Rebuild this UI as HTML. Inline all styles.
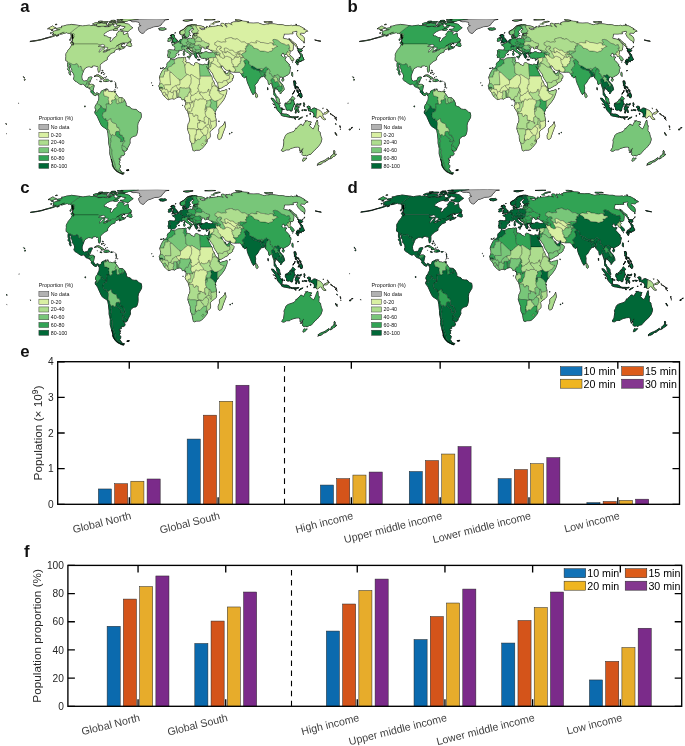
<!DOCTYPE html>
<html><head><meta charset="utf-8"><title>Figure</title>
<style>
html,body{margin:0;padding:0;background:#fff;}
svg{display:block;font-family:"Liberation Sans",sans-serif;}
</style></head><body>
<svg width="685" height="746" viewBox="0 0 685 746">
<rect width="685" height="746" fill="#fff"/>
<clipPath id="mclip"><rect x="-20" y="18.9" width="400" height="200"/></clipPath>
<g transform="translate(0,0)" clip-path="url(#mclip)" stroke="#000" stroke-width="0.26" stroke-linejoin="round">
<path d="M295.6,24.3 296.2,24.3 297.0,24.7 295.9,24.6ZM159.5,77.9 159.7,76.5 160.6,74.2 162.3,70.8 163.7,69.1 165.2,68.3 166.4,67.0 167.0,65.7 166.9,64.3 167.4,63.1 168.2,62.1 169.8,61.2 170.6,59.1 171.1,58.9 171.9,59.8 173.3,59.7 174.0,59.9 176.0,58.9 177.2,58.2 178.7,57.9 180.8,57.9 182.6,57.5 183.8,57.7 184.8,57.3 185.9,57.6 185.5,58.3 185.6,59.4 186.1,60.5 185.3,61.0 185.2,61.5 186.6,62.3 188.2,62.6 190.1,63.3 190.6,64.4 192.3,65.1 193.7,65.8 194.6,64.9 194.6,63.3 195.9,62.6 197.3,63.0 199.3,64.1 201.4,64.6 203.0,65.1 204.2,64.3 205.0,64.2 206.0,64.6 207.8,64.6 208.2,63.7 208.3,62.3 208.9,60.4 208.6,58.9 208.7,58.1 208.1,58.1 207.2,57.9 206.4,58.7 203.6,57.9 203.5,58.5 202.2,58.1 201.3,58.0 200.6,57.6 200.4,56.0 199.6,56.1 199.9,55.3 199.2,54.7 199.2,54.1 200.3,53.6 201.6,53.6 201.7,52.7 203.5,52.8 205.1,51.8 206.6,51.7 208.1,52.6 209.9,52.9 211.6,52.8 212.5,52.3 212.5,51.8 212.1,51.0 208.9,49.1 207.7,48.5 207.5,48.1 208.0,48.0 208.3,47.3 208.4,46.6 209.1,46.1 208.3,46.0 205.7,47.1 207.2,48.1 204.8,49.0 203.8,48.0 204.5,47.3 202.1,46.7 201.4,48.1 200.7,49.8 200.5,51.8 201.5,52.6 201.5,52.9 200.2,53.0 199.6,53.6 198.9,53.3 197.5,53.0 197.2,53.7 196.3,53.6 196.0,54.1 196.8,55.0 196.4,55.5 197.5,56.2 196.8,56.6 196.9,57.3 196.6,58.2 196.3,58.2 195.6,57.9 195.0,56.7 194.9,56.0 194.5,55.3 194.0,54.4 193.2,53.7 193.0,51.9 192.1,51.2 189.9,50.1 189.1,49.3 188.8,48.3 188.2,48.2 187.9,48.6 187.5,48.0 187.7,47.7 186.5,48.1 186.7,49.2 187.8,50.1 188.8,51.6 190.0,51.9 190.0,52.4 191.8,53.3 192.4,53.7 192.3,54.2 191.0,53.5 190.7,54.4 191.2,55.3 190.8,56.0 190.0,56.4 190.3,55.5 189.9,54.1 188.7,53.4 188.1,52.7 186.7,52.0 185.1,50.8 184.8,49.6 183.6,49.1 181.4,50.5 179.9,50.2 178.6,50.4 178.8,51.3 178.8,51.9 177.9,52.6 176.4,53.5 175.7,54.8 176.2,55.5 175.6,56.2 175.3,56.9 174.2,57.9 172.0,58.0 171.1,58.7 169.3,57.4 168.0,57.6 168.1,56.0 167.5,55.6 168.1,53.9 168.3,51.9 167.9,50.6 169.1,49.8 171.0,49.9 172.7,50.1 174.4,50.2 175.0,48.8 175.0,47.1 173.9,45.9 172.4,45.3 172.1,44.7 173.5,44.3 174.7,44.4 174.4,43.3 175.0,43.6 176.2,43.3 177.2,42.9 177.3,42.2 178.8,41.5 179.2,40.9 179.8,39.9 180.8,39.5 181.7,39.4 183.1,39.0 182.8,38.0 182.5,37.9 182.3,36.0 184.1,35.3 184.0,36.5 184.5,36.7 183.7,37.7 183.5,38.1 184.8,38.9 185.7,38.6 187.3,39.0 189.1,38.4 190.5,38.1 190.8,38.4 191.7,38.5 191.8,38.0 192.6,37.6 192.5,36.9 192.5,35.6 193.4,35.3 194.8,35.8 194.8,35.1 193.9,34.4 193.8,33.9 195.4,33.6 197.3,33.7 197.9,33.3 198.8,33.3 197.4,32.8 196.8,32.8 193.2,33.3 191.9,32.3 191.7,30.8 193.6,29.5 194.1,29.0 193.1,28.4 191.6,28.4 191.1,29.4 188.9,31.1 188.9,32.3 190.2,33.4 189.0,34.4 188.8,35.5 188.5,36.8 187.2,37.4 186.2,37.5 186.0,36.8 185.3,36.0 184.7,34.8 184.7,34.1 184.0,34.1 182.1,35.0 180.2,34.3 179.7,32.8 179.7,31.5 181.1,30.6 183.2,29.8 184.2,29.0 185.2,27.8 186.4,26.5 188.3,25.5 190.2,25.2 192.8,24.6 194.8,24.6 197.0,25.1 197.1,25.6 200.7,25.9 204.1,26.9 204.8,27.7 203.2,28.1 199.2,27.8 201.0,29.4 202.8,29.9 203.4,29.6 205.1,29.3 204.4,28.5 205.6,27.9 207.1,28.1 206.5,27.1 206.5,26.4 207.8,26.6 208.6,27.5 209.4,27.0 212.6,26.5 213.4,26.6 217.5,26.0 217.1,25.4 219.8,25.8 223.0,26.5 221.6,25.6 221.0,24.6 221.1,23.5 221.9,23.3 223.8,23.5 224.7,24.6 225.4,26.0 226.8,27.4 227.2,27.1 227.0,26.3 225.7,24.6 225.4,23.5 227.7,23.9 228.7,23.1 229.6,24.0 231.7,24.6 232.2,25.1 230.9,23.0 232.1,22.9 232.2,22.4 233.7,22.0 236.6,21.7 239.6,21.5 241.6,20.9 243.8,21.3 247.2,21.5 248.8,22.0 246.8,22.7 249.1,23.0 253.4,23.2 257.0,23.0 258.8,23.1 260.0,23.7 262.3,24.4 264.1,24.8 266.1,24.2 268.8,24.3 268.6,23.7 272.7,23.8 278.8,24.7 282.2,24.7 284.9,25.5 289.2,25.6 291.4,25.3 292.9,26.0 293.6,25.4 295.8,25.5 299.4,26.0 304.7,28.9 303.9,29.3 303.4,29.2 307.2,30.6 307.7,31.2 305.5,31.6 304.9,32.8 304.4,33.3 300.8,32.9 300.4,33.4 300.2,34.1 300.4,35.1 301.5,35.2 303.6,36.8 304.2,38.1 304.5,39.7 304.4,40.9 304.2,41.9 301.1,39.9 298.9,37.9 297.4,36.0 296.8,34.6 296.5,33.2 297.1,32.5 297.2,31.8 296.8,31.1 294.5,31.6 292.3,31.9 293.0,33.7 290.3,33.7 288.6,33.9 286.0,33.9 284.2,33.9 283.7,36.0 283.1,38.2 285.6,38.9 286.6,39.1 288.6,39.7 289.7,40.3 290.9,41.9 293.3,44.6 293.4,46.2 292.9,50.1 291.7,50.9 290.6,50.4 289.7,52.1 290.3,53.0 289.1,54.3 290.8,55.7 292.5,57.4 293.2,58.2 293.8,59.8 293.5,60.3 291.5,60.6 291.0,59.3 290.0,58.0 290.2,57.6 289.3,56.7 287.8,56.3 287.8,55.7 287.4,54.7 286.3,54.1 285.3,54.6 284.4,55.4 284.0,53.5 282.6,53.0 282.0,54.3 281.1,55.0 281.2,55.7 282.7,56.6 283.5,57.4 284.5,56.7 286.4,57.3 285.4,58.1 284.8,60.0 286.2,61.0 287.7,63.0 289.1,64.1 289.5,65.1 288.6,65.8 290.2,66.4 290.6,68.3 290.0,69.3 289.9,71.2 289.5,72.9 288.9,73.8 288.1,74.7 282.9,77.4 283.0,78.6 282.0,77.0 280.8,76.7 280.4,76.9 279.4,78.4 279.0,80.3 279.9,81.6 280.9,82.9 282.3,84.1 283.3,86.2 284.0,88.2 284.1,89.8 282.9,91.0 282.0,91.6 280.8,93.5 280.3,94.0 280.1,92.4 279.6,91.6 278.7,91.4 278.6,90.7 278.0,90.4 277.9,90.0 277.2,89.2 275.7,88.7 275.6,87.6 274.7,87.6 274.9,89.5 274.4,91.6 274.7,93.1 275.5,94.0 276.0,95.5 276.6,96.3 277.8,97.2 279.2,99.1 279.3,100.9 280.2,103.7 280.0,103.9 279.5,103.8 277.2,101.7 276.5,100.2 275.8,96.9 274.9,95.9 273.9,95.1 273.8,94.4 273.8,92.2 273.6,89.8 272.2,85.5 271.7,83.5 270.9,83.0 269.5,84.5 268.5,84.2 268.0,80.9 266.9,79.6 265.4,78.0 264.2,75.8 263.3,75.8 263.2,76.5 262.1,76.7 260.3,76.9 260.2,77.9 258.7,79.7 257.6,81.8 256.6,83.4 254.7,85.1 255.3,87.9 255.1,89.5 255.2,91.8 254.7,93.1 253.7,93.6 253.1,94.7 251.6,92.2 250.0,88.4 249.2,86.2 247.9,83.5 246.9,80.3 246.5,77.6 246.0,76.0 245.7,77.3 244.3,77.9 242.5,76.1 243.0,75.7 242.4,76.0 241.4,74.2 240.2,72.7 239.5,72.1 237.0,72.1 234.8,72.2 230.6,71.6 229.9,69.8 229.1,70.2 227.7,70.4 226.2,69.9 224.6,68.8 223.7,67.3 222.7,65.9 221.7,65.5 221.5,66.3 220.9,66.2 221.4,66.8 221.6,68.0 222.3,69.2 223.4,70.3 223.8,71.7 224.6,72.8 224.4,71.8 224.7,71.0 225.1,71.5 225.4,73.5 228.0,73.4 228.4,72.0 229.3,71.1 229.6,70.7 229.9,72.6 230.6,73.8 232.2,74.3 233.6,75.7 233.1,78.3 232.0,78.6 232.3,80.3 231.1,81.6 229.8,82.2 228.0,83.3 227.3,84.7 224.7,85.9 223.3,86.8 220.5,88.4 219.0,88.6 218.2,85.8 218.0,83.7 213.8,77.0 212.9,74.0 210.9,71.5 209.2,68.7 208.6,68.6 208.8,66.8 208.5,68.7 208.4,69.0 207.7,68.4 206.5,66.2 206.6,66.8 207.6,68.9 208.3,70.6 210.0,73.8 210.4,74.8 211.6,76.3 212.0,77.6 212.3,79.6 213.7,81.6 214.8,84.7 215.9,85.8 216.6,86.2 218.6,88.6 218.9,89.5 218.3,90.0 218.8,90.2 219.7,91.6 220.6,91.5 222.6,90.7 224.5,90.4 226.3,89.5 226.8,89.8 226.7,91.6 226.5,92.8 224.9,97.3 223.6,99.8 221.3,102.9 218.6,105.9 217.5,107.9 216.2,109.2 215.7,111.0 215.1,111.9 214.7,113.7 215.4,114.7 215.1,115.7 215.6,117.7 216.1,119.7 216.0,122.5 216.2,124.8 215.9,126.3 214.2,128.1 212.0,129.5 209.7,132.0 209.9,132.9 210.2,135.1 210.0,137.4 208.0,139.0 207.0,139.9 207.2,141.1 206.5,143.2 204.5,145.7 202.9,147.5 201.3,149.1 199.6,150.0 198.0,150.1 196.2,150.1 194.3,150.9 192.9,150.4 192.9,149.8 192.5,148.4 191.9,145.0 191.5,143.3 190.2,140.6 189.9,137.4 190.0,135.8 189.0,133.4 187.5,128.7 187.6,127.8 187.9,125.7 188.3,123.7 189.2,122.4 189.7,120.0 189.3,117.4 188.8,115.4 188.4,113.7 188.2,113.4 188.0,112.3 187.8,111.8 185.6,108.8 184.8,106.5 185.6,104.3 185.8,102.6 185.5,100.3 184.5,99.4 182.0,99.8 181.5,98.6 180.5,97.1 178.7,97.0 177.2,97.4 176.0,97.9 174.0,99.2 172.9,98.7 171.0,98.7 168.5,99.7 167.0,98.9 165.2,97.1 164.5,96.2 163.6,95.6 162.9,94.3 162.8,93.4 161.0,90.9 160.2,90.0 159.5,89.0 159.4,87.4 158.8,85.9 159.8,84.1 160.3,81.6 160.0,79.7ZM215.2,114.2 215.1,113.4 215.5,114.1ZM351.0,128.1 352.5,127.4 352.2,127.9ZM349.3,129.1 350.6,129.0 350.2,129.9 349.1,129.9ZM329.8,159.0 329.6,158.6 331.2,157.1 330.7,156.3 331.9,155.7 333.4,153.9 333.8,152.7 333.7,151.4 334.1,150.4 334.8,151.5 334.7,153.1 334.2,154.3 336.0,154.3 336.4,154.4 334.4,156.2 333.4,156.5 332.3,157.7ZM320.6,41.1 320.9,41.3 317.8,40.8 315.1,40.2 314.7,39.9 317.5,40.5ZM318.6,164.6 317.5,164.1 318.1,163.5 320.8,161.9 323.1,161.1 325.4,159.9 327.7,158.2 328.6,157.7 328.8,159.1 327.5,160.0 325.7,161.1 325.5,161.6 323.5,162.0 321.4,163.8 319.6,164.6ZM340.4,129.1 340.7,129.2 340.4,129.5ZM317.4,165.3 317.7,164.8 318.1,164.9ZM340.1,127.8 340.1,127.3 340.5,127.7ZM339.9,126.9 339.9,125.7 340.3,126.3ZM336.3,135.2 335.2,133.2 335.2,132.4 336.7,134.7 336.9,135.4ZM336.0,119.4 336.9,120.1 336.3,119.8ZM335.9,116.9 336.2,118.4 335.9,118.1ZM334.7,118.2 335.3,118.2 335.6,118.9ZM333.6,115.7 335.0,116.9 334.5,116.9ZM332.0,114.6 332.9,115.6 332.4,115.4ZM303.8,43.0 304.0,42.2 304.3,43.0ZM330.4,113.0 331.4,114.7 330.7,114.5ZM301.4,151.4 303.0,149.0 303.3,148.2 300.2,150.9 299.8,151.1 299.6,147.6 297.9,146.9 295.7,147.1 292.6,147.9 290.3,148.7 289.3,149.8 286.1,149.8 283.7,151.2 281.9,151.1 281.4,150.4 283.2,147.5 284.0,141.9 283.6,140.1 284.6,138.1 285.5,135.6 286.2,134.6 287.8,133.6 291.6,132.3 293.6,131.7 295.3,129.6 295.7,128.3 296.8,128.7 297.3,127.3 298.9,126.1 300.2,124.4 301.7,124.4 302.2,125.4 303.4,125.6 304.1,123.7 305.0,122.2 307.3,120.6 308.1,121.4 311.3,122.0 310.2,123.7 309.3,125.7 310.5,126.7 311.7,128.1 313.3,129.1 314.4,127.0 315.5,124.4 316.1,122.4 317.3,120.0 317.8,122.8 317.6,124.9 318.9,125.7 318.5,127.7 318.4,130.8 320.1,132.5 320.3,134.2 320.9,136.5 321.7,138.5 321.7,140.0 320.6,143.3 318.4,146.3 316.8,148.1 314.9,149.7 311.9,153.0 310.9,154.2 308.8,154.6 306.5,156.1 305.8,155.1 304.1,155.7 302.6,155.2 302.0,154.2 302.7,152.1 302.0,151.9 302.2,150.6ZM328.6,112.1 327.8,110.6 326.6,109.1 327.1,109.2 328.8,111.5ZM325.7,112.5 327.3,111.3 328.1,111.4 327.5,113.0 325.9,113.9 324.1,113.9 324.0,113.1ZM303.6,47.3 304.2,46.0 304.2,47.0ZM316.1,117.8 315.1,116.5 313.3,116.9 314.1,115.3 313.7,113.0 311.8,111.8 309.8,110.9 308.8,111.1 308.7,110.0 307.9,109.4 309.6,108.6 308.0,108.3 307.0,107.4 307.0,106.7 308.5,106.1 310.0,106.7 310.2,109.0 311.2,110.0 312.9,108.4 314.5,108.0 316.9,109.1 318.4,109.9 320.3,110.7 323.3,114.6 322.5,114.7 322.8,116.2 323.6,117.7 325.7,119.3 324.6,119.7 322.7,119.0 322.0,118.1 321.3,116.6 319.9,115.8 318.8,116.6 317.6,118.0ZM272.5,22.1 268.8,22.2 268.0,22.9 264.3,22.2 264.1,21.7 271.1,21.7ZM301.6,49.0 302.8,47.8 302.3,48.8ZM303.7,157.9 304.9,158.4 306.8,158.0 305.6,159.6 304.0,160.8 303.1,161.2 302.5,161.0 302.9,159.6ZM322.9,108.7 322.5,108.3 323.3,108.3ZM298.9,52.4 297.8,50.4 298.6,50.3 297.1,48.0 299.0,49.0 301.1,49.2 302.3,50.4 301.4,51.8 299.4,51.2 298.6,51.6ZM293.1,43.0 290.9,40.9 288.9,38.6 290.7,39.6 292.2,40.9 294.1,43.0 296.1,44.0 296.3,45.7 297.8,47.0 296.8,47.3ZM296.1,61.2 296.5,60.1 297.1,59.3 299.2,59.3 299.4,58.8 299.2,57.3 300.0,57.9 300.6,57.0 300.8,55.8 300.1,54.1 299.3,52.7 300.1,52.5 301.0,53.5 302.2,54.7 302.3,56.1 303.2,57.6 303.6,58.8 304.1,59.2 303.7,60.0 302.9,60.5 302.4,60.4 301.3,60.5 301.4,60.9 300.9,61.8 299.1,60.4 297.8,60.9 297.3,61.4ZM296.2,61.4 297.7,62.5 298.1,64.4 297.7,64.9 297.0,64.6 296.3,63.1 295.4,62.1ZM301.4,152.1 300.7,152.5 300.0,152.4 300.2,152.0ZM310.6,124.8 310.5,124.1 310.9,124.4ZM309.9,113.4 310.5,113.1 310.2,114.6ZM299.7,61.5 298.7,62.7 297.8,62.1 297.5,61.6 298.9,60.9ZM306.9,116.4 306.5,115.7 307.2,115.3ZM305.0,120.9 306.1,120.8 305.5,121.4ZM306.7,109.9 306.2,110.7 304.0,110.3 303.9,109.6ZM303.9,102.6 304.7,104.3 304.0,105.6 304.3,106.7 303.7,106.0 303.8,104.5 303.5,103.2ZM297.4,71.1 297.7,70.2 297.7,71.0ZM300.3,117.7 302.6,116.9 302.1,117.6 300.3,118.4 299.5,119.3 298.5,119.4 299.6,118.1ZM302.9,109.9 302.9,110.7 301.9,110.6 301.9,109.9ZM292.6,62.2 292.2,62.1 292.7,61.8ZM300.7,97.5 299.6,96.9 299.7,95.6 298.8,95.5 297.6,96.2 298.8,94.0 300.1,93.5 300.6,92.4 301.7,94.2 302.1,96.5 301.1,98.1ZM300.5,90.6 300.3,92.0 299.4,90.8 298.9,88.8ZM299.0,104.9 297.0,105.1 296.2,106.8 299.3,106.8 298.8,107.8 297.7,108.2 299.0,111.4 298.7,112.9 297.8,111.9 296.9,109.2 296.3,109.5 296.1,113.1 295.2,113.0 295.7,110.3 294.7,109.4 295.3,106.9 295.8,105.3 296.8,103.8 299.0,104.3 301.0,103.4 300.5,105.1ZM297.4,87.9 296.2,87.2 295.1,87.1 294.8,86.2 294.0,85.5 294.1,84.2 293.6,80.9 295.2,80.9 295.9,83.5 295.4,84.6 295.9,86.6 297.0,86.6 298.3,87.1 298.4,88.3ZM298.5,91.5 298.4,93.4 297.6,92.6 297.5,91.2 296.9,91.5 296.8,89.8 297.9,90.2ZM290.4,116.5 292.1,116.8 294.4,116.8 296.4,116.9 298.4,116.6 298.1,117.3 295.3,117.6 292.3,117.7 290.5,117.4ZM292.6,76.5 291.5,75.1 291.6,73.1 291.9,72.1 292.5,72.5 292.7,74.4ZM294.8,87.6 296.0,87.9 295.9,89.2 295.4,88.7ZM294.2,118.2 295.9,118.9 295.1,119.4ZM292.6,94.3 292.8,93.5 294.1,91.6 294.6,90.4 294.5,91.4ZM285.6,102.9 287.2,103.6 287.3,102.1 288.9,101.3 289.8,99.4 291.0,98.9 292.4,96.2 293.3,97.0 295.0,98.6 294.0,99.8 293.4,100.0 293.7,100.9 294.0,102.6 295.0,104.3 293.8,104.5 293.5,106.7 292.5,107.8 292.2,110.0 291.9,111.0 290.5,111.1 290.4,110.2 288.9,109.9 287.6,110.3 286.1,109.6 286.2,107.9 285.0,105.9 285.0,103.8ZM285.5,116.4 283.5,116.1 282.0,115.6 280.8,114.7 282.2,113.7 284.0,114.1 286.5,114.2 288.3,114.9 289.9,116.0 289.8,117.3ZM283.8,79.1 283.7,80.6 282.9,81.3 282.0,80.8 281.8,80.0 282.3,78.9ZM283.9,109.9 283.5,109.1 284.2,109.2ZM278.2,111.0 276.9,109.2 276.3,106.9 275.0,105.2 274.7,103.3 271.9,99.8 271.1,98.1 273.3,98.6 274.2,99.8 275.9,101.7 276.4,102.5 277.5,102.9 279.8,105.6 279.5,106.9 281.9,109.6 281.3,107.9 282.2,107.9 282.6,109.6 281.9,109.6 281.5,113.4 280.3,113.5 280.1,113.0ZM238.6,20.7 235.7,20.3 235.0,19.7 237.3,19.6 241.6,20.5ZM274.6,106.9 275.3,108.0 274.9,108.0ZM273.0,103.7 273.5,104.3 273.9,104.8ZM267.5,87.5 267.8,87.8 267.9,90.0 267.6,89.8ZM255.4,93.8 255.3,92.6 255.6,92.4 256.8,94.0 257.6,95.8 257.5,97.0 256.4,97.7 255.8,97.1 255.5,95.5ZM213.4,23.7 212.7,23.6 213.1,22.8 214.5,22.0 217.8,21.3 219.9,21.5 217.7,22.0 214.5,22.9ZM204.3,19.8 206.6,19.6 211.3,19.3 215.2,19.6 212.9,19.8 208.1,20.0ZM231.6,132.3 232.1,132.3 232.0,132.9 231.6,132.9ZM229.5,133.4 230.0,133.4 230.0,134.1 229.4,134.1ZM228.8,88.7 229.9,88.7 229.4,89.1ZM219.1,132.3 219.0,129.0 220.7,126.9 221.8,126.3 223.2,125.2 224.2,123.4 224.8,121.7 225.6,126.2 224.8,128.1 223.0,132.9 221.1,138.5 219.1,139.4 218.0,138.6 217.8,135.1ZM209.9,26.1 209.3,26.0 210.2,25.8ZM218.8,120.9 219.1,120.9 219.1,121.6 218.8,121.6ZM207.0,60.0 206.2,60.5 205.5,60.0 206.0,59.5 207.4,59.2ZM184.2,20.8 182.9,20.5 185.3,20.0 188.9,19.9 192.7,19.9 187.4,21.2 185.5,21.2ZM199.9,60.0 197.9,60.0 197.4,59.7 198.3,59.3 200.0,59.7ZM192.9,34.8 193.6,34.5 193.4,35.1ZM190.5,35.7 190.1,35.9 190.6,35.1ZM189.6,58.0 187.2,56.9 187.2,56.6 190.0,56.1ZM188.9,58.8 189.3,58.9 189.2,59.1ZM185.9,37.5 185.5,38.0 184.7,37.6 184.9,37.0 185.8,36.8ZM183.5,55.3 183.2,53.0 184.1,52.7 184.6,53.2 184.6,55.0ZM184.1,52.5 183.5,51.9 183.5,51.3 184.2,50.6 184.3,51.8ZM184.7,101.2 184.5,100.6 184.9,100.6ZM182.5,105.1 182.8,105.1 182.6,105.6ZM178.0,54.6 178.8,54.1 179.0,54.8 178.6,54.9ZM172.2,37.7 171.7,36.8 171.5,35.5 172.2,34.5 173.7,34.5 173.5,35.3 174.5,35.4 174.3,36.8 174.8,37.7 175.8,38.7 176.2,39.9 177.4,40.2 177.1,41.7 175.2,42.3 173.1,42.7 171.3,42.9 172.5,41.8 173.4,41.5 171.8,41.1 172.6,40.4 172.4,39.6 173.6,39.1 173.2,38.0 172.0,38.1ZM175.3,32.5 175.1,33.3 174.9,33.2ZM169.4,37.8 171.4,37.7 171.6,38.5 171.1,38.8 171.2,39.6 170.9,40.7 169.1,41.3 167.9,41.3 167.6,40.8 168.3,40.3 168.5,39.8 168.1,39.5 168.0,38.7 169.3,38.3ZM171.2,35.7 170.2,35.8 171.3,34.6ZM164.0,21.2 163.4,22.2 161.5,23.7 161.1,25.0 158.1,26.3 153.8,26.7 149.7,28.4 147.4,29.0 145.0,31.5 143.2,33.2 142.1,33.3 140.2,32.3 138.9,30.2 138.3,27.8 139.5,26.3 141.2,25.6 139.2,25.0 139.6,23.7 138.8,22.0 135.8,21.6 132.6,21.7 131.2,21.1 130.4,20.5 134.1,19.9 139.5,19.2 148.8,19.0 156.7,18.8 168.7,19.4 164.9,19.9ZM163.3,67.2 163.4,67.5 162.7,68.6 162.6,67.9ZM160.8,30.0 159.6,29.9 160.2,29.4 158.8,29.1 158.6,28.6 160.5,27.9 163.3,28.1 164.7,27.8 165.7,28.6 166.3,29.0 165.2,29.6 162.5,30.3ZM161.4,69.0 161.1,68.6 161.5,68.6ZM160.5,68.7 160.1,68.3 160.8,67.9ZM152.9,85.6 152.4,85.5 153.0,85.2ZM151.5,83.1 151.2,82.9 151.6,82.7ZM61.1,26.4 63.4,26.1 66.3,25.2 69.7,24.8 71.2,24.4 79.9,25.6 82.6,26.1 85.3,25.6 89.3,25.2 90.6,25.7 93.7,25.4 96.2,25.9 97.0,25.0 96.5,24.3 98.2,23.5 101.3,23.1 103.5,23.5 106.9,23.4 105.9,24.3 107.5,25.3 106.0,26.0 98.1,26.3 97.1,26.1 97.5,26.9 100.4,26.8 101.6,26.3 103.6,26.3 105.1,26.9 107.9,26.9 109.6,26.6 110.1,26.2 109.8,26.3 107.8,26.0 109.8,25.3 110.7,25.8 113.4,24.1 113.6,25.0 113.6,25.6 113.9,26.3 114.7,27.1 116.1,27.1 117.7,26.0 120.2,25.5 119.9,26.3 118.6,27.4 116.7,28.0 114.9,28.0 114.5,29.0 112.4,29.8 110.2,30.2 107.3,31.5 104.8,33.2 103.8,34.3 104.3,36.0 106.2,36.0 107.5,36.9 109.0,37.6 111.0,37.8 109.9,39.9 110.0,41.4 111.1,41.6 112.6,39.9 113.3,38.4 115.7,36.9 117.2,35.1 116.3,34.1 118.2,32.3 118.7,31.1 120.8,31.2 123.8,32.3 123.1,34.1 123.9,34.8 125.8,34.1 127.6,32.9 128.0,35.1 128.2,36.9 130.0,38.4 131.0,39.9 130.8,40.9 129.6,41.4 127.5,42.7 122.5,42.8 120.5,43.5 117.8,45.1 116.2,46.1 117.6,45.5 120.2,44.2 122.5,44.2 121.1,45.1 121.3,46.2 121.6,47.1 121.6,46.3 123.4,46.7 122.7,47.4 123.6,47.6 125.3,46.4 125.0,47.3 123.8,48.2 121.4,49.0 119.1,50.1 119.1,49.0 120.9,48.0 118.6,48.3 118.5,48.7 115.5,49.8 114.4,51.0 114.7,52.0 110.7,53.4 110.0,54.7 108.5,55.8 107.6,57.5 107.1,57.7 107.2,59.7 103.9,61.5 100.6,64.3 100.0,65.5 100.1,68.4 99.8,71.2 99.2,72.2 98.5,72.2 97.9,68.9 98.2,67.4 97.4,66.2 96.1,66.5 95.2,65.7 92.4,65.9 92.2,67.3 91.0,67.2 89.8,66.7 87.9,66.7 84.5,68.7 83.4,71.2 82.4,73.8 81.7,76.0 81.8,77.9 82.3,79.9 84.0,81.3 85.8,80.8 86.8,80.9 88.1,79.2 88.5,77.6 90.5,77.0 91.9,77.0 91.9,77.9 90.9,79.6 90.3,81.2 90.0,80.9 89.9,82.2 89.1,83.9 88.7,84.3 89.4,84.6 91.6,84.3 93.0,84.5 94.2,85.5 93.0,90.8 94.0,92.7 95.5,93.8 96.9,92.7 99.0,93.9 99.6,94.0 100.9,92.8 101.3,91.1 104.2,89.8 105.5,89.0 105.4,89.8 105.0,91.0 105.3,91.5 106.5,90.3 106.8,89.2 107.9,90.3 108.4,91.4 110.5,91.4 112.0,91.9 113.7,91.2 114.6,91.2 114.0,92.2 115.4,92.8 117.7,96.2 119.0,97.5 122.1,97.8 123.2,98.5 124.4,99.9 126.0,103.2 126.0,105.6 128.0,106.5 130.0,107.1 131.5,109.0 134.0,109.4 136.0,109.4 137.5,110.6 139.1,112.2 140.8,112.6 141.3,115.3 141.1,117.7 138.0,123.0 137.6,125.7 137.7,129.4 137.4,131.9 136.5,134.9 135.6,136.0 134.5,136.1 133.1,136.5 131.5,137.4 130.2,139.1 129.9,140.9 130.1,143.0 129.2,144.9 127.6,147.9 127.0,149.7 125.9,151.1 124.7,151.1 123.0,150.4 122.4,149.8 122.5,150.4 123.9,151.5 124.3,152.6 124.7,153.1 124.4,154.8 123.3,155.6 120.7,155.8 121.0,157.7 118.8,158.3 119.3,160.0 120.5,160.0 119.4,161.1 119.9,162.8 118.6,163.9 120.5,165.5 120.1,167.7 119.3,168.7 120.7,170.7 120.7,170.9 122.2,172.3 124.3,173.0 123.5,173.3 122.0,173.2 123.2,173.6 123.3,174.3 121.3,173.8 119.3,172.8 117.0,171.6 114.9,169.8 113.2,167.2 112.2,165.0 112.6,163.4 112.1,161.1 111.3,159.4 110.7,157.1 109.8,153.8 109.8,151.8 109.9,148.7 109.2,145.4 108.7,143.2 108.7,140.0 108.0,133.6 107.3,130.1 106.1,128.7 102.1,126.2 100.8,124.2 97.4,116.6 96.4,114.9 95.1,113.7 94.8,111.9 95.8,110.2 96.1,109.0 95.1,108.6 95.1,106.9 96.1,104.4 97.2,103.6 97.5,102.1 98.6,100.2 98.9,98.1 98.9,96.2 98.4,95.9 97.9,94.4 96.7,93.9 96.0,95.6 94.6,95.5 92.7,94.2 91.9,92.8 90.8,92.2 91.1,90.7 89.4,88.3 89.7,88.2 89.4,87.8 88.6,88.0 87.1,87.2 85.9,87.0 83.7,84.2 82.8,83.9 81.2,84.6 79.4,83.8 76.4,81.6 75.0,81.0 73.9,79.6 73.5,78.4 74.2,77.0 74.1,75.1 73.2,73.1 71.8,71.6 72.1,70.3 71.6,68.8 70.6,67.4 70.8,64.9 69.5,63.9 69.0,65.5 69.4,67.4 69.6,69.3 70.1,71.2 70.4,73.5 70.8,74.8 70.0,75.1 68.9,72.9 69.2,71.2 68.0,69.9 67.4,68.9 68.5,68.0 67.7,66.4 67.6,64.3 67.9,62.5 67.3,61.2 65.8,60.6 65.8,58.1 66.0,56.7 65.9,54.7 66.1,53.6 67.3,51.8 67.8,50.6 70.7,47.1 71.8,44.7 72.8,44.8 71.5,44.3 70.6,43.0 70.9,42.2 72.3,42.7 73.2,44.2 72.9,44.9 72.9,45.7 73.9,44.0 73.5,44.0 73.7,42.5 71.7,41.9 72.6,40.4 72.6,38.6 73.2,37.9 72.3,38.1 70.9,37.9 71.2,36.5 71.1,35.1 71.0,34.1 70.2,33.5 69.0,33.2 67.5,33.2 66.9,32.5 62.2,33.9 60.4,34.1 62.4,32.8 64.2,32.2 62.4,32.5 59.8,33.7 57.9,34.6 55.0,35.7 52.3,36.7 49.1,37.6 47.0,38.1 45.2,38.4 51.3,36.5 54.2,35.4 56.1,34.3 54.7,34.4 52.4,34.4 54.0,33.2 52.7,32.8 52.9,31.8 55.2,30.8 56.4,30.5 59.1,30.1 60.2,29.4 58.7,29.4 56.5,29.2 56.5,28.5 58.7,28.1 60.8,27.8 61.5,28.1 61.7,27.3 61.5,26.6ZM45.3,38.3 44.7,38.7 40.9,39.9 36.7,40.7 32.7,41.3 29.9,41.6 30.3,41.3 37.2,40.3 41.5,39.4ZM114.6,91.2 115.6,91.1 115.5,92.0 114.6,92.0ZM131.1,46.5 129.1,46.3 128.0,45.7 126.2,45.4 127.6,44.0 129.3,42.2 130.8,41.3 130.1,43.0 131.3,43.5 131.3,44.6 131.7,45.5ZM127.9,170.6 126.6,170.5 126.4,170.1 128.7,169.7 129.0,170.1ZM117.2,88.2 117.1,87.8 117.4,87.8ZM115.8,85.6 116.2,85.8 116.0,86.3 115.8,86.2ZM115.8,86.8 116.0,86.8 115.9,87.2ZM115.6,88.0 115.5,87.6 115.7,87.6ZM115.7,85.2 115.6,84.7 115.9,84.7ZM115.4,83.7 116.0,83.7 115.8,84.3 115.3,84.2ZM119.9,29.4 122.9,29.2 124.3,28.2 125.4,26.7 121.8,26.0 120.4,25.3 118.3,25.3 116.6,25.0 116.2,24.0 117.8,23.1 120.5,22.9 123.8,23.0 126.4,23.7 128.6,24.3 129.9,25.3 131.4,27.1 132.8,27.7 129.5,30.2 127.9,31.6 123.3,30.8 121.5,30.2ZM122.8,43.1 124.7,43.9 123.3,43.7ZM114.9,89.2 115.1,89.2 114.9,89.5ZM115.6,82.9 115.4,82.6 115.6,82.6ZM123.1,19.7 120.4,19.4 122.6,19.2 127.6,19.0 133.7,18.9 138.4,19.1 136.3,19.5 132.5,20.0 128.5,20.5 126.6,21.3 124.4,21.6 122.5,21.0 121.2,20.6 120.9,20.7 118.2,20.3 116.8,19.9 119.1,19.5 121.9,19.7 122.3,20.0ZM114.4,81.4 114.5,81.4 114.5,81.6ZM112.9,81.2 112.7,81.0 113.0,81.0ZM110.5,80.9 112.0,81.0 111.8,81.6 110.4,81.6ZM105.9,81.6 103.4,81.2 103.5,80.8 104.9,79.1 106.3,79.3 108.1,79.3 109.3,80.8ZM107.7,89.2 108.0,89.2 107.9,89.5ZM106.7,88.7 106.9,88.8 106.9,89.0ZM106.5,76.5 107.0,76.6 106.7,76.9ZM105.2,77.8 104.7,77.5 105.4,77.3ZM94.0,76.5 96.2,75.1 98.6,74.9 103.3,78.0 104.0,78.7 100.5,79.1 101.3,78.3 99.6,77.0 97.0,75.8ZM104.7,73.9 104.6,73.6 104.8,73.6ZM103.7,74.3 104.1,74.9 103.9,74.9ZM103.2,72.1 103.3,72.9 103.2,72.9ZM99.6,81.0 101.5,81.3 101.5,81.8 99.6,81.5ZM102.9,70.6 102.6,71.2 102.0,70.4 102.2,70.2ZM101.3,72.7 101.8,72.4 101.7,73.5 101.2,73.4ZM117.6,21.4 124.8,21.9 124.2,22.5 119.0,22.5 117.0,22.0ZM115.3,28.4 117.0,28.4 118.1,29.4 117.1,30.2 114.7,30.5 113.0,30.0 114.3,29.2ZM96.8,79.7 97.1,79.9 96.9,79.9ZM116.7,23.2 114.2,24.0 112.5,24.0 113.7,22.9 116.2,22.7ZM84.5,106.0 85.2,105.9 85.2,106.9 84.6,106.9ZM112.6,21.4 116.3,21.5 115.4,22.2 112.8,22.2 109.1,22.1 109.7,21.6ZM112.5,23.4 111.1,24.4 107.9,24.3 109.3,23.1 111.5,22.8ZM115.4,20.5 113.6,21.0 110.7,20.9 111.1,20.5 113.8,20.3ZM108.3,21.7 107.7,22.2 103.4,22.6 100.7,22.1 102.1,21.6 106.1,21.5ZM102.5,21.3 100.4,21.9 98.1,21.7 98.6,21.4 100.9,21.1ZM92.6,24.0 94.5,23.1 96.2,22.6 100.6,22.7 98.1,23.4 95.9,24.2 93.5,24.6ZM70.1,38.8 71.0,38.9 70.0,40.6 69.6,39.9ZM30.1,129.5 29.7,129.0 30.2,129.1ZM59.1,34.9 58.7,35.5 56.5,36.2 56.5,35.7ZM25.4,79.6 24.4,80.4 24.2,80.0 24.5,79.1ZM24.6,78.0 23.5,77.3 23.1,76.9 23.4,76.7 24.5,77.6ZM18.7,103.3 18.5,103.2 18.8,103.0ZM50.1,33.1 51.0,32.8 51.6,32.9 50.9,33.4ZM51.0,30.3 51.7,30.0 53.0,30.0 52.9,30.5ZM50.0,28.6 47.6,28.8 52.5,26.0 53.6,26.6 53.9,27.2 55.9,27.6 55.9,28.1 53.9,28.6 51.8,29.5 49.9,29.3ZM5.6,123.7 6.1,123.7 6.9,124.2 6.5,124.4ZM6.7,133.9 6.4,133.7 6.6,133.7ZM55.0,24.7 55.8,24.3 56.9,24.2 56.9,24.6Z" fill="none" stroke="#000" stroke-width="0.75"/>
<path d="M79.9,25.6 82.6,26.1 85.3,25.6 89.3,25.2 90.6,25.7 93.7,25.4 97.0,26.1 97.5,26.9 100.4,26.8 101.6,26.3 103.6,26.3 105.1,26.9 107.9,26.9 109.6,26.6 110.9,25.6 113.4,24.1 113.6,25.0 113.6,25.6 113.9,26.3 114.7,27.1 116.1,27.1 117.7,26.0 120.2,25.5 119.9,26.3 118.6,27.4 116.7,28.0 114.9,28.0 114.5,29.0 112.4,29.8 110.2,30.2 107.3,31.5 104.8,33.2 103.8,34.3 104.3,36.0 106.2,36.0 107.5,36.9 109.0,37.6 111.0,37.8 109.9,39.9 110.0,41.4 111.1,41.6 112.6,39.9 113.3,38.4 115.7,36.9 117.2,35.1 116.3,34.1 118.2,32.3 118.7,31.1 120.8,31.2 122.6,31.9 123.8,32.3 123.1,34.1 123.9,34.8 125.8,34.1 127.6,32.9 128.0,35.1 128.2,36.9 130.0,38.4 131.0,39.9 130.8,40.9 129.6,41.4 127.5,42.7 124.9,42.8 122.5,42.8 120.5,43.5 117.8,45.1 116.0,46.3 117.6,45.5 120.2,44.2 122.5,44.2 121.1,45.1 121.3,46.2 121.6,47.1 123.6,47.6 125.3,46.4 125.0,47.3 123.8,48.2 121.4,49.0 119.1,50.1 119.1,49.0 120.9,48.0 118.6,48.3 118.8,46.1 117.7,45.8 115.8,47.7 114.7,48.4 112.0,48.4 110.2,49.3 107.5,50.2 107.3,50.9 103.8,51.8 103.5,51.4 104.4,50.6 105.4,48.1 104.9,47.2 104.3,46.7 102.1,44.8 100.9,45.1 99.9,44.9 97.3,44.0 96.8,44.0 73.5,44.0 73.7,42.5 71.7,41.9 72.6,40.4 72.6,38.6 73.9,37.1 74.2,36.9 73.6,36.0 74.2,34.3 73.6,33.5 71.4,34.1 71.4,33.1 70.1,33.0 75.0,29.0 77.5,27.2ZM127.9,31.6 129.5,30.2 132.8,27.7 131.4,27.1 129.9,25.3 128.6,24.3 126.4,23.7 123.8,23.0 120.5,22.9 117.8,23.1 116.2,24.0 116.6,25.0 118.3,25.3 120.4,25.3 121.8,26.0 123.6,26.3 125.4,26.7 124.3,28.2 122.9,29.2 119.9,29.4 121.5,30.2 123.3,30.8 125.9,31.3ZM96.3,25.9 98.1,26.3 101.7,26.2 106.0,26.0 107.5,25.3 105.9,24.3 106.9,23.4 103.5,23.5 101.3,23.1 98.2,23.5 96.5,24.3 97.0,25.0ZM92.6,24.0 93.5,24.6 95.9,24.2 98.1,23.4 100.6,22.7 98.8,22.6 96.2,22.6 94.5,23.1ZM124.4,21.6 126.6,21.3 128.5,20.5 131.4,20.1 136.3,19.5 138.4,19.1 133.7,18.9 127.6,19.0 122.6,19.2 120.4,19.4 123.1,19.7 121.0,20.5 122.5,21.0ZM124.2,22.5 119.0,22.5 117.0,22.0 117.6,21.4 120.0,21.5 124.8,21.9ZM120.9,20.7 118.2,20.3 116.8,19.9 119.1,19.5 121.9,19.7 122.6,20.2ZM100.7,22.1 103.4,22.6 107.7,22.2 108.3,21.7 106.1,21.5 102.1,21.6ZM109.1,22.1 112.8,22.2 115.4,22.2 116.3,21.5 112.6,21.4 109.7,21.6ZM107.9,24.3 111.1,24.4 112.5,23.4 111.5,22.8 109.3,23.1ZM112.5,24.0 114.2,24.0 116.7,23.2 116.2,22.7 113.7,22.9ZM107.8,26.0 109.8,26.3 110.7,25.8 109.8,25.3ZM113.0,30.0 114.7,30.5 117.1,30.2 118.1,29.4 117.0,28.4 115.3,28.4 114.3,29.2ZM98.1,21.7 100.4,21.9 102.5,21.3 100.9,21.1 98.6,21.4ZM110.7,20.9 113.6,21.0 115.4,20.5 113.8,20.3 111.1,20.5ZM126.2,45.4 128.0,45.7 129.1,46.3 131.1,46.5 131.7,45.5 131.3,44.6 131.3,43.5 130.1,43.0 130.8,41.3 129.3,42.2 127.6,44.0 126.2,45.4ZM70.9,42.2 72.3,42.7 73.2,44.2 72.9,44.8 71.5,44.3 70.6,43.0ZM70.1,38.8 71.0,38.9 70.0,40.6 69.6,39.9ZM122.8,43.1 124.7,43.9 123.3,43.7ZM121.6,46.3 123.4,46.7 122.8,47.3 121.7,47.0Z" fill="#addd8e"/>
<path d="M73.5,44.0 96.8,44.0 97.3,44.0 99.9,44.9 100.9,45.1 102.1,44.8 104.3,46.7 104.9,47.2 105.4,48.1 104.4,50.6 103.5,51.4 103.8,51.8 107.3,50.9 107.5,50.2 110.2,49.3 112.0,48.4 114.7,48.4 115.8,47.7 117.7,45.8 118.8,46.1 118.6,48.3 118.5,48.7 115.5,49.8 114.4,51.0 114.7,52.0 113.2,52.5 110.7,53.4 110.0,54.7 108.5,55.8 107.6,57.5 107.1,57.7 107.2,59.7 105.6,60.5 103.9,61.5 102.1,63.1 100.6,64.3 100.0,65.5 100.1,68.4 99.8,71.2 99.2,72.2 98.5,72.2 98.2,71.0 97.9,68.9 98.2,67.4 97.4,66.2 96.1,66.5 95.2,65.7 93.8,65.8 92.4,65.9 92.2,67.3 91.0,67.2 89.8,66.7 87.9,66.7 86.8,67.3 84.5,68.7 83.3,71.2 81.8,70.6 81.9,69.3 81.4,68.0 81.0,66.4 79.9,66.5 79.0,67.4 78.1,66.7 78.1,65.3 77.2,63.9 75.6,63.9 75.4,64.6 72.8,64.6 69.9,63.1 67.8,63.1 67.9,62.5 67.3,61.2 65.8,60.6 65.8,58.1 66.0,56.7 65.9,54.7 66.1,53.6 67.3,51.8 67.8,50.6 70.7,47.1 71.8,44.7 73.1,44.9 72.9,45.7 73.9,44.0ZM79.9,25.6 77.5,27.2 75.0,29.0 70.1,33.0 71.4,33.1 71.4,34.1 73.6,33.5 74.2,34.3 73.6,36.0 74.2,36.9 73.9,37.1 73.3,37.9 72.3,38.1 70.9,37.9 71.2,36.5 71.1,35.1 71.0,34.1 70.2,33.5 69.0,33.2 67.5,33.2 66.9,32.5 64.5,33.2 62.2,33.9 60.4,34.1 62.4,32.8 64.4,32.2 62.4,32.5 59.8,33.7 57.9,34.6 55.0,35.7 52.3,36.7 49.1,37.6 47.0,38.1 45.2,38.4 48.8,37.2 51.3,36.5 54.2,35.4 56.1,34.3 54.7,34.4 52.4,34.4 54.0,33.2 52.7,32.8 52.9,31.8 55.2,30.8 56.4,30.5 59.1,30.1 60.2,29.4 58.7,29.4 56.5,29.2 56.5,28.5 58.7,28.1 60.8,27.8 61.5,28.1 61.7,27.3 61.5,26.6 61.1,26.4 63.4,26.1 66.3,25.2 69.7,24.8 71.2,24.4 73.2,24.7 75.4,25.0 77.6,25.3ZM45.3,38.3 41.5,39.4 37.2,40.3 33.2,40.9 30.3,41.3 29.9,41.6 32.7,41.3 36.7,40.7 40.9,39.9 44.7,38.7ZM314.7,39.9 317.5,40.5 320.6,41.1 320.9,41.3 317.8,40.8 315.1,40.2ZM56.5,35.7 59.1,34.9 58.7,35.5 56.5,36.2ZM51.0,30.3 52.9,30.5 53.0,30.0 51.7,30.0ZM50.1,33.1 50.9,33.4 51.6,32.9 51.0,32.8ZM24.5,79.1 25.4,79.6 24.4,80.4 24.2,80.0ZM23.1,76.9 23.5,77.3 24.6,78.0 24.5,77.6 23.4,76.7Z" fill="#addd8e"/>
<path d="M67.8,63.1 69.9,63.1 72.8,64.6 75.4,64.6 75.6,63.9 77.2,63.9 78.1,65.3 78.1,66.7 79.0,67.4 79.9,66.5 81.0,66.4 81.4,68.0 81.9,69.3 81.8,70.6 83.5,71.3 82.4,73.8 81.7,76.0 81.8,77.9 82.3,79.9 83.4,80.8 84.0,81.3 85.8,80.8 86.8,80.9 88.1,79.2 88.5,77.6 90.5,77.0 91.9,77.0 91.9,77.9 90.9,79.6 90.3,81.2 90.0,80.9 88.9,81.8 87.1,81.8 87.2,84.1 86.0,84.1 85.2,86.1 83.7,84.2 82.8,83.9 81.2,84.6 79.4,83.8 78.1,82.9 76.4,81.6 75.0,81.0 73.9,79.6 73.5,78.4 74.2,77.0 74.1,75.1 73.2,73.1 71.8,71.6 72.1,70.3 71.6,68.8 70.6,67.4 70.8,64.9 69.5,63.9 69.0,65.5 69.4,67.4 69.6,69.3 70.1,71.2 70.4,73.5 70.8,74.8 70.0,75.1 68.9,72.9 69.2,71.2 68.0,69.9 67.4,68.9 68.5,68.0 67.7,66.4 67.6,64.3Z" fill="#78c679"/>
<path d="M85.2,86.1 86.0,84.1 87.2,84.1 87.1,81.8 88.9,81.8 88.4,84.3 88.7,84.3 89.4,84.6 88.1,86.3 87.1,87.2 85.9,87.0Z" fill="#78c679"/>
<path d="M88.9,81.8 90.0,80.9 89.9,82.2 89.1,83.9 88.7,84.3 88.4,84.3Z" fill="#addd8e"/>
<path d="M87.1,87.2 88.0,86.3 88.7,87.0 89.4,87.0 89.4,87.8 88.6,88.0Z" fill="#78c679"/>
<path d="M89.4,84.6 91.6,84.3 93.0,84.5 94.2,85.5 92.6,85.8 91.4,87.0 90.4,87.8 89.7,88.2 89.4,87.8 89.4,87.0 88.7,87.0 88.0,86.3Z" fill="#addd8e"/>
<path d="M94.2,85.5 93.5,88.2 93.0,90.8 91.1,90.7 89.4,88.3 89.7,88.2 90.4,87.8 91.4,87.0 92.6,85.8Z" fill="#78c679"/>
<path d="M93.0,90.8 94.0,92.7 93.5,94.7 92.7,94.2 91.9,92.8 90.8,92.2 91.1,90.7Z" fill="#31a354"/>
<path d="M94.0,92.7 95.5,93.8 96.9,92.7 99.0,93.9 98.4,95.9 97.9,94.4 96.7,93.9 96.0,95.6 94.6,95.5 93.5,94.7Z" fill="#78c679"/>
<path d="M94.0,76.5 96.2,75.1 98.6,74.9 101.2,76.6 103.3,78.0 104.0,78.7 100.5,79.1 101.3,78.3 99.6,77.0 97.0,75.8Z" fill="#addd8e" stroke-width="0.4"/>
<path d="M103.5,80.8 104.9,79.1 106.3,79.3 105.9,81.6 103.4,81.2Z" fill="#addd8e"/>
<path d="M106.3,79.3 108.1,79.3 109.3,80.8 107.2,81.3 105.9,81.6Z" fill="#78c679"/>
<path d="M99.6,81.0 101.5,81.3 101.5,81.8 99.6,81.5Z" fill="#78c679"/>
<path d="M110.5,80.9 112.0,81.0 111.8,81.6 110.4,81.6Z" fill="#78c679"/>
<path d="M101.3,72.7 101.8,72.4 101.7,73.5 101.2,73.4ZM102.2,70.2 102.9,70.6 102.6,71.2 102.0,70.4Z" fill="#addd8e" stroke-width="0.5"/>
<path d="M114.6,91.2 115.6,91.1 115.5,92.0 114.6,92.0Z" fill="#78c679"/>
<path d="M99.0,93.9 99.6,94.0 100.9,92.8 101.3,91.1 102.5,90.6 104.2,89.8 105.5,89.0 105.4,89.8 104.3,90.7 103.5,92.8 104.0,94.4 104.3,96.0 106.2,96.2 108.7,97.3 108.3,99.5 108.8,101.0 109.1,104.0 106.1,104.1 106.6,107.1 106.1,111.3 105.4,110.7 106.0,109.2 103.1,108.8 100.8,105.7 99.7,105.1 98.5,104.7 97.2,103.6 97.5,102.1 98.6,100.2 98.9,98.1 98.9,96.2 98.4,95.9Z" fill="#78c679"/>
<path d="M105.4,89.8 105.0,91.0 105.3,91.5 106.5,90.3 106.8,89.2 107.9,90.3 108.4,91.4 110.5,91.4 112.0,91.9 113.7,91.2 114.6,91.2 114.0,92.2 115.4,92.8 116.3,94.2 116.5,94.4 115.5,95.6 115.0,97.1 114.8,97.7 115.4,98.6 114.7,99.7 113.3,100.2 111.9,100.1 111.6,102.1 112.6,102.6 110.5,104.5 109.1,104.0 108.8,101.0 108.3,99.5 108.7,97.3 106.2,96.2 104.3,96.0 104.0,94.4 103.5,92.8 104.3,90.7Z" fill="#d9f0a3"/>
<path d="M116.5,94.4 117.7,96.2 119.0,97.5 118.8,98.5 118.2,99.4 118.5,101.0 119.5,103.0 117.2,104.0 116.2,102.6 116.2,100.2 116.0,98.7 115.4,98.6 114.8,97.7 115.0,97.1 115.5,95.6Z" fill="#addd8e"/>
<path d="M119.0,97.5 120.3,97.6 122.1,97.8 121.7,99.3 122.1,100.9 121.4,102.5 120.0,103.1 119.5,103.0 118.5,101.0 118.2,99.4 118.8,98.5Z" fill="#addd8e"/>
<path d="M122.1,97.8 123.2,98.5 124.4,99.9 123.4,102.2 121.4,102.5 122.1,100.9 121.7,99.3Z" fill="#addd8e"/>
<path d="M97.2,103.6 98.5,104.7 99.7,105.1 100.8,105.7 100.5,107.6 98.1,109.9 97.4,111.8 96.5,112.3 95.7,111.5 95.8,110.2 96.1,109.0 95.1,108.6 95.1,106.9 95.9,104.9 96.1,104.4ZM84.5,106.0 85.2,105.9 85.2,106.9 84.6,106.9Z" fill="#78c679"/>
<path d="M95.8,110.2 95.7,111.5 96.5,112.3 97.4,111.8 98.1,109.9 100.5,107.6 100.8,105.7 103.1,108.8 106.0,109.2 105.4,110.7 106.1,111.3 103.2,112.6 102.4,115.4 103.5,118.0 104.3,119.0 105.9,118.4 106.0,120.4 107.0,120.3 108.1,122.4 108.1,125.0 107.9,126.1 107.9,128.7 108.0,129.0 107.3,130.1 106.1,128.7 103.9,127.4 102.1,126.2 100.8,124.2 99.6,121.7 98.4,119.0 97.4,116.6 96.4,114.9 95.1,113.7 94.8,111.9Z" fill="#31a354"/>
<path d="M107.0,120.3 108.0,120.4 109.9,118.9 111.1,118.6 111.3,121.0 112.4,122.4 114.0,123.0 115.8,123.7 116.3,124.1 117.0,127.4 118.7,127.4 119.0,128.7 119.9,129.9 119.6,132.0 119.5,132.5 118.5,131.3 116.0,131.7 115.6,132.9 115.6,135.1 114.1,135.9 113.1,135.0 112.0,134.6 111.3,135.9 110.0,133.9 109.2,132.4 109.3,130.9 108.0,129.0 107.9,128.7 107.9,126.1 108.1,125.0 108.1,122.4Z" fill="#addd8e"/>
<path d="M107.3,130.1 108.0,129.0 109.3,130.9 109.2,132.4 110.0,133.9 111.3,135.9 111.5,137.4 110.6,138.7 111.2,141.3 110.4,143.2 110.5,145.0 110.5,146.9 111.5,149.0 112.1,150.3 111.9,151.8 111.8,153.0 112.3,155.4 112.5,157.1 113.2,159.4 114.2,161.7 114.9,163.9 115.4,166.1 115.4,167.7 116.7,168.9 117.7,170.3 119.2,170.3 120.7,170.7 120.7,170.9 121.8,173.2 123.2,173.6 123.3,174.3 121.3,173.8 119.3,172.8 117.0,171.6 114.9,169.8 113.2,167.2 112.2,165.0 112.6,163.4 112.1,161.1 111.3,159.4 110.7,157.1 109.8,153.8 109.8,151.8 109.9,148.7 109.2,145.4 108.7,143.2 108.7,140.0 108.3,136.8 108.0,133.6Z" fill="#78c679"/>
<path d="M115.6,135.1 118.5,137.4 121.1,139.1 120.5,141.6 123.0,141.6 124.0,139.5 125.1,141.1 125.1,141.5 123.4,142.9 122.2,145.3 122.1,147.5 122.4,149.8 122.5,150.4 123.9,151.5 124.3,152.6 124.7,153.1 124.4,154.8 123.3,155.6 120.7,155.8 121.0,157.7 118.8,158.3 119.3,160.0 120.5,160.0 119.4,161.1 119.9,162.8 118.6,163.9 120.5,165.5 120.1,167.7 119.3,168.7 120.7,170.7 119.2,170.3 117.7,170.3 116.7,168.9 115.4,167.7 115.4,166.1 114.9,163.9 114.2,161.7 113.2,159.4 112.5,157.1 112.3,155.4 111.8,153.0 111.9,151.8 112.1,150.3 111.5,149.0 110.5,146.9 110.5,145.0 110.4,143.2 111.2,141.3 110.6,138.7 111.5,137.4 111.3,135.9 112.0,134.6 113.1,135.0 114.1,135.9ZM120.7,170.9 121.2,171.5 122.2,172.3 124.3,173.0 123.5,173.3 121.8,173.2Z" fill="#78c679"/>
<path d="M115.6,135.1 115.6,132.9 116.0,131.7 118.5,131.3 119.5,132.5 120.1,135.0 122.3,135.2 122.9,137.4 124.0,137.6 124.0,139.5 123.0,141.6 120.5,141.6 121.1,139.1 118.5,137.4Z" fill="#31a354"/>
<path d="M122.2,145.3 123.8,146.0 124.2,146.1 126.6,148.1 127.0,149.7 125.9,151.1 124.7,151.1 123.0,150.4 122.4,149.8 122.1,147.5Z" fill="#78c679"/>
<path d="M124.4,99.9 126.0,103.2 126.0,105.6 128.0,106.5 130.0,107.1 131.5,109.0 134.0,109.4 136.0,109.4 137.5,110.6 139.1,112.2 140.8,112.6 141.3,115.3 141.1,117.7 139.3,120.6 138.0,123.0 137.6,125.7 137.7,129.4 137.4,131.9 136.5,134.9 135.6,136.0 134.5,136.1 133.1,136.5 131.5,137.4 130.2,139.1 129.9,140.9 130.1,143.0 129.2,144.9 128.4,146.5 127.6,147.9 127.0,149.7 126.6,148.1 124.2,146.1 123.8,146.0 122.2,145.3 123.4,142.9 125.1,141.5 125.1,141.1 124.0,139.5 124.0,137.6 122.9,137.4 122.3,135.2 120.1,135.0 119.5,132.5 119.6,132.0 119.9,129.9 119.0,128.7 118.7,127.4 117.0,127.4 116.3,124.1 115.8,123.7 114.0,123.0 112.4,122.4 111.3,121.0 111.1,118.6 109.9,118.9 108.0,120.4 107.0,120.3 106.0,120.4 105.9,118.4 104.3,119.0 103.5,118.0 102.4,115.4 103.2,112.6 106.1,111.3 106.6,107.1 106.1,104.1 109.1,104.0 110.5,104.5 112.6,102.6 111.6,102.1 111.9,100.1 113.3,100.2 114.7,99.7 115.4,98.6 116.0,98.7 116.2,100.2 116.2,102.6 117.2,104.0 119.5,103.0 120.0,103.1 121.4,102.5 123.4,102.2Z" fill="#78c679"/>
<path d="M126.4,170.1 128.7,169.7 129.0,170.1 127.9,170.6 126.6,170.5Z" fill="#78c679" stroke-width="0.9"/>
<path d="M130.4,20.5 134.1,19.9 139.5,19.2 148.8,19.0 156.7,18.8 162.7,19.1 168.7,19.4 164.9,19.9 164.0,21.2 163.4,22.2 161.5,23.7 161.1,25.0 158.1,26.3 153.8,26.7 149.7,28.4 147.4,29.0 145.0,31.5 143.2,33.2 142.1,33.3 140.2,32.3 138.9,30.2 138.3,27.8 139.5,26.3 141.2,25.6 139.2,25.0 139.6,23.7 138.8,22.0 135.8,21.6 132.6,21.7 131.2,21.1Z" fill="#b2b2b2"/>
<path d="M158.6,28.6 160.5,27.9 163.3,28.1 164.7,27.8 165.7,28.6 166.3,29.0 165.2,29.6 162.5,30.3 160.8,30.0 159.6,29.9 160.2,29.4 158.8,29.1Z" fill="#78c679" stroke-width="0.4"/>
<path d="M115.4,83.7 116.0,83.7 115.8,84.3 115.3,84.2ZM115.8,85.6 116.2,85.8 116.0,86.3 115.8,86.2ZM115.6,84.7 115.9,84.7 115.7,85.2ZM115.8,86.8 116.0,86.8 115.9,87.2ZM117.1,87.8 117.4,87.8 117.2,88.2ZM115.4,82.6 115.6,82.6 115.6,82.9ZM115.5,87.6 115.7,87.6 115.6,88.0ZM114.9,89.2 115.1,89.2 114.9,89.5ZM112.7,81.0 113.0,81.0 112.9,81.2ZM114.4,81.4 114.5,81.4 114.5,81.6ZM104.7,77.5 105.4,77.3 105.2,77.8ZM103.7,74.3 104.1,74.9 103.9,74.9ZM103.2,72.1 103.3,72.9 103.2,72.9ZM104.6,73.6 104.8,73.6 104.7,73.9ZM106.5,76.5 107.0,76.6 106.7,76.9ZM107.7,89.2 108.0,89.2 107.9,89.5ZM106.7,88.7 106.9,88.8 106.9,89.0ZM96.8,79.7 97.1,79.9 96.9,79.9Z" fill="#78c679"/>
<path d="M184.7,34.1 184.0,34.1 182.1,35.0 180.2,34.3 179.7,32.8 179.7,31.5 181.1,30.6 183.2,29.8 184.2,29.0 185.2,27.8 186.4,26.5 188.3,25.5 190.2,25.2 192.8,24.6 194.8,24.6 197.0,25.1 197.1,25.6 195.8,26.0 195.0,25.2 193.7,25.5 193.6,25.9 192.2,26.2 190.1,26.0 188.5,26.3 187.5,27.1 186.3,28.1 186.1,29.4 184.9,30.2 185.1,31.9 185.5,32.2 185.0,33.0 185.0,33.9ZM182.9,20.5 185.3,20.0 188.9,19.9 192.7,19.9 189.8,20.6 187.4,21.2 185.5,21.2 184.2,20.8Z" fill="#addd8e" stroke-width="0.42"/>
<path d="M184.7,34.1 184.7,34.8 185.3,36.0 186.0,36.8 186.2,37.5 187.2,37.4 188.5,36.8 188.8,35.5 189.0,34.4 190.2,33.4 188.9,32.3 188.9,31.1 189.8,30.3 191.1,29.4 191.6,28.4 193.1,28.4 192.6,27.6 192.3,26.8 190.1,26.0 188.5,26.3 187.5,27.1 186.3,28.1 186.1,29.4 184.9,30.2 185.1,31.9 185.5,32.2 185.0,33.0 185.0,33.9ZM190.1,35.9 190.6,35.1 190.5,35.7Z" fill="#78c679"/>
<path d="M193.1,28.4 194.1,29.0 193.6,29.5 191.7,30.8 191.9,32.3 193.2,33.3 194.8,33.0 196.8,32.8 197.9,31.9 199.0,30.7 197.7,29.8 197.3,28.4 196.5,27.5 196.9,26.9 195.7,26.3 195.8,26.0 195.0,25.2 193.7,25.5 193.6,25.9 192.2,26.2 190.1,26.0 192.3,26.8 192.6,27.6Z" fill="#addd8e"/>
<path d="M182.5,37.9 182.3,36.0 184.1,35.3 184.0,36.5 184.5,36.7 183.7,37.7 183.5,38.1 182.8,38.0ZM184.7,37.6 184.9,37.0 185.8,36.8 185.9,37.5 185.5,38.0Z" fill="#78c679" stroke-width="0.5"/>
<path d="M171.3,42.9 173.1,42.7 175.2,42.3 177.1,41.7 177.4,40.2 176.2,39.9 175.8,38.7 174.8,37.7 174.3,36.8 174.5,35.4 173.5,35.3 173.7,34.5 172.2,34.5 171.5,35.5 171.7,36.8 172.2,37.7 172.0,38.1 173.2,38.0 173.6,39.1 172.4,39.6 172.6,40.4 171.8,41.1 173.4,41.5 172.5,41.8ZM171.1,38.8 171.6,38.5 171.4,37.7 170.5,37.7 170.2,38.0 169.6,38.4 170.2,38.8ZM170.2,35.8 171.3,34.6 171.2,35.7ZM174.9,33.2 175.3,32.5 175.1,33.3Z" fill="#31a354" stroke-width="0.45"/>
<path d="M167.9,41.3 169.1,41.3 170.9,40.7 171.2,39.6 171.1,38.8 170.2,38.8 169.6,38.4 170.2,38.0 170.5,37.7 169.4,37.8 169.3,38.3 168.0,38.7 168.1,39.5 168.5,39.8 168.3,40.3 167.6,40.8Z" fill="#78c679"/>
<path d="M174.4,50.2 176.6,50.9 178.8,51.3 178.6,50.4 179.9,50.2 181.4,50.5 182.5,49.7 182.0,49.2 181.9,48.3 182.0,47.4 181.3,47.1 181.2,46.7 182.4,45.5 182.8,44.0 181.3,43.5 180.8,43.5 180.0,42.9 179.5,42.8 178.1,41.8 177.3,42.2 177.2,42.9 176.2,43.3 175.0,43.6 174.4,43.3 174.7,44.4 173.5,44.3 172.1,44.7 172.4,45.3 173.9,45.9 175.0,47.1 175.0,48.8ZM183.5,51.3 184.2,50.6 184.3,51.8 184.1,52.5 183.5,51.9Z" fill="#78c679"/>
<path d="M174.4,50.2 176.6,50.9 178.8,51.3 178.8,51.9 177.9,52.6 176.4,53.5 175.7,54.8 176.2,55.5 175.6,56.2 175.3,56.9 174.2,57.9 172.0,58.0 171.1,58.7 170.3,58.1 169.3,57.4 169.3,56.9 169.7,56.2 169.5,54.7 169.9,53.9 170.0,52.9 170.6,52.2 168.8,51.7 168.3,51.9 167.9,50.6 169.1,49.8 171.0,49.9 172.7,50.1ZM178.0,54.6 178.8,54.1 179.0,54.8 178.6,54.9ZM160.1,68.3 160.8,67.9 160.5,68.7ZM161.1,68.6 161.5,68.6 161.4,69.0ZM162.6,67.9 163.3,67.2 163.4,67.5 162.7,68.6Z" fill="#78c679"/>
<path d="M168.3,51.9 168.8,51.7 170.6,52.2 170.0,52.9 169.9,53.9 169.5,54.7 169.7,56.2 169.3,56.9 169.3,57.4 168.0,57.6 168.1,56.0 167.5,55.6 168.1,53.9Z" fill="#78c679"/>
<path d="M178.1,41.8 178.8,41.5 179.5,41.5 180.1,41.4 180.7,41.7 180.7,42.2 181.0,42.2 181.1,42.8 180.8,43.5 180.0,42.9 179.5,42.8Z" fill="#31a354"/>
<path d="M180.8,43.5 181.1,42.8 181.3,43.5Z" fill="#31a354"/>
<path d="M178.8,41.5 179.2,40.9 179.8,39.9 180.8,39.5 181.7,39.4 181.8,39.7 181.7,40.6 180.9,41.1 181.0,42.2 180.7,42.2 180.7,41.7 180.1,41.4 179.5,41.5Z" fill="#31a354"/>
<path d="M182.4,45.5 184.1,45.7 184.8,45.8 186.9,45.7 187.5,44.4 186.0,42.7 187.7,41.9 188.1,42.0 188.2,41.6 187.8,40.3 187.3,39.0 185.7,38.6 184.8,38.9 183.9,38.4 183.5,38.1 182.8,38.0 183.1,39.0 181.7,39.4 181.8,39.7 181.7,40.6 180.9,41.1 181.0,42.2 181.1,42.8 181.3,43.5 182.8,44.0Z" fill="#78c679"/>
<path d="M187.3,39.0 187.8,40.3 188.2,41.6 188.1,42.0 189.3,42.5 189.9,42.7 191.4,43.1 191.6,43.5 192.7,43.8 194.8,43.9 194.9,43.2 195.7,42.3 195.2,41.4 195.0,40.3 195.1,39.0 194.7,38.8 194.1,38.6 191.7,38.5 190.8,38.4 190.5,38.1 189.1,38.4Z" fill="#78c679"/>
<path d="M186.0,42.7 187.5,44.4 188.5,44.0 190.1,44.5 191.6,43.5 191.4,43.1 189.9,42.7 189.3,42.5 188.1,42.0 187.7,41.9Z" fill="#78c679"/>
<path d="M190.1,44.5 190.3,45.1 191.7,45.3 193.1,44.6 194.5,44.7 194.8,43.9 192.7,43.8 191.6,43.5Z" fill="#78c679"/>
<path d="M184.1,45.7 184.8,45.8 186.9,45.7 187.5,44.4 188.5,44.0 190.1,44.5 190.3,45.1 189.9,45.7 189.6,46.3 188.3,46.8 187.6,46.7 186.2,46.3 184.9,46.4 184.1,46.1Z" fill="#78c679"/>
<path d="M181.3,47.1 181.2,46.7 182.4,45.5 184.1,45.7 184.1,46.1 184.9,46.4 184.7,47.0 183.7,47.4 183.1,46.8 182.0,47.4Z" fill="#31a354"/>
<path d="M182.5,49.7 183.6,49.1 184.8,49.6 185.1,50.8 186.7,52.0 188.1,52.7 188.7,53.4 189.9,54.1 190.3,55.5 190.0,56.4 190.8,56.0 191.2,55.3 190.7,54.4 191.0,53.5 192.3,54.2 192.4,53.7 191.8,53.3 190.0,52.4 190.0,51.9 188.8,51.6 187.8,50.1 186.7,49.2 186.5,48.1 187.7,47.7 187.6,46.7 186.2,46.3 184.9,46.4 184.7,47.0 183.7,47.4 183.1,46.8 182.0,47.4 181.9,48.3 182.0,49.2ZM187.2,56.6 190.0,56.1 189.7,57.6 189.6,58.0 187.2,56.9ZM183.2,53.0 183.5,55.3 184.6,55.0 184.6,53.2 184.1,52.7Z" fill="#78c679"/>
<path d="M187.7,47.7 187.6,46.7 188.3,46.8 189.6,46.3 189.9,46.7 189.3,47.1 189.1,47.8 188.4,47.8Z" fill="#78c679"/>
<path d="M187.7,47.7 188.4,47.8 189.1,47.8 189.3,47.1 189.9,46.7 191.1,47.4 192.1,47.4 192.4,48.4 190.5,48.2 189.5,48.2 189.6,48.7 190.0,49.3 191.3,50.6 192.1,51.2 191.2,50.8 189.9,50.1 189.1,49.3 188.8,48.3 188.2,48.2 187.9,48.6 187.5,48.0Z" fill="#78c679" stroke-width="0.45"/>
<path d="M189.5,48.2 190.5,48.2 192.4,48.4 192.7,49.2 192.9,50.1 192.1,51.1 191.3,50.6 190.0,49.3 189.6,48.7Z" fill="#addd8e"/>
<path d="M189.6,46.3 189.9,45.7 190.3,45.1 191.7,45.3 193.1,44.6 194.5,44.7 195.2,45.2 194.0,46.8 193.3,47.1 192.1,47.4 191.1,47.4 189.9,46.7Z" fill="#78c679"/>
<path d="M192.1,47.4 193.3,47.1 194.4,48.2 195.5,49.0 195.3,49.6 196.0,50.4 195.6,51.4 194.9,51.5 194.0,51.9 193.5,51.1 192.6,50.1 192.9,50.1 192.7,49.2 192.4,48.4Z" fill="#78c679"/>
<path d="M192.1,51.2 192.9,50.1 192.6,50.1 193.5,51.1 193.0,51.9Z" fill="#addd8e"/>
<path d="M193.0,51.9 193.5,51.1 194.0,51.9 194.1,52.8 194.5,53.3 194.0,54.4 193.2,53.7Z" fill="#78c679"/>
<path d="M194.0,51.9 194.9,51.5 195.6,51.4 196.2,52.5 194.5,53.1 194.1,52.8Z" fill="#78c679"/>
<path d="M194.0,54.4 194.5,53.3 196.2,52.5 197.5,52.4 199.1,52.1 199.4,52.9 198.9,53.2 197.5,53.0 197.2,53.7 196.3,53.6 196.0,54.1 196.8,55.0 196.4,55.5 197.5,56.2 196.8,56.6 196.9,57.3 196.6,58.2 196.3,58.2 195.6,57.9 195.0,56.7 194.9,56.0 194.5,55.3ZM197.4,59.7 198.3,59.3 200.0,59.7 199.9,60.0 197.9,60.0Z" fill="#31a354" stroke-width="0.5"/>
<path d="M195.6,49.3 195.5,49.0 196.8,49.8 198.4,49.6 199.5,49.4 200.7,49.8 200.5,51.8 199.1,52.1 197.5,52.4 196.2,52.5 195.6,51.4 196.0,50.4 195.3,49.6Z" fill="#78c679"/>
<path d="M193.3,47.1 194.0,46.8 195.2,45.2 196.9,45.4 198.2,44.8 199.7,46.3 200.1,47.8 201.4,48.1 200.7,49.8 199.5,49.4 198.4,49.6 196.8,49.8 195.6,49.3 195.5,49.0 194.4,48.2Z" fill="#78c679"/>
<path d="M198.2,44.8 199.0,44.6 200.5,45.1 201.5,46.7 200.6,47.0 200.1,47.8 199.7,46.3Z" fill="#addd8e"/>
<path d="M194.8,43.9 194.5,44.7 195.2,45.2 196.9,45.4 198.2,44.8 199.0,44.6 200.5,45.1 201.5,46.7 200.6,47.0 200.1,47.8 201.4,48.1 202.1,46.7 203.2,47.0 204.5,47.3 203.8,48.0 204.8,49.0 206.4,48.4 207.2,48.1 205.7,47.1 207.1,46.5 208.3,46.0 209.4,45.2 209.1,43.4 207.4,43.1 206.8,42.6 205.6,42.6 205.0,41.9 204.0,41.6 203.3,40.5 201.8,40.8 200.9,41.6 198.4,41.4 196.5,41.0 195.2,41.4 195.7,42.3 194.9,43.2Z" fill="#addd8e"/>
<path d="M195.2,41.4 196.5,41.0 198.4,41.4 200.9,41.6 201.8,40.8 201.3,39.7 202.0,39.2 200.4,38.1 199.7,37.0 198.0,36.8 196.9,37.2 196.4,38.6 194.7,38.9 195.1,39.0 195.0,40.3Z" fill="#addd8e"/>
<path d="M192.6,37.6 192.5,36.9 195.4,36.5 196.9,37.2 196.4,38.6 194.7,38.9 194.1,38.6 194.0,37.9Z" fill="#addd8e"/>
<path d="M192.5,36.9 192.5,35.6 193.4,35.3 194.8,35.8 194.8,35.1 197.1,35.5 197.4,35.7 198.0,36.8 196.9,37.2 195.4,36.5Z" fill="#addd8e"/>
<path d="M194.8,35.1 193.9,34.4 193.8,33.9 195.4,33.6 197.3,33.7 197.1,34.9 197.1,35.5ZM192.9,34.8 193.6,34.5 193.4,35.1Z" fill="#addd8e" stroke-width="0.4"/>
<path d="M191.7,38.5 194.1,38.6 194.0,37.9 192.6,37.6 191.8,38.0Z" fill="#d9f0a3"/>
<path d="M205.5,60.0 206.0,59.5 207.4,59.2 207.0,60.0 206.2,60.5Z" fill="#78c679"/>
<path d="M188.9,58.8 189.3,58.9 189.2,59.1Z" fill="#006837"/>
<path d="M197.1,25.6 198.5,25.7 200.7,25.9 204.1,26.9 204.8,27.7 203.2,28.1 200.3,27.8 199.2,27.8 201.0,29.4 202.8,29.9 203.4,29.6 205.1,29.3 204.4,28.5 205.6,27.9 207.1,28.1 206.5,27.1 206.5,26.4 207.8,26.6 208.6,27.5 209.4,27.0 212.6,26.5 213.4,26.6 215.3,26.3 217.5,26.0 217.1,25.4 219.8,25.8 223.0,26.5 221.6,25.6 221.0,24.6 221.1,23.5 221.9,23.3 223.8,23.5 224.7,24.6 225.4,26.0 226.8,27.4 227.2,27.1 227.0,26.3 225.7,24.6 225.4,23.5 227.7,23.9 228.7,23.1 229.6,24.0 231.7,24.6 232.2,25.2 230.9,23.0 232.1,22.9 232.2,22.4 233.7,22.0 236.6,21.7 239.6,21.5 241.6,20.9 243.8,21.3 247.2,21.5 248.8,22.0 246.8,22.7 249.1,23.0 253.4,23.2 257.0,23.0 258.8,23.1 260.0,23.7 262.3,24.4 264.1,24.8 266.1,24.2 268.8,24.3 268.6,23.7 272.7,23.8 276.2,24.3 278.8,24.7 282.2,24.7 284.9,25.5 286.4,25.6 289.2,25.6 291.4,25.3 292.9,26.0 293.6,25.4 295.8,25.5 299.4,26.0 304.7,28.9 303.9,29.3 303.4,29.2 307.2,30.6 307.7,31.2 305.5,31.6 304.9,32.8 304.4,33.3 300.8,32.9 300.4,33.4 300.2,34.1 300.4,35.1 301.5,35.2 303.6,36.8 304.2,38.1 304.5,39.7 304.4,40.9 304.2,41.9 301.1,39.9 298.9,37.9 297.4,36.0 296.8,34.6 296.5,33.2 297.1,32.5 297.2,31.8 296.8,31.1 294.5,31.6 292.3,31.9 293.0,33.7 290.3,33.7 288.6,33.9 286.0,33.9 284.2,33.9 283.9,35.3 283.6,36.6 283.1,38.2 285.6,38.9 286.6,39.1 288.6,39.7 290.3,40.6 289.4,39.9 290.9,41.9 293.3,44.6 293.4,46.2 293.1,48.6 292.9,50.1 291.7,50.9 290.6,50.4 290.1,51.4 289.8,51.1 289.6,50.1 288.4,48.4 289.9,48.3 288.8,44.7 286.0,45.4 284.7,44.3 281.3,43.2 277.7,40.3 274.9,39.4 273.0,39.6 272.8,40.3 274.2,43.0 273.6,43.5 272.4,43.2 270.3,42.8 268.1,43.7 264.7,43.1 263.8,42.7 260.0,42.4 259.5,41.6 256.2,40.8 256.0,41.9 256.8,43.0 254.4,43.0 251.5,42.3 250.0,43.1 248.9,43.8 248.5,43.9 246.5,43.4 244.3,41.9 241.6,42.2 238.5,39.6 236.9,38.7 234.9,39.4 234.5,38.9 232.5,38.7 232.2,37.8 230.4,37.6 227.9,38.3 225.4,38.9 225.1,39.9 226.2,41.6 225.2,42.2 223.9,41.9 221.1,42.4 218.8,41.4 217.3,41.2 216.0,42.4 214.9,42.7 214.8,43.7 214.8,44.7 216.5,45.4 217.1,46.4 217.7,46.8 217.4,47.6 216.3,48.6 216.2,49.0 217.3,50.6 218.5,52.0 217.6,52.6 216.7,51.9 215.7,51.2 214.2,51.1 212.5,50.4 210.7,50.2 208.9,49.1 207.7,48.5 207.5,48.1 208.0,48.0 208.3,47.3 208.4,46.6 209.1,46.1 208.3,46.0 209.4,45.2 209.1,43.4 207.4,43.1 206.8,42.6 205.6,42.6 205.0,41.9 204.0,41.6 203.3,40.5 201.8,40.8 201.3,39.7 202.0,39.2 200.4,38.1 199.7,37.0 198.0,36.8 197.4,35.7 197.1,35.5 197.1,34.9 197.3,33.7 197.9,33.3 198.8,33.3 198.2,33.0 197.4,32.8 196.8,32.8 197.9,31.9 199.0,30.7 197.7,29.8 197.3,28.4 196.5,27.5 196.9,26.9 195.7,26.3 195.8,26.0ZM288.9,38.6 290.7,39.6 292.2,40.9 294.1,43.0 296.1,44.0 296.3,45.7 297.8,47.0 296.8,47.3 295.0,45.1 293.1,43.0 290.9,40.9ZM210.3,24.1 211.7,24.8 214.4,24.9 212.7,23.7 213.1,22.8 214.5,22.0 217.8,21.3 219.9,21.5 217.7,22.0 214.5,22.9 213.4,23.7 211.5,23.4ZM235.7,20.3 238.6,20.7 241.6,20.5 239.8,20.1 237.3,19.6 235.0,19.7ZM264.3,22.2 268.0,22.9 268.8,22.2 272.5,22.1 271.1,21.7 267.3,21.7 264.1,21.7ZM295.9,24.6 297.0,24.7 296.2,24.3 295.6,24.3ZM55.0,24.7 56.9,24.6 56.9,24.2 55.8,24.3ZM204.3,19.8 208.1,20.0 212.9,19.8 215.2,19.6 211.3,19.3 206.6,19.6ZM47.6,28.8 52.5,26.0 53.6,26.6 53.9,27.2 55.9,27.6 55.9,28.1 53.9,28.6 51.8,29.5 49.9,29.3 50.0,28.6 48.4,28.7ZM301.6,49.0 302.8,47.8 302.3,48.8ZM303.6,47.3 304.2,46.0 304.2,47.0ZM303.8,43.0 304.0,42.2 304.3,43.0ZM209.3,26.0 210.2,25.8 209.9,26.1Z" fill="#d9f0a3"/>
<path d="M210.7,50.2 212.5,50.4 214.2,51.1 215.7,51.2 216.7,51.9 217.0,52.8 215.6,52.6 214.3,52.8 213.3,52.4 212.5,52.3 212.5,51.8 212.1,51.0Z" fill="#addd8e"/>
<path d="M216.7,51.9 217.6,52.6 218.5,52.0 219.3,52.9 220.5,53.6 219.8,53.9 219.9,54.9 219.8,55.9 218.9,55.5 219.0,54.8 217.8,54.9 217.5,55.4 217.3,54.7 216.6,54.3 216.7,53.9 216.1,53.3 215.6,52.6 217.0,52.8ZM215.8,54.4 216.7,54.8 217.1,55.4 216.0,54.8Z" fill="#addd8e"/>
<path d="M214.3,52.8 215.6,52.6 216.1,53.3 216.7,53.9 216.6,54.3 217.3,54.7 217.5,55.4 217.1,55.4 216.7,54.8 215.8,54.4 214.7,54.0Z" fill="#78c679"/>
<path d="M198.9,53.3 199.4,52.9 199.1,52.1 200.5,51.8 201.5,52.6 201.5,52.9 200.2,53.0 199.6,53.6ZM199.2,54.1 200.3,53.6 201.6,53.6 201.7,52.7 203.5,52.8 205.1,51.8 206.6,51.7 208.1,52.6 209.9,52.9 211.6,52.8 212.5,52.3 213.3,52.4 214.3,52.8 214.7,54.0 215.8,54.4 215.1,54.8 215.9,56.1 215.7,56.6 216.4,57.4 214.2,57.5 212.7,57.5 210.8,57.9 209.4,58.0 209.2,57.9 209.0,58.6 208.6,58.9 208.7,58.1 208.1,58.1 207.2,57.9 206.4,58.7 205.0,58.2 203.6,57.9 203.5,58.5 202.2,58.1 201.3,58.0 200.6,57.6 200.4,56.0 199.6,56.1 199.9,55.3 199.2,54.7Z" fill="#78c679"/>
<path d="M208.6,58.9 209.0,58.6 209.2,57.9 209.4,58.0 210.8,57.9 212.7,57.5 214.2,57.5 213.4,58.3 213.5,60.8 211.7,62.0 210.0,63.3 209.1,62.8 208.9,62.2 209.0,62.0 209.5,61.0 209.3,60.5 208.9,60.4Z" fill="#d9f0a3"/>
<path d="M208.3,62.3 208.9,60.4 209.3,60.5 209.5,61.0 209.0,62.0 208.9,62.2Z" fill="#78c679"/>
<path d="M207.8,64.6 208.7,66.8 208.9,64.8 209.0,64.3 208.4,64.2 208.4,63.7 208.5,63.1 208.9,63.2 209.1,62.8 208.9,62.2 208.3,62.3 208.2,63.7Z" fill="#31a354"/>
<path d="M208.4,64.2 209.0,64.3 208.9,63.2 208.5,63.1 208.4,63.7Z" fill="#31a354"/>
<path d="M208.8,67.0 209.9,67.2 211.1,66.2 210.4,64.3 212.1,63.7 212.3,63.5 211.7,62.0 210.0,63.3 209.1,62.8 208.9,63.2 209.0,64.3 208.9,64.8 208.7,66.8Z" fill="#addd8e"/>
<path d="M211.7,62.0 213.5,60.8 213.4,58.3 214.2,57.5 216.4,57.4 217.2,58.8 218.1,59.9 217.7,61.2 218.5,62.3 220.2,63.7 220.4,64.9 221.5,66.3 220.9,66.2 220.6,66.0 219.7,67.3 218.0,67.2 215.2,64.8 213.5,63.8 212.3,63.5Z" fill="#d9f0a3"/>
<path d="M219.7,67.3 220.6,66.0 220.9,66.2 221.4,66.8 221.6,68.0 220.7,68.0Z" fill="#addd8e"/>
<path d="M208.8,67.0 208.6,68.6 209.2,68.7 210.9,71.5 212.9,74.0 213.8,77.0 215.4,79.6 217.1,82.2 218.0,83.7 218.3,82.3 219.2,82.3 221.4,82.6 222.5,82.7 223.0,81.3 223.9,80.8 226.6,80.3 229.4,78.9 229.7,76.3 229.1,75.4 226.6,75.2 225.4,73.5 225.3,73.0 224.6,72.8 223.8,71.7 223.4,70.3 222.3,69.2 221.6,68.0 220.7,68.0 219.7,67.3 218.0,67.2 215.2,64.8 213.5,63.8 212.3,63.5 212.1,63.7 210.4,64.3 211.1,66.2 209.9,67.2Z" fill="#d9f0a3"/>
<path d="M218.0,83.7 218.2,85.8 218.7,87.8 219.0,88.6 220.5,88.4 223.3,86.8 224.7,85.9 227.3,84.7 228.0,83.3 226.6,80.3 223.9,80.8 223.0,81.3 222.5,82.7 221.4,82.6 219.2,82.3 218.3,82.3ZM228.8,88.7 229.9,88.7 229.4,89.1Z" fill="#d9f0a3"/>
<path d="M228.0,83.3 229.8,82.2 231.1,81.6 232.3,80.3 232.0,78.6 233.1,78.3 233.6,75.7 232.2,74.3 230.6,73.8 229.9,72.6 229.4,73.5 229.1,75.4 229.7,76.3 229.4,78.9 226.6,80.3ZM229.3,71.1 229.6,70.7 229.7,71.7Z" fill="#d9f0a3"/>
<path d="M225.4,73.5 226.6,75.2 229.1,75.4 229.4,73.5 229.9,72.6 229.7,71.7 229.3,71.1 228.4,72.0 228.0,73.4 226.3,73.5Z" fill="#addd8e"/>
<path d="M224.6,72.8 224.4,71.8 224.7,71.0 225.1,71.5 225.3,73.0Z" fill="#addd8e"/>
<path d="M215.8,54.4 217.1,55.4 217.5,55.4 217.8,54.9 219.0,54.8 218.9,55.5 219.8,55.9 220.2,56.9 221.3,57.1 222.3,58.0 223.5,58.1 224.7,57.7 224.5,57.2 225.8,56.4 227.1,56.2 228.6,56.8 229.6,57.1 231.3,58.1 231.7,59.3 231.5,60.9 232.0,61.8 231.9,62.5 232.7,64.4 233.4,64.4 233.5,65.2 233.0,66.4 234.2,67.9 235.2,68.4 235.5,69.7 236.0,69.8 236.0,70.4 234.7,71.0 234.8,72.2 232.7,72.0 230.6,71.6 229.9,69.8 229.1,70.2 227.7,70.4 226.2,69.9 224.6,68.8 223.7,67.3 222.7,65.9 221.7,65.5 221.5,66.3 220.4,64.9 220.2,63.7 218.5,62.3 217.7,61.2 218.1,59.9 217.2,58.8 216.4,57.4 215.7,56.6 215.9,56.1 215.1,54.8Z" fill="#d9f0a3"/>
<path d="M224.5,57.2 224.0,55.3 223.0,54.1 222.4,52.7 222.0,52.1 222.8,51.7 224.0,51.8 225.2,52.6 226.3,52.7 226.9,51.0 228.4,51.6 228.8,52.5 230.4,52.7 231.3,54.1 233.5,55.4 235.7,56.4 235.9,57.2 234.4,57.5 234.4,58.5 233.3,59.4 232.8,59.8 231.7,59.3 231.3,58.1 229.6,57.1 228.6,56.8 227.1,56.2 225.8,56.4Z" fill="#d9f0a3"/>
<path d="M225.2,52.6 224.0,48.4 226.0,47.7 228.6,49.2 229.7,50.1 231.4,50.0 232.3,50.1 233.4,50.6 233.6,51.3 234.2,51.9 235.8,52.8 236.6,52.5 237.6,51.7 238.0,51.6 237.8,52.5 238.9,52.4 239.6,52.9 240.5,53.2 239.5,53.9 238.5,53.9 237.3,53.9 236.7,53.9 236.4,54.6 235.9,54.7 236.5,55.3 237.3,56.2 237.1,56.7 237.1,57.4 235.9,57.2 235.7,56.4 233.5,55.4 231.3,54.1 230.4,52.7 228.8,52.5 228.4,51.6 226.9,51.0 226.3,52.7Z" fill="#d9f0a3"/>
<path d="M238.0,51.6 240.1,51.3 239.9,50.6 241.9,50.9 244.9,50.9 246.1,51.6 244.9,52.4 243.7,53.0 242.7,53.4 241.5,54.3 241.6,54.8 239.9,54.9 238.6,54.6 237.5,54.2 237.3,53.9 238.5,53.9 239.5,53.9 240.5,53.2 239.6,52.9 238.9,52.4 237.8,52.5Z" fill="#d9f0a3"/>
<path d="M237.1,57.4 238.5,57.5 239.1,56.9 239.1,56.2 239.8,56.1 240.7,58.0 242.0,57.1 243.5,57.3 243.0,55.8 242.0,55.7 241.6,54.8 239.9,54.9 238.6,54.6 237.5,54.2 237.3,53.9 236.7,53.9 236.4,54.6 235.9,54.7 236.5,55.3 237.3,56.2 237.1,56.7Z" fill="#d9f0a3"/>
<path d="M217.7,46.8 219.2,46.2 220.8,46.4 221.3,48.0 220.0,48.1 219.9,49.0 219.3,49.2 220.4,50.4 221.7,50.9 222.0,52.1 222.8,51.7 224.0,51.8 225.2,52.6 224.0,48.4 226.0,47.7 228.6,49.2 229.7,50.1 231.4,50.0 232.3,50.1 233.4,50.6 233.6,51.3 234.2,51.9 235.8,52.8 236.6,52.5 237.6,51.7 238.0,51.6 240.1,51.3 239.9,50.6 241.9,50.9 244.9,50.9 246.1,51.6 245.8,50.6 246.1,50.4 245.0,48.6 246.6,48.2 246.3,47.8 246.0,46.0 248.1,46.1 247.6,44.7 248.2,44.0 248.5,43.9 246.5,43.4 244.3,41.9 241.6,42.2 238.5,39.6 236.9,38.7 234.9,39.4 234.5,38.9 232.5,38.7 232.2,37.8 230.4,37.6 227.9,38.3 225.4,38.9 225.1,39.9 226.2,41.6 225.2,42.2 223.9,41.9 221.1,42.4 218.8,41.4 217.3,41.2 216.0,42.4 214.9,42.7 214.8,43.7 214.8,44.7 216.5,45.4 217.1,46.4Z" fill="#d9f0a3"/>
<path d="M231.7,59.3 232.8,59.8 233.3,59.4 234.4,58.5 234.4,57.5 235.9,57.2 237.1,57.4 238.5,57.5 239.1,56.9 239.1,56.2 239.8,56.1 240.7,58.0 242.0,57.1 243.5,57.3 243.2,57.6 241.9,57.9 240.9,58.3 240.6,58.8 241.3,60.0 241.1,61.1 240.2,61.2 240.4,62.3 240.2,63.7 239.2,63.9 238.0,64.7 238.0,66.3 236.0,66.9 234.6,66.9 233.0,66.4 233.5,65.2 233.4,64.4 232.7,64.4 231.9,62.5 232.0,61.8 231.5,60.9Z" fill="#d9f0a3"/>
<path d="M234.8,72.2 237.0,72.1 239.5,72.1 240.2,72.7 241.4,74.2 241.9,73.4 243.9,73.3 243.2,71.6 242.6,70.6 241.8,69.9 242.5,68.7 243.7,67.5 244.7,66.2 245.3,64.9 244.9,63.1 245.7,63.3 244.4,62.5 243.7,61.1 244.1,60.4 246.3,60.0 246.8,59.4 245.2,59.1 244.2,58.0 243.5,57.3 243.2,57.6 241.9,57.9 240.9,58.3 240.6,58.8 241.3,60.0 241.1,61.1 240.2,61.2 240.4,62.3 240.2,63.7 239.2,63.9 238.0,64.7 238.0,66.3 236.0,66.9 234.6,66.9 233.0,66.4 234.2,67.9 235.2,68.4 235.5,69.7 236.0,69.8 236.0,70.4 234.7,71.0Z" fill="#addd8e"/>
<path d="M241.4,74.2 242.4,76.0 243.6,75.2 242.5,76.1 244.3,77.9 245.7,77.3 246.0,76.0 246.5,77.6 246.9,80.3 247.9,83.5 249.2,86.2 250.0,88.4 251.6,92.2 253.1,94.7 253.7,93.6 254.7,93.1 255.2,91.8 255.1,89.5 255.3,87.9 254.7,85.1 256.6,83.4 257.6,81.8 258.7,79.7 260.2,77.9 260.3,76.9 261.2,76.7 262.1,76.7 261.6,75.4 260.9,73.4 260.2,72.9 260.0,71.5 260.1,70.7 261.4,71.0 261.7,72.1 264.2,72.4 264.3,73.4 263.5,74.3 264.0,75.2 264.6,74.2 265.4,76.4 265.9,76.1 265.4,73.8 266.3,72.0 266.3,70.4 268.0,69.8 267.8,68.4 266.3,67.0 265.4,67.3 264.6,67.8 263.3,68.8 262.6,68.9 263.3,70.1 261.2,70.3 260.3,70.1 260.1,69.6 259.8,68.7 259.2,68.8 259.7,70.7 257.4,70.4 255.5,69.3 254.8,69.6 252.4,68.4 251.3,67.7 251.7,65.9 250.6,65.2 249.4,64.6 248.7,63.1 249.2,63.0 248.8,61.2 248.2,61.1 246.8,59.4 246.3,60.0 244.1,60.4 243.7,61.1 244.4,62.5 245.7,63.3 244.9,63.1 245.3,64.9 244.7,66.2 243.7,67.5 242.5,68.7 241.8,69.9 242.6,70.6 243.2,71.6 243.9,73.3 241.9,73.4ZM267.5,87.5 267.8,87.8 267.9,90.0 267.6,89.8Z" fill="#31a354"/>
<path d="M251.3,67.7 251.7,65.9 252.1,65.7 253.7,66.5 254.8,67.2 256.0,68.0 257.1,68.7 258.1,68.7 259.2,68.8 259.7,70.7 257.4,70.4 255.5,69.3 254.8,69.6 252.4,68.4Z" fill="#006837"/>
<path d="M260.1,69.6 260.3,70.1 261.2,70.3 263.3,70.1 262.6,68.9 261.1,68.4 260.4,68.6Z" fill="#addd8e"/>
<path d="M262.1,76.7 263.2,76.5 263.3,75.8 264.2,75.8 265.0,77.3 265.4,78.0 265.2,77.1 265.4,76.4 264.6,74.2 264.0,75.2 263.5,74.3 264.3,73.4 264.2,72.4 261.7,72.1 261.4,71.0 260.1,70.7 260.0,71.5 260.2,72.9 260.9,73.4 261.6,75.4Z" fill="#31a354"/>
<path d="M255.3,92.6 255.6,92.4 256.8,94.0 257.6,95.8 257.5,97.0 256.4,97.7 255.8,97.1 255.5,95.5 255.4,93.8Z" fill="#addd8e"/>
<path d="M290.1,51.4 290.0,51.3 288.9,50.8 288.0,51.8 288.6,52.5 287.2,52.0 287.0,53.0 286.3,54.1 285.3,54.6 284.4,55.4 284.0,53.5 282.6,53.0 282.0,54.3 281.1,55.0 281.2,55.7 282.7,56.6 283.5,57.4 284.5,56.7 286.4,57.3 285.4,58.1 285.2,58.8 284.8,60.0 286.2,61.0 287.7,63.0 289.1,64.1 289.5,65.1 288.6,65.8 290.2,66.4 290.6,68.3 290.0,69.3 289.9,71.2 289.5,72.9 288.9,73.8 288.1,74.7 286.1,75.7 285.5,76.1 284.0,76.9 282.9,77.4 283.0,78.6 282.0,77.0 280.8,76.7 280.4,76.9 279.3,76.6 278.7,75.3 277.2,74.7 276.1,75.6 274.7,75.4 274.4,75.8 274.0,75.7 274.5,77.4 273.9,77.4 272.6,76.9 271.7,76.2 271.7,75.1 270.7,73.6 269.5,73.8 269.3,72.5 269.9,71.3 269.2,69.3 267.8,68.4 266.3,67.0 265.4,67.3 264.6,67.8 263.3,68.8 262.6,68.9 261.1,68.4 260.4,68.6 260.1,69.6 259.8,68.7 259.2,68.8 258.1,68.7 257.1,68.7 256.0,68.0 254.8,67.2 253.7,66.5 252.1,65.7 251.7,65.9 250.6,65.2 249.4,64.6 248.7,63.1 249.2,63.0 248.8,61.2 248.2,61.1 246.8,59.4 245.2,59.1 244.2,58.0 243.5,57.3 243.0,55.8 242.0,55.7 241.6,54.8 241.5,54.3 242.7,53.4 243.7,53.0 244.9,52.4 246.1,51.6 245.8,50.6 246.1,50.4 245.0,48.6 246.6,48.2 246.3,47.8 246.0,46.0 248.1,46.1 247.6,44.7 248.2,44.0 248.5,43.9 248.9,43.8 249.4,44.5 251.5,45.2 253.1,46.6 253.7,48.1 256.2,48.5 258.2,49.2 259.9,51.0 263.1,51.1 264.8,51.2 268.1,52.2 269.8,51.3 271.8,51.0 272.7,49.8 271.9,48.4 273.5,48.6 273.7,48.4 274.9,47.6 275.6,46.8 277.4,46.5 276.9,46.0 275.3,45.1 274.3,45.3 273.0,45.2 272.4,43.2 273.6,43.5 274.2,43.0 272.8,40.3 273.0,39.6 274.9,39.4 277.7,40.3 281.3,43.2 284.7,44.3 286.0,45.4 288.8,44.7 289.9,48.3 288.4,48.4 289.6,50.1 289.8,51.1ZM281.8,80.0 282.3,78.9 283.8,79.1 283.7,80.6 282.9,81.3 282.0,80.8Z" fill="#78c679"/>
<path d="M291.9,72.1 292.5,72.5 292.7,74.4 292.6,76.5 291.5,75.1 291.6,73.1Z" fill="#78c679"/>
<path d="M248.9,43.8 250.0,43.1 251.5,42.3 254.4,43.0 256.8,43.0 256.0,41.9 256.2,40.8 259.5,41.6 260.0,42.4 263.8,42.7 264.7,43.1 268.1,43.7 270.3,42.8 272.4,43.2 273.0,45.2 274.3,45.3 275.3,45.1 276.9,46.0 277.4,46.5 275.6,46.8 274.9,47.6 273.7,48.4 273.5,48.6 271.9,48.4 272.7,49.8 271.8,51.0 269.8,51.3 268.1,52.2 264.8,51.2 263.1,51.1 259.9,51.0 258.2,49.2 256.2,48.5 253.7,48.1 253.1,46.6 251.5,45.2 249.4,44.5Z" fill="#d9f0a3"/>
<path d="M286.3,54.1 287.4,54.7 287.8,55.7 287.8,56.3 289.3,56.7 289.8,56.1 290.8,55.7 289.1,54.3 290.3,53.0 289.7,52.1 290.1,51.4 290.0,51.3 288.9,50.8 288.0,51.8 288.6,52.5 287.2,52.0 287.0,53.0Z" fill="#d9f0a3"/>
<path d="M289.3,56.7 290.2,57.6 290.0,58.0 291.0,59.3 291.5,60.6 292.5,60.4 293.5,60.3 293.8,59.8 293.2,58.2 292.5,57.4 290.8,55.7 289.8,56.1ZM292.2,62.1 292.7,61.8 292.6,62.2Z" fill="#addd8e"/>
<path d="M296.1,61.2 296.5,60.1 297.1,59.3 299.2,59.3 299.4,58.8 299.2,57.3 300.0,57.9 300.6,57.0 300.8,55.8 300.1,54.1 299.3,52.7 300.1,52.5 301.0,53.5 302.2,54.7 302.3,56.1 303.2,57.6 303.6,58.8 304.1,59.2 303.7,60.0 302.9,60.5 302.4,60.4 301.3,60.5 301.4,60.9 300.9,61.8 299.6,60.9 299.1,60.4 297.8,60.9 297.3,61.4ZM298.9,52.4 297.8,50.4 298.6,50.3 297.1,48.0 299.0,49.0 301.1,49.2 302.3,50.4 301.4,51.8 299.4,51.2 298.6,51.6ZM295.4,62.1 296.2,61.4 297.7,62.5 298.1,64.4 297.7,64.9 297.0,64.6 296.3,63.1ZM297.5,61.6 298.9,60.9 299.7,61.5 299.1,62.2 298.7,62.7 297.8,62.1ZM297.4,71.1 297.7,70.2 297.7,71.0Z" fill="#31a354" stroke-width="0.55"/>
<path d="M265.4,78.0 266.9,79.6 268.0,80.9 268.5,84.2 269.5,84.5 270.9,83.0 271.7,83.5 272.2,85.5 272.9,87.5 273.6,89.8 273.8,92.2 274.3,90.8 274.6,89.8 273.9,88.0 272.6,85.6 272.7,83.9 271.0,80.9 271.1,79.5 272.1,78.8 273.1,78.5 273.9,77.4 272.6,76.9 271.7,76.2 271.7,75.1 270.7,73.6 269.5,73.8 269.3,72.5 269.9,71.3 269.2,69.3 267.8,68.4 268.0,69.8 266.3,70.4 266.3,72.0 265.4,73.8 265.9,76.1 265.4,76.4 265.2,77.1Z" fill="#78c679"/>
<path d="M273.8,92.2 273.8,94.4 273.9,95.1 274.9,95.9 275.8,96.9 276.9,97.9 277.8,97.2 276.6,96.3 276.0,95.5 275.5,94.0 274.7,93.1 274.4,91.6 274.9,89.5 274.7,87.6 275.6,87.6 275.7,88.7 277.2,89.2 277.9,90.0 277.3,88.6 277.0,87.4 277.6,86.4 279.6,86.4 279.7,84.6 278.7,83.4 278.4,82.2 277.4,81.2 276.3,81.6 275.6,81.8 274.9,82.2 274.5,79.6 273.7,79.5 273.4,78.6 273.1,78.5 272.1,78.8 271.1,79.5 271.0,80.9 272.7,83.9 272.6,85.6 273.9,88.0 274.6,89.8 274.3,90.8Z" fill="#31a354"/>
<path d="M273.1,78.5 273.9,77.4 274.5,77.4 274.0,75.7 274.4,75.8 275.4,76.7 276.8,77.8 277.9,78.9 277.1,79.6 278.6,80.8 280.3,82.9 281.5,84.3 281.9,85.9 280.4,86.3 279.6,86.4 279.7,84.6 278.7,83.4 278.4,82.2 277.4,81.2 276.3,81.6 275.6,81.8 274.9,82.2 274.5,79.6 273.7,79.5 273.4,78.6Z" fill="#addd8e"/>
<path d="M280.4,76.9 279.3,76.6 278.7,75.3 277.2,74.7 276.1,75.6 274.7,75.4 274.4,75.8 275.4,76.7 276.8,77.8 277.9,78.9 277.1,79.6 278.6,80.8 280.3,82.9 281.5,84.3 281.9,85.9 282.2,88.2 282.4,89.1 281.3,89.9 280.9,90.0 281.3,91.0 280.2,91.0 279.6,91.6 280.1,92.4 280.3,94.0 280.8,93.5 282.0,91.6 282.9,91.0 284.1,89.8 284.0,88.2 283.3,86.2 282.3,84.1 280.9,82.9 279.9,81.6 279.0,80.3 279.4,78.4 279.9,77.5Z" fill="#78c679"/>
<path d="M277.9,90.0 277.3,88.6 277.0,87.4 277.6,86.4 279.6,86.4 280.4,86.3 281.9,85.9 282.2,88.2 282.4,89.1 281.3,89.9 280.9,90.0 281.3,91.0 280.2,91.0 279.6,91.6 278.7,91.4 278.6,90.7 278.0,90.4Z" fill="#31a354"/>
<path d="M275.8,96.9 276.9,97.9 277.8,97.2 279.2,99.1 279.3,100.9 280.2,103.7 279.5,103.8 277.2,101.7 276.5,100.2 276.1,98.2ZM285.6,102.9 287.2,103.6 287.3,102.1 288.9,101.3 289.8,99.4 290.4,100.1 291.0,99.8 291.0,98.9 291.8,97.4 292.4,96.2 293.3,97.0 295.0,98.6 294.0,99.8 293.4,100.0 291.5,99.8 291.4,101.6 290.8,102.6 290.8,103.6 288.5,103.6 287.0,104.3 285.9,103.8Z" fill="#78c679"/>
<path d="M289.8,99.4 291.0,98.9 291.0,99.8 290.4,100.1Z" fill="#78c679"/>
<path d="M279.6,103.6 280.0,103.6 280.0,103.9 279.6,103.9Z" fill="#006837"/>
<path d="M285.6,102.9 285.9,103.8 287.0,104.3 288.5,103.6 290.8,103.6 290.8,102.6 291.4,101.6 291.5,99.8 293.4,100.0 293.7,100.9 294.0,102.6 295.0,104.3 293.8,104.5 293.5,106.7 292.5,107.8 292.2,110.0 291.9,111.0 290.5,111.1 290.4,110.2 288.9,109.9 287.6,110.3 286.1,109.6 286.2,107.9 285.0,105.9 285.0,103.8ZM271.1,98.1 273.3,98.6 274.2,99.8 275.9,101.7 276.4,102.5 277.5,102.9 279.0,104.7 279.8,105.6 279.5,106.9 280.5,108.0 281.9,109.6 281.7,111.7 281.5,113.4 280.3,113.5 280.1,113.0 278.2,111.0 276.9,109.2 276.3,106.9 275.0,105.2 274.7,103.3 273.1,101.3 271.9,99.8ZM280.8,114.7 282.2,113.7 284.0,114.1 286.5,114.2 288.3,114.9 289.9,116.0 289.8,117.3 288.1,116.9 285.5,116.4 283.5,116.1 282.0,115.6ZM290.4,116.5 292.1,116.8 294.4,116.8 296.4,116.9 298.4,116.6 298.1,117.3 295.3,117.6 292.3,117.7 290.5,117.4ZM294.2,118.2 295.9,118.9 295.1,119.4ZM298.5,119.4 299.6,118.1 300.3,117.7 300.3,118.4 299.5,119.3ZM295.2,113.0 295.7,110.3 294.7,109.4 295.3,106.9 295.8,105.3 296.8,103.8 299.0,104.3 301.0,103.4 300.5,105.1 299.0,104.9 297.0,105.1 296.2,106.8 297.5,106.8 299.3,106.8 298.8,107.8 297.7,108.2 298.4,109.9 299.0,111.4 298.7,112.9 297.8,111.9 297.4,110.7 296.9,109.2 296.3,109.5 296.2,111.9 296.1,113.1ZM303.5,103.2 303.9,102.6 304.7,104.3 304.0,105.6 304.3,106.7 303.7,106.0 303.8,104.5ZM301.9,109.9 302.9,109.9 302.9,110.7 301.9,110.6ZM303.9,109.6 306.7,109.9 306.2,110.7 304.0,110.3ZM307.0,106.7 308.5,106.1 310.0,106.7 310.2,109.0 311.2,110.0 312.9,108.4 314.5,108.0 316.9,109.1 316.6,113.5 316.1,117.8 315.1,116.5 313.3,116.9 314.1,115.3 313.7,113.0 311.8,111.8 309.8,110.9 308.8,111.1 308.7,110.0 307.9,109.4 309.6,108.6 308.0,108.3 307.0,107.4ZM281.3,107.9 282.2,107.9 282.6,109.6 281.9,109.6ZM283.5,109.1 284.2,109.2 283.9,109.9ZM273.0,103.7 273.9,104.8 273.5,104.3ZM274.6,106.9 275.3,108.0 274.9,108.0ZM309.9,113.4 310.5,113.1 310.2,114.6ZM306.5,115.7 307.2,115.3 306.9,116.4Z" fill="#31a354" stroke-width="0.42"/>
<path d="M300.3,117.7 302.6,116.9 302.1,117.6 300.3,118.4Z" fill="#78c679"/>
<path d="M294.1,84.2 293.6,80.9 295.2,80.9 295.9,83.5 295.4,84.6 295.9,86.6 297.0,86.6 298.3,87.1 298.4,88.3 297.4,87.9 296.2,87.2 295.1,87.1 294.8,86.2 294.0,85.5ZM297.6,96.2 298.8,94.0 300.1,93.5 300.6,92.4 301.7,94.2 302.1,96.5 301.6,97.1 301.1,98.1 300.7,97.5 299.6,96.9 299.7,95.6 298.8,95.5ZM298.9,88.8 300.5,90.6 300.3,92.0 299.4,90.8ZM296.8,89.8 297.9,90.2 298.5,91.5 298.4,93.4 297.6,92.6 297.5,91.2 296.9,91.5ZM292.6,94.3 294.5,91.4 294.6,90.4 294.1,91.6 292.8,93.5ZM294.8,87.6 296.0,87.9 295.9,89.2 295.4,88.7Z" fill="#006837" stroke-width="0.65"/>
<path d="M217.7,46.8 219.2,46.2 220.8,46.4 221.3,48.0 220.0,48.1 219.9,49.0 219.3,49.2 220.4,50.4 221.7,50.9 222.0,52.1 222.4,52.7 223.0,54.1 224.0,55.3 224.5,57.2 224.7,57.7 223.5,58.1 222.3,58.0 221.3,57.1 220.2,56.9 219.8,55.9 219.9,54.9 219.8,53.9 220.5,53.6 219.3,52.9 218.5,52.0 217.3,50.6 216.2,49.0 216.3,48.6 217.4,47.6Z" fill="#d9f0a3"/>
<path d="M174.0,59.9 173.3,59.7 171.9,59.8 171.1,58.9 170.6,59.1 169.8,61.2 168.2,62.1 167.4,63.1 166.9,64.3 167.0,65.7 166.4,67.0 165.2,68.3 163.7,69.1 167.8,69.1 167.8,67.8 169.4,66.8 171.3,66.2 172.6,65.1 173.2,63.9 174.9,63.6 174.4,61.8 174.4,60.6Z" fill="#78c679"/>
<path d="M163.7,69.1 167.8,69.1 167.8,71.2 164.6,71.2 164.5,74.4 163.5,75.1 163.4,77.2 159.6,77.2 159.5,77.9 159.7,76.5 160.6,74.2 161.8,71.8 162.3,70.8Z" fill="#addd8e"/>
<path d="M159.5,77.9 160.0,79.7 160.3,81.6 159.8,84.1 161.8,83.3 162.9,84.7 164.0,85.8 164.7,84.8 165.5,85.0 166.8,84.9 170.6,84.9 170.5,83.5 169.8,72.5 171.4,72.5 167.8,69.6 167.8,69.1 167.8,71.2 164.6,71.2 164.5,74.4 163.5,75.1 163.4,77.2 159.6,77.2Z" fill="#d9f0a3"/>
<path d="M174.0,59.9 176.0,58.9 177.2,58.2 178.7,57.9 180.8,57.9 182.6,57.5 183.8,57.7 183.6,59.8 183.5,60.6 182.9,61.5 184.3,63.6 184.9,65.9 185.3,68.3 185.4,70.6 185.6,73.1 187.5,74.4 183.3,77.8 181.6,79.7 180.1,80.1 179.2,80.3 179.1,79.2 177.7,78.6 171.4,72.5 167.8,69.6 167.8,69.1 167.8,67.8 169.4,66.8 171.3,66.2 172.6,65.1 173.2,63.9 174.9,63.6 174.4,61.8 174.4,60.6Z" fill="#addd8e"/>
<path d="M183.8,57.7 184.8,57.3 185.9,57.6 185.5,58.3 185.6,59.4 186.1,60.5 185.3,61.0 185.2,61.5 186.6,62.3 186.6,63.2 185.6,64.1 185.4,65.2 184.9,65.9 184.3,63.6 182.9,61.5 183.5,60.6 183.6,59.8Z" fill="#d9f0a3"/>
<path d="M186.6,62.3 188.2,62.6 190.1,63.3 190.6,64.4 192.3,65.1 193.7,65.8 194.6,64.9 194.6,63.3 195.9,62.6 197.3,63.0 199.3,64.1 199.5,67.2 200.1,76.3 200.3,78.9 199.3,78.9 199.3,79.6 191.4,74.5 190.4,75.1 189.7,75.6 187.5,74.4 185.6,73.1 185.4,70.6 185.3,68.3 184.9,65.9 185.4,65.2 185.6,64.1 186.6,63.2Z" fill="#d9f0a3"/>
<path d="M199.3,64.1 201.4,64.6 203.0,65.1 204.2,64.3 205.0,64.2 206.0,64.6 207.8,64.6 208.7,66.8 208.5,68.7 208.4,69.0 207.7,68.4 206.5,66.2 206.6,66.8 207.6,68.9 208.3,70.6 210.0,73.8 210.4,74.8 211.6,76.3 200.1,76.3 199.5,67.2Z" fill="#78c679"/>
<path d="M211.6,76.3 212.0,77.6 212.3,79.6 213.7,81.6 212.2,82.7 211.9,85.2 212.0,86.4 211.7,88.6 210.7,89.8 210.6,91.1 210.0,91.4 209.9,92.8 208.8,91.4 208.8,89.2 208.4,89.4 207.5,91.6 206.5,92.4 205.3,92.4 203.8,93.0 202.4,92.8 200.8,91.8 199.9,93.9 199.4,93.5 199.4,92.3 198.7,91.0 198.7,90.3 198.2,88.7 197.5,88.6 197.9,87.2 198.2,86.7 198.5,84.6 199.6,84.6 199.3,79.6 199.3,78.9 200.3,78.9 200.1,76.3Z" fill="#d9f0a3"/>
<path d="M199.9,93.9 200.8,91.8 202.4,92.8 203.8,93.0 205.3,92.4 206.5,92.4 207.5,91.6 208.4,89.4 208.8,89.2 208.8,91.4 209.9,92.8 209.9,94.0 209.5,94.3 208.9,95.1 209.9,95.5 210.6,96.6 211.2,98.3 211.8,98.5 211.9,99.4 210.0,99.9 208.7,100.6 207.9,100.8 206.8,100.9 206.2,100.3 205.5,99.7 204.4,99.8 203.4,98.8 202.3,96.7 201.1,95.4Z" fill="#d9f0a3"/>
<path d="M159.8,84.1 158.8,85.9 159.4,87.4 160.7,87.2 162.4,87.5 162.4,87.9 160.7,87.8 159.5,88.0 159.5,89.0 161.2,88.9 162.5,88.6 163.8,89.1 164.7,89.0 164.6,87.8 164.0,85.8 162.9,84.7 161.8,83.3Z" fill="#addd8e"/>
<path d="M159.4,87.4 160.7,87.2 162.4,87.5 162.4,87.9 160.7,87.8 159.5,88.0Z" fill="#31a354"/>
<path d="M159.5,89.0 161.2,88.9 162.5,88.6 162.4,89.9 161.1,90.8 160.2,90.0Z" fill="#d9f0a3"/>
<path d="M161.0,90.9 162.4,89.9 162.5,88.6 163.8,89.1 164.7,89.0 165.4,89.6 166.8,89.0 167.8,90.6 168.1,91.9 168.3,93.4 167.8,94.6 167.5,95.4 166.7,95.6 166.5,94.3 165.8,94.2 165.5,93.4 164.9,92.2 163.6,92.3 162.8,93.4 162.4,92.8 161.5,91.6Z" fill="#d9f0a3"/>
<path d="M162.8,93.4 163.6,92.3 164.9,92.2 165.5,93.4 165.8,94.2 164.5,96.2 163.6,95.6 162.9,94.3Z" fill="#d9f0a3"/>
<path d="M164.5,96.2 165.8,94.2 166.5,94.3 166.7,95.6 167.5,95.4 167.7,97.0 168.5,97.7 168.5,99.7 167.0,98.9 165.2,97.1Z" fill="#d9f0a3"/>
<path d="M168.5,99.7 168.5,97.7 167.7,97.0 167.5,95.4 167.8,94.6 168.3,93.4 168.1,91.9 169.9,91.4 170.5,91.6 171.3,92.6 173.2,92.4 173.3,92.8 173.5,94.6 172.8,96.5 173.2,98.7 172.9,98.7 171.0,98.7Z" fill="#d9f0a3"/>
<path d="M172.9,98.7 173.2,98.7 172.8,96.5 173.5,94.6 173.3,92.8 173.2,92.4 173.2,90.8 175.9,90.7 176.3,91.8 176.5,94.2 176.6,96.5 177.2,97.4 176.0,97.9 174.0,99.2Z" fill="#d9f0a3"/>
<path d="M177.2,97.4 176.6,96.5 176.5,94.2 176.3,91.8 175.9,90.7 176.9,90.8 176.8,91.6 177.4,93.1 177.6,97.3Z" fill="#addd8e"/>
<path d="M177.6,97.3 177.4,93.1 176.8,91.6 176.9,90.8 177.4,90.2 178.4,89.6 178.4,89.1 179.6,89.9 179.6,91.9 178.8,93.5 178.7,97.0Z" fill="#d9f0a3"/>
<path d="M170.5,91.6 170.8,89.8 171.7,88.6 172.1,87.6 172.8,87.2 174.0,86.6 175.3,85.4 176.2,85.6 176.4,86.8 177.0,87.6 178.1,88.6 178.4,89.1 178.4,89.6 177.4,90.2 176.9,90.8 175.9,90.7 173.2,90.8 173.2,92.4 171.3,92.6Z" fill="#d9f0a3"/>
<path d="M164.0,85.8 164.6,87.8 164.7,89.0 165.4,89.6 166.8,89.0 167.8,90.6 168.1,91.9 169.9,91.4 170.5,91.6 170.8,89.8 171.7,88.6 172.1,87.6 172.8,87.2 174.0,86.6 175.3,85.4 176.2,85.6 177.3,85.1 179.4,85.0 180.1,83.5 180.1,80.1 179.2,80.3 179.1,79.2 177.7,78.6 171.4,72.5 169.8,72.5 170.5,83.5 170.6,84.9 166.8,84.9 165.5,85.0 164.7,84.8Z" fill="#d9f0a3"/>
<path d="M176.2,85.6 176.4,86.8 177.0,87.6 178.1,88.6 178.4,89.1 179.6,89.9 180.0,87.5 182.8,88.2 184.4,88.0 185.4,88.4 188.3,88.0 189.4,87.2 189.3,86.2 191.2,83.0 191.2,80.3 191.4,78.4 190.4,75.1 189.7,75.6 187.5,74.4 183.3,77.8 181.6,79.7 180.1,80.1 180.1,83.5 179.4,85.0 177.3,85.1Z" fill="#d9f0a3"/>
<path d="M178.7,97.0 180.5,97.1 181.5,98.6 182.0,99.8 183.5,99.5 184.5,99.4 184.9,97.8 186.0,96.3 187.3,96.7 187.8,96.2 188.2,94.2 189.1,92.8 189.7,90.8 190.5,90.2 190.0,89.0 189.9,88.0 189.4,87.2 188.3,88.0 185.4,88.4 184.4,88.0 182.8,88.2 180.0,87.5 179.6,89.9 179.6,91.9 178.8,93.5Z" fill="#addd8e"/>
<path d="M184.5,99.4 185.5,100.3 185.8,102.6 187.3,102.6 189.3,102.6 190.5,102.6 192.1,103.3 192.2,102.6 191.8,101.4 191.0,100.2 190.5,98.9 190.6,97.3 191.4,95.5 190.9,94.0 189.8,92.7 190.1,92.2 191.4,92.2 190.9,91.0 190.9,89.5 190.4,88.6 189.9,88.0 190.0,89.0 190.5,90.2 189.7,90.8 189.1,92.8 188.2,94.2 187.8,96.2 187.3,96.7 186.0,96.3 184.9,97.8Z" fill="#d9f0a3"/>
<path d="M185.8,102.6 187.3,102.6 187.3,104.3 185.6,104.3ZM184.5,100.6 184.9,100.6 184.7,101.2Z" fill="#d9f0a3"/>
<path d="M185.6,104.3 187.3,104.3 187.3,102.6 189.3,102.6 189.2,103.8 190.4,103.8 190.5,106.4 189.9,108.8 188.8,108.2 187.6,108.8 187.9,110.6 187.1,110.9 185.6,108.8 184.8,106.5 185.3,105.2Z" fill="#d9f0a3"/>
<path d="M187.1,110.9 187.9,110.6 187.6,108.8 188.8,108.2 189.9,108.8 190.5,106.4 190.4,103.8 189.2,103.8 189.3,102.6 190.5,102.6 192.1,103.3 192.2,102.6 192.6,100.9 194.6,100.9 194.1,102.5 193.8,105.2 193.7,106.4 192.2,108.6 191.9,110.9 191.3,111.4 190.4,112.2 189.4,112.2 189.1,111.8 188.8,111.5 188.0,112.3 187.8,111.8Z" fill="#d9f0a3"/>
<path d="M188.2,113.4 188.5,113.3 189.1,111.8 189.4,112.2 190.4,112.2 191.3,111.4 191.9,110.9 192.2,108.6 193.7,106.4 193.8,105.2 194.1,102.5 194.6,100.9 195.5,98.7 196.9,99.7 198.4,100.1 198.9,99.1 200.4,98.7 201.3,98.9 203.4,98.8 204.4,99.8 205.5,99.7 206.2,100.3 206.8,100.9 206.7,102.4 207.3,102.7 206.5,104.0 205.9,104.5 205.6,106.3 205.6,107.5 205.2,107.9 205.3,109.1 205.0,109.4 205.2,110.0 205.2,111.5 205.4,111.6 205.2,113.0 205.5,114.6 206.5,116.6 204.7,117.0 204.2,118.0 204.4,120.0 204.1,121.4 204.7,122.2 205.2,122.0 205.4,123.6 204.6,123.6 203.7,122.2 202.9,121.2 201.7,121.6 201.1,120.6 200.2,120.9 199.8,120.2 198.0,120.6 198.1,119.7 197.7,118.4 197.8,116.6 197.7,115.4 196.4,115.4 196.2,114.9 195.4,115.0 194.9,116.4 193.5,116.5 192.8,115.3 192.6,113.5 189.4,113.5 188.4,113.7Z" fill="#d9f0a3"/>
<path d="M188.4,113.7 189.4,113.5 192.6,113.5 192.8,115.3 193.5,116.5 194.9,116.4 195.4,115.0 196.2,114.9 196.4,115.4 197.7,115.4 197.8,116.6 197.7,118.4 198.1,119.7 198.0,120.6 199.8,120.2 199.7,123.0 197.7,123.0 197.6,127.3 198.9,129.1 196.9,129.6 194.0,128.9 189.9,128.9 189.1,128.3 187.5,128.7 187.6,127.8 187.9,125.7 188.3,123.7 189.2,122.4 189.7,120.0 189.3,117.4 188.8,115.4ZM188.0,112.3 188.8,111.5 189.1,111.8 188.5,113.3 188.2,113.4Z" fill="#d9f0a3"/>
<path d="M199.8,120.2 199.7,123.0 197.7,123.0 197.6,127.3 198.9,129.1 200.7,129.4 202.4,129.6 204.4,127.0 205.9,126.5 205.7,125.6 208.7,124.4 208.4,123.7 208.6,122.2 209.0,120.1 208.7,118.2 207.0,117.2 206.5,116.6 204.7,117.0 204.2,118.0 204.4,120.0 204.1,121.4 204.7,122.2 205.2,122.0 205.4,123.6 204.6,123.6 203.7,122.2 202.9,121.2 201.7,121.6 201.1,120.6 200.2,120.9Z" fill="#d9f0a3"/>
<path d="M187.5,128.7 188.2,130.9 189.0,133.4 190.0,135.8 189.9,137.4 190.2,140.6 191.5,143.3 192.4,143.4 193.9,143.7 194.8,143.0 195.1,138.5 195.3,134.9 196.3,134.9 196.5,130.0 198.8,129.6 199.8,129.6 200.7,129.4 198.9,129.1 196.9,129.6 194.0,128.9 189.9,128.9 189.1,128.3Z" fill="#d9f0a3"/>
<path d="M195.1,138.5 195.3,134.9 196.3,134.9 196.5,130.0 198.8,129.6 199.8,129.6 200.7,129.4 200.7,130.4 201.4,132.1 202.9,132.9 202.8,133.7 203.4,134.3 204.3,135.1 202.9,135.9 201.9,137.0 200.8,138.3 199.6,139.7 197.9,139.1 196.9,140.5 195.7,141.1Z" fill="#d9f0a3"/>
<path d="M191.5,143.3 191.9,145.0 192.5,148.4 192.9,149.8 192.9,150.4 194.3,150.9 196.2,150.1 198.0,150.1 199.6,150.0 201.3,149.1 202.9,147.5 204.5,145.7 205.1,144.8 206.5,143.2 207.2,141.1 206.4,141.1 205.6,141.6 205.3,141.3 205.3,140.5 205.8,139.7 206.4,140.0 206.5,137.8 206.2,135.4 204.9,135.2 204.3,135.1 202.9,135.9 201.9,137.0 200.8,138.3 199.6,139.7 197.9,139.1 196.9,140.5 195.7,141.1 195.1,138.5 194.8,143.0 193.9,143.7 192.4,143.4Z" fill="#addd8e"/>
<path d="M201.3,144.5 202.3,143.4 203.2,143.5 203.6,144.4 203.0,145.2 202.2,145.8 201.6,145.4Z" fill="#d9f0a3"/>
<path d="M205.3,140.5 205.8,139.7 206.4,140.0 206.4,141.1 205.6,141.6 205.3,141.3Z" fill="#d9f0a3"/>
<path d="M200.7,129.4 202.4,129.6 204.4,127.0 205.9,126.5 206.7,127.0 208.2,127.9 208.2,129.6 207.9,130.8 208.1,132.0 207.5,133.0 207.3,133.9 206.2,135.4 204.9,135.2 204.3,135.1 203.4,134.3 202.8,133.7 202.9,132.9 201.4,132.1 200.7,130.4Z" fill="#d9f0a3"/>
<path d="M207.2,141.1 207.0,139.9 208.0,139.0 210.0,137.4 210.2,135.1 209.9,132.9 209.7,132.0 212.0,129.5 214.2,128.1 215.9,126.3 216.2,124.8 216.0,122.5 216.1,119.7 214.1,120.9 212.1,121.3 210.7,121.2 210.2,123.0 210.8,124.9 211.3,125.6 211.1,127.0 210.6,128.5 209.7,127.0 210.0,125.3 208.7,124.4 205.7,125.6 205.9,126.5 206.7,127.0 208.2,127.9 208.2,129.6 207.9,130.8 208.1,132.0 207.5,133.0 207.3,133.9 206.2,135.4 206.5,137.8 206.4,140.0 206.4,141.1Z" fill="#d9f0a3"/>
<path d="M208.7,118.2 209.1,118.4 209.8,118.4 210.3,119.7 210.7,121.2 210.2,123.0 210.8,124.9 211.3,125.6 211.1,127.0 210.6,128.5 209.7,127.0 210.0,125.3 208.7,124.4 208.4,123.7 208.6,122.2 209.0,120.1Z" fill="#d9f0a3"/>
<path d="M216.1,119.7 215.6,117.7 215.1,115.7 215.4,114.7 214.7,113.7 215.1,111.9 213.7,110.3 213.6,109.6 210.0,106.9 206.5,106.9 206.8,108.7 206.5,108.8 206.8,110.0 206.4,110.7 205.9,111.5 205.4,111.6 205.2,113.0 205.5,114.6 206.5,116.6 207.0,117.2 208.7,118.2 209.1,118.4 209.8,118.4 210.3,119.7 210.7,121.2 212.1,121.3 214.1,120.9ZM215.1,113.4 215.5,114.1 215.2,114.2Z" fill="#d9f0a3"/>
<path d="M215.1,111.9 215.7,111.0 216.2,109.2 217.5,107.9 217.0,106.7 217.0,101.8 217.9,100.3 215.5,101.0 214.1,100.8 212.8,99.7 211.9,99.4 210.0,99.9 210.5,101.3 211.0,103.0 210.5,104.1 210.0,105.2 209.9,106.9 213.6,109.6 213.7,110.3Z" fill="#78c679"/>
<path d="M205.6,107.5 205.6,106.3 205.9,104.5 206.5,104.0 207.3,102.7 206.7,102.4 206.8,100.9 207.9,100.8 208.7,100.6 210.0,99.9 210.5,101.3 211.0,103.0 210.5,104.1 210.0,105.2 209.9,106.9 206.5,106.9Z" fill="#addd8e"/>
<path d="M205.6,107.5 206.5,106.9 206.8,108.7 206.5,108.8 205.9,109.2 205.0,109.4 205.3,109.1 205.2,107.9Z" fill="#addd8e"/>
<path d="M205.0,109.4 205.9,109.2 206.5,108.8 206.8,110.0 206.4,110.7 205.9,111.5 205.4,111.6 205.2,111.5 205.2,110.0Z" fill="#d9f0a3"/>
<path d="M217.5,107.9 218.6,105.9 220.0,104.3 221.3,102.9 223.6,99.8 224.9,97.3 225.9,94.6 226.5,92.8 226.7,91.6 226.8,89.8 226.3,89.5 224.5,90.4 222.6,90.7 220.6,91.5 219.7,91.6 218.8,90.2 218.5,90.9 219.3,93.0 219.7,93.5 220.8,94.0 222.8,94.8 223.8,94.8 220.9,98.9 219.8,99.0 218.8,99.8 217.9,100.3 217.0,101.8 217.0,106.7Z" fill="#d9f0a3"/>
<path d="M218.8,90.2 218.5,90.9 217.4,90.8 217.4,89.9 217.9,88.9 218.6,88.6 218.9,89.5 218.3,90.0Z" fill="#addd8e"/>
<path d="M218.6,88.6 217.9,88.9 217.2,87.8 216.2,86.6 214.5,86.0 213.3,85.8 212.9,86.6 212.0,86.4 211.9,85.2 212.2,82.7 213.7,81.6 214.4,83.5 214.8,84.7 215.9,85.8 216.6,86.2 217.7,87.6Z" fill="#d9f0a3"/>
<path d="M217.9,88.9 217.4,89.9 217.4,90.8 218.5,90.9 219.3,93.0 219.7,93.5 220.8,94.0 222.8,94.8 223.8,94.8 220.9,98.9 219.8,99.0 218.8,99.8 217.9,100.3 215.5,101.0 214.1,100.8 212.8,99.7 211.9,99.4 211.8,98.5 211.2,98.3 210.6,96.6 209.9,95.5 208.9,95.1 209.5,94.3 209.9,94.0 209.9,92.8 210.0,91.4 210.6,91.1 210.7,89.8 211.7,88.6 212.0,86.4 212.9,86.6 213.3,85.8 214.5,86.0 216.2,86.6 217.2,87.8Z" fill="#d9f0a3"/>
<path d="M191.4,95.5 190.6,97.3 190.5,98.9 191.0,100.2 191.8,101.4 192.2,102.6 192.6,100.9 194.6,100.9 195.5,98.7 196.9,99.7 198.4,100.1 198.9,99.1 200.4,98.7 201.3,98.9 203.4,98.8 202.3,96.7 201.1,95.4 199.9,93.9 199.4,93.5 199.4,92.3 198.7,91.0 197.8,91.2 197.5,91.4 196.3,93.4 194.9,93.5 194.8,93.8 193.6,95.0 192.5,95.2Z" fill="#d9f0a3"/>
<path d="M189.4,87.2 189.9,88.0 190.4,88.6 190.9,89.5 190.9,91.0 191.4,92.2 190.1,92.2 189.8,92.7 190.9,94.0 191.4,95.5 192.5,95.2 193.6,95.0 194.8,93.8 194.9,93.5 196.3,93.4 197.5,91.4 197.8,91.2 198.7,91.0 198.7,90.3 198.2,88.7 197.5,88.6 197.9,87.2 198.2,86.7 198.5,84.6 199.6,84.6 199.3,79.6 191.4,74.5 190.4,75.1 191.4,78.4 191.2,80.3 191.2,83.0 189.3,86.2Z" fill="#d9f0a3"/>
<path d="M224.8,121.7 225.6,126.2 224.8,128.1 224.5,129.0 223.0,132.9 221.1,138.5 219.1,139.4 218.0,138.6 217.8,135.1 219.1,132.3 219.0,129.0 220.7,126.9 221.8,126.3 223.2,125.2 224.2,123.4Z" fill="#d9f0a3"/>
<path d="M218.8,120.9 219.1,120.9 219.1,121.6 218.8,121.6Z" fill="#78c679"/>
<path d="M231.6,132.3 232.1,132.3 232.0,132.9 231.6,132.9Z" fill="#78c679"/>
<path d="M229.5,133.4 230.0,133.4 230.0,134.1 229.4,134.1Z" fill="#78c679"/>
<path d="M152.4,85.5 153.0,85.2 152.9,85.6ZM151.2,82.9 151.6,82.7 151.5,83.1Z" fill="#78c679"/>
<path d="M182.5,105.1 182.8,105.1 182.6,105.6Z" fill="#78c679"/>
<path d="M317.3,120.0 317.8,122.8 317.6,124.9 318.9,125.7 318.5,127.7 318.4,130.8 320.1,132.5 320.3,134.2 320.9,136.5 321.7,138.5 321.7,140.0 320.6,143.3 318.4,146.3 316.8,148.1 314.9,149.7 311.9,153.0 310.9,154.2 308.8,154.6 306.5,156.1 305.8,155.1 304.1,155.7 302.6,155.2 302.0,154.2 302.7,152.1 302.0,151.9 302.2,150.6 301.4,151.4 303.0,149.0 303.3,148.2 300.2,150.9 299.8,151.1 299.7,148.7 299.6,147.6 297.9,146.9 295.7,147.1 292.6,147.9 290.3,148.7 289.3,149.8 286.1,149.8 283.7,151.2 281.9,151.1 281.4,150.4 283.2,147.5 283.6,145.0 284.0,141.9 283.6,140.1 284.6,138.1 285.5,135.6 286.2,134.6 287.8,133.6 289.4,133.0 291.6,132.3 293.6,131.7 295.3,129.6 295.7,128.3 296.8,128.7 297.3,127.3 298.9,126.1 300.2,124.4 301.7,124.4 302.2,125.4 303.4,125.6 304.1,123.7 305.0,122.2 307.3,120.6 308.1,121.4 310.1,121.7 311.3,122.0 310.2,123.7 309.3,125.7 310.5,126.7 311.7,128.1 313.3,129.1 314.4,127.0 315.5,124.4 316.1,122.4ZM303.7,157.9 304.9,158.4 306.8,158.0 305.6,159.6 304.0,160.8 303.1,161.2 302.5,161.0 302.9,159.6ZM300.2,152.0 301.4,152.1 300.7,152.5 300.0,152.4ZM305.0,120.9 306.1,120.8 305.5,121.4ZM310.5,124.1 310.9,124.4 310.6,124.8Z" fill="#addd8e"/>
<path d="M334.1,150.4 334.8,151.5 334.7,153.1 334.2,154.3 336.0,154.3 336.4,154.4 334.4,156.2 333.4,156.5 332.3,157.7 329.8,159.0 329.6,158.6 331.2,157.1 330.7,156.3 331.9,155.7 333.4,153.9 333.8,152.7 333.7,151.4ZM328.6,157.7 328.8,159.1 327.5,160.0 325.7,161.1 325.5,161.6 323.5,162.0 321.4,163.8 319.6,164.6 318.6,164.6 317.5,164.1 318.1,163.5 320.8,161.9 323.1,161.1 325.4,159.9 327.7,158.2ZM317.7,164.8 318.1,164.9 317.4,165.3Z" fill="#addd8e" stroke-width="0.4"/>
<path d="M316.9,109.1 318.4,109.9 320.3,110.7 321.5,112.2 322.5,113.5 323.3,114.6 322.5,114.7 322.8,116.2 323.6,117.7 325.7,119.3 324.6,119.7 322.7,119.0 322.0,118.1 321.3,116.6 319.9,115.8 318.8,116.6 317.6,118.0 316.1,117.8 316.6,113.5ZM324.0,113.1 325.7,112.5 327.3,111.3 328.1,111.4 327.5,113.0 325.9,113.9 324.1,113.9ZM326.6,109.1 327.1,109.2 328.8,111.5 328.6,112.1 327.8,110.6ZM330.4,113.0 331.4,114.7 330.7,114.5ZM322.5,108.3 323.3,108.3 322.9,108.7Z" fill="#d9f0a3"/>
<path d="M334.7,118.2 335.6,118.9 335.3,118.2ZM335.9,116.9 336.2,118.4 335.9,118.1ZM333.6,115.7 335.0,116.9 334.5,116.9ZM332.0,114.6 332.9,115.6 332.4,115.4ZM336.0,119.4 336.9,120.1 336.3,119.8Z" fill="#d9f0a3" stroke-width="0.5"/>
<path d="M339.9,125.7 340.3,126.3 339.9,126.9ZM340.4,129.1 340.7,129.2 340.4,129.5ZM340.1,127.3 340.5,127.7 340.1,127.8Z" fill="#d9f0a3" stroke-width="0.6"/>
<path d="M335.2,132.4 336.7,134.7 336.9,135.4 336.3,135.2 335.2,133.2Z" fill="#addd8e" stroke-width="0.5"/>
<path d="M349.3,129.1 350.6,129.0 350.2,129.9 349.1,129.9ZM351.0,128.1 352.5,127.4 352.2,127.9Z" fill="#addd8e" stroke-width="0.6"/>
<path d="M5.6,123.7 6.1,123.7 6.9,124.2 6.5,124.4Z" fill="#addd8e"/>
<path d="M6.4,133.7 6.6,133.7 6.7,133.9Z" fill="#addd8e"/>
<path d="M29.7,129.0 30.2,129.1 30.1,129.5Z" fill="#addd8e"/>
<path d="M18.5,103.2 18.8,103.0 18.7,103.3Z" fill="#addd8e"/>
<path d="M98.2,46.4 101.0,45.1 102.7,44.3 104.7,45.2 104.3,46.6 102.3,46.7 99.8,46.5ZM98.9,52.1 99.7,52.1 101.0,50.6 103.6,47.5 102.3,47.5 100.4,49.0ZM104.0,47.3 105.4,47.2 107.8,47.5 107.5,48.6 105.1,50.4 104.4,50.5 103.9,49.5 104.8,48.1ZM102.9,52.0 104.9,52.2 107.3,50.9 106.3,51.0 103.9,51.6ZM106.8,50.3 109.2,50.3 110.2,49.5 108.6,49.6 107.3,49.7Z" fill="#fff" stroke-width="0.45"/>
<path d="M72.7,37.9 72.6,37.7 72.5,37.4 72.5,37.2 72.4,36.9 72.4,36.7 72.4,36.4 72.4,36.1 72.4,35.8 72.4,35.6 72.3,35.3 72.3,35.1 72.3,34.9" fill="none" stroke="#000" stroke-width="1.7" stroke-linecap="round"/><path d="M72.9,43.2 72.7,42.8 72.5,42.3 72.3,41.9 72.1,41.4 72.2,40.9 72.2,40.4 72.3,39.9 72.3,39.4 72.4,39.1 72.5,38.8 72.6,38.4 72.7,38.1" fill="none" stroke="#000" stroke-width="0.7" stroke-linecap="round"/><path d="M111.4,159.4 111.6,160.3 111.8,161.1 112.0,162.0 112.2,162.8 112.4,163.6 112.6,164.5 112.9,165.3 113.1,166.1 113.5,166.8 113.8,167.4 114.2,168.1 114.6,168.7 115.1,169.3 115.7,169.9 116.2,170.5 116.8,171.1 117.5,171.5 118.2,171.9 118.9,172.2 119.5,172.6 120.3,172.9 121.0,173.2 121.8,173.5 122.5,173.8" fill="none" stroke="#000" stroke-width="1.0" stroke-linecap="round"/><path d="M179.9,33.2 180.0,32.8 180.0,32.3 180.0,31.9 180.1,31.5 180.6,31.1 181.1,30.7 181.6,30.3 182.2,30.0 182.7,29.7 183.2,29.4 183.7,29.1 184.2,28.8 184.5,28.4 184.8,28.1 185.1,27.7 185.4,27.3 185.8,27.0 186.2,26.7 186.6,26.4 187.0,26.1 187.6,25.9 188.3,25.7 188.9,25.5 189.6,25.3 190.2,25.2 190.9,25.0 191.5,24.8 192.1,24.7" fill="none" stroke="#000" stroke-width="0.55" stroke-linecap="round"/><path d="M171.3,36.9 171.2,36.6 171.1,36.2 171.1,35.9 171.0,35.5 171.2,35.3 171.4,35.1 171.6,34.9 171.8,34.7" fill="none" stroke="#000" stroke-width="0.6" stroke-linecap="round"/><path d="M197.5,56.4 197.9,56.7 198.3,57.0 198.6,57.3 199.0,57.6 199.2,57.2 199.4,56.7 199.5,56.3 199.7,55.8 199.3,55.5 198.9,55.1 198.6,54.7 198.2,54.3" fill="none" stroke="#000" stroke-width="0.5" stroke-linecap="round"/>
</g>
<g font-size="5.3" fill="#111"><text x="38.8" y="119.8">Proportion (%)</text>
<rect x="38.9" y="124.50" width="9.9" height="5.1" fill="#b2b2b2" stroke="#333" stroke-width="0.45"/><text x="50.8" y="128.90">No data</text>
<rect x="38.9" y="132.26" width="9.9" height="5.1" fill="#d9f0a3" stroke="#333" stroke-width="0.45"/><text x="50.8" y="136.66">0-20</text>
<rect x="38.9" y="140.02" width="9.9" height="5.1" fill="#addd8e" stroke="#333" stroke-width="0.45"/><text x="50.8" y="144.42">20-40</text>
<rect x="38.9" y="147.78" width="9.9" height="5.1" fill="#78c679" stroke="#333" stroke-width="0.45"/><text x="50.8" y="152.18">40-60</text>
<rect x="38.9" y="155.54" width="9.9" height="5.1" fill="#31a354" stroke="#333" stroke-width="0.45"/><text x="50.8" y="159.94">60-80</text>
<rect x="38.9" y="163.30" width="9.9" height="5.1" fill="#006837" stroke="#333" stroke-width="0.45"/><text x="50.8" y="167.70">80-100</text>
</g>
<g transform="translate(329.4,0)" clip-path="url(#mclip)" stroke="#000" stroke-width="0.26" stroke-linejoin="round">
<path d="M295.6,24.3 296.2,24.3 297.0,24.7 295.9,24.6ZM159.5,77.9 159.7,76.5 160.6,74.2 162.3,70.8 163.7,69.1 165.2,68.3 166.4,67.0 167.0,65.7 166.9,64.3 167.4,63.1 168.2,62.1 169.8,61.2 170.6,59.1 171.1,58.9 171.9,59.8 173.3,59.7 174.0,59.9 176.0,58.9 177.2,58.2 178.7,57.9 180.8,57.9 182.6,57.5 183.8,57.7 184.8,57.3 185.9,57.6 185.5,58.3 185.6,59.4 186.1,60.5 185.3,61.0 185.2,61.5 186.6,62.3 188.2,62.6 190.1,63.3 190.6,64.4 192.3,65.1 193.7,65.8 194.6,64.9 194.6,63.3 195.9,62.6 197.3,63.0 199.3,64.1 201.4,64.6 203.0,65.1 204.2,64.3 205.0,64.2 206.0,64.6 207.8,64.6 208.2,63.7 208.3,62.3 208.9,60.4 208.6,58.9 208.7,58.1 208.1,58.1 207.2,57.9 206.4,58.7 203.6,57.9 203.5,58.5 202.2,58.1 201.3,58.0 200.6,57.6 200.4,56.0 199.6,56.1 199.9,55.3 199.2,54.7 199.2,54.1 200.3,53.6 201.6,53.6 201.7,52.7 203.5,52.8 205.1,51.8 206.6,51.7 208.1,52.6 209.9,52.9 211.6,52.8 212.5,52.3 212.5,51.8 212.1,51.0 208.9,49.1 207.7,48.5 207.5,48.1 208.0,48.0 208.3,47.3 208.4,46.6 209.1,46.1 208.3,46.0 205.7,47.1 207.2,48.1 204.8,49.0 203.8,48.0 204.5,47.3 202.1,46.7 201.4,48.1 200.7,49.8 200.5,51.8 201.5,52.6 201.5,52.9 200.2,53.0 199.6,53.6 198.9,53.3 197.5,53.0 197.2,53.7 196.3,53.6 196.0,54.1 196.8,55.0 196.4,55.5 197.5,56.2 196.8,56.6 196.9,57.3 196.6,58.2 196.3,58.2 195.6,57.9 195.0,56.7 194.9,56.0 194.5,55.3 194.0,54.4 193.2,53.7 193.0,51.9 192.1,51.2 189.9,50.1 189.1,49.3 188.8,48.3 188.2,48.2 187.9,48.6 187.5,48.0 187.7,47.7 186.5,48.1 186.7,49.2 187.8,50.1 188.8,51.6 190.0,51.9 190.0,52.4 191.8,53.3 192.4,53.7 192.3,54.2 191.0,53.5 190.7,54.4 191.2,55.3 190.8,56.0 190.0,56.4 190.3,55.5 189.9,54.1 188.7,53.4 188.1,52.7 186.7,52.0 185.1,50.8 184.8,49.6 183.6,49.1 181.4,50.5 179.9,50.2 178.6,50.4 178.8,51.3 178.8,51.9 177.9,52.6 176.4,53.5 175.7,54.8 176.2,55.5 175.6,56.2 175.3,56.9 174.2,57.9 172.0,58.0 171.1,58.7 169.3,57.4 168.0,57.6 168.1,56.0 167.5,55.6 168.1,53.9 168.3,51.9 167.9,50.6 169.1,49.8 171.0,49.9 172.7,50.1 174.4,50.2 175.0,48.8 175.0,47.1 173.9,45.9 172.4,45.3 172.1,44.7 173.5,44.3 174.7,44.4 174.4,43.3 175.0,43.6 176.2,43.3 177.2,42.9 177.3,42.2 178.8,41.5 179.2,40.9 179.8,39.9 180.8,39.5 181.7,39.4 183.1,39.0 182.8,38.0 182.5,37.9 182.3,36.0 184.1,35.3 184.0,36.5 184.5,36.7 183.7,37.7 183.5,38.1 184.8,38.9 185.7,38.6 187.3,39.0 189.1,38.4 190.5,38.1 190.8,38.4 191.7,38.5 191.8,38.0 192.6,37.6 192.5,36.9 192.5,35.6 193.4,35.3 194.8,35.8 194.8,35.1 193.9,34.4 193.8,33.9 195.4,33.6 197.3,33.7 197.9,33.3 198.8,33.3 197.4,32.8 196.8,32.8 193.2,33.3 191.9,32.3 191.7,30.8 193.6,29.5 194.1,29.0 193.1,28.4 191.6,28.4 191.1,29.4 188.9,31.1 188.9,32.3 190.2,33.4 189.0,34.4 188.8,35.5 188.5,36.8 187.2,37.4 186.2,37.5 186.0,36.8 185.3,36.0 184.7,34.8 184.7,34.1 184.0,34.1 182.1,35.0 180.2,34.3 179.7,32.8 179.7,31.5 181.1,30.6 183.2,29.8 184.2,29.0 185.2,27.8 186.4,26.5 188.3,25.5 190.2,25.2 192.8,24.6 194.8,24.6 197.0,25.1 197.1,25.6 200.7,25.9 204.1,26.9 204.8,27.7 203.2,28.1 199.2,27.8 201.0,29.4 202.8,29.9 203.4,29.6 205.1,29.3 204.4,28.5 205.6,27.9 207.1,28.1 206.5,27.1 206.5,26.4 207.8,26.6 208.6,27.5 209.4,27.0 212.6,26.5 213.4,26.6 217.5,26.0 217.1,25.4 219.8,25.8 223.0,26.5 221.6,25.6 221.0,24.6 221.1,23.5 221.9,23.3 223.8,23.5 224.7,24.6 225.4,26.0 226.8,27.4 227.2,27.1 227.0,26.3 225.7,24.6 225.4,23.5 227.7,23.9 228.7,23.1 229.6,24.0 231.7,24.6 232.2,25.1 230.9,23.0 232.1,22.9 232.2,22.4 233.7,22.0 236.6,21.7 239.6,21.5 241.6,20.9 243.8,21.3 247.2,21.5 248.8,22.0 246.8,22.7 249.1,23.0 253.4,23.2 257.0,23.0 258.8,23.1 260.0,23.7 262.3,24.4 264.1,24.8 266.1,24.2 268.8,24.3 268.6,23.7 272.7,23.8 278.8,24.7 282.2,24.7 284.9,25.5 289.2,25.6 291.4,25.3 292.9,26.0 293.6,25.4 295.8,25.5 299.4,26.0 304.7,28.9 303.9,29.3 303.4,29.2 307.2,30.6 307.7,31.2 305.5,31.6 304.9,32.8 304.4,33.3 300.8,32.9 300.4,33.4 300.2,34.1 300.4,35.1 301.5,35.2 303.6,36.8 304.2,38.1 304.5,39.7 304.4,40.9 304.2,41.9 301.1,39.9 298.9,37.9 297.4,36.0 296.8,34.6 296.5,33.2 297.1,32.5 297.2,31.8 296.8,31.1 294.5,31.6 292.3,31.9 293.0,33.7 290.3,33.7 288.6,33.9 286.0,33.9 284.2,33.9 283.7,36.0 283.1,38.2 285.6,38.9 286.6,39.1 288.6,39.7 289.7,40.3 290.9,41.9 293.3,44.6 293.4,46.2 292.9,50.1 291.7,50.9 290.6,50.4 289.7,52.1 290.3,53.0 289.1,54.3 290.8,55.7 292.5,57.4 293.2,58.2 293.8,59.8 293.5,60.3 291.5,60.6 291.0,59.3 290.0,58.0 290.2,57.6 289.3,56.7 287.8,56.3 287.8,55.7 287.4,54.7 286.3,54.1 285.3,54.6 284.4,55.4 284.0,53.5 282.6,53.0 282.0,54.3 281.1,55.0 281.2,55.7 282.7,56.6 283.5,57.4 284.5,56.7 286.4,57.3 285.4,58.1 284.8,60.0 286.2,61.0 287.7,63.0 289.1,64.1 289.5,65.1 288.6,65.8 290.2,66.4 290.6,68.3 290.0,69.3 289.9,71.2 289.5,72.9 288.9,73.8 288.1,74.7 282.9,77.4 283.0,78.6 282.0,77.0 280.8,76.7 280.4,76.9 279.4,78.4 279.0,80.3 279.9,81.6 280.9,82.9 282.3,84.1 283.3,86.2 284.0,88.2 284.1,89.8 282.9,91.0 282.0,91.6 280.8,93.5 280.3,94.0 280.1,92.4 279.6,91.6 278.7,91.4 278.6,90.7 278.0,90.4 277.9,90.0 277.2,89.2 275.7,88.7 275.6,87.6 274.7,87.6 274.9,89.5 274.4,91.6 274.7,93.1 275.5,94.0 276.0,95.5 276.6,96.3 277.8,97.2 279.2,99.1 279.3,100.9 280.2,103.7 280.0,103.9 279.5,103.8 277.2,101.7 276.5,100.2 275.8,96.9 274.9,95.9 273.9,95.1 273.8,94.4 273.8,92.2 273.6,89.8 272.2,85.5 271.7,83.5 270.9,83.0 269.5,84.5 268.5,84.2 268.0,80.9 266.9,79.6 265.4,78.0 264.2,75.8 263.3,75.8 263.2,76.5 262.1,76.7 260.3,76.9 260.2,77.9 258.7,79.7 257.6,81.8 256.6,83.4 254.7,85.1 255.3,87.9 255.1,89.5 255.2,91.8 254.7,93.1 253.7,93.6 253.1,94.7 251.6,92.2 250.0,88.4 249.2,86.2 247.9,83.5 246.9,80.3 246.5,77.6 246.0,76.0 245.7,77.3 244.3,77.9 242.5,76.1 243.0,75.7 242.4,76.0 241.4,74.2 240.2,72.7 239.5,72.1 237.0,72.1 234.8,72.2 230.6,71.6 229.9,69.8 229.1,70.2 227.7,70.4 226.2,69.9 224.6,68.8 223.7,67.3 222.7,65.9 221.7,65.5 221.5,66.3 220.9,66.2 221.4,66.8 221.6,68.0 222.3,69.2 223.4,70.3 223.8,71.7 224.6,72.8 224.4,71.8 224.7,71.0 225.1,71.5 225.4,73.5 228.0,73.4 228.4,72.0 229.3,71.1 229.6,70.7 229.9,72.6 230.6,73.8 232.2,74.3 233.6,75.7 233.1,78.3 232.0,78.6 232.3,80.3 231.1,81.6 229.8,82.2 228.0,83.3 227.3,84.7 224.7,85.9 223.3,86.8 220.5,88.4 219.0,88.6 218.2,85.8 218.0,83.7 213.8,77.0 212.9,74.0 210.9,71.5 209.2,68.7 208.6,68.6 208.8,66.8 208.5,68.7 208.4,69.0 207.7,68.4 206.5,66.2 206.6,66.8 207.6,68.9 208.3,70.6 210.0,73.8 210.4,74.8 211.6,76.3 212.0,77.6 212.3,79.6 213.7,81.6 214.8,84.7 215.9,85.8 216.6,86.2 218.6,88.6 218.9,89.5 218.3,90.0 218.8,90.2 219.7,91.6 220.6,91.5 222.6,90.7 224.5,90.4 226.3,89.5 226.8,89.8 226.7,91.6 226.5,92.8 224.9,97.3 223.6,99.8 221.3,102.9 218.6,105.9 217.5,107.9 216.2,109.2 215.7,111.0 215.1,111.9 214.7,113.7 215.4,114.7 215.1,115.7 215.6,117.7 216.1,119.7 216.0,122.5 216.2,124.8 215.9,126.3 214.2,128.1 212.0,129.5 209.7,132.0 209.9,132.9 210.2,135.1 210.0,137.4 208.0,139.0 207.0,139.9 207.2,141.1 206.5,143.2 204.5,145.7 202.9,147.5 201.3,149.1 199.6,150.0 198.0,150.1 196.2,150.1 194.3,150.9 192.9,150.4 192.9,149.8 192.5,148.4 191.9,145.0 191.5,143.3 190.2,140.6 189.9,137.4 190.0,135.8 189.0,133.4 187.5,128.7 187.6,127.8 187.9,125.7 188.3,123.7 189.2,122.4 189.7,120.0 189.3,117.4 188.8,115.4 188.4,113.7 188.2,113.4 188.0,112.3 187.8,111.8 185.6,108.8 184.8,106.5 185.6,104.3 185.8,102.6 185.5,100.3 184.5,99.4 182.0,99.8 181.5,98.6 180.5,97.1 178.7,97.0 177.2,97.4 176.0,97.9 174.0,99.2 172.9,98.7 171.0,98.7 168.5,99.7 167.0,98.9 165.2,97.1 164.5,96.2 163.6,95.6 162.9,94.3 162.8,93.4 161.0,90.9 160.2,90.0 159.5,89.0 159.4,87.4 158.8,85.9 159.8,84.1 160.3,81.6 160.0,79.7ZM215.2,114.2 215.1,113.4 215.5,114.1ZM351.0,128.1 352.5,127.4 352.2,127.9ZM349.3,129.1 350.6,129.0 350.2,129.9 349.1,129.9ZM329.8,159.0 329.6,158.6 331.2,157.1 330.7,156.3 331.9,155.7 333.4,153.9 333.8,152.7 333.7,151.4 334.1,150.4 334.8,151.5 334.7,153.1 334.2,154.3 336.0,154.3 336.4,154.4 334.4,156.2 333.4,156.5 332.3,157.7ZM320.6,41.1 320.9,41.3 317.8,40.8 315.1,40.2 314.7,39.9 317.5,40.5ZM318.6,164.6 317.5,164.1 318.1,163.5 320.8,161.9 323.1,161.1 325.4,159.9 327.7,158.2 328.6,157.7 328.8,159.1 327.5,160.0 325.7,161.1 325.5,161.6 323.5,162.0 321.4,163.8 319.6,164.6ZM340.4,129.1 340.7,129.2 340.4,129.5ZM317.4,165.3 317.7,164.8 318.1,164.9ZM340.1,127.8 340.1,127.3 340.5,127.7ZM339.9,126.9 339.9,125.7 340.3,126.3ZM336.3,135.2 335.2,133.2 335.2,132.4 336.7,134.7 336.9,135.4ZM336.0,119.4 336.9,120.1 336.3,119.8ZM335.9,116.9 336.2,118.4 335.9,118.1ZM334.7,118.2 335.3,118.2 335.6,118.9ZM333.6,115.7 335.0,116.9 334.5,116.9ZM332.0,114.6 332.9,115.6 332.4,115.4ZM303.8,43.0 304.0,42.2 304.3,43.0ZM330.4,113.0 331.4,114.7 330.7,114.5ZM301.4,151.4 303.0,149.0 303.3,148.2 300.2,150.9 299.8,151.1 299.6,147.6 297.9,146.9 295.7,147.1 292.6,147.9 290.3,148.7 289.3,149.8 286.1,149.8 283.7,151.2 281.9,151.1 281.4,150.4 283.2,147.5 284.0,141.9 283.6,140.1 284.6,138.1 285.5,135.6 286.2,134.6 287.8,133.6 291.6,132.3 293.6,131.7 295.3,129.6 295.7,128.3 296.8,128.7 297.3,127.3 298.9,126.1 300.2,124.4 301.7,124.4 302.2,125.4 303.4,125.6 304.1,123.7 305.0,122.2 307.3,120.6 308.1,121.4 311.3,122.0 310.2,123.7 309.3,125.7 310.5,126.7 311.7,128.1 313.3,129.1 314.4,127.0 315.5,124.4 316.1,122.4 317.3,120.0 317.8,122.8 317.6,124.9 318.9,125.7 318.5,127.7 318.4,130.8 320.1,132.5 320.3,134.2 320.9,136.5 321.7,138.5 321.7,140.0 320.6,143.3 318.4,146.3 316.8,148.1 314.9,149.7 311.9,153.0 310.9,154.2 308.8,154.6 306.5,156.1 305.8,155.1 304.1,155.7 302.6,155.2 302.0,154.2 302.7,152.1 302.0,151.9 302.2,150.6ZM328.6,112.1 327.8,110.6 326.6,109.1 327.1,109.2 328.8,111.5ZM325.7,112.5 327.3,111.3 328.1,111.4 327.5,113.0 325.9,113.9 324.1,113.9 324.0,113.1ZM303.6,47.3 304.2,46.0 304.2,47.0ZM316.1,117.8 315.1,116.5 313.3,116.9 314.1,115.3 313.7,113.0 311.8,111.8 309.8,110.9 308.8,111.1 308.7,110.0 307.9,109.4 309.6,108.6 308.0,108.3 307.0,107.4 307.0,106.7 308.5,106.1 310.0,106.7 310.2,109.0 311.2,110.0 312.9,108.4 314.5,108.0 316.9,109.1 318.4,109.9 320.3,110.7 323.3,114.6 322.5,114.7 322.8,116.2 323.6,117.7 325.7,119.3 324.6,119.7 322.7,119.0 322.0,118.1 321.3,116.6 319.9,115.8 318.8,116.6 317.6,118.0ZM272.5,22.1 268.8,22.2 268.0,22.9 264.3,22.2 264.1,21.7 271.1,21.7ZM301.6,49.0 302.8,47.8 302.3,48.8ZM303.7,157.9 304.9,158.4 306.8,158.0 305.6,159.6 304.0,160.8 303.1,161.2 302.5,161.0 302.9,159.6ZM322.9,108.7 322.5,108.3 323.3,108.3ZM298.9,52.4 297.8,50.4 298.6,50.3 297.1,48.0 299.0,49.0 301.1,49.2 302.3,50.4 301.4,51.8 299.4,51.2 298.6,51.6ZM293.1,43.0 290.9,40.9 288.9,38.6 290.7,39.6 292.2,40.9 294.1,43.0 296.1,44.0 296.3,45.7 297.8,47.0 296.8,47.3ZM296.1,61.2 296.5,60.1 297.1,59.3 299.2,59.3 299.4,58.8 299.2,57.3 300.0,57.9 300.6,57.0 300.8,55.8 300.1,54.1 299.3,52.7 300.1,52.5 301.0,53.5 302.2,54.7 302.3,56.1 303.2,57.6 303.6,58.8 304.1,59.2 303.7,60.0 302.9,60.5 302.4,60.4 301.3,60.5 301.4,60.9 300.9,61.8 299.1,60.4 297.8,60.9 297.3,61.4ZM296.2,61.4 297.7,62.5 298.1,64.4 297.7,64.9 297.0,64.6 296.3,63.1 295.4,62.1ZM301.4,152.1 300.7,152.5 300.0,152.4 300.2,152.0ZM310.6,124.8 310.5,124.1 310.9,124.4ZM309.9,113.4 310.5,113.1 310.2,114.6ZM299.7,61.5 298.7,62.7 297.8,62.1 297.5,61.6 298.9,60.9ZM306.9,116.4 306.5,115.7 307.2,115.3ZM305.0,120.9 306.1,120.8 305.5,121.4ZM306.7,109.9 306.2,110.7 304.0,110.3 303.9,109.6ZM303.9,102.6 304.7,104.3 304.0,105.6 304.3,106.7 303.7,106.0 303.8,104.5 303.5,103.2ZM297.4,71.1 297.7,70.2 297.7,71.0ZM300.3,117.7 302.6,116.9 302.1,117.6 300.3,118.4 299.5,119.3 298.5,119.4 299.6,118.1ZM302.9,109.9 302.9,110.7 301.9,110.6 301.9,109.9ZM292.6,62.2 292.2,62.1 292.7,61.8ZM300.7,97.5 299.6,96.9 299.7,95.6 298.8,95.5 297.6,96.2 298.8,94.0 300.1,93.5 300.6,92.4 301.7,94.2 302.1,96.5 301.1,98.1ZM300.5,90.6 300.3,92.0 299.4,90.8 298.9,88.8ZM299.0,104.9 297.0,105.1 296.2,106.8 299.3,106.8 298.8,107.8 297.7,108.2 299.0,111.4 298.7,112.9 297.8,111.9 296.9,109.2 296.3,109.5 296.1,113.1 295.2,113.0 295.7,110.3 294.7,109.4 295.3,106.9 295.8,105.3 296.8,103.8 299.0,104.3 301.0,103.4 300.5,105.1ZM297.4,87.9 296.2,87.2 295.1,87.1 294.8,86.2 294.0,85.5 294.1,84.2 293.6,80.9 295.2,80.9 295.9,83.5 295.4,84.6 295.9,86.6 297.0,86.6 298.3,87.1 298.4,88.3ZM298.5,91.5 298.4,93.4 297.6,92.6 297.5,91.2 296.9,91.5 296.8,89.8 297.9,90.2ZM290.4,116.5 292.1,116.8 294.4,116.8 296.4,116.9 298.4,116.6 298.1,117.3 295.3,117.6 292.3,117.7 290.5,117.4ZM292.6,76.5 291.5,75.1 291.6,73.1 291.9,72.1 292.5,72.5 292.7,74.4ZM294.8,87.6 296.0,87.9 295.9,89.2 295.4,88.7ZM294.2,118.2 295.9,118.9 295.1,119.4ZM292.6,94.3 292.8,93.5 294.1,91.6 294.6,90.4 294.5,91.4ZM285.6,102.9 287.2,103.6 287.3,102.1 288.9,101.3 289.8,99.4 291.0,98.9 292.4,96.2 293.3,97.0 295.0,98.6 294.0,99.8 293.4,100.0 293.7,100.9 294.0,102.6 295.0,104.3 293.8,104.5 293.5,106.7 292.5,107.8 292.2,110.0 291.9,111.0 290.5,111.1 290.4,110.2 288.9,109.9 287.6,110.3 286.1,109.6 286.2,107.9 285.0,105.9 285.0,103.8ZM285.5,116.4 283.5,116.1 282.0,115.6 280.8,114.7 282.2,113.7 284.0,114.1 286.5,114.2 288.3,114.9 289.9,116.0 289.8,117.3ZM283.8,79.1 283.7,80.6 282.9,81.3 282.0,80.8 281.8,80.0 282.3,78.9ZM283.9,109.9 283.5,109.1 284.2,109.2ZM278.2,111.0 276.9,109.2 276.3,106.9 275.0,105.2 274.7,103.3 271.9,99.8 271.1,98.1 273.3,98.6 274.2,99.8 275.9,101.7 276.4,102.5 277.5,102.9 279.8,105.6 279.5,106.9 281.9,109.6 281.3,107.9 282.2,107.9 282.6,109.6 281.9,109.6 281.5,113.4 280.3,113.5 280.1,113.0ZM238.6,20.7 235.7,20.3 235.0,19.7 237.3,19.6 241.6,20.5ZM274.6,106.9 275.3,108.0 274.9,108.0ZM273.0,103.7 273.5,104.3 273.9,104.8ZM267.5,87.5 267.8,87.8 267.9,90.0 267.6,89.8ZM255.4,93.8 255.3,92.6 255.6,92.4 256.8,94.0 257.6,95.8 257.5,97.0 256.4,97.7 255.8,97.1 255.5,95.5ZM213.4,23.7 212.7,23.6 213.1,22.8 214.5,22.0 217.8,21.3 219.9,21.5 217.7,22.0 214.5,22.9ZM204.3,19.8 206.6,19.6 211.3,19.3 215.2,19.6 212.9,19.8 208.1,20.0ZM231.6,132.3 232.1,132.3 232.0,132.9 231.6,132.9ZM229.5,133.4 230.0,133.4 230.0,134.1 229.4,134.1ZM228.8,88.7 229.9,88.7 229.4,89.1ZM219.1,132.3 219.0,129.0 220.7,126.9 221.8,126.3 223.2,125.2 224.2,123.4 224.8,121.7 225.6,126.2 224.8,128.1 223.0,132.9 221.1,138.5 219.1,139.4 218.0,138.6 217.8,135.1ZM209.9,26.1 209.3,26.0 210.2,25.8ZM218.8,120.9 219.1,120.9 219.1,121.6 218.8,121.6ZM207.0,60.0 206.2,60.5 205.5,60.0 206.0,59.5 207.4,59.2ZM184.2,20.8 182.9,20.5 185.3,20.0 188.9,19.9 192.7,19.9 187.4,21.2 185.5,21.2ZM199.9,60.0 197.9,60.0 197.4,59.7 198.3,59.3 200.0,59.7ZM192.9,34.8 193.6,34.5 193.4,35.1ZM190.5,35.7 190.1,35.9 190.6,35.1ZM189.6,58.0 187.2,56.9 187.2,56.6 190.0,56.1ZM188.9,58.8 189.3,58.9 189.2,59.1ZM185.9,37.5 185.5,38.0 184.7,37.6 184.9,37.0 185.8,36.8ZM183.5,55.3 183.2,53.0 184.1,52.7 184.6,53.2 184.6,55.0ZM184.1,52.5 183.5,51.9 183.5,51.3 184.2,50.6 184.3,51.8ZM184.7,101.2 184.5,100.6 184.9,100.6ZM182.5,105.1 182.8,105.1 182.6,105.6ZM178.0,54.6 178.8,54.1 179.0,54.8 178.6,54.9ZM172.2,37.7 171.7,36.8 171.5,35.5 172.2,34.5 173.7,34.5 173.5,35.3 174.5,35.4 174.3,36.8 174.8,37.7 175.8,38.7 176.2,39.9 177.4,40.2 177.1,41.7 175.2,42.3 173.1,42.7 171.3,42.9 172.5,41.8 173.4,41.5 171.8,41.1 172.6,40.4 172.4,39.6 173.6,39.1 173.2,38.0 172.0,38.1ZM175.3,32.5 175.1,33.3 174.9,33.2ZM169.4,37.8 171.4,37.7 171.6,38.5 171.1,38.8 171.2,39.6 170.9,40.7 169.1,41.3 167.9,41.3 167.6,40.8 168.3,40.3 168.5,39.8 168.1,39.5 168.0,38.7 169.3,38.3ZM171.2,35.7 170.2,35.8 171.3,34.6ZM164.0,21.2 163.4,22.2 161.5,23.7 161.1,25.0 158.1,26.3 153.8,26.7 149.7,28.4 147.4,29.0 145.0,31.5 143.2,33.2 142.1,33.3 140.2,32.3 138.9,30.2 138.3,27.8 139.5,26.3 141.2,25.6 139.2,25.0 139.6,23.7 138.8,22.0 135.8,21.6 132.6,21.7 131.2,21.1 130.4,20.5 134.1,19.9 139.5,19.2 148.8,19.0 156.7,18.8 168.7,19.4 164.9,19.9ZM163.3,67.2 163.4,67.5 162.7,68.6 162.6,67.9ZM160.8,30.0 159.6,29.9 160.2,29.4 158.8,29.1 158.6,28.6 160.5,27.9 163.3,28.1 164.7,27.8 165.7,28.6 166.3,29.0 165.2,29.6 162.5,30.3ZM161.4,69.0 161.1,68.6 161.5,68.6ZM160.5,68.7 160.1,68.3 160.8,67.9ZM152.9,85.6 152.4,85.5 153.0,85.2ZM151.5,83.1 151.2,82.9 151.6,82.7ZM61.1,26.4 63.4,26.1 66.3,25.2 69.7,24.8 71.2,24.4 79.9,25.6 82.6,26.1 85.3,25.6 89.3,25.2 90.6,25.7 93.7,25.4 96.2,25.9 97.0,25.0 96.5,24.3 98.2,23.5 101.3,23.1 103.5,23.5 106.9,23.4 105.9,24.3 107.5,25.3 106.0,26.0 98.1,26.3 97.1,26.1 97.5,26.9 100.4,26.8 101.6,26.3 103.6,26.3 105.1,26.9 107.9,26.9 109.6,26.6 110.1,26.2 109.8,26.3 107.8,26.0 109.8,25.3 110.7,25.8 113.4,24.1 113.6,25.0 113.6,25.6 113.9,26.3 114.7,27.1 116.1,27.1 117.7,26.0 120.2,25.5 119.9,26.3 118.6,27.4 116.7,28.0 114.9,28.0 114.5,29.0 112.4,29.8 110.2,30.2 107.3,31.5 104.8,33.2 103.8,34.3 104.3,36.0 106.2,36.0 107.5,36.9 109.0,37.6 111.0,37.8 109.9,39.9 110.0,41.4 111.1,41.6 112.6,39.9 113.3,38.4 115.7,36.9 117.2,35.1 116.3,34.1 118.2,32.3 118.7,31.1 120.8,31.2 123.8,32.3 123.1,34.1 123.9,34.8 125.8,34.1 127.6,32.9 128.0,35.1 128.2,36.9 130.0,38.4 131.0,39.9 130.8,40.9 129.6,41.4 127.5,42.7 122.5,42.8 120.5,43.5 117.8,45.1 116.2,46.1 117.6,45.5 120.2,44.2 122.5,44.2 121.1,45.1 121.3,46.2 121.6,47.1 121.6,46.3 123.4,46.7 122.7,47.4 123.6,47.6 125.3,46.4 125.0,47.3 123.8,48.2 121.4,49.0 119.1,50.1 119.1,49.0 120.9,48.0 118.6,48.3 118.5,48.7 115.5,49.8 114.4,51.0 114.7,52.0 110.7,53.4 110.0,54.7 108.5,55.8 107.6,57.5 107.1,57.7 107.2,59.7 103.9,61.5 100.6,64.3 100.0,65.5 100.1,68.4 99.8,71.2 99.2,72.2 98.5,72.2 97.9,68.9 98.2,67.4 97.4,66.2 96.1,66.5 95.2,65.7 92.4,65.9 92.2,67.3 91.0,67.2 89.8,66.7 87.9,66.7 84.5,68.7 83.4,71.2 82.4,73.8 81.7,76.0 81.8,77.9 82.3,79.9 84.0,81.3 85.8,80.8 86.8,80.9 88.1,79.2 88.5,77.6 90.5,77.0 91.9,77.0 91.9,77.9 90.9,79.6 90.3,81.2 90.0,80.9 89.9,82.2 89.1,83.9 88.7,84.3 89.4,84.6 91.6,84.3 93.0,84.5 94.2,85.5 93.0,90.8 94.0,92.7 95.5,93.8 96.9,92.7 99.0,93.9 99.6,94.0 100.9,92.8 101.3,91.1 104.2,89.8 105.5,89.0 105.4,89.8 105.0,91.0 105.3,91.5 106.5,90.3 106.8,89.2 107.9,90.3 108.4,91.4 110.5,91.4 112.0,91.9 113.7,91.2 114.6,91.2 114.0,92.2 115.4,92.8 117.7,96.2 119.0,97.5 122.1,97.8 123.2,98.5 124.4,99.9 126.0,103.2 126.0,105.6 128.0,106.5 130.0,107.1 131.5,109.0 134.0,109.4 136.0,109.4 137.5,110.6 139.1,112.2 140.8,112.6 141.3,115.3 141.1,117.7 138.0,123.0 137.6,125.7 137.7,129.4 137.4,131.9 136.5,134.9 135.6,136.0 134.5,136.1 133.1,136.5 131.5,137.4 130.2,139.1 129.9,140.9 130.1,143.0 129.2,144.9 127.6,147.9 127.0,149.7 125.9,151.1 124.7,151.1 123.0,150.4 122.4,149.8 122.5,150.4 123.9,151.5 124.3,152.6 124.7,153.1 124.4,154.8 123.3,155.6 120.7,155.8 121.0,157.7 118.8,158.3 119.3,160.0 120.5,160.0 119.4,161.1 119.9,162.8 118.6,163.9 120.5,165.5 120.1,167.7 119.3,168.7 120.7,170.7 120.7,170.9 122.2,172.3 124.3,173.0 123.5,173.3 122.0,173.2 123.2,173.6 123.3,174.3 121.3,173.8 119.3,172.8 117.0,171.6 114.9,169.8 113.2,167.2 112.2,165.0 112.6,163.4 112.1,161.1 111.3,159.4 110.7,157.1 109.8,153.8 109.8,151.8 109.9,148.7 109.2,145.4 108.7,143.2 108.7,140.0 108.0,133.6 107.3,130.1 106.1,128.7 102.1,126.2 100.8,124.2 97.4,116.6 96.4,114.9 95.1,113.7 94.8,111.9 95.8,110.2 96.1,109.0 95.1,108.6 95.1,106.9 96.1,104.4 97.2,103.6 97.5,102.1 98.6,100.2 98.9,98.1 98.9,96.2 98.4,95.9 97.9,94.4 96.7,93.9 96.0,95.6 94.6,95.5 92.7,94.2 91.9,92.8 90.8,92.2 91.1,90.7 89.4,88.3 89.7,88.2 89.4,87.8 88.6,88.0 87.1,87.2 85.9,87.0 83.7,84.2 82.8,83.9 81.2,84.6 79.4,83.8 76.4,81.6 75.0,81.0 73.9,79.6 73.5,78.4 74.2,77.0 74.1,75.1 73.2,73.1 71.8,71.6 72.1,70.3 71.6,68.8 70.6,67.4 70.8,64.9 69.5,63.9 69.0,65.5 69.4,67.4 69.6,69.3 70.1,71.2 70.4,73.5 70.8,74.8 70.0,75.1 68.9,72.9 69.2,71.2 68.0,69.9 67.4,68.9 68.5,68.0 67.7,66.4 67.6,64.3 67.9,62.5 67.3,61.2 65.8,60.6 65.8,58.1 66.0,56.7 65.9,54.7 66.1,53.6 67.3,51.8 67.8,50.6 70.7,47.1 71.8,44.7 72.8,44.8 71.5,44.3 70.6,43.0 70.9,42.2 72.3,42.7 73.2,44.2 72.9,44.9 72.9,45.7 73.9,44.0 73.5,44.0 73.7,42.5 71.7,41.9 72.6,40.4 72.6,38.6 73.2,37.9 72.3,38.1 70.9,37.9 71.2,36.5 71.1,35.1 71.0,34.1 70.2,33.5 69.0,33.2 67.5,33.2 66.9,32.5 62.2,33.9 60.4,34.1 62.4,32.8 64.2,32.2 62.4,32.5 59.8,33.7 57.9,34.6 55.0,35.7 52.3,36.7 49.1,37.6 47.0,38.1 45.2,38.4 51.3,36.5 54.2,35.4 56.1,34.3 54.7,34.4 52.4,34.4 54.0,33.2 52.7,32.8 52.9,31.8 55.2,30.8 56.4,30.5 59.1,30.1 60.2,29.4 58.7,29.4 56.5,29.2 56.5,28.5 58.7,28.1 60.8,27.8 61.5,28.1 61.7,27.3 61.5,26.6ZM45.3,38.3 44.7,38.7 40.9,39.9 36.7,40.7 32.7,41.3 29.9,41.6 30.3,41.3 37.2,40.3 41.5,39.4ZM114.6,91.2 115.6,91.1 115.5,92.0 114.6,92.0ZM131.1,46.5 129.1,46.3 128.0,45.7 126.2,45.4 127.6,44.0 129.3,42.2 130.8,41.3 130.1,43.0 131.3,43.5 131.3,44.6 131.7,45.5ZM127.9,170.6 126.6,170.5 126.4,170.1 128.7,169.7 129.0,170.1ZM117.2,88.2 117.1,87.8 117.4,87.8ZM115.8,85.6 116.2,85.8 116.0,86.3 115.8,86.2ZM115.8,86.8 116.0,86.8 115.9,87.2ZM115.6,88.0 115.5,87.6 115.7,87.6ZM115.7,85.2 115.6,84.7 115.9,84.7ZM115.4,83.7 116.0,83.7 115.8,84.3 115.3,84.2ZM119.9,29.4 122.9,29.2 124.3,28.2 125.4,26.7 121.8,26.0 120.4,25.3 118.3,25.3 116.6,25.0 116.2,24.0 117.8,23.1 120.5,22.9 123.8,23.0 126.4,23.7 128.6,24.3 129.9,25.3 131.4,27.1 132.8,27.7 129.5,30.2 127.9,31.6 123.3,30.8 121.5,30.2ZM122.8,43.1 124.7,43.9 123.3,43.7ZM114.9,89.2 115.1,89.2 114.9,89.5ZM115.6,82.9 115.4,82.6 115.6,82.6ZM123.1,19.7 120.4,19.4 122.6,19.2 127.6,19.0 133.7,18.9 138.4,19.1 136.3,19.5 132.5,20.0 128.5,20.5 126.6,21.3 124.4,21.6 122.5,21.0 121.2,20.6 120.9,20.7 118.2,20.3 116.8,19.9 119.1,19.5 121.9,19.7 122.3,20.0ZM114.4,81.4 114.5,81.4 114.5,81.6ZM112.9,81.2 112.7,81.0 113.0,81.0ZM110.5,80.9 112.0,81.0 111.8,81.6 110.4,81.6ZM105.9,81.6 103.4,81.2 103.5,80.8 104.9,79.1 106.3,79.3 108.1,79.3 109.3,80.8ZM107.7,89.2 108.0,89.2 107.9,89.5ZM106.7,88.7 106.9,88.8 106.9,89.0ZM106.5,76.5 107.0,76.6 106.7,76.9ZM105.2,77.8 104.7,77.5 105.4,77.3ZM94.0,76.5 96.2,75.1 98.6,74.9 103.3,78.0 104.0,78.7 100.5,79.1 101.3,78.3 99.6,77.0 97.0,75.8ZM104.7,73.9 104.6,73.6 104.8,73.6ZM103.7,74.3 104.1,74.9 103.9,74.9ZM103.2,72.1 103.3,72.9 103.2,72.9ZM99.6,81.0 101.5,81.3 101.5,81.8 99.6,81.5ZM102.9,70.6 102.6,71.2 102.0,70.4 102.2,70.2ZM101.3,72.7 101.8,72.4 101.7,73.5 101.2,73.4ZM117.6,21.4 124.8,21.9 124.2,22.5 119.0,22.5 117.0,22.0ZM115.3,28.4 117.0,28.4 118.1,29.4 117.1,30.2 114.7,30.5 113.0,30.0 114.3,29.2ZM96.8,79.7 97.1,79.9 96.9,79.9ZM116.7,23.2 114.2,24.0 112.5,24.0 113.7,22.9 116.2,22.7ZM84.5,106.0 85.2,105.9 85.2,106.9 84.6,106.9ZM112.6,21.4 116.3,21.5 115.4,22.2 112.8,22.2 109.1,22.1 109.7,21.6ZM112.5,23.4 111.1,24.4 107.9,24.3 109.3,23.1 111.5,22.8ZM115.4,20.5 113.6,21.0 110.7,20.9 111.1,20.5 113.8,20.3ZM108.3,21.7 107.7,22.2 103.4,22.6 100.7,22.1 102.1,21.6 106.1,21.5ZM102.5,21.3 100.4,21.9 98.1,21.7 98.6,21.4 100.9,21.1ZM92.6,24.0 94.5,23.1 96.2,22.6 100.6,22.7 98.1,23.4 95.9,24.2 93.5,24.6ZM70.1,38.8 71.0,38.9 70.0,40.6 69.6,39.9ZM30.1,129.5 29.7,129.0 30.2,129.1ZM59.1,34.9 58.7,35.5 56.5,36.2 56.5,35.7ZM25.4,79.6 24.4,80.4 24.2,80.0 24.5,79.1ZM24.6,78.0 23.5,77.3 23.1,76.9 23.4,76.7 24.5,77.6ZM18.7,103.3 18.5,103.2 18.8,103.0ZM50.1,33.1 51.0,32.8 51.6,32.9 50.9,33.4ZM51.0,30.3 51.7,30.0 53.0,30.0 52.9,30.5ZM50.0,28.6 47.6,28.8 52.5,26.0 53.6,26.6 53.9,27.2 55.9,27.6 55.9,28.1 53.9,28.6 51.8,29.5 49.9,29.3ZM5.6,123.7 6.1,123.7 6.9,124.2 6.5,124.4ZM6.7,133.9 6.4,133.7 6.6,133.7ZM55.0,24.7 55.8,24.3 56.9,24.2 56.9,24.6Z" fill="none" stroke="#000" stroke-width="0.75"/>
<path d="M79.9,25.6 82.6,26.1 85.3,25.6 89.3,25.2 90.6,25.7 93.7,25.4 97.0,26.1 97.5,26.9 100.4,26.8 101.6,26.3 103.6,26.3 105.1,26.9 107.9,26.9 109.6,26.6 110.9,25.6 113.4,24.1 113.6,25.0 113.6,25.6 113.9,26.3 114.7,27.1 116.1,27.1 117.7,26.0 120.2,25.5 119.9,26.3 118.6,27.4 116.7,28.0 114.9,28.0 114.5,29.0 112.4,29.8 110.2,30.2 107.3,31.5 104.8,33.2 103.8,34.3 104.3,36.0 106.2,36.0 107.5,36.9 109.0,37.6 111.0,37.8 109.9,39.9 110.0,41.4 111.1,41.6 112.6,39.9 113.3,38.4 115.7,36.9 117.2,35.1 116.3,34.1 118.2,32.3 118.7,31.1 120.8,31.2 122.6,31.9 123.8,32.3 123.1,34.1 123.9,34.8 125.8,34.1 127.6,32.9 128.0,35.1 128.2,36.9 130.0,38.4 131.0,39.9 130.8,40.9 129.6,41.4 127.5,42.7 124.9,42.8 122.5,42.8 120.5,43.5 117.8,45.1 116.0,46.3 117.6,45.5 120.2,44.2 122.5,44.2 121.1,45.1 121.3,46.2 121.6,47.1 123.6,47.6 125.3,46.4 125.0,47.3 123.8,48.2 121.4,49.0 119.1,50.1 119.1,49.0 120.9,48.0 118.6,48.3 118.8,46.1 117.7,45.8 115.8,47.7 114.7,48.4 112.0,48.4 110.2,49.3 107.5,50.2 107.3,50.9 103.8,51.8 103.5,51.4 104.4,50.6 105.4,48.1 104.9,47.2 104.3,46.7 102.1,44.8 100.9,45.1 99.9,44.9 97.3,44.0 96.8,44.0 73.5,44.0 73.7,42.5 71.7,41.9 72.6,40.4 72.6,38.6 73.9,37.1 74.2,36.9 73.6,36.0 74.2,34.3 73.6,33.5 71.4,34.1 71.4,33.1 70.1,33.0 75.0,29.0 77.5,27.2ZM127.9,31.6 129.5,30.2 132.8,27.7 131.4,27.1 129.9,25.3 128.6,24.3 126.4,23.7 123.8,23.0 120.5,22.9 117.8,23.1 116.2,24.0 116.6,25.0 118.3,25.3 120.4,25.3 121.8,26.0 123.6,26.3 125.4,26.7 124.3,28.2 122.9,29.2 119.9,29.4 121.5,30.2 123.3,30.8 125.9,31.3ZM96.3,25.9 98.1,26.3 101.7,26.2 106.0,26.0 107.5,25.3 105.9,24.3 106.9,23.4 103.5,23.5 101.3,23.1 98.2,23.5 96.5,24.3 97.0,25.0ZM92.6,24.0 93.5,24.6 95.9,24.2 98.1,23.4 100.6,22.7 98.8,22.6 96.2,22.6 94.5,23.1ZM124.4,21.6 126.6,21.3 128.5,20.5 131.4,20.1 136.3,19.5 138.4,19.1 133.7,18.9 127.6,19.0 122.6,19.2 120.4,19.4 123.1,19.7 121.0,20.5 122.5,21.0ZM124.2,22.5 119.0,22.5 117.0,22.0 117.6,21.4 120.0,21.5 124.8,21.9ZM120.9,20.7 118.2,20.3 116.8,19.9 119.1,19.5 121.9,19.7 122.6,20.2ZM100.7,22.1 103.4,22.6 107.7,22.2 108.3,21.7 106.1,21.5 102.1,21.6ZM109.1,22.1 112.8,22.2 115.4,22.2 116.3,21.5 112.6,21.4 109.7,21.6ZM107.9,24.3 111.1,24.4 112.5,23.4 111.5,22.8 109.3,23.1ZM112.5,24.0 114.2,24.0 116.7,23.2 116.2,22.7 113.7,22.9ZM107.8,26.0 109.8,26.3 110.7,25.8 109.8,25.3ZM113.0,30.0 114.7,30.5 117.1,30.2 118.1,29.4 117.0,28.4 115.3,28.4 114.3,29.2ZM98.1,21.7 100.4,21.9 102.5,21.3 100.9,21.1 98.6,21.4ZM110.7,20.9 113.6,21.0 115.4,20.5 113.8,20.3 111.1,20.5ZM126.2,45.4 128.0,45.7 129.1,46.3 131.1,46.5 131.7,45.5 131.3,44.6 131.3,43.5 130.1,43.0 130.8,41.3 129.3,42.2 127.6,44.0 126.2,45.4ZM70.9,42.2 72.3,42.7 73.2,44.2 72.9,44.8 71.5,44.3 70.6,43.0ZM70.1,38.8 71.0,38.9 70.0,40.6 69.6,39.9ZM122.8,43.1 124.7,43.9 123.3,43.7ZM121.6,46.3 123.4,46.7 122.8,47.3 121.7,47.0Z" fill="#31a354"/>
<path d="M73.5,44.0 96.8,44.0 97.3,44.0 99.9,44.9 100.9,45.1 102.1,44.8 104.3,46.7 104.9,47.2 105.4,48.1 104.4,50.6 103.5,51.4 103.8,51.8 107.3,50.9 107.5,50.2 110.2,49.3 112.0,48.4 114.7,48.4 115.8,47.7 117.7,45.8 118.8,46.1 118.6,48.3 118.5,48.7 115.5,49.8 114.4,51.0 114.7,52.0 113.2,52.5 110.7,53.4 110.0,54.7 108.5,55.8 107.6,57.5 107.1,57.7 107.2,59.7 105.6,60.5 103.9,61.5 102.1,63.1 100.6,64.3 100.0,65.5 100.1,68.4 99.8,71.2 99.2,72.2 98.5,72.2 98.2,71.0 97.9,68.9 98.2,67.4 97.4,66.2 96.1,66.5 95.2,65.7 93.8,65.8 92.4,65.9 92.2,67.3 91.0,67.2 89.8,66.7 87.9,66.7 86.8,67.3 84.5,68.7 83.3,71.2 81.8,70.6 81.9,69.3 81.4,68.0 81.0,66.4 79.9,66.5 79.0,67.4 78.1,66.7 78.1,65.3 77.2,63.9 75.6,63.9 75.4,64.6 72.8,64.6 69.9,63.1 67.8,63.1 67.9,62.5 67.3,61.2 65.8,60.6 65.8,58.1 66.0,56.7 65.9,54.7 66.1,53.6 67.3,51.8 67.8,50.6 70.7,47.1 71.8,44.7 73.1,44.9 72.9,45.7 73.9,44.0ZM79.9,25.6 77.5,27.2 75.0,29.0 70.1,33.0 71.4,33.1 71.4,34.1 73.6,33.5 74.2,34.3 73.6,36.0 74.2,36.9 73.9,37.1 73.3,37.9 72.3,38.1 70.9,37.9 71.2,36.5 71.1,35.1 71.0,34.1 70.2,33.5 69.0,33.2 67.5,33.2 66.9,32.5 64.5,33.2 62.2,33.9 60.4,34.1 62.4,32.8 64.4,32.2 62.4,32.5 59.8,33.7 57.9,34.6 55.0,35.7 52.3,36.7 49.1,37.6 47.0,38.1 45.2,38.4 48.8,37.2 51.3,36.5 54.2,35.4 56.1,34.3 54.7,34.4 52.4,34.4 54.0,33.2 52.7,32.8 52.9,31.8 55.2,30.8 56.4,30.5 59.1,30.1 60.2,29.4 58.7,29.4 56.5,29.2 56.5,28.5 58.7,28.1 60.8,27.8 61.5,28.1 61.7,27.3 61.5,26.6 61.1,26.4 63.4,26.1 66.3,25.2 69.7,24.8 71.2,24.4 73.2,24.7 75.4,25.0 77.6,25.3ZM45.3,38.3 41.5,39.4 37.2,40.3 33.2,40.9 30.3,41.3 29.9,41.6 32.7,41.3 36.7,40.7 40.9,39.9 44.7,38.7ZM314.7,39.9 317.5,40.5 320.6,41.1 320.9,41.3 317.8,40.8 315.1,40.2ZM56.5,35.7 59.1,34.9 58.7,35.5 56.5,36.2ZM51.0,30.3 52.9,30.5 53.0,30.0 51.7,30.0ZM50.1,33.1 50.9,33.4 51.6,32.9 51.0,32.8ZM24.5,79.1 25.4,79.6 24.4,80.4 24.2,80.0ZM23.1,76.9 23.5,77.3 24.6,78.0 24.5,77.6 23.4,76.7Z" fill="#78c679"/>
<path d="M67.8,63.1 69.9,63.1 72.8,64.6 75.4,64.6 75.6,63.9 77.2,63.9 78.1,65.3 78.1,66.7 79.0,67.4 79.9,66.5 81.0,66.4 81.4,68.0 81.9,69.3 81.8,70.6 83.5,71.3 82.4,73.8 81.7,76.0 81.8,77.9 82.3,79.9 83.4,80.8 84.0,81.3 85.8,80.8 86.8,80.9 88.1,79.2 88.5,77.6 90.5,77.0 91.9,77.0 91.9,77.9 90.9,79.6 90.3,81.2 90.0,80.9 88.9,81.8 87.1,81.8 87.2,84.1 86.0,84.1 85.2,86.1 83.7,84.2 82.8,83.9 81.2,84.6 79.4,83.8 78.1,82.9 76.4,81.6 75.0,81.0 73.9,79.6 73.5,78.4 74.2,77.0 74.1,75.1 73.2,73.1 71.8,71.6 72.1,70.3 71.6,68.8 70.6,67.4 70.8,64.9 69.5,63.9 69.0,65.5 69.4,67.4 69.6,69.3 70.1,71.2 70.4,73.5 70.8,74.8 70.0,75.1 68.9,72.9 69.2,71.2 68.0,69.9 67.4,68.9 68.5,68.0 67.7,66.4 67.6,64.3Z" fill="#31a354"/>
<path d="M85.2,86.1 86.0,84.1 87.2,84.1 87.1,81.8 88.9,81.8 88.4,84.3 88.7,84.3 89.4,84.6 88.1,86.3 87.1,87.2 85.9,87.0Z" fill="#31a354"/>
<path d="M88.9,81.8 90.0,80.9 89.9,82.2 89.1,83.9 88.7,84.3 88.4,84.3Z" fill="#78c679"/>
<path d="M87.1,87.2 88.0,86.3 88.7,87.0 89.4,87.0 89.4,87.8 88.6,88.0Z" fill="#31a354"/>
<path d="M89.4,84.6 91.6,84.3 93.0,84.5 94.2,85.5 92.6,85.8 91.4,87.0 90.4,87.8 89.7,88.2 89.4,87.8 89.4,87.0 88.7,87.0 88.0,86.3Z" fill="#78c679"/>
<path d="M94.2,85.5 93.5,88.2 93.0,90.8 91.1,90.7 89.4,88.3 89.7,88.2 90.4,87.8 91.4,87.0 92.6,85.8Z" fill="#31a354"/>
<path d="M93.0,90.8 94.0,92.7 93.5,94.7 92.7,94.2 91.9,92.8 90.8,92.2 91.1,90.7Z" fill="#006837"/>
<path d="M94.0,92.7 95.5,93.8 96.9,92.7 99.0,93.9 98.4,95.9 97.9,94.4 96.7,93.9 96.0,95.6 94.6,95.5 93.5,94.7Z" fill="#31a354"/>
<path d="M94.0,76.5 96.2,75.1 98.6,74.9 101.2,76.6 103.3,78.0 104.0,78.7 100.5,79.1 101.3,78.3 99.6,77.0 97.0,75.8Z" fill="#78c679" stroke-width="0.4"/>
<path d="M103.5,80.8 104.9,79.1 106.3,79.3 105.9,81.6 103.4,81.2Z" fill="#78c679"/>
<path d="M106.3,79.3 108.1,79.3 109.3,80.8 107.2,81.3 105.9,81.6Z" fill="#31a354"/>
<path d="M99.6,81.0 101.5,81.3 101.5,81.8 99.6,81.5Z" fill="#31a354"/>
<path d="M110.5,80.9 112.0,81.0 111.8,81.6 110.4,81.6Z" fill="#31a354"/>
<path d="M101.3,72.7 101.8,72.4 101.7,73.5 101.2,73.4ZM102.2,70.2 102.9,70.6 102.6,71.2 102.0,70.4Z" fill="#78c679" stroke-width="0.5"/>
<path d="M114.6,91.2 115.6,91.1 115.5,92.0 114.6,92.0Z" fill="#31a354"/>
<path d="M99.0,93.9 99.6,94.0 100.9,92.8 101.3,91.1 102.5,90.6 104.2,89.8 105.5,89.0 105.4,89.8 104.3,90.7 103.5,92.8 104.0,94.4 104.3,96.0 106.2,96.2 108.7,97.3 108.3,99.5 108.8,101.0 109.1,104.0 106.1,104.1 106.6,107.1 106.1,111.3 105.4,110.7 106.0,109.2 103.1,108.8 100.8,105.7 99.7,105.1 98.5,104.7 97.2,103.6 97.5,102.1 98.6,100.2 98.9,98.1 98.9,96.2 98.4,95.9Z" fill="#31a354"/>
<path d="M105.4,89.8 105.0,91.0 105.3,91.5 106.5,90.3 106.8,89.2 107.9,90.3 108.4,91.4 110.5,91.4 112.0,91.9 113.7,91.2 114.6,91.2 114.0,92.2 115.4,92.8 116.3,94.2 116.5,94.4 115.5,95.6 115.0,97.1 114.8,97.7 115.4,98.6 114.7,99.7 113.3,100.2 111.9,100.1 111.6,102.1 112.6,102.6 110.5,104.5 109.1,104.0 108.8,101.0 108.3,99.5 108.7,97.3 106.2,96.2 104.3,96.0 104.0,94.4 103.5,92.8 104.3,90.7Z" fill="#addd8e"/>
<path d="M116.5,94.4 117.7,96.2 119.0,97.5 118.8,98.5 118.2,99.4 118.5,101.0 119.5,103.0 117.2,104.0 116.2,102.6 116.2,100.2 116.0,98.7 115.4,98.6 114.8,97.7 115.0,97.1 115.5,95.6Z" fill="#78c679"/>
<path d="M119.0,97.5 120.3,97.6 122.1,97.8 121.7,99.3 122.1,100.9 121.4,102.5 120.0,103.1 119.5,103.0 118.5,101.0 118.2,99.4 118.8,98.5Z" fill="#78c679"/>
<path d="M122.1,97.8 123.2,98.5 124.4,99.9 123.4,102.2 121.4,102.5 122.1,100.9 121.7,99.3Z" fill="#78c679"/>
<path d="M97.2,103.6 98.5,104.7 99.7,105.1 100.8,105.7 100.5,107.6 98.1,109.9 97.4,111.8 96.5,112.3 95.7,111.5 95.8,110.2 96.1,109.0 95.1,108.6 95.1,106.9 95.9,104.9 96.1,104.4ZM84.5,106.0 85.2,105.9 85.2,106.9 84.6,106.9Z" fill="#31a354"/>
<path d="M95.8,110.2 95.7,111.5 96.5,112.3 97.4,111.8 98.1,109.9 100.5,107.6 100.8,105.7 103.1,108.8 106.0,109.2 105.4,110.7 106.1,111.3 103.2,112.6 102.4,115.4 103.5,118.0 104.3,119.0 105.9,118.4 106.0,120.4 107.0,120.3 108.1,122.4 108.1,125.0 107.9,126.1 107.9,128.7 108.0,129.0 107.3,130.1 106.1,128.7 103.9,127.4 102.1,126.2 100.8,124.2 99.6,121.7 98.4,119.0 97.4,116.6 96.4,114.9 95.1,113.7 94.8,111.9Z" fill="#006837"/>
<path d="M107.0,120.3 108.0,120.4 109.9,118.9 111.1,118.6 111.3,121.0 112.4,122.4 114.0,123.0 115.8,123.7 116.3,124.1 117.0,127.4 118.7,127.4 119.0,128.7 119.9,129.9 119.6,132.0 119.5,132.5 118.5,131.3 116.0,131.7 115.6,132.9 115.6,135.1 114.1,135.9 113.1,135.0 112.0,134.6 111.3,135.9 110.0,133.9 109.2,132.4 109.3,130.9 108.0,129.0 107.9,128.7 107.9,126.1 108.1,125.0 108.1,122.4Z" fill="#addd8e"/>
<path d="M107.3,130.1 108.0,129.0 109.3,130.9 109.2,132.4 110.0,133.9 111.3,135.9 111.5,137.4 110.6,138.7 111.2,141.3 110.4,143.2 110.5,145.0 110.5,146.9 111.5,149.0 112.1,150.3 111.9,151.8 111.8,153.0 112.3,155.4 112.5,157.1 113.2,159.4 114.2,161.7 114.9,163.9 115.4,166.1 115.4,167.7 116.7,168.9 117.7,170.3 119.2,170.3 120.7,170.7 120.7,170.9 121.8,173.2 123.2,173.6 123.3,174.3 121.3,173.8 119.3,172.8 117.0,171.6 114.9,169.8 113.2,167.2 112.2,165.0 112.6,163.4 112.1,161.1 111.3,159.4 110.7,157.1 109.8,153.8 109.8,151.8 109.9,148.7 109.2,145.4 108.7,143.2 108.7,140.0 108.3,136.8 108.0,133.6Z" fill="#31a354"/>
<path d="M115.6,135.1 118.5,137.4 121.1,139.1 120.5,141.6 123.0,141.6 124.0,139.5 125.1,141.1 125.1,141.5 123.4,142.9 122.2,145.3 122.1,147.5 122.4,149.8 122.5,150.4 123.9,151.5 124.3,152.6 124.7,153.1 124.4,154.8 123.3,155.6 120.7,155.8 121.0,157.7 118.8,158.3 119.3,160.0 120.5,160.0 119.4,161.1 119.9,162.8 118.6,163.9 120.5,165.5 120.1,167.7 119.3,168.7 120.7,170.7 119.2,170.3 117.7,170.3 116.7,168.9 115.4,167.7 115.4,166.1 114.9,163.9 114.2,161.7 113.2,159.4 112.5,157.1 112.3,155.4 111.8,153.0 111.9,151.8 112.1,150.3 111.5,149.0 110.5,146.9 110.5,145.0 110.4,143.2 111.2,141.3 110.6,138.7 111.5,137.4 111.3,135.9 112.0,134.6 113.1,135.0 114.1,135.9ZM120.7,170.9 121.2,171.5 122.2,172.3 124.3,173.0 123.5,173.3 121.8,173.2Z" fill="#31a354"/>
<path d="M115.6,135.1 115.6,132.9 116.0,131.7 118.5,131.3 119.5,132.5 120.1,135.0 122.3,135.2 122.9,137.4 124.0,137.6 124.0,139.5 123.0,141.6 120.5,141.6 121.1,139.1 118.5,137.4Z" fill="#31a354"/>
<path d="M122.2,145.3 123.8,146.0 124.2,146.1 126.6,148.1 127.0,149.7 125.9,151.1 124.7,151.1 123.0,150.4 122.4,149.8 122.1,147.5Z" fill="#31a354"/>
<path d="M124.4,99.9 126.0,103.2 126.0,105.6 128.0,106.5 130.0,107.1 131.5,109.0 134.0,109.4 136.0,109.4 137.5,110.6 139.1,112.2 140.8,112.6 141.3,115.3 141.1,117.7 139.3,120.6 138.0,123.0 137.6,125.7 137.7,129.4 137.4,131.9 136.5,134.9 135.6,136.0 134.5,136.1 133.1,136.5 131.5,137.4 130.2,139.1 129.9,140.9 130.1,143.0 129.2,144.9 128.4,146.5 127.6,147.9 127.0,149.7 126.6,148.1 124.2,146.1 123.8,146.0 122.2,145.3 123.4,142.9 125.1,141.5 125.1,141.1 124.0,139.5 124.0,137.6 122.9,137.4 122.3,135.2 120.1,135.0 119.5,132.5 119.6,132.0 119.9,129.9 119.0,128.7 118.7,127.4 117.0,127.4 116.3,124.1 115.8,123.7 114.0,123.0 112.4,122.4 111.3,121.0 111.1,118.6 109.9,118.9 108.0,120.4 107.0,120.3 106.0,120.4 105.9,118.4 104.3,119.0 103.5,118.0 102.4,115.4 103.2,112.6 106.1,111.3 106.6,107.1 106.1,104.1 109.1,104.0 110.5,104.5 112.6,102.6 111.6,102.1 111.9,100.1 113.3,100.2 114.7,99.7 115.4,98.6 116.0,98.7 116.2,100.2 116.2,102.6 117.2,104.0 119.5,103.0 120.0,103.1 121.4,102.5 123.4,102.2Z" fill="#31a354"/>
<path d="M126.4,170.1 128.7,169.7 129.0,170.1 127.9,170.6 126.6,170.5Z" fill="#31a354" stroke-width="0.9"/>
<path d="M130.4,20.5 134.1,19.9 139.5,19.2 148.8,19.0 156.7,18.8 162.7,19.1 168.7,19.4 164.9,19.9 164.0,21.2 163.4,22.2 161.5,23.7 161.1,25.0 158.1,26.3 153.8,26.7 149.7,28.4 147.4,29.0 145.0,31.5 143.2,33.2 142.1,33.3 140.2,32.3 138.9,30.2 138.3,27.8 139.5,26.3 141.2,25.6 139.2,25.0 139.6,23.7 138.8,22.0 135.8,21.6 132.6,21.7 131.2,21.1Z" fill="#b2b2b2"/>
<path d="M158.6,28.6 160.5,27.9 163.3,28.1 164.7,27.8 165.7,28.6 166.3,29.0 165.2,29.6 162.5,30.3 160.8,30.0 159.6,29.9 160.2,29.4 158.8,29.1Z" fill="#31a354" stroke-width="0.4"/>
<path d="M115.4,83.7 116.0,83.7 115.8,84.3 115.3,84.2ZM115.8,85.6 116.2,85.8 116.0,86.3 115.8,86.2ZM115.6,84.7 115.9,84.7 115.7,85.2ZM115.8,86.8 116.0,86.8 115.9,87.2ZM117.1,87.8 117.4,87.8 117.2,88.2ZM115.4,82.6 115.6,82.6 115.6,82.9ZM115.5,87.6 115.7,87.6 115.6,88.0ZM114.9,89.2 115.1,89.2 114.9,89.5ZM112.7,81.0 113.0,81.0 112.9,81.2ZM114.4,81.4 114.5,81.4 114.5,81.6ZM104.7,77.5 105.4,77.3 105.2,77.8ZM103.7,74.3 104.1,74.9 103.9,74.9ZM103.2,72.1 103.3,72.9 103.2,72.9ZM104.6,73.6 104.8,73.6 104.7,73.9ZM106.5,76.5 107.0,76.6 106.7,76.9ZM107.7,89.2 108.0,89.2 107.9,89.5ZM106.7,88.7 106.9,88.8 106.9,89.0ZM96.8,79.7 97.1,79.9 96.9,79.9Z" fill="#31a354"/>
<path d="M184.7,34.1 184.0,34.1 182.1,35.0 180.2,34.3 179.7,32.8 179.7,31.5 181.1,30.6 183.2,29.8 184.2,29.0 185.2,27.8 186.4,26.5 188.3,25.5 190.2,25.2 192.8,24.6 194.8,24.6 197.0,25.1 197.1,25.6 195.8,26.0 195.0,25.2 193.7,25.5 193.6,25.9 192.2,26.2 190.1,26.0 188.5,26.3 187.5,27.1 186.3,28.1 186.1,29.4 184.9,30.2 185.1,31.9 185.5,32.2 185.0,33.0 185.0,33.9ZM182.9,20.5 185.3,20.0 188.9,19.9 192.7,19.9 189.8,20.6 187.4,21.2 185.5,21.2 184.2,20.8Z" fill="#78c679" stroke-width="0.42"/>
<path d="M184.7,34.1 184.7,34.8 185.3,36.0 186.0,36.8 186.2,37.5 187.2,37.4 188.5,36.8 188.8,35.5 189.0,34.4 190.2,33.4 188.9,32.3 188.9,31.1 189.8,30.3 191.1,29.4 191.6,28.4 193.1,28.4 192.6,27.6 192.3,26.8 190.1,26.0 188.5,26.3 187.5,27.1 186.3,28.1 186.1,29.4 184.9,30.2 185.1,31.9 185.5,32.2 185.0,33.0 185.0,33.9ZM190.1,35.9 190.6,35.1 190.5,35.7Z" fill="#31a354"/>
<path d="M193.1,28.4 194.1,29.0 193.6,29.5 191.7,30.8 191.9,32.3 193.2,33.3 194.8,33.0 196.8,32.8 197.9,31.9 199.0,30.7 197.7,29.8 197.3,28.4 196.5,27.5 196.9,26.9 195.7,26.3 195.8,26.0 195.0,25.2 193.7,25.5 193.6,25.9 192.2,26.2 190.1,26.0 192.3,26.8 192.6,27.6Z" fill="#78c679"/>
<path d="M182.5,37.9 182.3,36.0 184.1,35.3 184.0,36.5 184.5,36.7 183.7,37.7 183.5,38.1 182.8,38.0ZM184.7,37.6 184.9,37.0 185.8,36.8 185.9,37.5 185.5,38.0Z" fill="#31a354" stroke-width="0.5"/>
<path d="M171.3,42.9 173.1,42.7 175.2,42.3 177.1,41.7 177.4,40.2 176.2,39.9 175.8,38.7 174.8,37.7 174.3,36.8 174.5,35.4 173.5,35.3 173.7,34.5 172.2,34.5 171.5,35.5 171.7,36.8 172.2,37.7 172.0,38.1 173.2,38.0 173.6,39.1 172.4,39.6 172.6,40.4 171.8,41.1 173.4,41.5 172.5,41.8ZM171.1,38.8 171.6,38.5 171.4,37.7 170.5,37.7 170.2,38.0 169.6,38.4 170.2,38.8ZM170.2,35.8 171.3,34.6 171.2,35.7ZM174.9,33.2 175.3,32.5 175.1,33.3Z" fill="#006837" stroke-width="0.45"/>
<path d="M167.9,41.3 169.1,41.3 170.9,40.7 171.2,39.6 171.1,38.8 170.2,38.8 169.6,38.4 170.2,38.0 170.5,37.7 169.4,37.8 169.3,38.3 168.0,38.7 168.1,39.5 168.5,39.8 168.3,40.3 167.6,40.8Z" fill="#31a354"/>
<path d="M174.4,50.2 176.6,50.9 178.8,51.3 178.6,50.4 179.9,50.2 181.4,50.5 182.5,49.7 182.0,49.2 181.9,48.3 182.0,47.4 181.3,47.1 181.2,46.7 182.4,45.5 182.8,44.0 181.3,43.5 180.8,43.5 180.0,42.9 179.5,42.8 178.1,41.8 177.3,42.2 177.2,42.9 176.2,43.3 175.0,43.6 174.4,43.3 174.7,44.4 173.5,44.3 172.1,44.7 172.4,45.3 173.9,45.9 175.0,47.1 175.0,48.8ZM183.5,51.3 184.2,50.6 184.3,51.8 184.1,52.5 183.5,51.9Z" fill="#31a354"/>
<path d="M174.4,50.2 176.6,50.9 178.8,51.3 178.8,51.9 177.9,52.6 176.4,53.5 175.7,54.8 176.2,55.5 175.6,56.2 175.3,56.9 174.2,57.9 172.0,58.0 171.1,58.7 170.3,58.1 169.3,57.4 169.3,56.9 169.7,56.2 169.5,54.7 169.9,53.9 170.0,52.9 170.6,52.2 168.8,51.7 168.3,51.9 167.9,50.6 169.1,49.8 171.0,49.9 172.7,50.1ZM178.0,54.6 178.8,54.1 179.0,54.8 178.6,54.9ZM160.1,68.3 160.8,67.9 160.5,68.7ZM161.1,68.6 161.5,68.6 161.4,69.0ZM162.6,67.9 163.3,67.2 163.4,67.5 162.7,68.6Z" fill="#31a354"/>
<path d="M168.3,51.9 168.8,51.7 170.6,52.2 170.0,52.9 169.9,53.9 169.5,54.7 169.7,56.2 169.3,56.9 169.3,57.4 168.0,57.6 168.1,56.0 167.5,55.6 168.1,53.9Z" fill="#31a354"/>
<path d="M178.1,41.8 178.8,41.5 179.5,41.5 180.1,41.4 180.7,41.7 180.7,42.2 181.0,42.2 181.1,42.8 180.8,43.5 180.0,42.9 179.5,42.8Z" fill="#006837"/>
<path d="M180.8,43.5 181.1,42.8 181.3,43.5Z" fill="#006837"/>
<path d="M178.8,41.5 179.2,40.9 179.8,39.9 180.8,39.5 181.7,39.4 181.8,39.7 181.7,40.6 180.9,41.1 181.0,42.2 180.7,42.2 180.7,41.7 180.1,41.4 179.5,41.5Z" fill="#006837"/>
<path d="M182.4,45.5 184.1,45.7 184.8,45.8 186.9,45.7 187.5,44.4 186.0,42.7 187.7,41.9 188.1,42.0 188.2,41.6 187.8,40.3 187.3,39.0 185.7,38.6 184.8,38.9 183.9,38.4 183.5,38.1 182.8,38.0 183.1,39.0 181.7,39.4 181.8,39.7 181.7,40.6 180.9,41.1 181.0,42.2 181.1,42.8 181.3,43.5 182.8,44.0Z" fill="#31a354"/>
<path d="M187.3,39.0 187.8,40.3 188.2,41.6 188.1,42.0 189.3,42.5 189.9,42.7 191.4,43.1 191.6,43.5 192.7,43.8 194.8,43.9 194.9,43.2 195.7,42.3 195.2,41.4 195.0,40.3 195.1,39.0 194.7,38.8 194.1,38.6 191.7,38.5 190.8,38.4 190.5,38.1 189.1,38.4Z" fill="#31a354"/>
<path d="M186.0,42.7 187.5,44.4 188.5,44.0 190.1,44.5 191.6,43.5 191.4,43.1 189.9,42.7 189.3,42.5 188.1,42.0 187.7,41.9Z" fill="#31a354"/>
<path d="M190.1,44.5 190.3,45.1 191.7,45.3 193.1,44.6 194.5,44.7 194.8,43.9 192.7,43.8 191.6,43.5Z" fill="#31a354"/>
<path d="M184.1,45.7 184.8,45.8 186.9,45.7 187.5,44.4 188.5,44.0 190.1,44.5 190.3,45.1 189.9,45.7 189.6,46.3 188.3,46.8 187.6,46.7 186.2,46.3 184.9,46.4 184.1,46.1Z" fill="#31a354"/>
<path d="M181.3,47.1 181.2,46.7 182.4,45.5 184.1,45.7 184.1,46.1 184.9,46.4 184.7,47.0 183.7,47.4 183.1,46.8 182.0,47.4Z" fill="#006837"/>
<path d="M182.5,49.7 183.6,49.1 184.8,49.6 185.1,50.8 186.7,52.0 188.1,52.7 188.7,53.4 189.9,54.1 190.3,55.5 190.0,56.4 190.8,56.0 191.2,55.3 190.7,54.4 191.0,53.5 192.3,54.2 192.4,53.7 191.8,53.3 190.0,52.4 190.0,51.9 188.8,51.6 187.8,50.1 186.7,49.2 186.5,48.1 187.7,47.7 187.6,46.7 186.2,46.3 184.9,46.4 184.7,47.0 183.7,47.4 183.1,46.8 182.0,47.4 181.9,48.3 182.0,49.2ZM187.2,56.6 190.0,56.1 189.7,57.6 189.6,58.0 187.2,56.9ZM183.2,53.0 183.5,55.3 184.6,55.0 184.6,53.2 184.1,52.7Z" fill="#31a354"/>
<path d="M187.7,47.7 187.6,46.7 188.3,46.8 189.6,46.3 189.9,46.7 189.3,47.1 189.1,47.8 188.4,47.8Z" fill="#31a354"/>
<path d="M187.7,47.7 188.4,47.8 189.1,47.8 189.3,47.1 189.9,46.7 191.1,47.4 192.1,47.4 192.4,48.4 190.5,48.2 189.5,48.2 189.6,48.7 190.0,49.3 191.3,50.6 192.1,51.2 191.2,50.8 189.9,50.1 189.1,49.3 188.8,48.3 188.2,48.2 187.9,48.6 187.5,48.0Z" fill="#31a354" stroke-width="0.45"/>
<path d="M189.5,48.2 190.5,48.2 192.4,48.4 192.7,49.2 192.9,50.1 192.1,51.1 191.3,50.6 190.0,49.3 189.6,48.7Z" fill="#78c679"/>
<path d="M189.6,46.3 189.9,45.7 190.3,45.1 191.7,45.3 193.1,44.6 194.5,44.7 195.2,45.2 194.0,46.8 193.3,47.1 192.1,47.4 191.1,47.4 189.9,46.7Z" fill="#31a354"/>
<path d="M192.1,47.4 193.3,47.1 194.4,48.2 195.5,49.0 195.3,49.6 196.0,50.4 195.6,51.4 194.9,51.5 194.0,51.9 193.5,51.1 192.6,50.1 192.9,50.1 192.7,49.2 192.4,48.4Z" fill="#31a354"/>
<path d="M192.1,51.2 192.9,50.1 192.6,50.1 193.5,51.1 193.0,51.9Z" fill="#78c679"/>
<path d="M193.0,51.9 193.5,51.1 194.0,51.9 194.1,52.8 194.5,53.3 194.0,54.4 193.2,53.7Z" fill="#31a354"/>
<path d="M194.0,51.9 194.9,51.5 195.6,51.4 196.2,52.5 194.5,53.1 194.1,52.8Z" fill="#31a354"/>
<path d="M194.0,54.4 194.5,53.3 196.2,52.5 197.5,52.4 199.1,52.1 199.4,52.9 198.9,53.2 197.5,53.0 197.2,53.7 196.3,53.6 196.0,54.1 196.8,55.0 196.4,55.5 197.5,56.2 196.8,56.6 196.9,57.3 196.6,58.2 196.3,58.2 195.6,57.9 195.0,56.7 194.9,56.0 194.5,55.3ZM197.4,59.7 198.3,59.3 200.0,59.7 199.9,60.0 197.9,60.0Z" fill="#006837" stroke-width="0.5"/>
<path d="M195.6,49.3 195.5,49.0 196.8,49.8 198.4,49.6 199.5,49.4 200.7,49.8 200.5,51.8 199.1,52.1 197.5,52.4 196.2,52.5 195.6,51.4 196.0,50.4 195.3,49.6Z" fill="#31a354"/>
<path d="M193.3,47.1 194.0,46.8 195.2,45.2 196.9,45.4 198.2,44.8 199.7,46.3 200.1,47.8 201.4,48.1 200.7,49.8 199.5,49.4 198.4,49.6 196.8,49.8 195.6,49.3 195.5,49.0 194.4,48.2Z" fill="#78c679"/>
<path d="M198.2,44.8 199.0,44.6 200.5,45.1 201.5,46.7 200.6,47.0 200.1,47.8 199.7,46.3Z" fill="#78c679"/>
<path d="M194.8,43.9 194.5,44.7 195.2,45.2 196.9,45.4 198.2,44.8 199.0,44.6 200.5,45.1 201.5,46.7 200.6,47.0 200.1,47.8 201.4,48.1 202.1,46.7 203.2,47.0 204.5,47.3 203.8,48.0 204.8,49.0 206.4,48.4 207.2,48.1 205.7,47.1 207.1,46.5 208.3,46.0 209.4,45.2 209.1,43.4 207.4,43.1 206.8,42.6 205.6,42.6 205.0,41.9 204.0,41.6 203.3,40.5 201.8,40.8 200.9,41.6 198.4,41.4 196.5,41.0 195.2,41.4 195.7,42.3 194.9,43.2Z" fill="#addd8e"/>
<path d="M195.2,41.4 196.5,41.0 198.4,41.4 200.9,41.6 201.8,40.8 201.3,39.7 202.0,39.2 200.4,38.1 199.7,37.0 198.0,36.8 196.9,37.2 196.4,38.6 194.7,38.9 195.1,39.0 195.0,40.3Z" fill="#78c679"/>
<path d="M192.6,37.6 192.5,36.9 195.4,36.5 196.9,37.2 196.4,38.6 194.7,38.9 194.1,38.6 194.0,37.9Z" fill="#78c679"/>
<path d="M192.5,36.9 192.5,35.6 193.4,35.3 194.8,35.8 194.8,35.1 197.1,35.5 197.4,35.7 198.0,36.8 196.9,37.2 195.4,36.5Z" fill="#78c679"/>
<path d="M194.8,35.1 193.9,34.4 193.8,33.9 195.4,33.6 197.3,33.7 197.1,34.9 197.1,35.5ZM192.9,34.8 193.6,34.5 193.4,35.1Z" fill="#78c679" stroke-width="0.4"/>
<path d="M191.7,38.5 194.1,38.6 194.0,37.9 192.6,37.6 191.8,38.0Z" fill="#addd8e"/>
<path d="M205.5,60.0 206.0,59.5 207.4,59.2 207.0,60.0 206.2,60.5Z" fill="#31a354"/>
<path d="M188.9,58.8 189.3,58.9 189.2,59.1Z" fill="#006837"/>
<path d="M197.1,25.6 198.5,25.7 200.7,25.9 204.1,26.9 204.8,27.7 203.2,28.1 200.3,27.8 199.2,27.8 201.0,29.4 202.8,29.9 203.4,29.6 205.1,29.3 204.4,28.5 205.6,27.9 207.1,28.1 206.5,27.1 206.5,26.4 207.8,26.6 208.6,27.5 209.4,27.0 212.6,26.5 213.4,26.6 215.3,26.3 217.5,26.0 217.1,25.4 219.8,25.8 223.0,26.5 221.6,25.6 221.0,24.6 221.1,23.5 221.9,23.3 223.8,23.5 224.7,24.6 225.4,26.0 226.8,27.4 227.2,27.1 227.0,26.3 225.7,24.6 225.4,23.5 227.7,23.9 228.7,23.1 229.6,24.0 231.7,24.6 232.2,25.2 230.9,23.0 232.1,22.9 232.2,22.4 233.7,22.0 236.6,21.7 239.6,21.5 241.6,20.9 243.8,21.3 247.2,21.5 248.8,22.0 246.8,22.7 249.1,23.0 253.4,23.2 257.0,23.0 258.8,23.1 260.0,23.7 262.3,24.4 264.1,24.8 266.1,24.2 268.8,24.3 268.6,23.7 272.7,23.8 276.2,24.3 278.8,24.7 282.2,24.7 284.9,25.5 286.4,25.6 289.2,25.6 291.4,25.3 292.9,26.0 293.6,25.4 295.8,25.5 299.4,26.0 304.7,28.9 303.9,29.3 303.4,29.2 307.2,30.6 307.7,31.2 305.5,31.6 304.9,32.8 304.4,33.3 300.8,32.9 300.4,33.4 300.2,34.1 300.4,35.1 301.5,35.2 303.6,36.8 304.2,38.1 304.5,39.7 304.4,40.9 304.2,41.9 301.1,39.9 298.9,37.9 297.4,36.0 296.8,34.6 296.5,33.2 297.1,32.5 297.2,31.8 296.8,31.1 294.5,31.6 292.3,31.9 293.0,33.7 290.3,33.7 288.6,33.9 286.0,33.9 284.2,33.9 283.9,35.3 283.6,36.6 283.1,38.2 285.6,38.9 286.6,39.1 288.6,39.7 290.3,40.6 289.4,39.9 290.9,41.9 293.3,44.6 293.4,46.2 293.1,48.6 292.9,50.1 291.7,50.9 290.6,50.4 290.1,51.4 289.8,51.1 289.6,50.1 288.4,48.4 289.9,48.3 288.8,44.7 286.0,45.4 284.7,44.3 281.3,43.2 277.7,40.3 274.9,39.4 273.0,39.6 272.8,40.3 274.2,43.0 273.6,43.5 272.4,43.2 270.3,42.8 268.1,43.7 264.7,43.1 263.8,42.7 260.0,42.4 259.5,41.6 256.2,40.8 256.0,41.9 256.8,43.0 254.4,43.0 251.5,42.3 250.0,43.1 248.9,43.8 248.5,43.9 246.5,43.4 244.3,41.9 241.6,42.2 238.5,39.6 236.9,38.7 234.9,39.4 234.5,38.9 232.5,38.7 232.2,37.8 230.4,37.6 227.9,38.3 225.4,38.9 225.1,39.9 226.2,41.6 225.2,42.2 223.9,41.9 221.1,42.4 218.8,41.4 217.3,41.2 216.0,42.4 214.9,42.7 214.8,43.7 214.8,44.7 216.5,45.4 217.1,46.4 217.7,46.8 217.4,47.6 216.3,48.6 216.2,49.0 217.3,50.6 218.5,52.0 217.6,52.6 216.7,51.9 215.7,51.2 214.2,51.1 212.5,50.4 210.7,50.2 208.9,49.1 207.7,48.5 207.5,48.1 208.0,48.0 208.3,47.3 208.4,46.6 209.1,46.1 208.3,46.0 209.4,45.2 209.1,43.4 207.4,43.1 206.8,42.6 205.6,42.6 205.0,41.9 204.0,41.6 203.3,40.5 201.8,40.8 201.3,39.7 202.0,39.2 200.4,38.1 199.7,37.0 198.0,36.8 197.4,35.7 197.1,35.5 197.1,34.9 197.3,33.7 197.9,33.3 198.8,33.3 198.2,33.0 197.4,32.8 196.8,32.8 197.9,31.9 199.0,30.7 197.7,29.8 197.3,28.4 196.5,27.5 196.9,26.9 195.7,26.3 195.8,26.0ZM288.9,38.6 290.7,39.6 292.2,40.9 294.1,43.0 296.1,44.0 296.3,45.7 297.8,47.0 296.8,47.3 295.0,45.1 293.1,43.0 290.9,40.9ZM210.3,24.1 211.7,24.8 214.4,24.9 212.7,23.7 213.1,22.8 214.5,22.0 217.8,21.3 219.9,21.5 217.7,22.0 214.5,22.9 213.4,23.7 211.5,23.4ZM235.7,20.3 238.6,20.7 241.6,20.5 239.8,20.1 237.3,19.6 235.0,19.7ZM264.3,22.2 268.0,22.9 268.8,22.2 272.5,22.1 271.1,21.7 267.3,21.7 264.1,21.7ZM295.9,24.6 297.0,24.7 296.2,24.3 295.6,24.3ZM55.0,24.7 56.9,24.6 56.9,24.2 55.8,24.3ZM204.3,19.8 208.1,20.0 212.9,19.8 215.2,19.6 211.3,19.3 206.6,19.6ZM47.6,28.8 52.5,26.0 53.6,26.6 53.9,27.2 55.9,27.6 55.9,28.1 53.9,28.6 51.8,29.5 49.9,29.3 50.0,28.6 48.4,28.7ZM301.6,49.0 302.8,47.8 302.3,48.8ZM303.6,47.3 304.2,46.0 304.2,47.0ZM303.8,43.0 304.0,42.2 304.3,43.0ZM209.3,26.0 210.2,25.8 209.9,26.1Z" fill="#addd8e"/>
<path d="M210.7,50.2 212.5,50.4 214.2,51.1 215.7,51.2 216.7,51.9 217.0,52.8 215.6,52.6 214.3,52.8 213.3,52.4 212.5,52.3 212.5,51.8 212.1,51.0Z" fill="#78c679"/>
<path d="M216.7,51.9 217.6,52.6 218.5,52.0 219.3,52.9 220.5,53.6 219.8,53.9 219.9,54.9 219.8,55.9 218.9,55.5 219.0,54.8 217.8,54.9 217.5,55.4 217.3,54.7 216.6,54.3 216.7,53.9 216.1,53.3 215.6,52.6 217.0,52.8ZM215.8,54.4 216.7,54.8 217.1,55.4 216.0,54.8Z" fill="#78c679"/>
<path d="M214.3,52.8 215.6,52.6 216.1,53.3 216.7,53.9 216.6,54.3 217.3,54.7 217.5,55.4 217.1,55.4 216.7,54.8 215.8,54.4 214.7,54.0Z" fill="#31a354"/>
<path d="M198.9,53.3 199.4,52.9 199.1,52.1 200.5,51.8 201.5,52.6 201.5,52.9 200.2,53.0 199.6,53.6ZM199.2,54.1 200.3,53.6 201.6,53.6 201.7,52.7 203.5,52.8 205.1,51.8 206.6,51.7 208.1,52.6 209.9,52.9 211.6,52.8 212.5,52.3 213.3,52.4 214.3,52.8 214.7,54.0 215.8,54.4 215.1,54.8 215.9,56.1 215.7,56.6 216.4,57.4 214.2,57.5 212.7,57.5 210.8,57.9 209.4,58.0 209.2,57.9 209.0,58.6 208.6,58.9 208.7,58.1 208.1,58.1 207.2,57.9 206.4,58.7 205.0,58.2 203.6,57.9 203.5,58.5 202.2,58.1 201.3,58.0 200.6,57.6 200.4,56.0 199.6,56.1 199.9,55.3 199.2,54.7Z" fill="#31a354"/>
<path d="M208.6,58.9 209.0,58.6 209.2,57.9 209.4,58.0 210.8,57.9 212.7,57.5 214.2,57.5 213.4,58.3 213.5,60.8 211.7,62.0 210.0,63.3 209.1,62.8 208.9,62.2 209.0,62.0 209.5,61.0 209.3,60.5 208.9,60.4Z" fill="#d9f0a3"/>
<path d="M208.3,62.3 208.9,60.4 209.3,60.5 209.5,61.0 209.0,62.0 208.9,62.2Z" fill="#31a354"/>
<path d="M207.8,64.6 208.7,66.8 208.9,64.8 209.0,64.3 208.4,64.2 208.4,63.7 208.5,63.1 208.9,63.2 209.1,62.8 208.9,62.2 208.3,62.3 208.2,63.7Z" fill="#006837"/>
<path d="M208.4,64.2 209.0,64.3 208.9,63.2 208.5,63.1 208.4,63.7Z" fill="#006837"/>
<path d="M208.8,67.0 209.9,67.2 211.1,66.2 210.4,64.3 212.1,63.7 212.3,63.5 211.7,62.0 210.0,63.3 209.1,62.8 208.9,63.2 209.0,64.3 208.9,64.8 208.7,66.8Z" fill="#78c679"/>
<path d="M211.7,62.0 213.5,60.8 213.4,58.3 214.2,57.5 216.4,57.4 217.2,58.8 218.1,59.9 217.7,61.2 218.5,62.3 220.2,63.7 220.4,64.9 221.5,66.3 220.9,66.2 220.6,66.0 219.7,67.3 218.0,67.2 215.2,64.8 213.5,63.8 212.3,63.5Z" fill="#addd8e"/>
<path d="M219.7,67.3 220.6,66.0 220.9,66.2 221.4,66.8 221.6,68.0 220.7,68.0Z" fill="#78c679"/>
<path d="M208.8,67.0 208.6,68.6 209.2,68.7 210.9,71.5 212.9,74.0 213.8,77.0 215.4,79.6 217.1,82.2 218.0,83.7 218.3,82.3 219.2,82.3 221.4,82.6 222.5,82.7 223.0,81.3 223.9,80.8 226.6,80.3 229.4,78.9 229.7,76.3 229.1,75.4 226.6,75.2 225.4,73.5 225.3,73.0 224.6,72.8 223.8,71.7 223.4,70.3 222.3,69.2 221.6,68.0 220.7,68.0 219.7,67.3 218.0,67.2 215.2,64.8 213.5,63.8 212.3,63.5 212.1,63.7 210.4,64.3 211.1,66.2 209.9,67.2Z" fill="#addd8e"/>
<path d="M218.0,83.7 218.2,85.8 218.7,87.8 219.0,88.6 220.5,88.4 223.3,86.8 224.7,85.9 227.3,84.7 228.0,83.3 226.6,80.3 223.9,80.8 223.0,81.3 222.5,82.7 221.4,82.6 219.2,82.3 218.3,82.3ZM228.8,88.7 229.9,88.7 229.4,89.1Z" fill="#addd8e"/>
<path d="M228.0,83.3 229.8,82.2 231.1,81.6 232.3,80.3 232.0,78.6 233.1,78.3 233.6,75.7 232.2,74.3 230.6,73.8 229.9,72.6 229.4,73.5 229.1,75.4 229.7,76.3 229.4,78.9 226.6,80.3ZM229.3,71.1 229.6,70.7 229.7,71.7Z" fill="#addd8e"/>
<path d="M225.4,73.5 226.6,75.2 229.1,75.4 229.4,73.5 229.9,72.6 229.7,71.7 229.3,71.1 228.4,72.0 228.0,73.4 226.3,73.5Z" fill="#78c679"/>
<path d="M224.6,72.8 224.4,71.8 224.7,71.0 225.1,71.5 225.3,73.0Z" fill="#78c679"/>
<path d="M215.8,54.4 217.1,55.4 217.5,55.4 217.8,54.9 219.0,54.8 218.9,55.5 219.8,55.9 220.2,56.9 221.3,57.1 222.3,58.0 223.5,58.1 224.7,57.7 224.5,57.2 225.8,56.4 227.1,56.2 228.6,56.8 229.6,57.1 231.3,58.1 231.7,59.3 231.5,60.9 232.0,61.8 231.9,62.5 232.7,64.4 233.4,64.4 233.5,65.2 233.0,66.4 234.2,67.9 235.2,68.4 235.5,69.7 236.0,69.8 236.0,70.4 234.7,71.0 234.8,72.2 232.7,72.0 230.6,71.6 229.9,69.8 229.1,70.2 227.7,70.4 226.2,69.9 224.6,68.8 223.7,67.3 222.7,65.9 221.7,65.5 221.5,66.3 220.4,64.9 220.2,63.7 218.5,62.3 217.7,61.2 218.1,59.9 217.2,58.8 216.4,57.4 215.7,56.6 215.9,56.1 215.1,54.8Z" fill="#d9f0a3"/>
<path d="M224.5,57.2 224.0,55.3 223.0,54.1 222.4,52.7 222.0,52.1 222.8,51.7 224.0,51.8 225.2,52.6 226.3,52.7 226.9,51.0 228.4,51.6 228.8,52.5 230.4,52.7 231.3,54.1 233.5,55.4 235.7,56.4 235.9,57.2 234.4,57.5 234.4,58.5 233.3,59.4 232.8,59.8 231.7,59.3 231.3,58.1 229.6,57.1 228.6,56.8 227.1,56.2 225.8,56.4Z" fill="#d9f0a3"/>
<path d="M225.2,52.6 224.0,48.4 226.0,47.7 228.6,49.2 229.7,50.1 231.4,50.0 232.3,50.1 233.4,50.6 233.6,51.3 234.2,51.9 235.8,52.8 236.6,52.5 237.6,51.7 238.0,51.6 237.8,52.5 238.9,52.4 239.6,52.9 240.5,53.2 239.5,53.9 238.5,53.9 237.3,53.9 236.7,53.9 236.4,54.6 235.9,54.7 236.5,55.3 237.3,56.2 237.1,56.7 237.1,57.4 235.9,57.2 235.7,56.4 233.5,55.4 231.3,54.1 230.4,52.7 228.8,52.5 228.4,51.6 226.9,51.0 226.3,52.7Z" fill="#d9f0a3"/>
<path d="M238.0,51.6 240.1,51.3 239.9,50.6 241.9,50.9 244.9,50.9 246.1,51.6 244.9,52.4 243.7,53.0 242.7,53.4 241.5,54.3 241.6,54.8 239.9,54.9 238.6,54.6 237.5,54.2 237.3,53.9 238.5,53.9 239.5,53.9 240.5,53.2 239.6,52.9 238.9,52.4 237.8,52.5Z" fill="#78c679"/>
<path d="M237.1,57.4 238.5,57.5 239.1,56.9 239.1,56.2 239.8,56.1 240.7,58.0 242.0,57.1 243.5,57.3 243.0,55.8 242.0,55.7 241.6,54.8 239.9,54.9 238.6,54.6 237.5,54.2 237.3,53.9 236.7,53.9 236.4,54.6 235.9,54.7 236.5,55.3 237.3,56.2 237.1,56.7Z" fill="#addd8e"/>
<path d="M217.7,46.8 219.2,46.2 220.8,46.4 221.3,48.0 220.0,48.1 219.9,49.0 219.3,49.2 220.4,50.4 221.7,50.9 222.0,52.1 222.8,51.7 224.0,51.8 225.2,52.6 224.0,48.4 226.0,47.7 228.6,49.2 229.7,50.1 231.4,50.0 232.3,50.1 233.4,50.6 233.6,51.3 234.2,51.9 235.8,52.8 236.6,52.5 237.6,51.7 238.0,51.6 240.1,51.3 239.9,50.6 241.9,50.9 244.9,50.9 246.1,51.6 245.8,50.6 246.1,50.4 245.0,48.6 246.6,48.2 246.3,47.8 246.0,46.0 248.1,46.1 247.6,44.7 248.2,44.0 248.5,43.9 246.5,43.4 244.3,41.9 241.6,42.2 238.5,39.6 236.9,38.7 234.9,39.4 234.5,38.9 232.5,38.7 232.2,37.8 230.4,37.6 227.9,38.3 225.4,38.9 225.1,39.9 226.2,41.6 225.2,42.2 223.9,41.9 221.1,42.4 218.8,41.4 217.3,41.2 216.0,42.4 214.9,42.7 214.8,43.7 214.8,44.7 216.5,45.4 217.1,46.4Z" fill="#addd8e"/>
<path d="M231.7,59.3 232.8,59.8 233.3,59.4 234.4,58.5 234.4,57.5 235.9,57.2 237.1,57.4 238.5,57.5 239.1,56.9 239.1,56.2 239.8,56.1 240.7,58.0 242.0,57.1 243.5,57.3 243.2,57.6 241.9,57.9 240.9,58.3 240.6,58.8 241.3,60.0 241.1,61.1 240.2,61.2 240.4,62.3 240.2,63.7 239.2,63.9 238.0,64.7 238.0,66.3 236.0,66.9 234.6,66.9 233.0,66.4 233.5,65.2 233.4,64.4 232.7,64.4 231.9,62.5 232.0,61.8 231.5,60.9Z" fill="#d9f0a3"/>
<path d="M234.8,72.2 237.0,72.1 239.5,72.1 240.2,72.7 241.4,74.2 241.9,73.4 243.9,73.3 243.2,71.6 242.6,70.6 241.8,69.9 242.5,68.7 243.7,67.5 244.7,66.2 245.3,64.9 244.9,63.1 245.7,63.3 244.4,62.5 243.7,61.1 244.1,60.4 246.3,60.0 246.8,59.4 245.2,59.1 244.2,58.0 243.5,57.3 243.2,57.6 241.9,57.9 240.9,58.3 240.6,58.8 241.3,60.0 241.1,61.1 240.2,61.2 240.4,62.3 240.2,63.7 239.2,63.9 238.0,64.7 238.0,66.3 236.0,66.9 234.6,66.9 233.0,66.4 234.2,67.9 235.2,68.4 235.5,69.7 236.0,69.8 236.0,70.4 234.7,71.0Z" fill="#78c679"/>
<path d="M241.4,74.2 242.4,76.0 243.6,75.2 242.5,76.1 244.3,77.9 245.7,77.3 246.0,76.0 246.5,77.6 246.9,80.3 247.9,83.5 249.2,86.2 250.0,88.4 251.6,92.2 253.1,94.7 253.7,93.6 254.7,93.1 255.2,91.8 255.1,89.5 255.3,87.9 254.7,85.1 256.6,83.4 257.6,81.8 258.7,79.7 260.2,77.9 260.3,76.9 261.2,76.7 262.1,76.7 261.6,75.4 260.9,73.4 260.2,72.9 260.0,71.5 260.1,70.7 261.4,71.0 261.7,72.1 264.2,72.4 264.3,73.4 263.5,74.3 264.0,75.2 264.6,74.2 265.4,76.4 265.9,76.1 265.4,73.8 266.3,72.0 266.3,70.4 268.0,69.8 267.8,68.4 266.3,67.0 265.4,67.3 264.6,67.8 263.3,68.8 262.6,68.9 263.3,70.1 261.2,70.3 260.3,70.1 260.1,69.6 259.8,68.7 259.2,68.8 259.7,70.7 257.4,70.4 255.5,69.3 254.8,69.6 252.4,68.4 251.3,67.7 251.7,65.9 250.6,65.2 249.4,64.6 248.7,63.1 249.2,63.0 248.8,61.2 248.2,61.1 246.8,59.4 246.3,60.0 244.1,60.4 243.7,61.1 244.4,62.5 245.7,63.3 244.9,63.1 245.3,64.9 244.7,66.2 243.7,67.5 242.5,68.7 241.8,69.9 242.6,70.6 243.2,71.6 243.9,73.3 241.9,73.4ZM267.5,87.5 267.8,87.8 267.9,90.0 267.6,89.8Z" fill="#31a354"/>
<path d="M251.3,67.7 251.7,65.9 252.1,65.7 253.7,66.5 254.8,67.2 256.0,68.0 257.1,68.7 258.1,68.7 259.2,68.8 259.7,70.7 257.4,70.4 255.5,69.3 254.8,69.6 252.4,68.4Z" fill="#006837"/>
<path d="M260.1,69.6 260.3,70.1 261.2,70.3 263.3,70.1 262.6,68.9 261.1,68.4 260.4,68.6Z" fill="#78c679"/>
<path d="M262.1,76.7 263.2,76.5 263.3,75.8 264.2,75.8 265.0,77.3 265.4,78.0 265.2,77.1 265.4,76.4 264.6,74.2 264.0,75.2 263.5,74.3 264.3,73.4 264.2,72.4 261.7,72.1 261.4,71.0 260.1,70.7 260.0,71.5 260.2,72.9 260.9,73.4 261.6,75.4Z" fill="#006837"/>
<path d="M255.3,92.6 255.6,92.4 256.8,94.0 257.6,95.8 257.5,97.0 256.4,97.7 255.8,97.1 255.5,95.5 255.4,93.8Z" fill="#78c679"/>
<path d="M290.1,51.4 290.0,51.3 288.9,50.8 288.0,51.8 288.6,52.5 287.2,52.0 287.0,53.0 286.3,54.1 285.3,54.6 284.4,55.4 284.0,53.5 282.6,53.0 282.0,54.3 281.1,55.0 281.2,55.7 282.7,56.6 283.5,57.4 284.5,56.7 286.4,57.3 285.4,58.1 285.2,58.8 284.8,60.0 286.2,61.0 287.7,63.0 289.1,64.1 289.5,65.1 288.6,65.8 290.2,66.4 290.6,68.3 290.0,69.3 289.9,71.2 289.5,72.9 288.9,73.8 288.1,74.7 286.1,75.7 285.5,76.1 284.0,76.9 282.9,77.4 283.0,78.6 282.0,77.0 280.8,76.7 280.4,76.9 279.3,76.6 278.7,75.3 277.2,74.7 276.1,75.6 274.7,75.4 274.4,75.8 274.0,75.7 274.5,77.4 273.9,77.4 272.6,76.9 271.7,76.2 271.7,75.1 270.7,73.6 269.5,73.8 269.3,72.5 269.9,71.3 269.2,69.3 267.8,68.4 266.3,67.0 265.4,67.3 264.6,67.8 263.3,68.8 262.6,68.9 261.1,68.4 260.4,68.6 260.1,69.6 259.8,68.7 259.2,68.8 258.1,68.7 257.1,68.7 256.0,68.0 254.8,67.2 253.7,66.5 252.1,65.7 251.7,65.9 250.6,65.2 249.4,64.6 248.7,63.1 249.2,63.0 248.8,61.2 248.2,61.1 246.8,59.4 245.2,59.1 244.2,58.0 243.5,57.3 243.0,55.8 242.0,55.7 241.6,54.8 241.5,54.3 242.7,53.4 243.7,53.0 244.9,52.4 246.1,51.6 245.8,50.6 246.1,50.4 245.0,48.6 246.6,48.2 246.3,47.8 246.0,46.0 248.1,46.1 247.6,44.7 248.2,44.0 248.5,43.9 248.9,43.8 249.4,44.5 251.5,45.2 253.1,46.6 253.7,48.1 256.2,48.5 258.2,49.2 259.9,51.0 263.1,51.1 264.8,51.2 268.1,52.2 269.8,51.3 271.8,51.0 272.7,49.8 271.9,48.4 273.5,48.6 273.7,48.4 274.9,47.6 275.6,46.8 277.4,46.5 276.9,46.0 275.3,45.1 274.3,45.3 273.0,45.2 272.4,43.2 273.6,43.5 274.2,43.0 272.8,40.3 273.0,39.6 274.9,39.4 277.7,40.3 281.3,43.2 284.7,44.3 286.0,45.4 288.8,44.7 289.9,48.3 288.4,48.4 289.6,50.1 289.8,51.1ZM281.8,80.0 282.3,78.9 283.8,79.1 283.7,80.6 282.9,81.3 282.0,80.8Z" fill="#78c679"/>
<path d="M291.9,72.1 292.5,72.5 292.7,74.4 292.6,76.5 291.5,75.1 291.6,73.1Z" fill="#78c679"/>
<path d="M248.9,43.8 250.0,43.1 251.5,42.3 254.4,43.0 256.8,43.0 256.0,41.9 256.2,40.8 259.5,41.6 260.0,42.4 263.8,42.7 264.7,43.1 268.1,43.7 270.3,42.8 272.4,43.2 273.0,45.2 274.3,45.3 275.3,45.1 276.9,46.0 277.4,46.5 275.6,46.8 274.9,47.6 273.7,48.4 273.5,48.6 271.9,48.4 272.7,49.8 271.8,51.0 269.8,51.3 268.1,52.2 264.8,51.2 263.1,51.1 259.9,51.0 258.2,49.2 256.2,48.5 253.7,48.1 253.1,46.6 251.5,45.2 249.4,44.5Z" fill="#d9f0a3"/>
<path d="M286.3,54.1 287.4,54.7 287.8,55.7 287.8,56.3 289.3,56.7 289.8,56.1 290.8,55.7 289.1,54.3 290.3,53.0 289.7,52.1 290.1,51.4 290.0,51.3 288.9,50.8 288.0,51.8 288.6,52.5 287.2,52.0 287.0,53.0Z" fill="#d9f0a3"/>
<path d="M289.3,56.7 290.2,57.6 290.0,58.0 291.0,59.3 291.5,60.6 292.5,60.4 293.5,60.3 293.8,59.8 293.2,58.2 292.5,57.4 290.8,55.7 289.8,56.1ZM292.2,62.1 292.7,61.8 292.6,62.2Z" fill="#78c679"/>
<path d="M296.1,61.2 296.5,60.1 297.1,59.3 299.2,59.3 299.4,58.8 299.2,57.3 300.0,57.9 300.6,57.0 300.8,55.8 300.1,54.1 299.3,52.7 300.1,52.5 301.0,53.5 302.2,54.7 302.3,56.1 303.2,57.6 303.6,58.8 304.1,59.2 303.7,60.0 302.9,60.5 302.4,60.4 301.3,60.5 301.4,60.9 300.9,61.8 299.6,60.9 299.1,60.4 297.8,60.9 297.3,61.4ZM298.9,52.4 297.8,50.4 298.6,50.3 297.1,48.0 299.0,49.0 301.1,49.2 302.3,50.4 301.4,51.8 299.4,51.2 298.6,51.6ZM295.4,62.1 296.2,61.4 297.7,62.5 298.1,64.4 297.7,64.9 297.0,64.6 296.3,63.1ZM297.5,61.6 298.9,60.9 299.7,61.5 299.1,62.2 298.7,62.7 297.8,62.1ZM297.4,71.1 297.7,70.2 297.7,71.0Z" fill="#006837" stroke-width="0.55"/>
<path d="M265.4,78.0 266.9,79.6 268.0,80.9 268.5,84.2 269.5,84.5 270.9,83.0 271.7,83.5 272.2,85.5 272.9,87.5 273.6,89.8 273.8,92.2 274.3,90.8 274.6,89.8 273.9,88.0 272.6,85.6 272.7,83.9 271.0,80.9 271.1,79.5 272.1,78.8 273.1,78.5 273.9,77.4 272.6,76.9 271.7,76.2 271.7,75.1 270.7,73.6 269.5,73.8 269.3,72.5 269.9,71.3 269.2,69.3 267.8,68.4 268.0,69.8 266.3,70.4 266.3,72.0 265.4,73.8 265.9,76.1 265.4,76.4 265.2,77.1Z" fill="#31a354"/>
<path d="M273.8,92.2 273.8,94.4 273.9,95.1 274.9,95.9 275.8,96.9 276.9,97.9 277.8,97.2 276.6,96.3 276.0,95.5 275.5,94.0 274.7,93.1 274.4,91.6 274.9,89.5 274.7,87.6 275.6,87.6 275.7,88.7 277.2,89.2 277.9,90.0 277.3,88.6 277.0,87.4 277.6,86.4 279.6,86.4 279.7,84.6 278.7,83.4 278.4,82.2 277.4,81.2 276.3,81.6 275.6,81.8 274.9,82.2 274.5,79.6 273.7,79.5 273.4,78.6 273.1,78.5 272.1,78.8 271.1,79.5 271.0,80.9 272.7,83.9 272.6,85.6 273.9,88.0 274.6,89.8 274.3,90.8Z" fill="#006837"/>
<path d="M273.1,78.5 273.9,77.4 274.5,77.4 274.0,75.7 274.4,75.8 275.4,76.7 276.8,77.8 277.9,78.9 277.1,79.6 278.6,80.8 280.3,82.9 281.5,84.3 281.9,85.9 280.4,86.3 279.6,86.4 279.7,84.6 278.7,83.4 278.4,82.2 277.4,81.2 276.3,81.6 275.6,81.8 274.9,82.2 274.5,79.6 273.7,79.5 273.4,78.6Z" fill="#78c679"/>
<path d="M280.4,76.9 279.3,76.6 278.7,75.3 277.2,74.7 276.1,75.6 274.7,75.4 274.4,75.8 275.4,76.7 276.8,77.8 277.9,78.9 277.1,79.6 278.6,80.8 280.3,82.9 281.5,84.3 281.9,85.9 282.2,88.2 282.4,89.1 281.3,89.9 280.9,90.0 281.3,91.0 280.2,91.0 279.6,91.6 280.1,92.4 280.3,94.0 280.8,93.5 282.0,91.6 282.9,91.0 284.1,89.8 284.0,88.2 283.3,86.2 282.3,84.1 280.9,82.9 279.9,81.6 279.0,80.3 279.4,78.4 279.9,77.5Z" fill="#006837"/>
<path d="M277.9,90.0 277.3,88.6 277.0,87.4 277.6,86.4 279.6,86.4 280.4,86.3 281.9,85.9 282.2,88.2 282.4,89.1 281.3,89.9 280.9,90.0 281.3,91.0 280.2,91.0 279.6,91.6 278.7,91.4 278.6,90.7 278.0,90.4Z" fill="#006837"/>
<path d="M275.8,96.9 276.9,97.9 277.8,97.2 279.2,99.1 279.3,100.9 280.2,103.7 279.5,103.8 277.2,101.7 276.5,100.2 276.1,98.2ZM285.6,102.9 287.2,103.6 287.3,102.1 288.9,101.3 289.8,99.4 290.4,100.1 291.0,99.8 291.0,98.9 291.8,97.4 292.4,96.2 293.3,97.0 295.0,98.6 294.0,99.8 293.4,100.0 291.5,99.8 291.4,101.6 290.8,102.6 290.8,103.6 288.5,103.6 287.0,104.3 285.9,103.8Z" fill="#31a354"/>
<path d="M289.8,99.4 291.0,98.9 291.0,99.8 290.4,100.1Z" fill="#31a354"/>
<path d="M279.6,103.6 280.0,103.6 280.0,103.9 279.6,103.9Z" fill="#006837"/>
<path d="M285.6,102.9 285.9,103.8 287.0,104.3 288.5,103.6 290.8,103.6 290.8,102.6 291.4,101.6 291.5,99.8 293.4,100.0 293.7,100.9 294.0,102.6 295.0,104.3 293.8,104.5 293.5,106.7 292.5,107.8 292.2,110.0 291.9,111.0 290.5,111.1 290.4,110.2 288.9,109.9 287.6,110.3 286.1,109.6 286.2,107.9 285.0,105.9 285.0,103.8ZM271.1,98.1 273.3,98.6 274.2,99.8 275.9,101.7 276.4,102.5 277.5,102.9 279.0,104.7 279.8,105.6 279.5,106.9 280.5,108.0 281.9,109.6 281.7,111.7 281.5,113.4 280.3,113.5 280.1,113.0 278.2,111.0 276.9,109.2 276.3,106.9 275.0,105.2 274.7,103.3 273.1,101.3 271.9,99.8ZM280.8,114.7 282.2,113.7 284.0,114.1 286.5,114.2 288.3,114.9 289.9,116.0 289.8,117.3 288.1,116.9 285.5,116.4 283.5,116.1 282.0,115.6ZM290.4,116.5 292.1,116.8 294.4,116.8 296.4,116.9 298.4,116.6 298.1,117.3 295.3,117.6 292.3,117.7 290.5,117.4ZM294.2,118.2 295.9,118.9 295.1,119.4ZM298.5,119.4 299.6,118.1 300.3,117.7 300.3,118.4 299.5,119.3ZM295.2,113.0 295.7,110.3 294.7,109.4 295.3,106.9 295.8,105.3 296.8,103.8 299.0,104.3 301.0,103.4 300.5,105.1 299.0,104.9 297.0,105.1 296.2,106.8 297.5,106.8 299.3,106.8 298.8,107.8 297.7,108.2 298.4,109.9 299.0,111.4 298.7,112.9 297.8,111.9 297.4,110.7 296.9,109.2 296.3,109.5 296.2,111.9 296.1,113.1ZM303.5,103.2 303.9,102.6 304.7,104.3 304.0,105.6 304.3,106.7 303.7,106.0 303.8,104.5ZM301.9,109.9 302.9,109.9 302.9,110.7 301.9,110.6ZM303.9,109.6 306.7,109.9 306.2,110.7 304.0,110.3ZM307.0,106.7 308.5,106.1 310.0,106.7 310.2,109.0 311.2,110.0 312.9,108.4 314.5,108.0 316.9,109.1 316.6,113.5 316.1,117.8 315.1,116.5 313.3,116.9 314.1,115.3 313.7,113.0 311.8,111.8 309.8,110.9 308.8,111.1 308.7,110.0 307.9,109.4 309.6,108.6 308.0,108.3 307.0,107.4ZM281.3,107.9 282.2,107.9 282.6,109.6 281.9,109.6ZM283.5,109.1 284.2,109.2 283.9,109.9ZM273.0,103.7 273.9,104.8 273.5,104.3ZM274.6,106.9 275.3,108.0 274.9,108.0ZM309.9,113.4 310.5,113.1 310.2,114.6ZM306.5,115.7 307.2,115.3 306.9,116.4Z" fill="#006837" stroke-width="0.42"/>
<path d="M300.3,117.7 302.6,116.9 302.1,117.6 300.3,118.4Z" fill="#31a354"/>
<path d="M294.1,84.2 293.6,80.9 295.2,80.9 295.9,83.5 295.4,84.6 295.9,86.6 297.0,86.6 298.3,87.1 298.4,88.3 297.4,87.9 296.2,87.2 295.1,87.1 294.8,86.2 294.0,85.5ZM297.6,96.2 298.8,94.0 300.1,93.5 300.6,92.4 301.7,94.2 302.1,96.5 301.6,97.1 301.1,98.1 300.7,97.5 299.6,96.9 299.7,95.6 298.8,95.5ZM298.9,88.8 300.5,90.6 300.3,92.0 299.4,90.8ZM296.8,89.8 297.9,90.2 298.5,91.5 298.4,93.4 297.6,92.6 297.5,91.2 296.9,91.5ZM292.6,94.3 294.5,91.4 294.6,90.4 294.1,91.6 292.8,93.5ZM294.8,87.6 296.0,87.9 295.9,89.2 295.4,88.7Z" fill="#006837" stroke-width="0.65"/>
<path d="M217.7,46.8 219.2,46.2 220.8,46.4 221.3,48.0 220.0,48.1 219.9,49.0 219.3,49.2 220.4,50.4 221.7,50.9 222.0,52.1 222.4,52.7 223.0,54.1 224.0,55.3 224.5,57.2 224.7,57.7 223.5,58.1 222.3,58.0 221.3,57.1 220.2,56.9 219.8,55.9 219.9,54.9 219.8,53.9 220.5,53.6 219.3,52.9 218.5,52.0 217.3,50.6 216.2,49.0 216.3,48.6 217.4,47.6Z" fill="#addd8e"/>
<path d="M174.0,59.9 173.3,59.7 171.9,59.8 171.1,58.9 170.6,59.1 169.8,61.2 168.2,62.1 167.4,63.1 166.9,64.3 167.0,65.7 166.4,67.0 165.2,68.3 163.7,69.1 167.8,69.1 167.8,67.8 169.4,66.8 171.3,66.2 172.6,65.1 173.2,63.9 174.9,63.6 174.4,61.8 174.4,60.6Z" fill="#31a354"/>
<path d="M163.7,69.1 167.8,69.1 167.8,71.2 164.6,71.2 164.5,74.4 163.5,75.1 163.4,77.2 159.6,77.2 159.5,77.9 159.7,76.5 160.6,74.2 161.8,71.8 162.3,70.8Z" fill="#78c679"/>
<path d="M159.5,77.9 160.0,79.7 160.3,81.6 159.8,84.1 161.8,83.3 162.9,84.7 164.0,85.8 164.7,84.8 165.5,85.0 166.8,84.9 170.6,84.9 170.5,83.5 169.8,72.5 171.4,72.5 167.8,69.6 167.8,69.1 167.8,71.2 164.6,71.2 164.5,74.4 163.5,75.1 163.4,77.2 159.6,77.2Z" fill="#addd8e"/>
<path d="M174.0,59.9 176.0,58.9 177.2,58.2 178.7,57.9 180.8,57.9 182.6,57.5 183.8,57.7 183.6,59.8 183.5,60.6 182.9,61.5 184.3,63.6 184.9,65.9 185.3,68.3 185.4,70.6 185.6,73.1 187.5,74.4 183.3,77.8 181.6,79.7 180.1,80.1 179.2,80.3 179.1,79.2 177.7,78.6 171.4,72.5 167.8,69.6 167.8,69.1 167.8,67.8 169.4,66.8 171.3,66.2 172.6,65.1 173.2,63.9 174.9,63.6 174.4,61.8 174.4,60.6Z" fill="#78c679"/>
<path d="M183.8,57.7 184.8,57.3 185.9,57.6 185.5,58.3 185.6,59.4 186.1,60.5 185.3,61.0 185.2,61.5 186.6,62.3 186.6,63.2 185.6,64.1 185.4,65.2 184.9,65.9 184.3,63.6 182.9,61.5 183.5,60.6 183.6,59.8Z" fill="#78c679"/>
<path d="M186.6,62.3 188.2,62.6 190.1,63.3 190.6,64.4 192.3,65.1 193.7,65.8 194.6,64.9 194.6,63.3 195.9,62.6 197.3,63.0 199.3,64.1 199.5,67.2 200.1,76.3 200.3,78.9 199.3,78.9 199.3,79.6 191.4,74.5 190.4,75.1 189.7,75.6 187.5,74.4 185.6,73.1 185.4,70.6 185.3,68.3 184.9,65.9 185.4,65.2 185.6,64.1 186.6,63.2Z" fill="#addd8e"/>
<path d="M199.3,64.1 201.4,64.6 203.0,65.1 204.2,64.3 205.0,64.2 206.0,64.6 207.8,64.6 208.7,66.8 208.5,68.7 208.4,69.0 207.7,68.4 206.5,66.2 206.6,66.8 207.6,68.9 208.3,70.6 210.0,73.8 210.4,74.8 211.6,76.3 200.1,76.3 199.5,67.2Z" fill="#31a354"/>
<path d="M211.6,76.3 212.0,77.6 212.3,79.6 213.7,81.6 212.2,82.7 211.9,85.2 212.0,86.4 211.7,88.6 210.7,89.8 210.6,91.1 210.0,91.4 209.9,92.8 208.8,91.4 208.8,89.2 208.4,89.4 207.5,91.6 206.5,92.4 205.3,92.4 203.8,93.0 202.4,92.8 200.8,91.8 199.9,93.9 199.4,93.5 199.4,92.3 198.7,91.0 198.7,90.3 198.2,88.7 197.5,88.6 197.9,87.2 198.2,86.7 198.5,84.6 199.6,84.6 199.3,79.6 199.3,78.9 200.3,78.9 200.1,76.3Z" fill="#d9f0a3"/>
<path d="M199.9,93.9 200.8,91.8 202.4,92.8 203.8,93.0 205.3,92.4 206.5,92.4 207.5,91.6 208.4,89.4 208.8,89.2 208.8,91.4 209.9,92.8 209.9,94.0 209.5,94.3 208.9,95.1 209.9,95.5 210.6,96.6 211.2,98.3 211.8,98.5 211.9,99.4 210.0,99.9 208.7,100.6 207.9,100.8 206.8,100.9 206.2,100.3 205.5,99.7 204.4,99.8 203.4,98.8 202.3,96.7 201.1,95.4Z" fill="#addd8e"/>
<path d="M159.8,84.1 158.8,85.9 159.4,87.4 160.7,87.2 162.4,87.5 162.4,87.9 160.7,87.8 159.5,88.0 159.5,89.0 161.2,88.9 162.5,88.6 163.8,89.1 164.7,89.0 164.6,87.8 164.0,85.8 162.9,84.7 161.8,83.3Z" fill="#78c679"/>
<path d="M159.4,87.4 160.7,87.2 162.4,87.5 162.4,87.9 160.7,87.8 159.5,88.0Z" fill="#31a354"/>
<path d="M159.5,89.0 161.2,88.9 162.5,88.6 162.4,89.9 161.1,90.8 160.2,90.0Z" fill="#addd8e"/>
<path d="M161.0,90.9 162.4,89.9 162.5,88.6 163.8,89.1 164.7,89.0 165.4,89.6 166.8,89.0 167.8,90.6 168.1,91.9 168.3,93.4 167.8,94.6 167.5,95.4 166.7,95.6 166.5,94.3 165.8,94.2 165.5,93.4 164.9,92.2 163.6,92.3 162.8,93.4 162.4,92.8 161.5,91.6Z" fill="#d9f0a3"/>
<path d="M162.8,93.4 163.6,92.3 164.9,92.2 165.5,93.4 165.8,94.2 164.5,96.2 163.6,95.6 162.9,94.3Z" fill="#addd8e"/>
<path d="M164.5,96.2 165.8,94.2 166.5,94.3 166.7,95.6 167.5,95.4 167.7,97.0 168.5,97.7 168.5,99.7 167.0,98.9 165.2,97.1Z" fill="#addd8e"/>
<path d="M168.5,99.7 168.5,97.7 167.7,97.0 167.5,95.4 167.8,94.6 168.3,93.4 168.1,91.9 169.9,91.4 170.5,91.6 171.3,92.6 173.2,92.4 173.3,92.8 173.5,94.6 172.8,96.5 173.2,98.7 172.9,98.7 171.0,98.7Z" fill="#d9f0a3"/>
<path d="M172.9,98.7 173.2,98.7 172.8,96.5 173.5,94.6 173.3,92.8 173.2,92.4 173.2,90.8 175.9,90.7 176.3,91.8 176.5,94.2 176.6,96.5 177.2,97.4 176.0,97.9 174.0,99.2Z" fill="#addd8e"/>
<path d="M177.2,97.4 176.6,96.5 176.5,94.2 176.3,91.8 175.9,90.7 176.9,90.8 176.8,91.6 177.4,93.1 177.6,97.3Z" fill="#78c679"/>
<path d="M177.6,97.3 177.4,93.1 176.8,91.6 176.9,90.8 177.4,90.2 178.4,89.6 178.4,89.1 179.6,89.9 179.6,91.9 178.8,93.5 178.7,97.0Z" fill="#addd8e"/>
<path d="M170.5,91.6 170.8,89.8 171.7,88.6 172.1,87.6 172.8,87.2 174.0,86.6 175.3,85.4 176.2,85.6 176.4,86.8 177.0,87.6 178.1,88.6 178.4,89.1 178.4,89.6 177.4,90.2 176.9,90.8 175.9,90.7 173.2,90.8 173.2,92.4 171.3,92.6Z" fill="#d9f0a3"/>
<path d="M164.0,85.8 164.6,87.8 164.7,89.0 165.4,89.6 166.8,89.0 167.8,90.6 168.1,91.9 169.9,91.4 170.5,91.6 170.8,89.8 171.7,88.6 172.1,87.6 172.8,87.2 174.0,86.6 175.3,85.4 176.2,85.6 177.3,85.1 179.4,85.0 180.1,83.5 180.1,80.1 179.2,80.3 179.1,79.2 177.7,78.6 171.4,72.5 169.8,72.5 170.5,83.5 170.6,84.9 166.8,84.9 165.5,85.0 164.7,84.8Z" fill="#d9f0a3"/>
<path d="M176.2,85.6 176.4,86.8 177.0,87.6 178.1,88.6 178.4,89.1 179.6,89.9 180.0,87.5 182.8,88.2 184.4,88.0 185.4,88.4 188.3,88.0 189.4,87.2 189.3,86.2 191.2,83.0 191.2,80.3 191.4,78.4 190.4,75.1 189.7,75.6 187.5,74.4 183.3,77.8 181.6,79.7 180.1,80.1 180.1,83.5 179.4,85.0 177.3,85.1Z" fill="#d9f0a3"/>
<path d="M178.7,97.0 180.5,97.1 181.5,98.6 182.0,99.8 183.5,99.5 184.5,99.4 184.9,97.8 186.0,96.3 187.3,96.7 187.8,96.2 188.2,94.2 189.1,92.8 189.7,90.8 190.5,90.2 190.0,89.0 189.9,88.0 189.4,87.2 188.3,88.0 185.4,88.4 184.4,88.0 182.8,88.2 180.0,87.5 179.6,89.9 179.6,91.9 178.8,93.5Z" fill="#addd8e"/>
<path d="M184.5,99.4 185.5,100.3 185.8,102.6 187.3,102.6 189.3,102.6 190.5,102.6 192.1,103.3 192.2,102.6 191.8,101.4 191.0,100.2 190.5,98.9 190.6,97.3 191.4,95.5 190.9,94.0 189.8,92.7 190.1,92.2 191.4,92.2 190.9,91.0 190.9,89.5 190.4,88.6 189.9,88.0 190.0,89.0 190.5,90.2 189.7,90.8 189.1,92.8 188.2,94.2 187.8,96.2 187.3,96.7 186.0,96.3 184.9,97.8Z" fill="#addd8e"/>
<path d="M185.8,102.6 187.3,102.6 187.3,104.3 185.6,104.3ZM184.5,100.6 184.9,100.6 184.7,101.2Z" fill="#addd8e"/>
<path d="M185.6,104.3 187.3,104.3 187.3,102.6 189.3,102.6 189.2,103.8 190.4,103.8 190.5,106.4 189.9,108.8 188.8,108.2 187.6,108.8 187.9,110.6 187.1,110.9 185.6,108.8 184.8,106.5 185.3,105.2Z" fill="#d9f0a3"/>
<path d="M187.1,110.9 187.9,110.6 187.6,108.8 188.8,108.2 189.9,108.8 190.5,106.4 190.4,103.8 189.2,103.8 189.3,102.6 190.5,102.6 192.1,103.3 192.2,102.6 192.6,100.9 194.6,100.9 194.1,102.5 193.8,105.2 193.7,106.4 192.2,108.6 191.9,110.9 191.3,111.4 190.4,112.2 189.4,112.2 189.1,111.8 188.8,111.5 188.0,112.3 187.8,111.8Z" fill="#addd8e"/>
<path d="M188.2,113.4 188.5,113.3 189.1,111.8 189.4,112.2 190.4,112.2 191.3,111.4 191.9,110.9 192.2,108.6 193.7,106.4 193.8,105.2 194.1,102.5 194.6,100.9 195.5,98.7 196.9,99.7 198.4,100.1 198.9,99.1 200.4,98.7 201.3,98.9 203.4,98.8 204.4,99.8 205.5,99.7 206.2,100.3 206.8,100.9 206.7,102.4 207.3,102.7 206.5,104.0 205.9,104.5 205.6,106.3 205.6,107.5 205.2,107.9 205.3,109.1 205.0,109.4 205.2,110.0 205.2,111.5 205.4,111.6 205.2,113.0 205.5,114.6 206.5,116.6 204.7,117.0 204.2,118.0 204.4,120.0 204.1,121.4 204.7,122.2 205.2,122.0 205.4,123.6 204.6,123.6 203.7,122.2 202.9,121.2 201.7,121.6 201.1,120.6 200.2,120.9 199.8,120.2 198.0,120.6 198.1,119.7 197.7,118.4 197.8,116.6 197.7,115.4 196.4,115.4 196.2,114.9 195.4,115.0 194.9,116.4 193.5,116.5 192.8,115.3 192.6,113.5 189.4,113.5 188.4,113.7Z" fill="#d9f0a3"/>
<path d="M188.4,113.7 189.4,113.5 192.6,113.5 192.8,115.3 193.5,116.5 194.9,116.4 195.4,115.0 196.2,114.9 196.4,115.4 197.7,115.4 197.8,116.6 197.7,118.4 198.1,119.7 198.0,120.6 199.8,120.2 199.7,123.0 197.7,123.0 197.6,127.3 198.9,129.1 196.9,129.6 194.0,128.9 189.9,128.9 189.1,128.3 187.5,128.7 187.6,127.8 187.9,125.7 188.3,123.7 189.2,122.4 189.7,120.0 189.3,117.4 188.8,115.4ZM188.0,112.3 188.8,111.5 189.1,111.8 188.5,113.3 188.2,113.4Z" fill="#addd8e"/>
<path d="M199.8,120.2 199.7,123.0 197.7,123.0 197.6,127.3 198.9,129.1 200.7,129.4 202.4,129.6 204.4,127.0 205.9,126.5 205.7,125.6 208.7,124.4 208.4,123.7 208.6,122.2 209.0,120.1 208.7,118.2 207.0,117.2 206.5,116.6 204.7,117.0 204.2,118.0 204.4,120.0 204.1,121.4 204.7,122.2 205.2,122.0 205.4,123.6 204.6,123.6 203.7,122.2 202.9,121.2 201.7,121.6 201.1,120.6 200.2,120.9Z" fill="#addd8e"/>
<path d="M187.5,128.7 188.2,130.9 189.0,133.4 190.0,135.8 189.9,137.4 190.2,140.6 191.5,143.3 192.4,143.4 193.9,143.7 194.8,143.0 195.1,138.5 195.3,134.9 196.3,134.9 196.5,130.0 198.8,129.6 199.8,129.6 200.7,129.4 198.9,129.1 196.9,129.6 194.0,128.9 189.9,128.9 189.1,128.3Z" fill="#addd8e"/>
<path d="M195.1,138.5 195.3,134.9 196.3,134.9 196.5,130.0 198.8,129.6 199.8,129.6 200.7,129.4 200.7,130.4 201.4,132.1 202.9,132.9 202.8,133.7 203.4,134.3 204.3,135.1 202.9,135.9 201.9,137.0 200.8,138.3 199.6,139.7 197.9,139.1 196.9,140.5 195.7,141.1Z" fill="#d9f0a3"/>
<path d="M191.5,143.3 191.9,145.0 192.5,148.4 192.9,149.8 192.9,150.4 194.3,150.9 196.2,150.1 198.0,150.1 199.6,150.0 201.3,149.1 202.9,147.5 204.5,145.7 205.1,144.8 206.5,143.2 207.2,141.1 206.4,141.1 205.6,141.6 205.3,141.3 205.3,140.5 205.8,139.7 206.4,140.0 206.5,137.8 206.2,135.4 204.9,135.2 204.3,135.1 202.9,135.9 201.9,137.0 200.8,138.3 199.6,139.7 197.9,139.1 196.9,140.5 195.7,141.1 195.1,138.5 194.8,143.0 193.9,143.7 192.4,143.4Z" fill="#addd8e"/>
<path d="M201.3,144.5 202.3,143.4 203.2,143.5 203.6,144.4 203.0,145.2 202.2,145.8 201.6,145.4Z" fill="#addd8e"/>
<path d="M205.3,140.5 205.8,139.7 206.4,140.0 206.4,141.1 205.6,141.6 205.3,141.3Z" fill="#addd8e"/>
<path d="M200.7,129.4 202.4,129.6 204.4,127.0 205.9,126.5 206.7,127.0 208.2,127.9 208.2,129.6 207.9,130.8 208.1,132.0 207.5,133.0 207.3,133.9 206.2,135.4 204.9,135.2 204.3,135.1 203.4,134.3 202.8,133.7 202.9,132.9 201.4,132.1 200.7,130.4Z" fill="#d9f0a3"/>
<path d="M207.2,141.1 207.0,139.9 208.0,139.0 210.0,137.4 210.2,135.1 209.9,132.9 209.7,132.0 212.0,129.5 214.2,128.1 215.9,126.3 216.2,124.8 216.0,122.5 216.1,119.7 214.1,120.9 212.1,121.3 210.7,121.2 210.2,123.0 210.8,124.9 211.3,125.6 211.1,127.0 210.6,128.5 209.7,127.0 210.0,125.3 208.7,124.4 205.7,125.6 205.9,126.5 206.7,127.0 208.2,127.9 208.2,129.6 207.9,130.8 208.1,132.0 207.5,133.0 207.3,133.9 206.2,135.4 206.5,137.8 206.4,140.0 206.4,141.1Z" fill="#d9f0a3"/>
<path d="M208.7,118.2 209.1,118.4 209.8,118.4 210.3,119.7 210.7,121.2 210.2,123.0 210.8,124.9 211.3,125.6 211.1,127.0 210.6,128.5 209.7,127.0 210.0,125.3 208.7,124.4 208.4,123.7 208.6,122.2 209.0,120.1Z" fill="#addd8e"/>
<path d="M216.1,119.7 215.6,117.7 215.1,115.7 215.4,114.7 214.7,113.7 215.1,111.9 213.7,110.3 213.6,109.6 210.0,106.9 206.5,106.9 206.8,108.7 206.5,108.8 206.8,110.0 206.4,110.7 205.9,111.5 205.4,111.6 205.2,113.0 205.5,114.6 206.5,116.6 207.0,117.2 208.7,118.2 209.1,118.4 209.8,118.4 210.3,119.7 210.7,121.2 212.1,121.3 214.1,120.9ZM215.1,113.4 215.5,114.1 215.2,114.2Z" fill="#addd8e"/>
<path d="M215.1,111.9 215.7,111.0 216.2,109.2 217.5,107.9 217.0,106.7 217.0,101.8 217.9,100.3 215.5,101.0 214.1,100.8 212.8,99.7 211.9,99.4 210.0,99.9 210.5,101.3 211.0,103.0 210.5,104.1 210.0,105.2 209.9,106.9 213.6,109.6 213.7,110.3Z" fill="#31a354"/>
<path d="M205.6,107.5 205.6,106.3 205.9,104.5 206.5,104.0 207.3,102.7 206.7,102.4 206.8,100.9 207.9,100.8 208.7,100.6 210.0,99.9 210.5,101.3 211.0,103.0 210.5,104.1 210.0,105.2 209.9,106.9 206.5,106.9Z" fill="#78c679"/>
<path d="M205.6,107.5 206.5,106.9 206.8,108.7 206.5,108.8 205.9,109.2 205.0,109.4 205.3,109.1 205.2,107.9Z" fill="#78c679"/>
<path d="M205.0,109.4 205.9,109.2 206.5,108.8 206.8,110.0 206.4,110.7 205.9,111.5 205.4,111.6 205.2,111.5 205.2,110.0Z" fill="#addd8e"/>
<path d="M217.5,107.9 218.6,105.9 220.0,104.3 221.3,102.9 223.6,99.8 224.9,97.3 225.9,94.6 226.5,92.8 226.7,91.6 226.8,89.8 226.3,89.5 224.5,90.4 222.6,90.7 220.6,91.5 219.7,91.6 218.8,90.2 218.5,90.9 219.3,93.0 219.7,93.5 220.8,94.0 222.8,94.8 223.8,94.8 220.9,98.9 219.8,99.0 218.8,99.8 217.9,100.3 217.0,101.8 217.0,106.7Z" fill="#addd8e"/>
<path d="M218.8,90.2 218.5,90.9 217.4,90.8 217.4,89.9 217.9,88.9 218.6,88.6 218.9,89.5 218.3,90.0Z" fill="#78c679"/>
<path d="M218.6,88.6 217.9,88.9 217.2,87.8 216.2,86.6 214.5,86.0 213.3,85.8 212.9,86.6 212.0,86.4 211.9,85.2 212.2,82.7 213.7,81.6 214.4,83.5 214.8,84.7 215.9,85.8 216.6,86.2 217.7,87.6Z" fill="#d9f0a3"/>
<path d="M217.9,88.9 217.4,89.9 217.4,90.8 218.5,90.9 219.3,93.0 219.7,93.5 220.8,94.0 222.8,94.8 223.8,94.8 220.9,98.9 219.8,99.0 218.8,99.8 217.9,100.3 215.5,101.0 214.1,100.8 212.8,99.7 211.9,99.4 211.8,98.5 211.2,98.3 210.6,96.6 209.9,95.5 208.9,95.1 209.5,94.3 209.9,94.0 209.9,92.8 210.0,91.4 210.6,91.1 210.7,89.8 211.7,88.6 212.0,86.4 212.9,86.6 213.3,85.8 214.5,86.0 216.2,86.6 217.2,87.8Z" fill="#d9f0a3"/>
<path d="M191.4,95.5 190.6,97.3 190.5,98.9 191.0,100.2 191.8,101.4 192.2,102.6 192.6,100.9 194.6,100.9 195.5,98.7 196.9,99.7 198.4,100.1 198.9,99.1 200.4,98.7 201.3,98.9 203.4,98.8 202.3,96.7 201.1,95.4 199.9,93.9 199.4,93.5 199.4,92.3 198.7,91.0 197.8,91.2 197.5,91.4 196.3,93.4 194.9,93.5 194.8,93.8 193.6,95.0 192.5,95.2Z" fill="#d9f0a3"/>
<path d="M189.4,87.2 189.9,88.0 190.4,88.6 190.9,89.5 190.9,91.0 191.4,92.2 190.1,92.2 189.8,92.7 190.9,94.0 191.4,95.5 192.5,95.2 193.6,95.0 194.8,93.8 194.9,93.5 196.3,93.4 197.5,91.4 197.8,91.2 198.7,91.0 198.7,90.3 198.2,88.7 197.5,88.6 197.9,87.2 198.2,86.7 198.5,84.6 199.6,84.6 199.3,79.6 191.4,74.5 190.4,75.1 191.4,78.4 191.2,80.3 191.2,83.0 189.3,86.2Z" fill="#d9f0a3"/>
<path d="M224.8,121.7 225.6,126.2 224.8,128.1 224.5,129.0 223.0,132.9 221.1,138.5 219.1,139.4 218.0,138.6 217.8,135.1 219.1,132.3 219.0,129.0 220.7,126.9 221.8,126.3 223.2,125.2 224.2,123.4Z" fill="#d9f0a3"/>
<path d="M218.8,120.9 219.1,120.9 219.1,121.6 218.8,121.6Z" fill="#31a354"/>
<path d="M231.6,132.3 232.1,132.3 232.0,132.9 231.6,132.9Z" fill="#31a354"/>
<path d="M229.5,133.4 230.0,133.4 230.0,134.1 229.4,134.1Z" fill="#31a354"/>
<path d="M152.4,85.5 153.0,85.2 152.9,85.6ZM151.2,82.9 151.6,82.7 151.5,83.1Z" fill="#31a354"/>
<path d="M182.5,105.1 182.8,105.1 182.6,105.6Z" fill="#31a354"/>
<path d="M317.3,120.0 317.8,122.8 317.6,124.9 318.9,125.7 318.5,127.7 318.4,130.8 320.1,132.5 320.3,134.2 320.9,136.5 321.7,138.5 321.7,140.0 320.6,143.3 318.4,146.3 316.8,148.1 314.9,149.7 311.9,153.0 310.9,154.2 308.8,154.6 306.5,156.1 305.8,155.1 304.1,155.7 302.6,155.2 302.0,154.2 302.7,152.1 302.0,151.9 302.2,150.6 301.4,151.4 303.0,149.0 303.3,148.2 300.2,150.9 299.8,151.1 299.7,148.7 299.6,147.6 297.9,146.9 295.7,147.1 292.6,147.9 290.3,148.7 289.3,149.8 286.1,149.8 283.7,151.2 281.9,151.1 281.4,150.4 283.2,147.5 283.6,145.0 284.0,141.9 283.6,140.1 284.6,138.1 285.5,135.6 286.2,134.6 287.8,133.6 289.4,133.0 291.6,132.3 293.6,131.7 295.3,129.6 295.7,128.3 296.8,128.7 297.3,127.3 298.9,126.1 300.2,124.4 301.7,124.4 302.2,125.4 303.4,125.6 304.1,123.7 305.0,122.2 307.3,120.6 308.1,121.4 310.1,121.7 311.3,122.0 310.2,123.7 309.3,125.7 310.5,126.7 311.7,128.1 313.3,129.1 314.4,127.0 315.5,124.4 316.1,122.4ZM303.7,157.9 304.9,158.4 306.8,158.0 305.6,159.6 304.0,160.8 303.1,161.2 302.5,161.0 302.9,159.6ZM300.2,152.0 301.4,152.1 300.7,152.5 300.0,152.4ZM305.0,120.9 306.1,120.8 305.5,121.4ZM310.5,124.1 310.9,124.4 310.6,124.8Z" fill="#78c679"/>
<path d="M334.1,150.4 334.8,151.5 334.7,153.1 334.2,154.3 336.0,154.3 336.4,154.4 334.4,156.2 333.4,156.5 332.3,157.7 329.8,159.0 329.6,158.6 331.2,157.1 330.7,156.3 331.9,155.7 333.4,153.9 333.8,152.7 333.7,151.4ZM328.6,157.7 328.8,159.1 327.5,160.0 325.7,161.1 325.5,161.6 323.5,162.0 321.4,163.8 319.6,164.6 318.6,164.6 317.5,164.1 318.1,163.5 320.8,161.9 323.1,161.1 325.4,159.9 327.7,158.2ZM317.7,164.8 318.1,164.9 317.4,165.3Z" fill="#78c679" stroke-width="0.4"/>
<path d="M316.9,109.1 318.4,109.9 320.3,110.7 321.5,112.2 322.5,113.5 323.3,114.6 322.5,114.7 322.8,116.2 323.6,117.7 325.7,119.3 324.6,119.7 322.7,119.0 322.0,118.1 321.3,116.6 319.9,115.8 318.8,116.6 317.6,118.0 316.1,117.8 316.6,113.5ZM324.0,113.1 325.7,112.5 327.3,111.3 328.1,111.4 327.5,113.0 325.9,113.9 324.1,113.9ZM326.6,109.1 327.1,109.2 328.8,111.5 328.6,112.1 327.8,110.6ZM330.4,113.0 331.4,114.7 330.7,114.5ZM322.5,108.3 323.3,108.3 322.9,108.7Z" fill="#d9f0a3"/>
<path d="M334.7,118.2 335.6,118.9 335.3,118.2ZM335.9,116.9 336.2,118.4 335.9,118.1ZM333.6,115.7 335.0,116.9 334.5,116.9ZM332.0,114.6 332.9,115.6 332.4,115.4ZM336.0,119.4 336.9,120.1 336.3,119.8Z" fill="#addd8e" stroke-width="0.5"/>
<path d="M339.9,125.7 340.3,126.3 339.9,126.9ZM340.4,129.1 340.7,129.2 340.4,129.5ZM340.1,127.3 340.5,127.7 340.1,127.8Z" fill="#addd8e" stroke-width="0.6"/>
<path d="M335.2,132.4 336.7,134.7 336.9,135.4 336.3,135.2 335.2,133.2Z" fill="#78c679" stroke-width="0.5"/>
<path d="M349.3,129.1 350.6,129.0 350.2,129.9 349.1,129.9ZM351.0,128.1 352.5,127.4 352.2,127.9Z" fill="#78c679" stroke-width="0.6"/>
<path d="M5.6,123.7 6.1,123.7 6.9,124.2 6.5,124.4Z" fill="#78c679"/>
<path d="M6.4,133.7 6.6,133.7 6.7,133.9Z" fill="#78c679"/>
<path d="M29.7,129.0 30.2,129.1 30.1,129.5Z" fill="#78c679"/>
<path d="M18.5,103.2 18.8,103.0 18.7,103.3Z" fill="#78c679"/>
<path d="M98.2,46.4 101.0,45.1 102.7,44.3 104.7,45.2 104.3,46.6 102.3,46.7 99.8,46.5ZM98.9,52.1 99.7,52.1 101.0,50.6 103.6,47.5 102.3,47.5 100.4,49.0ZM104.0,47.3 105.4,47.2 107.8,47.5 107.5,48.6 105.1,50.4 104.4,50.5 103.9,49.5 104.8,48.1ZM102.9,52.0 104.9,52.2 107.3,50.9 106.3,51.0 103.9,51.6ZM106.8,50.3 109.2,50.3 110.2,49.5 108.6,49.6 107.3,49.7Z" fill="#fff" stroke-width="0.45"/>
<path d="M72.7,37.9 72.6,37.7 72.5,37.4 72.5,37.2 72.4,36.9 72.4,36.7 72.4,36.4 72.4,36.1 72.4,35.8 72.4,35.6 72.3,35.3 72.3,35.1 72.3,34.9" fill="none" stroke="#000" stroke-width="1.7" stroke-linecap="round"/><path d="M72.9,43.2 72.7,42.8 72.5,42.3 72.3,41.9 72.1,41.4 72.2,40.9 72.2,40.4 72.3,39.9 72.3,39.4 72.4,39.1 72.5,38.8 72.6,38.4 72.7,38.1" fill="none" stroke="#000" stroke-width="0.7" stroke-linecap="round"/><path d="M111.4,159.4 111.6,160.3 111.8,161.1 112.0,162.0 112.2,162.8 112.4,163.6 112.6,164.5 112.9,165.3 113.1,166.1 113.5,166.8 113.8,167.4 114.2,168.1 114.6,168.7 115.1,169.3 115.7,169.9 116.2,170.5 116.8,171.1 117.5,171.5 118.2,171.9 118.9,172.2 119.5,172.6 120.3,172.9 121.0,173.2 121.8,173.5 122.5,173.8" fill="none" stroke="#000" stroke-width="1.0" stroke-linecap="round"/><path d="M179.9,33.2 180.0,32.8 180.0,32.3 180.0,31.9 180.1,31.5 180.6,31.1 181.1,30.7 181.6,30.3 182.2,30.0 182.7,29.7 183.2,29.4 183.7,29.1 184.2,28.8 184.5,28.4 184.8,28.1 185.1,27.7 185.4,27.3 185.8,27.0 186.2,26.7 186.6,26.4 187.0,26.1 187.6,25.9 188.3,25.7 188.9,25.5 189.6,25.3 190.2,25.2 190.9,25.0 191.5,24.8 192.1,24.7" fill="none" stroke="#000" stroke-width="0.55" stroke-linecap="round"/><path d="M171.3,36.9 171.2,36.6 171.1,36.2 171.1,35.9 171.0,35.5 171.2,35.3 171.4,35.1 171.6,34.9 171.8,34.7" fill="none" stroke="#000" stroke-width="0.6" stroke-linecap="round"/><path d="M197.5,56.4 197.9,56.7 198.3,57.0 198.6,57.3 199.0,57.6 199.2,57.2 199.4,56.7 199.5,56.3 199.7,55.8 199.3,55.5 198.9,55.1 198.6,54.7 198.2,54.3" fill="none" stroke="#000" stroke-width="0.5" stroke-linecap="round"/>
</g>
<g font-size="5.3" fill="#111"><text x="371.5" y="119.8">Proportion (%)</text>
<rect x="371.6" y="124.50" width="9.9" height="5.1" fill="#b2b2b2" stroke="#333" stroke-width="0.45"/><text x="383.5" y="128.90">No data</text>
<rect x="371.6" y="132.26" width="9.9" height="5.1" fill="#d9f0a3" stroke="#333" stroke-width="0.45"/><text x="383.5" y="136.66">0-20</text>
<rect x="371.6" y="140.02" width="9.9" height="5.1" fill="#addd8e" stroke="#333" stroke-width="0.45"/><text x="383.5" y="144.42">20-40</text>
<rect x="371.6" y="147.78" width="9.9" height="5.1" fill="#78c679" stroke="#333" stroke-width="0.45"/><text x="383.5" y="152.18">40-60</text>
<rect x="371.6" y="155.54" width="9.9" height="5.1" fill="#31a354" stroke="#333" stroke-width="0.45"/><text x="383.5" y="159.94">60-80</text>
<rect x="371.6" y="163.30" width="9.9" height="5.1" fill="#006837" stroke="#333" stroke-width="0.45"/><text x="383.5" y="167.70">80-100</text>
</g>
<g transform="translate(0.4,170.9)" clip-path="url(#mclip)" stroke="#000" stroke-width="0.26" stroke-linejoin="round">
<path d="M295.6,24.3 296.2,24.3 297.0,24.7 295.9,24.6ZM159.5,77.9 159.7,76.5 160.6,74.2 162.3,70.8 163.7,69.1 165.2,68.3 166.4,67.0 167.0,65.7 166.9,64.3 167.4,63.1 168.2,62.1 169.8,61.2 170.6,59.1 171.1,58.9 171.9,59.8 173.3,59.7 174.0,59.9 176.0,58.9 177.2,58.2 178.7,57.9 180.8,57.9 182.6,57.5 183.8,57.7 184.8,57.3 185.9,57.6 185.5,58.3 185.6,59.4 186.1,60.5 185.3,61.0 185.2,61.5 186.6,62.3 188.2,62.6 190.1,63.3 190.6,64.4 192.3,65.1 193.7,65.8 194.6,64.9 194.6,63.3 195.9,62.6 197.3,63.0 199.3,64.1 201.4,64.6 203.0,65.1 204.2,64.3 205.0,64.2 206.0,64.6 207.8,64.6 208.2,63.7 208.3,62.3 208.9,60.4 208.6,58.9 208.7,58.1 208.1,58.1 207.2,57.9 206.4,58.7 203.6,57.9 203.5,58.5 202.2,58.1 201.3,58.0 200.6,57.6 200.4,56.0 199.6,56.1 199.9,55.3 199.2,54.7 199.2,54.1 200.3,53.6 201.6,53.6 201.7,52.7 203.5,52.8 205.1,51.8 206.6,51.7 208.1,52.6 209.9,52.9 211.6,52.8 212.5,52.3 212.5,51.8 212.1,51.0 208.9,49.1 207.7,48.5 207.5,48.1 208.0,48.0 208.3,47.3 208.4,46.6 209.1,46.1 208.3,46.0 205.7,47.1 207.2,48.1 204.8,49.0 203.8,48.0 204.5,47.3 202.1,46.7 201.4,48.1 200.7,49.8 200.5,51.8 201.5,52.6 201.5,52.9 200.2,53.0 199.6,53.6 198.9,53.3 197.5,53.0 197.2,53.7 196.3,53.6 196.0,54.1 196.8,55.0 196.4,55.5 197.5,56.2 196.8,56.6 196.9,57.3 196.6,58.2 196.3,58.2 195.6,57.9 195.0,56.7 194.9,56.0 194.5,55.3 194.0,54.4 193.2,53.7 193.0,51.9 192.1,51.2 189.9,50.1 189.1,49.3 188.8,48.3 188.2,48.2 187.9,48.6 187.5,48.0 187.7,47.7 186.5,48.1 186.7,49.2 187.8,50.1 188.8,51.6 190.0,51.9 190.0,52.4 191.8,53.3 192.4,53.7 192.3,54.2 191.0,53.5 190.7,54.4 191.2,55.3 190.8,56.0 190.0,56.4 190.3,55.5 189.9,54.1 188.7,53.4 188.1,52.7 186.7,52.0 185.1,50.8 184.8,49.6 183.6,49.1 181.4,50.5 179.9,50.2 178.6,50.4 178.8,51.3 178.8,51.9 177.9,52.6 176.4,53.5 175.7,54.8 176.2,55.5 175.6,56.2 175.3,56.9 174.2,57.9 172.0,58.0 171.1,58.7 169.3,57.4 168.0,57.6 168.1,56.0 167.5,55.6 168.1,53.9 168.3,51.9 167.9,50.6 169.1,49.8 171.0,49.9 172.7,50.1 174.4,50.2 175.0,48.8 175.0,47.1 173.9,45.9 172.4,45.3 172.1,44.7 173.5,44.3 174.7,44.4 174.4,43.3 175.0,43.6 176.2,43.3 177.2,42.9 177.3,42.2 178.8,41.5 179.2,40.9 179.8,39.9 180.8,39.5 181.7,39.4 183.1,39.0 182.8,38.0 182.5,37.9 182.3,36.0 184.1,35.3 184.0,36.5 184.5,36.7 183.7,37.7 183.5,38.1 184.8,38.9 185.7,38.6 187.3,39.0 189.1,38.4 190.5,38.1 190.8,38.4 191.7,38.5 191.8,38.0 192.6,37.6 192.5,36.9 192.5,35.6 193.4,35.3 194.8,35.8 194.8,35.1 193.9,34.4 193.8,33.9 195.4,33.6 197.3,33.7 197.9,33.3 198.8,33.3 197.4,32.8 196.8,32.8 193.2,33.3 191.9,32.3 191.7,30.8 193.6,29.5 194.1,29.0 193.1,28.4 191.6,28.4 191.1,29.4 188.9,31.1 188.9,32.3 190.2,33.4 189.0,34.4 188.8,35.5 188.5,36.8 187.2,37.4 186.2,37.5 186.0,36.8 185.3,36.0 184.7,34.8 184.7,34.1 184.0,34.1 182.1,35.0 180.2,34.3 179.7,32.8 179.7,31.5 181.1,30.6 183.2,29.8 184.2,29.0 185.2,27.8 186.4,26.5 188.3,25.5 190.2,25.2 192.8,24.6 194.8,24.6 197.0,25.1 197.1,25.6 200.7,25.9 204.1,26.9 204.8,27.7 203.2,28.1 199.2,27.8 201.0,29.4 202.8,29.9 203.4,29.6 205.1,29.3 204.4,28.5 205.6,27.9 207.1,28.1 206.5,27.1 206.5,26.4 207.8,26.6 208.6,27.5 209.4,27.0 212.6,26.5 213.4,26.6 217.5,26.0 217.1,25.4 219.8,25.8 223.0,26.5 221.6,25.6 221.0,24.6 221.1,23.5 221.9,23.3 223.8,23.5 224.7,24.6 225.4,26.0 226.8,27.4 227.2,27.1 227.0,26.3 225.7,24.6 225.4,23.5 227.7,23.9 228.7,23.1 229.6,24.0 231.7,24.6 232.2,25.1 230.9,23.0 232.1,22.9 232.2,22.4 233.7,22.0 236.6,21.7 239.6,21.5 241.6,20.9 243.8,21.3 247.2,21.5 248.8,22.0 246.8,22.7 249.1,23.0 253.4,23.2 257.0,23.0 258.8,23.1 260.0,23.7 262.3,24.4 264.1,24.8 266.1,24.2 268.8,24.3 268.6,23.7 272.7,23.8 278.8,24.7 282.2,24.7 284.9,25.5 289.2,25.6 291.4,25.3 292.9,26.0 293.6,25.4 295.8,25.5 299.4,26.0 304.7,28.9 303.9,29.3 303.4,29.2 307.2,30.6 307.7,31.2 305.5,31.6 304.9,32.8 304.4,33.3 300.8,32.9 300.4,33.4 300.2,34.1 300.4,35.1 301.5,35.2 303.6,36.8 304.2,38.1 304.5,39.7 304.4,40.9 304.2,41.9 301.1,39.9 298.9,37.9 297.4,36.0 296.8,34.6 296.5,33.2 297.1,32.5 297.2,31.8 296.8,31.1 294.5,31.6 292.3,31.9 293.0,33.7 290.3,33.7 288.6,33.9 286.0,33.9 284.2,33.9 283.7,36.0 283.1,38.2 285.6,38.9 286.6,39.1 288.6,39.7 289.7,40.3 290.9,41.9 293.3,44.6 293.4,46.2 292.9,50.1 291.7,50.9 290.6,50.4 289.7,52.1 290.3,53.0 289.1,54.3 290.8,55.7 292.5,57.4 293.2,58.2 293.8,59.8 293.5,60.3 291.5,60.6 291.0,59.3 290.0,58.0 290.2,57.6 289.3,56.7 287.8,56.3 287.8,55.7 287.4,54.7 286.3,54.1 285.3,54.6 284.4,55.4 284.0,53.5 282.6,53.0 282.0,54.3 281.1,55.0 281.2,55.7 282.7,56.6 283.5,57.4 284.5,56.7 286.4,57.3 285.4,58.1 284.8,60.0 286.2,61.0 287.7,63.0 289.1,64.1 289.5,65.1 288.6,65.8 290.2,66.4 290.6,68.3 290.0,69.3 289.9,71.2 289.5,72.9 288.9,73.8 288.1,74.7 282.9,77.4 283.0,78.6 282.0,77.0 280.8,76.7 280.4,76.9 279.4,78.4 279.0,80.3 279.9,81.6 280.9,82.9 282.3,84.1 283.3,86.2 284.0,88.2 284.1,89.8 282.9,91.0 282.0,91.6 280.8,93.5 280.3,94.0 280.1,92.4 279.6,91.6 278.7,91.4 278.6,90.7 278.0,90.4 277.9,90.0 277.2,89.2 275.7,88.7 275.6,87.6 274.7,87.6 274.9,89.5 274.4,91.6 274.7,93.1 275.5,94.0 276.0,95.5 276.6,96.3 277.8,97.2 279.2,99.1 279.3,100.9 280.2,103.7 280.0,103.9 279.5,103.8 277.2,101.7 276.5,100.2 275.8,96.9 274.9,95.9 273.9,95.1 273.8,94.4 273.8,92.2 273.6,89.8 272.2,85.5 271.7,83.5 270.9,83.0 269.5,84.5 268.5,84.2 268.0,80.9 266.9,79.6 265.4,78.0 264.2,75.8 263.3,75.8 263.2,76.5 262.1,76.7 260.3,76.9 260.2,77.9 258.7,79.7 257.6,81.8 256.6,83.4 254.7,85.1 255.3,87.9 255.1,89.5 255.2,91.8 254.7,93.1 253.7,93.6 253.1,94.7 251.6,92.2 250.0,88.4 249.2,86.2 247.9,83.5 246.9,80.3 246.5,77.6 246.0,76.0 245.7,77.3 244.3,77.9 242.5,76.1 243.0,75.7 242.4,76.0 241.4,74.2 240.2,72.7 239.5,72.1 237.0,72.1 234.8,72.2 230.6,71.6 229.9,69.8 229.1,70.2 227.7,70.4 226.2,69.9 224.6,68.8 223.7,67.3 222.7,65.9 221.7,65.5 221.5,66.3 220.9,66.2 221.4,66.8 221.6,68.0 222.3,69.2 223.4,70.3 223.8,71.7 224.6,72.8 224.4,71.8 224.7,71.0 225.1,71.5 225.4,73.5 228.0,73.4 228.4,72.0 229.3,71.1 229.6,70.7 229.9,72.6 230.6,73.8 232.2,74.3 233.6,75.7 233.1,78.3 232.0,78.6 232.3,80.3 231.1,81.6 229.8,82.2 228.0,83.3 227.3,84.7 224.7,85.9 223.3,86.8 220.5,88.4 219.0,88.6 218.2,85.8 218.0,83.7 213.8,77.0 212.9,74.0 210.9,71.5 209.2,68.7 208.6,68.6 208.8,66.8 208.5,68.7 208.4,69.0 207.7,68.4 206.5,66.2 206.6,66.8 207.6,68.9 208.3,70.6 210.0,73.8 210.4,74.8 211.6,76.3 212.0,77.6 212.3,79.6 213.7,81.6 214.8,84.7 215.9,85.8 216.6,86.2 218.6,88.6 218.9,89.5 218.3,90.0 218.8,90.2 219.7,91.6 220.6,91.5 222.6,90.7 224.5,90.4 226.3,89.5 226.8,89.8 226.7,91.6 226.5,92.8 224.9,97.3 223.6,99.8 221.3,102.9 218.6,105.9 217.5,107.9 216.2,109.2 215.7,111.0 215.1,111.9 214.7,113.7 215.4,114.7 215.1,115.7 215.6,117.7 216.1,119.7 216.0,122.5 216.2,124.8 215.9,126.3 214.2,128.1 212.0,129.5 209.7,132.0 209.9,132.9 210.2,135.1 210.0,137.4 208.0,139.0 207.0,139.9 207.2,141.1 206.5,143.2 204.5,145.7 202.9,147.5 201.3,149.1 199.6,150.0 198.0,150.1 196.2,150.1 194.3,150.9 192.9,150.4 192.9,149.8 192.5,148.4 191.9,145.0 191.5,143.3 190.2,140.6 189.9,137.4 190.0,135.8 189.0,133.4 187.5,128.7 187.6,127.8 187.9,125.7 188.3,123.7 189.2,122.4 189.7,120.0 189.3,117.4 188.8,115.4 188.4,113.7 188.2,113.4 188.0,112.3 187.8,111.8 185.6,108.8 184.8,106.5 185.6,104.3 185.8,102.6 185.5,100.3 184.5,99.4 182.0,99.8 181.5,98.6 180.5,97.1 178.7,97.0 177.2,97.4 176.0,97.9 174.0,99.2 172.9,98.7 171.0,98.7 168.5,99.7 167.0,98.9 165.2,97.1 164.5,96.2 163.6,95.6 162.9,94.3 162.8,93.4 161.0,90.9 160.2,90.0 159.5,89.0 159.4,87.4 158.8,85.9 159.8,84.1 160.3,81.6 160.0,79.7ZM215.2,114.2 215.1,113.4 215.5,114.1ZM351.0,128.1 352.5,127.4 352.2,127.9ZM349.3,129.1 350.6,129.0 350.2,129.9 349.1,129.9ZM329.8,159.0 329.6,158.6 331.2,157.1 330.7,156.3 331.9,155.7 333.4,153.9 333.8,152.7 333.7,151.4 334.1,150.4 334.8,151.5 334.7,153.1 334.2,154.3 336.0,154.3 336.4,154.4 334.4,156.2 333.4,156.5 332.3,157.7ZM320.6,41.1 320.9,41.3 317.8,40.8 315.1,40.2 314.7,39.9 317.5,40.5ZM318.6,164.6 317.5,164.1 318.1,163.5 320.8,161.9 323.1,161.1 325.4,159.9 327.7,158.2 328.6,157.7 328.8,159.1 327.5,160.0 325.7,161.1 325.5,161.6 323.5,162.0 321.4,163.8 319.6,164.6ZM340.4,129.1 340.7,129.2 340.4,129.5ZM317.4,165.3 317.7,164.8 318.1,164.9ZM340.1,127.8 340.1,127.3 340.5,127.7ZM339.9,126.9 339.9,125.7 340.3,126.3ZM336.3,135.2 335.2,133.2 335.2,132.4 336.7,134.7 336.9,135.4ZM336.0,119.4 336.9,120.1 336.3,119.8ZM335.9,116.9 336.2,118.4 335.9,118.1ZM334.7,118.2 335.3,118.2 335.6,118.9ZM333.6,115.7 335.0,116.9 334.5,116.9ZM332.0,114.6 332.9,115.6 332.4,115.4ZM303.8,43.0 304.0,42.2 304.3,43.0ZM330.4,113.0 331.4,114.7 330.7,114.5ZM301.4,151.4 303.0,149.0 303.3,148.2 300.2,150.9 299.8,151.1 299.6,147.6 297.9,146.9 295.7,147.1 292.6,147.9 290.3,148.7 289.3,149.8 286.1,149.8 283.7,151.2 281.9,151.1 281.4,150.4 283.2,147.5 284.0,141.9 283.6,140.1 284.6,138.1 285.5,135.6 286.2,134.6 287.8,133.6 291.6,132.3 293.6,131.7 295.3,129.6 295.7,128.3 296.8,128.7 297.3,127.3 298.9,126.1 300.2,124.4 301.7,124.4 302.2,125.4 303.4,125.6 304.1,123.7 305.0,122.2 307.3,120.6 308.1,121.4 311.3,122.0 310.2,123.7 309.3,125.7 310.5,126.7 311.7,128.1 313.3,129.1 314.4,127.0 315.5,124.4 316.1,122.4 317.3,120.0 317.8,122.8 317.6,124.9 318.9,125.7 318.5,127.7 318.4,130.8 320.1,132.5 320.3,134.2 320.9,136.5 321.7,138.5 321.7,140.0 320.6,143.3 318.4,146.3 316.8,148.1 314.9,149.7 311.9,153.0 310.9,154.2 308.8,154.6 306.5,156.1 305.8,155.1 304.1,155.7 302.6,155.2 302.0,154.2 302.7,152.1 302.0,151.9 302.2,150.6ZM328.6,112.1 327.8,110.6 326.6,109.1 327.1,109.2 328.8,111.5ZM325.7,112.5 327.3,111.3 328.1,111.4 327.5,113.0 325.9,113.9 324.1,113.9 324.0,113.1ZM303.6,47.3 304.2,46.0 304.2,47.0ZM316.1,117.8 315.1,116.5 313.3,116.9 314.1,115.3 313.7,113.0 311.8,111.8 309.8,110.9 308.8,111.1 308.7,110.0 307.9,109.4 309.6,108.6 308.0,108.3 307.0,107.4 307.0,106.7 308.5,106.1 310.0,106.7 310.2,109.0 311.2,110.0 312.9,108.4 314.5,108.0 316.9,109.1 318.4,109.9 320.3,110.7 323.3,114.6 322.5,114.7 322.8,116.2 323.6,117.7 325.7,119.3 324.6,119.7 322.7,119.0 322.0,118.1 321.3,116.6 319.9,115.8 318.8,116.6 317.6,118.0ZM272.5,22.1 268.8,22.2 268.0,22.9 264.3,22.2 264.1,21.7 271.1,21.7ZM301.6,49.0 302.8,47.8 302.3,48.8ZM303.7,157.9 304.9,158.4 306.8,158.0 305.6,159.6 304.0,160.8 303.1,161.2 302.5,161.0 302.9,159.6ZM322.9,108.7 322.5,108.3 323.3,108.3ZM298.9,52.4 297.8,50.4 298.6,50.3 297.1,48.0 299.0,49.0 301.1,49.2 302.3,50.4 301.4,51.8 299.4,51.2 298.6,51.6ZM293.1,43.0 290.9,40.9 288.9,38.6 290.7,39.6 292.2,40.9 294.1,43.0 296.1,44.0 296.3,45.7 297.8,47.0 296.8,47.3ZM296.1,61.2 296.5,60.1 297.1,59.3 299.2,59.3 299.4,58.8 299.2,57.3 300.0,57.9 300.6,57.0 300.8,55.8 300.1,54.1 299.3,52.7 300.1,52.5 301.0,53.5 302.2,54.7 302.3,56.1 303.2,57.6 303.6,58.8 304.1,59.2 303.7,60.0 302.9,60.5 302.4,60.4 301.3,60.5 301.4,60.9 300.9,61.8 299.1,60.4 297.8,60.9 297.3,61.4ZM296.2,61.4 297.7,62.5 298.1,64.4 297.7,64.9 297.0,64.6 296.3,63.1 295.4,62.1ZM301.4,152.1 300.7,152.5 300.0,152.4 300.2,152.0ZM310.6,124.8 310.5,124.1 310.9,124.4ZM309.9,113.4 310.5,113.1 310.2,114.6ZM299.7,61.5 298.7,62.7 297.8,62.1 297.5,61.6 298.9,60.9ZM306.9,116.4 306.5,115.7 307.2,115.3ZM305.0,120.9 306.1,120.8 305.5,121.4ZM306.7,109.9 306.2,110.7 304.0,110.3 303.9,109.6ZM303.9,102.6 304.7,104.3 304.0,105.6 304.3,106.7 303.7,106.0 303.8,104.5 303.5,103.2ZM297.4,71.1 297.7,70.2 297.7,71.0ZM300.3,117.7 302.6,116.9 302.1,117.6 300.3,118.4 299.5,119.3 298.5,119.4 299.6,118.1ZM302.9,109.9 302.9,110.7 301.9,110.6 301.9,109.9ZM292.6,62.2 292.2,62.1 292.7,61.8ZM300.7,97.5 299.6,96.9 299.7,95.6 298.8,95.5 297.6,96.2 298.8,94.0 300.1,93.5 300.6,92.4 301.7,94.2 302.1,96.5 301.1,98.1ZM300.5,90.6 300.3,92.0 299.4,90.8 298.9,88.8ZM299.0,104.9 297.0,105.1 296.2,106.8 299.3,106.8 298.8,107.8 297.7,108.2 299.0,111.4 298.7,112.9 297.8,111.9 296.9,109.2 296.3,109.5 296.1,113.1 295.2,113.0 295.7,110.3 294.7,109.4 295.3,106.9 295.8,105.3 296.8,103.8 299.0,104.3 301.0,103.4 300.5,105.1ZM297.4,87.9 296.2,87.2 295.1,87.1 294.8,86.2 294.0,85.5 294.1,84.2 293.6,80.9 295.2,80.9 295.9,83.5 295.4,84.6 295.9,86.6 297.0,86.6 298.3,87.1 298.4,88.3ZM298.5,91.5 298.4,93.4 297.6,92.6 297.5,91.2 296.9,91.5 296.8,89.8 297.9,90.2ZM290.4,116.5 292.1,116.8 294.4,116.8 296.4,116.9 298.4,116.6 298.1,117.3 295.3,117.6 292.3,117.7 290.5,117.4ZM292.6,76.5 291.5,75.1 291.6,73.1 291.9,72.1 292.5,72.5 292.7,74.4ZM294.8,87.6 296.0,87.9 295.9,89.2 295.4,88.7ZM294.2,118.2 295.9,118.9 295.1,119.4ZM292.6,94.3 292.8,93.5 294.1,91.6 294.6,90.4 294.5,91.4ZM285.6,102.9 287.2,103.6 287.3,102.1 288.9,101.3 289.8,99.4 291.0,98.9 292.4,96.2 293.3,97.0 295.0,98.6 294.0,99.8 293.4,100.0 293.7,100.9 294.0,102.6 295.0,104.3 293.8,104.5 293.5,106.7 292.5,107.8 292.2,110.0 291.9,111.0 290.5,111.1 290.4,110.2 288.9,109.9 287.6,110.3 286.1,109.6 286.2,107.9 285.0,105.9 285.0,103.8ZM285.5,116.4 283.5,116.1 282.0,115.6 280.8,114.7 282.2,113.7 284.0,114.1 286.5,114.2 288.3,114.9 289.9,116.0 289.8,117.3ZM283.8,79.1 283.7,80.6 282.9,81.3 282.0,80.8 281.8,80.0 282.3,78.9ZM283.9,109.9 283.5,109.1 284.2,109.2ZM278.2,111.0 276.9,109.2 276.3,106.9 275.0,105.2 274.7,103.3 271.9,99.8 271.1,98.1 273.3,98.6 274.2,99.8 275.9,101.7 276.4,102.5 277.5,102.9 279.8,105.6 279.5,106.9 281.9,109.6 281.3,107.9 282.2,107.9 282.6,109.6 281.9,109.6 281.5,113.4 280.3,113.5 280.1,113.0ZM238.6,20.7 235.7,20.3 235.0,19.7 237.3,19.6 241.6,20.5ZM274.6,106.9 275.3,108.0 274.9,108.0ZM273.0,103.7 273.5,104.3 273.9,104.8ZM267.5,87.5 267.8,87.8 267.9,90.0 267.6,89.8ZM255.4,93.8 255.3,92.6 255.6,92.4 256.8,94.0 257.6,95.8 257.5,97.0 256.4,97.7 255.8,97.1 255.5,95.5ZM213.4,23.7 212.7,23.6 213.1,22.8 214.5,22.0 217.8,21.3 219.9,21.5 217.7,22.0 214.5,22.9ZM204.3,19.8 206.6,19.6 211.3,19.3 215.2,19.6 212.9,19.8 208.1,20.0ZM231.6,132.3 232.1,132.3 232.0,132.9 231.6,132.9ZM229.5,133.4 230.0,133.4 230.0,134.1 229.4,134.1ZM228.8,88.7 229.9,88.7 229.4,89.1ZM219.1,132.3 219.0,129.0 220.7,126.9 221.8,126.3 223.2,125.2 224.2,123.4 224.8,121.7 225.6,126.2 224.8,128.1 223.0,132.9 221.1,138.5 219.1,139.4 218.0,138.6 217.8,135.1ZM209.9,26.1 209.3,26.0 210.2,25.8ZM218.8,120.9 219.1,120.9 219.1,121.6 218.8,121.6ZM207.0,60.0 206.2,60.5 205.5,60.0 206.0,59.5 207.4,59.2ZM184.2,20.8 182.9,20.5 185.3,20.0 188.9,19.9 192.7,19.9 187.4,21.2 185.5,21.2ZM199.9,60.0 197.9,60.0 197.4,59.7 198.3,59.3 200.0,59.7ZM192.9,34.8 193.6,34.5 193.4,35.1ZM190.5,35.7 190.1,35.9 190.6,35.1ZM189.6,58.0 187.2,56.9 187.2,56.6 190.0,56.1ZM188.9,58.8 189.3,58.9 189.2,59.1ZM185.9,37.5 185.5,38.0 184.7,37.6 184.9,37.0 185.8,36.8ZM183.5,55.3 183.2,53.0 184.1,52.7 184.6,53.2 184.6,55.0ZM184.1,52.5 183.5,51.9 183.5,51.3 184.2,50.6 184.3,51.8ZM184.7,101.2 184.5,100.6 184.9,100.6ZM182.5,105.1 182.8,105.1 182.6,105.6ZM178.0,54.6 178.8,54.1 179.0,54.8 178.6,54.9ZM172.2,37.7 171.7,36.8 171.5,35.5 172.2,34.5 173.7,34.5 173.5,35.3 174.5,35.4 174.3,36.8 174.8,37.7 175.8,38.7 176.2,39.9 177.4,40.2 177.1,41.7 175.2,42.3 173.1,42.7 171.3,42.9 172.5,41.8 173.4,41.5 171.8,41.1 172.6,40.4 172.4,39.6 173.6,39.1 173.2,38.0 172.0,38.1ZM175.3,32.5 175.1,33.3 174.9,33.2ZM169.4,37.8 171.4,37.7 171.6,38.5 171.1,38.8 171.2,39.6 170.9,40.7 169.1,41.3 167.9,41.3 167.6,40.8 168.3,40.3 168.5,39.8 168.1,39.5 168.0,38.7 169.3,38.3ZM171.2,35.7 170.2,35.8 171.3,34.6ZM164.0,21.2 163.4,22.2 161.5,23.7 161.1,25.0 158.1,26.3 153.8,26.7 149.7,28.4 147.4,29.0 145.0,31.5 143.2,33.2 142.1,33.3 140.2,32.3 138.9,30.2 138.3,27.8 139.5,26.3 141.2,25.6 139.2,25.0 139.6,23.7 138.8,22.0 135.8,21.6 132.6,21.7 131.2,21.1 130.4,20.5 134.1,19.9 139.5,19.2 148.8,19.0 156.7,18.8 168.7,19.4 164.9,19.9ZM163.3,67.2 163.4,67.5 162.7,68.6 162.6,67.9ZM160.8,30.0 159.6,29.9 160.2,29.4 158.8,29.1 158.6,28.6 160.5,27.9 163.3,28.1 164.7,27.8 165.7,28.6 166.3,29.0 165.2,29.6 162.5,30.3ZM161.4,69.0 161.1,68.6 161.5,68.6ZM160.5,68.7 160.1,68.3 160.8,67.9ZM152.9,85.6 152.4,85.5 153.0,85.2ZM151.5,83.1 151.2,82.9 151.6,82.7ZM61.1,26.4 63.4,26.1 66.3,25.2 69.7,24.8 71.2,24.4 79.9,25.6 82.6,26.1 85.3,25.6 89.3,25.2 90.6,25.7 93.7,25.4 96.2,25.9 97.0,25.0 96.5,24.3 98.2,23.5 101.3,23.1 103.5,23.5 106.9,23.4 105.9,24.3 107.5,25.3 106.0,26.0 98.1,26.3 97.1,26.1 97.5,26.9 100.4,26.8 101.6,26.3 103.6,26.3 105.1,26.9 107.9,26.9 109.6,26.6 110.1,26.2 109.8,26.3 107.8,26.0 109.8,25.3 110.7,25.8 113.4,24.1 113.6,25.0 113.6,25.6 113.9,26.3 114.7,27.1 116.1,27.1 117.7,26.0 120.2,25.5 119.9,26.3 118.6,27.4 116.7,28.0 114.9,28.0 114.5,29.0 112.4,29.8 110.2,30.2 107.3,31.5 104.8,33.2 103.8,34.3 104.3,36.0 106.2,36.0 107.5,36.9 109.0,37.6 111.0,37.8 109.9,39.9 110.0,41.4 111.1,41.6 112.6,39.9 113.3,38.4 115.7,36.9 117.2,35.1 116.3,34.1 118.2,32.3 118.7,31.1 120.8,31.2 123.8,32.3 123.1,34.1 123.9,34.8 125.8,34.1 127.6,32.9 128.0,35.1 128.2,36.9 130.0,38.4 131.0,39.9 130.8,40.9 129.6,41.4 127.5,42.7 122.5,42.8 120.5,43.5 117.8,45.1 116.2,46.1 117.6,45.5 120.2,44.2 122.5,44.2 121.1,45.1 121.3,46.2 121.6,47.1 121.6,46.3 123.4,46.7 122.7,47.4 123.6,47.6 125.3,46.4 125.0,47.3 123.8,48.2 121.4,49.0 119.1,50.1 119.1,49.0 120.9,48.0 118.6,48.3 118.5,48.7 115.5,49.8 114.4,51.0 114.7,52.0 110.7,53.4 110.0,54.7 108.5,55.8 107.6,57.5 107.1,57.7 107.2,59.7 103.9,61.5 100.6,64.3 100.0,65.5 100.1,68.4 99.8,71.2 99.2,72.2 98.5,72.2 97.9,68.9 98.2,67.4 97.4,66.2 96.1,66.5 95.2,65.7 92.4,65.9 92.2,67.3 91.0,67.2 89.8,66.7 87.9,66.7 84.5,68.7 83.4,71.2 82.4,73.8 81.7,76.0 81.8,77.9 82.3,79.9 84.0,81.3 85.8,80.8 86.8,80.9 88.1,79.2 88.5,77.6 90.5,77.0 91.9,77.0 91.9,77.9 90.9,79.6 90.3,81.2 90.0,80.9 89.9,82.2 89.1,83.9 88.7,84.3 89.4,84.6 91.6,84.3 93.0,84.5 94.2,85.5 93.0,90.8 94.0,92.7 95.5,93.8 96.9,92.7 99.0,93.9 99.6,94.0 100.9,92.8 101.3,91.1 104.2,89.8 105.5,89.0 105.4,89.8 105.0,91.0 105.3,91.5 106.5,90.3 106.8,89.2 107.9,90.3 108.4,91.4 110.5,91.4 112.0,91.9 113.7,91.2 114.6,91.2 114.0,92.2 115.4,92.8 117.7,96.2 119.0,97.5 122.1,97.8 123.2,98.5 124.4,99.9 126.0,103.2 126.0,105.6 128.0,106.5 130.0,107.1 131.5,109.0 134.0,109.4 136.0,109.4 137.5,110.6 139.1,112.2 140.8,112.6 141.3,115.3 141.1,117.7 138.0,123.0 137.6,125.7 137.7,129.4 137.4,131.9 136.5,134.9 135.6,136.0 134.5,136.1 133.1,136.5 131.5,137.4 130.2,139.1 129.9,140.9 130.1,143.0 129.2,144.9 127.6,147.9 127.0,149.7 125.9,151.1 124.7,151.1 123.0,150.4 122.4,149.8 122.5,150.4 123.9,151.5 124.3,152.6 124.7,153.1 124.4,154.8 123.3,155.6 120.7,155.8 121.0,157.7 118.8,158.3 119.3,160.0 120.5,160.0 119.4,161.1 119.9,162.8 118.6,163.9 120.5,165.5 120.1,167.7 119.3,168.7 120.7,170.7 120.7,170.9 122.2,172.3 124.3,173.0 123.5,173.3 122.0,173.2 123.2,173.6 123.3,174.3 121.3,173.8 119.3,172.8 117.0,171.6 114.9,169.8 113.2,167.2 112.2,165.0 112.6,163.4 112.1,161.1 111.3,159.4 110.7,157.1 109.8,153.8 109.8,151.8 109.9,148.7 109.2,145.4 108.7,143.2 108.7,140.0 108.0,133.6 107.3,130.1 106.1,128.7 102.1,126.2 100.8,124.2 97.4,116.6 96.4,114.9 95.1,113.7 94.8,111.9 95.8,110.2 96.1,109.0 95.1,108.6 95.1,106.9 96.1,104.4 97.2,103.6 97.5,102.1 98.6,100.2 98.9,98.1 98.9,96.2 98.4,95.9 97.9,94.4 96.7,93.9 96.0,95.6 94.6,95.5 92.7,94.2 91.9,92.8 90.8,92.2 91.1,90.7 89.4,88.3 89.7,88.2 89.4,87.8 88.6,88.0 87.1,87.2 85.9,87.0 83.7,84.2 82.8,83.9 81.2,84.6 79.4,83.8 76.4,81.6 75.0,81.0 73.9,79.6 73.5,78.4 74.2,77.0 74.1,75.1 73.2,73.1 71.8,71.6 72.1,70.3 71.6,68.8 70.6,67.4 70.8,64.9 69.5,63.9 69.0,65.5 69.4,67.4 69.6,69.3 70.1,71.2 70.4,73.5 70.8,74.8 70.0,75.1 68.9,72.9 69.2,71.2 68.0,69.9 67.4,68.9 68.5,68.0 67.7,66.4 67.6,64.3 67.9,62.5 67.3,61.2 65.8,60.6 65.8,58.1 66.0,56.7 65.9,54.7 66.1,53.6 67.3,51.8 67.8,50.6 70.7,47.1 71.8,44.7 72.8,44.8 71.5,44.3 70.6,43.0 70.9,42.2 72.3,42.7 73.2,44.2 72.9,44.9 72.9,45.7 73.9,44.0 73.5,44.0 73.7,42.5 71.7,41.9 72.6,40.4 72.6,38.6 73.2,37.9 72.3,38.1 70.9,37.9 71.2,36.5 71.1,35.1 71.0,34.1 70.2,33.5 69.0,33.2 67.5,33.2 66.9,32.5 62.2,33.9 60.4,34.1 62.4,32.8 64.2,32.2 62.4,32.5 59.8,33.7 57.9,34.6 55.0,35.7 52.3,36.7 49.1,37.6 47.0,38.1 45.2,38.4 51.3,36.5 54.2,35.4 56.1,34.3 54.7,34.4 52.4,34.4 54.0,33.2 52.7,32.8 52.9,31.8 55.2,30.8 56.4,30.5 59.1,30.1 60.2,29.4 58.7,29.4 56.5,29.2 56.5,28.5 58.7,28.1 60.8,27.8 61.5,28.1 61.7,27.3 61.5,26.6ZM45.3,38.3 44.7,38.7 40.9,39.9 36.7,40.7 32.7,41.3 29.9,41.6 30.3,41.3 37.2,40.3 41.5,39.4ZM114.6,91.2 115.6,91.1 115.5,92.0 114.6,92.0ZM131.1,46.5 129.1,46.3 128.0,45.7 126.2,45.4 127.6,44.0 129.3,42.2 130.8,41.3 130.1,43.0 131.3,43.5 131.3,44.6 131.7,45.5ZM127.9,170.6 126.6,170.5 126.4,170.1 128.7,169.7 129.0,170.1ZM117.2,88.2 117.1,87.8 117.4,87.8ZM115.8,85.6 116.2,85.8 116.0,86.3 115.8,86.2ZM115.8,86.8 116.0,86.8 115.9,87.2ZM115.6,88.0 115.5,87.6 115.7,87.6ZM115.7,85.2 115.6,84.7 115.9,84.7ZM115.4,83.7 116.0,83.7 115.8,84.3 115.3,84.2ZM119.9,29.4 122.9,29.2 124.3,28.2 125.4,26.7 121.8,26.0 120.4,25.3 118.3,25.3 116.6,25.0 116.2,24.0 117.8,23.1 120.5,22.9 123.8,23.0 126.4,23.7 128.6,24.3 129.9,25.3 131.4,27.1 132.8,27.7 129.5,30.2 127.9,31.6 123.3,30.8 121.5,30.2ZM122.8,43.1 124.7,43.9 123.3,43.7ZM114.9,89.2 115.1,89.2 114.9,89.5ZM115.6,82.9 115.4,82.6 115.6,82.6ZM123.1,19.7 120.4,19.4 122.6,19.2 127.6,19.0 133.7,18.9 138.4,19.1 136.3,19.5 132.5,20.0 128.5,20.5 126.6,21.3 124.4,21.6 122.5,21.0 121.2,20.6 120.9,20.7 118.2,20.3 116.8,19.9 119.1,19.5 121.9,19.7 122.3,20.0ZM114.4,81.4 114.5,81.4 114.5,81.6ZM112.9,81.2 112.7,81.0 113.0,81.0ZM110.5,80.9 112.0,81.0 111.8,81.6 110.4,81.6ZM105.9,81.6 103.4,81.2 103.5,80.8 104.9,79.1 106.3,79.3 108.1,79.3 109.3,80.8ZM107.7,89.2 108.0,89.2 107.9,89.5ZM106.7,88.7 106.9,88.8 106.9,89.0ZM106.5,76.5 107.0,76.6 106.7,76.9ZM105.2,77.8 104.7,77.5 105.4,77.3ZM94.0,76.5 96.2,75.1 98.6,74.9 103.3,78.0 104.0,78.7 100.5,79.1 101.3,78.3 99.6,77.0 97.0,75.8ZM104.7,73.9 104.6,73.6 104.8,73.6ZM103.7,74.3 104.1,74.9 103.9,74.9ZM103.2,72.1 103.3,72.9 103.2,72.9ZM99.6,81.0 101.5,81.3 101.5,81.8 99.6,81.5ZM102.9,70.6 102.6,71.2 102.0,70.4 102.2,70.2ZM101.3,72.7 101.8,72.4 101.7,73.5 101.2,73.4ZM117.6,21.4 124.8,21.9 124.2,22.5 119.0,22.5 117.0,22.0ZM115.3,28.4 117.0,28.4 118.1,29.4 117.1,30.2 114.7,30.5 113.0,30.0 114.3,29.2ZM96.8,79.7 97.1,79.9 96.9,79.9ZM116.7,23.2 114.2,24.0 112.5,24.0 113.7,22.9 116.2,22.7ZM84.5,106.0 85.2,105.9 85.2,106.9 84.6,106.9ZM112.6,21.4 116.3,21.5 115.4,22.2 112.8,22.2 109.1,22.1 109.7,21.6ZM112.5,23.4 111.1,24.4 107.9,24.3 109.3,23.1 111.5,22.8ZM115.4,20.5 113.6,21.0 110.7,20.9 111.1,20.5 113.8,20.3ZM108.3,21.7 107.7,22.2 103.4,22.6 100.7,22.1 102.1,21.6 106.1,21.5ZM102.5,21.3 100.4,21.9 98.1,21.7 98.6,21.4 100.9,21.1ZM92.6,24.0 94.5,23.1 96.2,22.6 100.6,22.7 98.1,23.4 95.9,24.2 93.5,24.6ZM70.1,38.8 71.0,38.9 70.0,40.6 69.6,39.9ZM30.1,129.5 29.7,129.0 30.2,129.1ZM59.1,34.9 58.7,35.5 56.5,36.2 56.5,35.7ZM25.4,79.6 24.4,80.4 24.2,80.0 24.5,79.1ZM24.6,78.0 23.5,77.3 23.1,76.9 23.4,76.7 24.5,77.6ZM18.7,103.3 18.5,103.2 18.8,103.0ZM50.1,33.1 51.0,32.8 51.6,32.9 50.9,33.4ZM51.0,30.3 51.7,30.0 53.0,30.0 52.9,30.5ZM50.0,28.6 47.6,28.8 52.5,26.0 53.6,26.6 53.9,27.2 55.9,27.6 55.9,28.1 53.9,28.6 51.8,29.5 49.9,29.3ZM5.6,123.7 6.1,123.7 6.9,124.2 6.5,124.4ZM6.7,133.9 6.4,133.7 6.6,133.7ZM55.0,24.7 55.8,24.3 56.9,24.2 56.9,24.6Z" fill="none" stroke="#000" stroke-width="0.75"/>
<path d="M79.9,25.6 82.6,26.1 85.3,25.6 89.3,25.2 90.6,25.7 93.7,25.4 97.0,26.1 97.5,26.9 100.4,26.8 101.6,26.3 103.6,26.3 105.1,26.9 107.9,26.9 109.6,26.6 110.9,25.6 113.4,24.1 113.6,25.0 113.6,25.6 113.9,26.3 114.7,27.1 116.1,27.1 117.7,26.0 120.2,25.5 119.9,26.3 118.6,27.4 116.7,28.0 114.9,28.0 114.5,29.0 112.4,29.8 110.2,30.2 107.3,31.5 104.8,33.2 103.8,34.3 104.3,36.0 106.2,36.0 107.5,36.9 109.0,37.6 111.0,37.8 109.9,39.9 110.0,41.4 111.1,41.6 112.6,39.9 113.3,38.4 115.7,36.9 117.2,35.1 116.3,34.1 118.2,32.3 118.7,31.1 120.8,31.2 122.6,31.9 123.8,32.3 123.1,34.1 123.9,34.8 125.8,34.1 127.6,32.9 128.0,35.1 128.2,36.9 130.0,38.4 131.0,39.9 130.8,40.9 129.6,41.4 127.5,42.7 124.9,42.8 122.5,42.8 120.5,43.5 117.8,45.1 116.0,46.3 117.6,45.5 120.2,44.2 122.5,44.2 121.1,45.1 121.3,46.2 121.6,47.1 123.6,47.6 125.3,46.4 125.0,47.3 123.8,48.2 121.4,49.0 119.1,50.1 119.1,49.0 120.9,48.0 118.6,48.3 118.8,46.1 117.7,45.8 115.8,47.7 114.7,48.4 112.0,48.4 110.2,49.3 107.5,50.2 107.3,50.9 103.8,51.8 103.5,51.4 104.4,50.6 105.4,48.1 104.9,47.2 104.3,46.7 102.1,44.8 100.9,45.1 99.9,44.9 97.3,44.0 96.8,44.0 73.5,44.0 73.7,42.5 71.7,41.9 72.6,40.4 72.6,38.6 73.9,37.1 74.2,36.9 73.6,36.0 74.2,34.3 73.6,33.5 71.4,34.1 71.4,33.1 70.1,33.0 75.0,29.0 77.5,27.2ZM127.9,31.6 129.5,30.2 132.8,27.7 131.4,27.1 129.9,25.3 128.6,24.3 126.4,23.7 123.8,23.0 120.5,22.9 117.8,23.1 116.2,24.0 116.6,25.0 118.3,25.3 120.4,25.3 121.8,26.0 123.6,26.3 125.4,26.7 124.3,28.2 122.9,29.2 119.9,29.4 121.5,30.2 123.3,30.8 125.9,31.3ZM96.3,25.9 98.1,26.3 101.7,26.2 106.0,26.0 107.5,25.3 105.9,24.3 106.9,23.4 103.5,23.5 101.3,23.1 98.2,23.5 96.5,24.3 97.0,25.0ZM92.6,24.0 93.5,24.6 95.9,24.2 98.1,23.4 100.6,22.7 98.8,22.6 96.2,22.6 94.5,23.1ZM124.4,21.6 126.6,21.3 128.5,20.5 131.4,20.1 136.3,19.5 138.4,19.1 133.7,18.9 127.6,19.0 122.6,19.2 120.4,19.4 123.1,19.7 121.0,20.5 122.5,21.0ZM124.2,22.5 119.0,22.5 117.0,22.0 117.6,21.4 120.0,21.5 124.8,21.9ZM120.9,20.7 118.2,20.3 116.8,19.9 119.1,19.5 121.9,19.7 122.6,20.2ZM100.7,22.1 103.4,22.6 107.7,22.2 108.3,21.7 106.1,21.5 102.1,21.6ZM109.1,22.1 112.8,22.2 115.4,22.2 116.3,21.5 112.6,21.4 109.7,21.6ZM107.9,24.3 111.1,24.4 112.5,23.4 111.5,22.8 109.3,23.1ZM112.5,24.0 114.2,24.0 116.7,23.2 116.2,22.7 113.7,22.9ZM107.8,26.0 109.8,26.3 110.7,25.8 109.8,25.3ZM113.0,30.0 114.7,30.5 117.1,30.2 118.1,29.4 117.0,28.4 115.3,28.4 114.3,29.2ZM98.1,21.7 100.4,21.9 102.5,21.3 100.9,21.1 98.6,21.4ZM110.7,20.9 113.6,21.0 115.4,20.5 113.8,20.3 111.1,20.5ZM126.2,45.4 128.0,45.7 129.1,46.3 131.1,46.5 131.7,45.5 131.3,44.6 131.3,43.5 130.1,43.0 130.8,41.3 129.3,42.2 127.6,44.0 126.2,45.4ZM70.9,42.2 72.3,42.7 73.2,44.2 72.9,44.8 71.5,44.3 70.6,43.0ZM70.1,38.8 71.0,38.9 70.0,40.6 69.6,39.9ZM122.8,43.1 124.7,43.9 123.3,43.7ZM121.6,46.3 123.4,46.7 122.8,47.3 121.7,47.0Z" fill="#31a354"/>
<path d="M73.5,44.0 96.8,44.0 97.3,44.0 99.9,44.9 100.9,45.1 102.1,44.8 104.3,46.7 104.9,47.2 105.4,48.1 104.4,50.6 103.5,51.4 103.8,51.8 107.3,50.9 107.5,50.2 110.2,49.3 112.0,48.4 114.7,48.4 115.8,47.7 117.7,45.8 118.8,46.1 118.6,48.3 118.5,48.7 115.5,49.8 114.4,51.0 114.7,52.0 113.2,52.5 110.7,53.4 110.0,54.7 108.5,55.8 107.6,57.5 107.1,57.7 107.2,59.7 105.6,60.5 103.9,61.5 102.1,63.1 100.6,64.3 100.0,65.5 100.1,68.4 99.8,71.2 99.2,72.2 98.5,72.2 98.2,71.0 97.9,68.9 98.2,67.4 97.4,66.2 96.1,66.5 95.2,65.7 93.8,65.8 92.4,65.9 92.2,67.3 91.0,67.2 89.8,66.7 87.9,66.7 86.8,67.3 84.5,68.7 83.3,71.2 81.8,70.6 81.9,69.3 81.4,68.0 81.0,66.4 79.9,66.5 79.0,67.4 78.1,66.7 78.1,65.3 77.2,63.9 75.6,63.9 75.4,64.6 72.8,64.6 69.9,63.1 67.8,63.1 67.9,62.5 67.3,61.2 65.8,60.6 65.8,58.1 66.0,56.7 65.9,54.7 66.1,53.6 67.3,51.8 67.8,50.6 70.7,47.1 71.8,44.7 73.1,44.9 72.9,45.7 73.9,44.0ZM79.9,25.6 77.5,27.2 75.0,29.0 70.1,33.0 71.4,33.1 71.4,34.1 73.6,33.5 74.2,34.3 73.6,36.0 74.2,36.9 73.9,37.1 73.3,37.9 72.3,38.1 70.9,37.9 71.2,36.5 71.1,35.1 71.0,34.1 70.2,33.5 69.0,33.2 67.5,33.2 66.9,32.5 64.5,33.2 62.2,33.9 60.4,34.1 62.4,32.8 64.4,32.2 62.4,32.5 59.8,33.7 57.9,34.6 55.0,35.7 52.3,36.7 49.1,37.6 47.0,38.1 45.2,38.4 48.8,37.2 51.3,36.5 54.2,35.4 56.1,34.3 54.7,34.4 52.4,34.4 54.0,33.2 52.7,32.8 52.9,31.8 55.2,30.8 56.4,30.5 59.1,30.1 60.2,29.4 58.7,29.4 56.5,29.2 56.5,28.5 58.7,28.1 60.8,27.8 61.5,28.1 61.7,27.3 61.5,26.6 61.1,26.4 63.4,26.1 66.3,25.2 69.7,24.8 71.2,24.4 73.2,24.7 75.4,25.0 77.6,25.3ZM45.3,38.3 41.5,39.4 37.2,40.3 33.2,40.9 30.3,41.3 29.9,41.6 32.7,41.3 36.7,40.7 40.9,39.9 44.7,38.7ZM314.7,39.9 317.5,40.5 320.6,41.1 320.9,41.3 317.8,40.8 315.1,40.2ZM56.5,35.7 59.1,34.9 58.7,35.5 56.5,36.2ZM51.0,30.3 52.9,30.5 53.0,30.0 51.7,30.0ZM50.1,33.1 50.9,33.4 51.6,32.9 51.0,32.8ZM24.5,79.1 25.4,79.6 24.4,80.4 24.2,80.0ZM23.1,76.9 23.5,77.3 24.6,78.0 24.5,77.6 23.4,76.7Z" fill="#31a354"/>
<path d="M67.8,63.1 69.9,63.1 72.8,64.6 75.4,64.6 75.6,63.9 77.2,63.9 78.1,65.3 78.1,66.7 79.0,67.4 79.9,66.5 81.0,66.4 81.4,68.0 81.9,69.3 81.8,70.6 83.5,71.3 82.4,73.8 81.7,76.0 81.8,77.9 82.3,79.9 83.4,80.8 84.0,81.3 85.8,80.8 86.8,80.9 88.1,79.2 88.5,77.6 90.5,77.0 91.9,77.0 91.9,77.9 90.9,79.6 90.3,81.2 90.0,80.9 88.9,81.8 87.1,81.8 87.2,84.1 86.0,84.1 85.2,86.1 83.7,84.2 82.8,83.9 81.2,84.6 79.4,83.8 78.1,82.9 76.4,81.6 75.0,81.0 73.9,79.6 73.5,78.4 74.2,77.0 74.1,75.1 73.2,73.1 71.8,71.6 72.1,70.3 71.6,68.8 70.6,67.4 70.8,64.9 69.5,63.9 69.0,65.5 69.4,67.4 69.6,69.3 70.1,71.2 70.4,73.5 70.8,74.8 70.0,75.1 68.9,72.9 69.2,71.2 68.0,69.9 67.4,68.9 68.5,68.0 67.7,66.4 67.6,64.3Z" fill="#006837"/>
<path d="M85.2,86.1 86.0,84.1 87.2,84.1 87.1,81.8 88.9,81.8 88.4,84.3 88.7,84.3 89.4,84.6 88.1,86.3 87.1,87.2 85.9,87.0Z" fill="#006837"/>
<path d="M88.9,81.8 90.0,80.9 89.9,82.2 89.1,83.9 88.7,84.3 88.4,84.3Z" fill="#31a354"/>
<path d="M87.1,87.2 88.0,86.3 88.7,87.0 89.4,87.0 89.4,87.8 88.6,88.0Z" fill="#006837"/>
<path d="M89.4,84.6 91.6,84.3 93.0,84.5 94.2,85.5 92.6,85.8 91.4,87.0 90.4,87.8 89.7,88.2 89.4,87.8 89.4,87.0 88.7,87.0 88.0,86.3Z" fill="#31a354"/>
<path d="M94.2,85.5 93.5,88.2 93.0,90.8 91.1,90.7 89.4,88.3 89.7,88.2 90.4,87.8 91.4,87.0 92.6,85.8Z" fill="#31a354"/>
<path d="M93.0,90.8 94.0,92.7 93.5,94.7 92.7,94.2 91.9,92.8 90.8,92.2 91.1,90.7Z" fill="#006837"/>
<path d="M94.0,92.7 95.5,93.8 96.9,92.7 99.0,93.9 98.4,95.9 97.9,94.4 96.7,93.9 96.0,95.6 94.6,95.5 93.5,94.7Z" fill="#006837"/>
<path d="M94.0,76.5 96.2,75.1 98.6,74.9 101.2,76.6 103.3,78.0 104.0,78.7 100.5,79.1 101.3,78.3 99.6,77.0 97.0,75.8Z" fill="#78c679" stroke-width="0.4"/>
<path d="M103.5,80.8 104.9,79.1 106.3,79.3 105.9,81.6 103.4,81.2Z" fill="#31a354"/>
<path d="M106.3,79.3 108.1,79.3 109.3,80.8 107.2,81.3 105.9,81.6Z" fill="#31a354"/>
<path d="M99.6,81.0 101.5,81.3 101.5,81.8 99.6,81.5Z" fill="#31a354"/>
<path d="M110.5,80.9 112.0,81.0 111.8,81.6 110.4,81.6Z" fill="#006837"/>
<path d="M101.3,72.7 101.8,72.4 101.7,73.5 101.2,73.4ZM102.2,70.2 102.9,70.6 102.6,71.2 102.0,70.4Z" fill="#31a354" stroke-width="0.5"/>
<path d="M114.6,91.2 115.6,91.1 115.5,92.0 114.6,92.0Z" fill="#31a354"/>
<path d="M99.0,93.9 99.6,94.0 100.9,92.8 101.3,91.1 102.5,90.6 104.2,89.8 105.5,89.0 105.4,89.8 104.3,90.7 103.5,92.8 104.0,94.4 104.3,96.0 106.2,96.2 108.7,97.3 108.3,99.5 108.8,101.0 109.1,104.0 106.1,104.1 106.6,107.1 106.1,111.3 105.4,110.7 106.0,109.2 103.1,108.8 100.8,105.7 99.7,105.1 98.5,104.7 97.2,103.6 97.5,102.1 98.6,100.2 98.9,98.1 98.9,96.2 98.4,95.9Z" fill="#006837"/>
<path d="M105.4,89.8 105.0,91.0 105.3,91.5 106.5,90.3 106.8,89.2 107.9,90.3 108.4,91.4 110.5,91.4 112.0,91.9 113.7,91.2 114.6,91.2 114.0,92.2 115.4,92.8 116.3,94.2 116.5,94.4 115.5,95.6 115.0,97.1 114.8,97.7 115.4,98.6 114.7,99.7 113.3,100.2 111.9,100.1 111.6,102.1 112.6,102.6 110.5,104.5 109.1,104.0 108.8,101.0 108.3,99.5 108.7,97.3 106.2,96.2 104.3,96.0 104.0,94.4 103.5,92.8 104.3,90.7Z" fill="#78c679"/>
<path d="M116.5,94.4 117.7,96.2 119.0,97.5 118.8,98.5 118.2,99.4 118.5,101.0 119.5,103.0 117.2,104.0 116.2,102.6 116.2,100.2 116.0,98.7 115.4,98.6 114.8,97.7 115.0,97.1 115.5,95.6Z" fill="#78c679"/>
<path d="M119.0,97.5 120.3,97.6 122.1,97.8 121.7,99.3 122.1,100.9 121.4,102.5 120.0,103.1 119.5,103.0 118.5,101.0 118.2,99.4 118.8,98.5Z" fill="#31a354"/>
<path d="M122.1,97.8 123.2,98.5 124.4,99.9 123.4,102.2 121.4,102.5 122.1,100.9 121.7,99.3Z" fill="#31a354"/>
<path d="M97.2,103.6 98.5,104.7 99.7,105.1 100.8,105.7 100.5,107.6 98.1,109.9 97.4,111.8 96.5,112.3 95.7,111.5 95.8,110.2 96.1,109.0 95.1,108.6 95.1,106.9 95.9,104.9 96.1,104.4ZM84.5,106.0 85.2,105.9 85.2,106.9 84.6,106.9Z" fill="#31a354"/>
<path d="M95.8,110.2 95.7,111.5 96.5,112.3 97.4,111.8 98.1,109.9 100.5,107.6 100.8,105.7 103.1,108.8 106.0,109.2 105.4,110.7 106.1,111.3 103.2,112.6 102.4,115.4 103.5,118.0 104.3,119.0 105.9,118.4 106.0,120.4 107.0,120.3 108.1,122.4 108.1,125.0 107.9,126.1 107.9,128.7 108.0,129.0 107.3,130.1 106.1,128.7 103.9,127.4 102.1,126.2 100.8,124.2 99.6,121.7 98.4,119.0 97.4,116.6 96.4,114.9 95.1,113.7 94.8,111.9Z" fill="#006837"/>
<path d="M107.0,120.3 108.0,120.4 109.9,118.9 111.1,118.6 111.3,121.0 112.4,122.4 114.0,123.0 115.8,123.7 116.3,124.1 117.0,127.4 118.7,127.4 119.0,128.7 119.9,129.9 119.6,132.0 119.5,132.5 118.5,131.3 116.0,131.7 115.6,132.9 115.6,135.1 114.1,135.9 113.1,135.0 112.0,134.6 111.3,135.9 110.0,133.9 109.2,132.4 109.3,130.9 108.0,129.0 107.9,128.7 107.9,126.1 108.1,125.0 108.1,122.4Z" fill="#78c679"/>
<path d="M107.3,130.1 108.0,129.0 109.3,130.9 109.2,132.4 110.0,133.9 111.3,135.9 111.5,137.4 110.6,138.7 111.2,141.3 110.4,143.2 110.5,145.0 110.5,146.9 111.5,149.0 112.1,150.3 111.9,151.8 111.8,153.0 112.3,155.4 112.5,157.1 113.2,159.4 114.2,161.7 114.9,163.9 115.4,166.1 115.4,167.7 116.7,168.9 117.7,170.3 119.2,170.3 120.7,170.7 120.7,170.9 121.8,173.2 123.2,173.6 123.3,174.3 121.3,173.8 119.3,172.8 117.0,171.6 114.9,169.8 113.2,167.2 112.2,165.0 112.6,163.4 112.1,161.1 111.3,159.4 110.7,157.1 109.8,153.8 109.8,151.8 109.9,148.7 109.2,145.4 108.7,143.2 108.7,140.0 108.3,136.8 108.0,133.6Z" fill="#006837"/>
<path d="M115.6,135.1 118.5,137.4 121.1,139.1 120.5,141.6 123.0,141.6 124.0,139.5 125.1,141.1 125.1,141.5 123.4,142.9 122.2,145.3 122.1,147.5 122.4,149.8 122.5,150.4 123.9,151.5 124.3,152.6 124.7,153.1 124.4,154.8 123.3,155.6 120.7,155.8 121.0,157.7 118.8,158.3 119.3,160.0 120.5,160.0 119.4,161.1 119.9,162.8 118.6,163.9 120.5,165.5 120.1,167.7 119.3,168.7 120.7,170.7 119.2,170.3 117.7,170.3 116.7,168.9 115.4,167.7 115.4,166.1 114.9,163.9 114.2,161.7 113.2,159.4 112.5,157.1 112.3,155.4 111.8,153.0 111.9,151.8 112.1,150.3 111.5,149.0 110.5,146.9 110.5,145.0 110.4,143.2 111.2,141.3 110.6,138.7 111.5,137.4 111.3,135.9 112.0,134.6 113.1,135.0 114.1,135.9ZM120.7,170.9 121.2,171.5 122.2,172.3 124.3,173.0 123.5,173.3 121.8,173.2Z" fill="#006837"/>
<path d="M115.6,135.1 115.6,132.9 116.0,131.7 118.5,131.3 119.5,132.5 120.1,135.0 122.3,135.2 122.9,137.4 124.0,137.6 124.0,139.5 123.0,141.6 120.5,141.6 121.1,139.1 118.5,137.4Z" fill="#006837"/>
<path d="M122.2,145.3 123.8,146.0 124.2,146.1 126.6,148.1 127.0,149.7 125.9,151.1 124.7,151.1 123.0,150.4 122.4,149.8 122.1,147.5Z" fill="#006837"/>
<path d="M124.4,99.9 126.0,103.2 126.0,105.6 128.0,106.5 130.0,107.1 131.5,109.0 134.0,109.4 136.0,109.4 137.5,110.6 139.1,112.2 140.8,112.6 141.3,115.3 141.1,117.7 139.3,120.6 138.0,123.0 137.6,125.7 137.7,129.4 137.4,131.9 136.5,134.9 135.6,136.0 134.5,136.1 133.1,136.5 131.5,137.4 130.2,139.1 129.9,140.9 130.1,143.0 129.2,144.9 128.4,146.5 127.6,147.9 127.0,149.7 126.6,148.1 124.2,146.1 123.8,146.0 122.2,145.3 123.4,142.9 125.1,141.5 125.1,141.1 124.0,139.5 124.0,137.6 122.9,137.4 122.3,135.2 120.1,135.0 119.5,132.5 119.6,132.0 119.9,129.9 119.0,128.7 118.7,127.4 117.0,127.4 116.3,124.1 115.8,123.7 114.0,123.0 112.4,122.4 111.3,121.0 111.1,118.6 109.9,118.9 108.0,120.4 107.0,120.3 106.0,120.4 105.9,118.4 104.3,119.0 103.5,118.0 102.4,115.4 103.2,112.6 106.1,111.3 106.6,107.1 106.1,104.1 109.1,104.0 110.5,104.5 112.6,102.6 111.6,102.1 111.9,100.1 113.3,100.2 114.7,99.7 115.4,98.6 116.0,98.7 116.2,100.2 116.2,102.6 117.2,104.0 119.5,103.0 120.0,103.1 121.4,102.5 123.4,102.2Z" fill="#006837"/>
<path d="M126.4,170.1 128.7,169.7 129.0,170.1 127.9,170.6 126.6,170.5Z" fill="#006837" stroke-width="0.9"/>
<path d="M130.4,20.5 134.1,19.9 139.5,19.2 148.8,19.0 156.7,18.8 162.7,19.1 168.7,19.4 164.9,19.9 164.0,21.2 163.4,22.2 161.5,23.7 161.1,25.0 158.1,26.3 153.8,26.7 149.7,28.4 147.4,29.0 145.0,31.5 143.2,33.2 142.1,33.3 140.2,32.3 138.9,30.2 138.3,27.8 139.5,26.3 141.2,25.6 139.2,25.0 139.6,23.7 138.8,22.0 135.8,21.6 132.6,21.7 131.2,21.1Z" fill="#b2b2b2"/>
<path d="M158.6,28.6 160.5,27.9 163.3,28.1 164.7,27.8 165.7,28.6 166.3,29.0 165.2,29.6 162.5,30.3 160.8,30.0 159.6,29.9 160.2,29.4 158.8,29.1Z" fill="#006837" stroke-width="0.4"/>
<path d="M115.4,83.7 116.0,83.7 115.8,84.3 115.3,84.2ZM115.8,85.6 116.2,85.8 116.0,86.3 115.8,86.2ZM115.6,84.7 115.9,84.7 115.7,85.2ZM115.8,86.8 116.0,86.8 115.9,87.2ZM117.1,87.8 117.4,87.8 117.2,88.2ZM115.4,82.6 115.6,82.6 115.6,82.9ZM115.5,87.6 115.7,87.6 115.6,88.0ZM114.9,89.2 115.1,89.2 114.9,89.5ZM112.7,81.0 113.0,81.0 112.9,81.2ZM114.4,81.4 114.5,81.4 114.5,81.6ZM104.7,77.5 105.4,77.3 105.2,77.8ZM103.7,74.3 104.1,74.9 103.9,74.9ZM103.2,72.1 103.3,72.9 103.2,72.9ZM104.6,73.6 104.8,73.6 104.7,73.9ZM106.5,76.5 107.0,76.6 106.7,76.9ZM107.7,89.2 108.0,89.2 107.9,89.5ZM106.7,88.7 106.9,88.8 106.9,89.0ZM96.8,79.7 97.1,79.9 96.9,79.9Z" fill="#31a354"/>
<path d="M184.7,34.1 184.0,34.1 182.1,35.0 180.2,34.3 179.7,32.8 179.7,31.5 181.1,30.6 183.2,29.8 184.2,29.0 185.2,27.8 186.4,26.5 188.3,25.5 190.2,25.2 192.8,24.6 194.8,24.6 197.0,25.1 197.1,25.6 195.8,26.0 195.0,25.2 193.7,25.5 193.6,25.9 192.2,26.2 190.1,26.0 188.5,26.3 187.5,27.1 186.3,28.1 186.1,29.4 184.9,30.2 185.1,31.9 185.5,32.2 185.0,33.0 185.0,33.9ZM182.9,20.5 185.3,20.0 188.9,19.9 192.7,19.9 189.8,20.6 187.4,21.2 185.5,21.2 184.2,20.8Z" fill="#31a354" stroke-width="0.42"/>
<path d="M184.7,34.1 184.7,34.8 185.3,36.0 186.0,36.8 186.2,37.5 187.2,37.4 188.5,36.8 188.8,35.5 189.0,34.4 190.2,33.4 188.9,32.3 188.9,31.1 189.8,30.3 191.1,29.4 191.6,28.4 193.1,28.4 192.6,27.6 192.3,26.8 190.1,26.0 188.5,26.3 187.5,27.1 186.3,28.1 186.1,29.4 184.9,30.2 185.1,31.9 185.5,32.2 185.0,33.0 185.0,33.9ZM190.1,35.9 190.6,35.1 190.5,35.7Z" fill="#006837"/>
<path d="M193.1,28.4 194.1,29.0 193.6,29.5 191.7,30.8 191.9,32.3 193.2,33.3 194.8,33.0 196.8,32.8 197.9,31.9 199.0,30.7 197.7,29.8 197.3,28.4 196.5,27.5 196.9,26.9 195.7,26.3 195.8,26.0 195.0,25.2 193.7,25.5 193.6,25.9 192.2,26.2 190.1,26.0 192.3,26.8 192.6,27.6Z" fill="#31a354"/>
<path d="M182.5,37.9 182.3,36.0 184.1,35.3 184.0,36.5 184.5,36.7 183.7,37.7 183.5,38.1 182.8,38.0ZM184.7,37.6 184.9,37.0 185.8,36.8 185.9,37.5 185.5,38.0Z" fill="#006837" stroke-width="0.5"/>
<path d="M171.3,42.9 173.1,42.7 175.2,42.3 177.1,41.7 177.4,40.2 176.2,39.9 175.8,38.7 174.8,37.7 174.3,36.8 174.5,35.4 173.5,35.3 173.7,34.5 172.2,34.5 171.5,35.5 171.7,36.8 172.2,37.7 172.0,38.1 173.2,38.0 173.6,39.1 172.4,39.6 172.6,40.4 171.8,41.1 173.4,41.5 172.5,41.8ZM171.1,38.8 171.6,38.5 171.4,37.7 170.5,37.7 170.2,38.0 169.6,38.4 170.2,38.8ZM170.2,35.8 171.3,34.6 171.2,35.7ZM174.9,33.2 175.3,32.5 175.1,33.3Z" fill="#006837" stroke-width="0.45"/>
<path d="M167.9,41.3 169.1,41.3 170.9,40.7 171.2,39.6 171.1,38.8 170.2,38.8 169.6,38.4 170.2,38.0 170.5,37.7 169.4,37.8 169.3,38.3 168.0,38.7 168.1,39.5 168.5,39.8 168.3,40.3 167.6,40.8Z" fill="#006837"/>
<path d="M174.4,50.2 176.6,50.9 178.8,51.3 178.6,50.4 179.9,50.2 181.4,50.5 182.5,49.7 182.0,49.2 181.9,48.3 182.0,47.4 181.3,47.1 181.2,46.7 182.4,45.5 182.8,44.0 181.3,43.5 180.8,43.5 180.0,42.9 179.5,42.8 178.1,41.8 177.3,42.2 177.2,42.9 176.2,43.3 175.0,43.6 174.4,43.3 174.7,44.4 173.5,44.3 172.1,44.7 172.4,45.3 173.9,45.9 175.0,47.1 175.0,48.8ZM183.5,51.3 184.2,50.6 184.3,51.8 184.1,52.5 183.5,51.9Z" fill="#006837"/>
<path d="M174.4,50.2 176.6,50.9 178.8,51.3 178.8,51.9 177.9,52.6 176.4,53.5 175.7,54.8 176.2,55.5 175.6,56.2 175.3,56.9 174.2,57.9 172.0,58.0 171.1,58.7 170.3,58.1 169.3,57.4 169.3,56.9 169.7,56.2 169.5,54.7 169.9,53.9 170.0,52.9 170.6,52.2 168.8,51.7 168.3,51.9 167.9,50.6 169.1,49.8 171.0,49.9 172.7,50.1ZM178.0,54.6 178.8,54.1 179.0,54.8 178.6,54.9ZM160.1,68.3 160.8,67.9 160.5,68.7ZM161.1,68.6 161.5,68.6 161.4,69.0ZM162.6,67.9 163.3,67.2 163.4,67.5 162.7,68.6Z" fill="#006837"/>
<path d="M168.3,51.9 168.8,51.7 170.6,52.2 170.0,52.9 169.9,53.9 169.5,54.7 169.7,56.2 169.3,56.9 169.3,57.4 168.0,57.6 168.1,56.0 167.5,55.6 168.1,53.9Z" fill="#006837"/>
<path d="M178.1,41.8 178.8,41.5 179.5,41.5 180.1,41.4 180.7,41.7 180.7,42.2 181.0,42.2 181.1,42.8 180.8,43.5 180.0,42.9 179.5,42.8Z" fill="#006837"/>
<path d="M180.8,43.5 181.1,42.8 181.3,43.5Z" fill="#006837"/>
<path d="M178.8,41.5 179.2,40.9 179.8,39.9 180.8,39.5 181.7,39.4 181.8,39.7 181.7,40.6 180.9,41.1 181.0,42.2 180.7,42.2 180.7,41.7 180.1,41.4 179.5,41.5Z" fill="#006837"/>
<path d="M182.4,45.5 184.1,45.7 184.8,45.8 186.9,45.7 187.5,44.4 186.0,42.7 187.7,41.9 188.1,42.0 188.2,41.6 187.8,40.3 187.3,39.0 185.7,38.6 184.8,38.9 183.9,38.4 183.5,38.1 182.8,38.0 183.1,39.0 181.7,39.4 181.8,39.7 181.7,40.6 180.9,41.1 181.0,42.2 181.1,42.8 181.3,43.5 182.8,44.0Z" fill="#006837"/>
<path d="M187.3,39.0 187.8,40.3 188.2,41.6 188.1,42.0 189.3,42.5 189.9,42.7 191.4,43.1 191.6,43.5 192.7,43.8 194.8,43.9 194.9,43.2 195.7,42.3 195.2,41.4 195.0,40.3 195.1,39.0 194.7,38.8 194.1,38.6 191.7,38.5 190.8,38.4 190.5,38.1 189.1,38.4Z" fill="#31a354"/>
<path d="M186.0,42.7 187.5,44.4 188.5,44.0 190.1,44.5 191.6,43.5 191.4,43.1 189.9,42.7 189.3,42.5 188.1,42.0 187.7,41.9Z" fill="#31a354"/>
<path d="M190.1,44.5 190.3,45.1 191.7,45.3 193.1,44.6 194.5,44.7 194.8,43.9 192.7,43.8 191.6,43.5Z" fill="#31a354"/>
<path d="M184.1,45.7 184.8,45.8 186.9,45.7 187.5,44.4 188.5,44.0 190.1,44.5 190.3,45.1 189.9,45.7 189.6,46.3 188.3,46.8 187.6,46.7 186.2,46.3 184.9,46.4 184.1,46.1Z" fill="#006837"/>
<path d="M181.3,47.1 181.2,46.7 182.4,45.5 184.1,45.7 184.1,46.1 184.9,46.4 184.7,47.0 183.7,47.4 183.1,46.8 182.0,47.4Z" fill="#006837"/>
<path d="M182.5,49.7 183.6,49.1 184.8,49.6 185.1,50.8 186.7,52.0 188.1,52.7 188.7,53.4 189.9,54.1 190.3,55.5 190.0,56.4 190.8,56.0 191.2,55.3 190.7,54.4 191.0,53.5 192.3,54.2 192.4,53.7 191.8,53.3 190.0,52.4 190.0,51.9 188.8,51.6 187.8,50.1 186.7,49.2 186.5,48.1 187.7,47.7 187.6,46.7 186.2,46.3 184.9,46.4 184.7,47.0 183.7,47.4 183.1,46.8 182.0,47.4 181.9,48.3 182.0,49.2ZM187.2,56.6 190.0,56.1 189.7,57.6 189.6,58.0 187.2,56.9ZM183.2,53.0 183.5,55.3 184.6,55.0 184.6,53.2 184.1,52.7Z" fill="#31a354"/>
<path d="M187.7,47.7 187.6,46.7 188.3,46.8 189.6,46.3 189.9,46.7 189.3,47.1 189.1,47.8 188.4,47.8Z" fill="#31a354"/>
<path d="M187.7,47.7 188.4,47.8 189.1,47.8 189.3,47.1 189.9,46.7 191.1,47.4 192.1,47.4 192.4,48.4 190.5,48.2 189.5,48.2 189.6,48.7 190.0,49.3 191.3,50.6 192.1,51.2 191.2,50.8 189.9,50.1 189.1,49.3 188.8,48.3 188.2,48.2 187.9,48.6 187.5,48.0Z" fill="#31a354" stroke-width="0.45"/>
<path d="M189.5,48.2 190.5,48.2 192.4,48.4 192.7,49.2 192.9,50.1 192.1,51.1 191.3,50.6 190.0,49.3 189.6,48.7Z" fill="#31a354"/>
<path d="M189.6,46.3 189.9,45.7 190.3,45.1 191.7,45.3 193.1,44.6 194.5,44.7 195.2,45.2 194.0,46.8 193.3,47.1 192.1,47.4 191.1,47.4 189.9,46.7Z" fill="#31a354"/>
<path d="M192.1,47.4 193.3,47.1 194.4,48.2 195.5,49.0 195.3,49.6 196.0,50.4 195.6,51.4 194.9,51.5 194.0,51.9 193.5,51.1 192.6,50.1 192.9,50.1 192.7,49.2 192.4,48.4Z" fill="#31a354"/>
<path d="M192.1,51.2 192.9,50.1 192.6,50.1 193.5,51.1 193.0,51.9Z" fill="#31a354"/>
<path d="M193.0,51.9 193.5,51.1 194.0,51.9 194.1,52.8 194.5,53.3 194.0,54.4 193.2,53.7Z" fill="#31a354"/>
<path d="M194.0,51.9 194.9,51.5 195.6,51.4 196.2,52.5 194.5,53.1 194.1,52.8Z" fill="#31a354"/>
<path d="M194.0,54.4 194.5,53.3 196.2,52.5 197.5,52.4 199.1,52.1 199.4,52.9 198.9,53.2 197.5,53.0 197.2,53.7 196.3,53.6 196.0,54.1 196.8,55.0 196.4,55.5 197.5,56.2 196.8,56.6 196.9,57.3 196.6,58.2 196.3,58.2 195.6,57.9 195.0,56.7 194.9,56.0 194.5,55.3ZM197.4,59.7 198.3,59.3 200.0,59.7 199.9,60.0 197.9,60.0Z" fill="#006837" stroke-width="0.5"/>
<path d="M195.6,49.3 195.5,49.0 196.8,49.8 198.4,49.6 199.5,49.4 200.7,49.8 200.5,51.8 199.1,52.1 197.5,52.4 196.2,52.5 195.6,51.4 196.0,50.4 195.3,49.6Z" fill="#31a354"/>
<path d="M193.3,47.1 194.0,46.8 195.2,45.2 196.9,45.4 198.2,44.8 199.7,46.3 200.1,47.8 201.4,48.1 200.7,49.8 199.5,49.4 198.4,49.6 196.8,49.8 195.6,49.3 195.5,49.0 194.4,48.2Z" fill="#31a354"/>
<path d="M198.2,44.8 199.0,44.6 200.5,45.1 201.5,46.7 200.6,47.0 200.1,47.8 199.7,46.3Z" fill="#31a354"/>
<path d="M194.8,43.9 194.5,44.7 195.2,45.2 196.9,45.4 198.2,44.8 199.0,44.6 200.5,45.1 201.5,46.7 200.6,47.0 200.1,47.8 201.4,48.1 202.1,46.7 203.2,47.0 204.5,47.3 203.8,48.0 204.8,49.0 206.4,48.4 207.2,48.1 205.7,47.1 207.1,46.5 208.3,46.0 209.4,45.2 209.1,43.4 207.4,43.1 206.8,42.6 205.6,42.6 205.0,41.9 204.0,41.6 203.3,40.5 201.8,40.8 200.9,41.6 198.4,41.4 196.5,41.0 195.2,41.4 195.7,42.3 194.9,43.2Z" fill="#78c679"/>
<path d="M195.2,41.4 196.5,41.0 198.4,41.4 200.9,41.6 201.8,40.8 201.3,39.7 202.0,39.2 200.4,38.1 199.7,37.0 198.0,36.8 196.9,37.2 196.4,38.6 194.7,38.9 195.1,39.0 195.0,40.3Z" fill="#31a354"/>
<path d="M192.6,37.6 192.5,36.9 195.4,36.5 196.9,37.2 196.4,38.6 194.7,38.9 194.1,38.6 194.0,37.9Z" fill="#31a354"/>
<path d="M192.5,36.9 192.5,35.6 193.4,35.3 194.8,35.8 194.8,35.1 197.1,35.5 197.4,35.7 198.0,36.8 196.9,37.2 195.4,36.5Z" fill="#31a354"/>
<path d="M194.8,35.1 193.9,34.4 193.8,33.9 195.4,33.6 197.3,33.7 197.1,34.9 197.1,35.5ZM192.9,34.8 193.6,34.5 193.4,35.1Z" fill="#31a354" stroke-width="0.4"/>
<path d="M191.7,38.5 194.1,38.6 194.0,37.9 192.6,37.6 191.8,38.0Z" fill="#78c679"/>
<path d="M205.5,60.0 206.0,59.5 207.4,59.2 207.0,60.0 206.2,60.5Z" fill="#006837"/>
<path d="M188.9,58.8 189.3,58.9 189.2,59.1Z" fill="#006837"/>
<path d="M197.1,25.6 198.5,25.7 200.7,25.9 204.1,26.9 204.8,27.7 203.2,28.1 200.3,27.8 199.2,27.8 201.0,29.4 202.8,29.9 203.4,29.6 205.1,29.3 204.4,28.5 205.6,27.9 207.1,28.1 206.5,27.1 206.5,26.4 207.8,26.6 208.6,27.5 209.4,27.0 212.6,26.5 213.4,26.6 215.3,26.3 217.5,26.0 217.1,25.4 219.8,25.8 223.0,26.5 221.6,25.6 221.0,24.6 221.1,23.5 221.9,23.3 223.8,23.5 224.7,24.6 225.4,26.0 226.8,27.4 227.2,27.1 227.0,26.3 225.7,24.6 225.4,23.5 227.7,23.9 228.7,23.1 229.6,24.0 231.7,24.6 232.2,25.2 230.9,23.0 232.1,22.9 232.2,22.4 233.7,22.0 236.6,21.7 239.6,21.5 241.6,20.9 243.8,21.3 247.2,21.5 248.8,22.0 246.8,22.7 249.1,23.0 253.4,23.2 257.0,23.0 258.8,23.1 260.0,23.7 262.3,24.4 264.1,24.8 266.1,24.2 268.8,24.3 268.6,23.7 272.7,23.8 276.2,24.3 278.8,24.7 282.2,24.7 284.9,25.5 286.4,25.6 289.2,25.6 291.4,25.3 292.9,26.0 293.6,25.4 295.8,25.5 299.4,26.0 304.7,28.9 303.9,29.3 303.4,29.2 307.2,30.6 307.7,31.2 305.5,31.6 304.9,32.8 304.4,33.3 300.8,32.9 300.4,33.4 300.2,34.1 300.4,35.1 301.5,35.2 303.6,36.8 304.2,38.1 304.5,39.7 304.4,40.9 304.2,41.9 301.1,39.9 298.9,37.9 297.4,36.0 296.8,34.6 296.5,33.2 297.1,32.5 297.2,31.8 296.8,31.1 294.5,31.6 292.3,31.9 293.0,33.7 290.3,33.7 288.6,33.9 286.0,33.9 284.2,33.9 283.9,35.3 283.6,36.6 283.1,38.2 285.6,38.9 286.6,39.1 288.6,39.7 290.3,40.6 289.4,39.9 290.9,41.9 293.3,44.6 293.4,46.2 293.1,48.6 292.9,50.1 291.7,50.9 290.6,50.4 290.1,51.4 289.8,51.1 289.6,50.1 288.4,48.4 289.9,48.3 288.8,44.7 286.0,45.4 284.7,44.3 281.3,43.2 277.7,40.3 274.9,39.4 273.0,39.6 272.8,40.3 274.2,43.0 273.6,43.5 272.4,43.2 270.3,42.8 268.1,43.7 264.7,43.1 263.8,42.7 260.0,42.4 259.5,41.6 256.2,40.8 256.0,41.9 256.8,43.0 254.4,43.0 251.5,42.3 250.0,43.1 248.9,43.8 248.5,43.9 246.5,43.4 244.3,41.9 241.6,42.2 238.5,39.6 236.9,38.7 234.9,39.4 234.5,38.9 232.5,38.7 232.2,37.8 230.4,37.6 227.9,38.3 225.4,38.9 225.1,39.9 226.2,41.6 225.2,42.2 223.9,41.9 221.1,42.4 218.8,41.4 217.3,41.2 216.0,42.4 214.9,42.7 214.8,43.7 214.8,44.7 216.5,45.4 217.1,46.4 217.7,46.8 217.4,47.6 216.3,48.6 216.2,49.0 217.3,50.6 218.5,52.0 217.6,52.6 216.7,51.9 215.7,51.2 214.2,51.1 212.5,50.4 210.7,50.2 208.9,49.1 207.7,48.5 207.5,48.1 208.0,48.0 208.3,47.3 208.4,46.6 209.1,46.1 208.3,46.0 209.4,45.2 209.1,43.4 207.4,43.1 206.8,42.6 205.6,42.6 205.0,41.9 204.0,41.6 203.3,40.5 201.8,40.8 201.3,39.7 202.0,39.2 200.4,38.1 199.7,37.0 198.0,36.8 197.4,35.7 197.1,35.5 197.1,34.9 197.3,33.7 197.9,33.3 198.8,33.3 198.2,33.0 197.4,32.8 196.8,32.8 197.9,31.9 199.0,30.7 197.7,29.8 197.3,28.4 196.5,27.5 196.9,26.9 195.7,26.3 195.8,26.0ZM288.9,38.6 290.7,39.6 292.2,40.9 294.1,43.0 296.1,44.0 296.3,45.7 297.8,47.0 296.8,47.3 295.0,45.1 293.1,43.0 290.9,40.9ZM210.3,24.1 211.7,24.8 214.4,24.9 212.7,23.7 213.1,22.8 214.5,22.0 217.8,21.3 219.9,21.5 217.7,22.0 214.5,22.9 213.4,23.7 211.5,23.4ZM235.7,20.3 238.6,20.7 241.6,20.5 239.8,20.1 237.3,19.6 235.0,19.7ZM264.3,22.2 268.0,22.9 268.8,22.2 272.5,22.1 271.1,21.7 267.3,21.7 264.1,21.7ZM295.9,24.6 297.0,24.7 296.2,24.3 295.6,24.3ZM55.0,24.7 56.9,24.6 56.9,24.2 55.8,24.3ZM204.3,19.8 208.1,20.0 212.9,19.8 215.2,19.6 211.3,19.3 206.6,19.6ZM47.6,28.8 52.5,26.0 53.6,26.6 53.9,27.2 55.9,27.6 55.9,28.1 53.9,28.6 51.8,29.5 49.9,29.3 50.0,28.6 48.4,28.7ZM301.6,49.0 302.8,47.8 302.3,48.8ZM303.6,47.3 304.2,46.0 304.2,47.0ZM303.8,43.0 304.0,42.2 304.3,43.0ZM209.3,26.0 210.2,25.8 209.9,26.1Z" fill="#78c679"/>
<path d="M210.7,50.2 212.5,50.4 214.2,51.1 215.7,51.2 216.7,51.9 217.0,52.8 215.6,52.6 214.3,52.8 213.3,52.4 212.5,52.3 212.5,51.8 212.1,51.0Z" fill="#31a354"/>
<path d="M216.7,51.9 217.6,52.6 218.5,52.0 219.3,52.9 220.5,53.6 219.8,53.9 219.9,54.9 219.8,55.9 218.9,55.5 219.0,54.8 217.8,54.9 217.5,55.4 217.3,54.7 216.6,54.3 216.7,53.9 216.1,53.3 215.6,52.6 217.0,52.8ZM215.8,54.4 216.7,54.8 217.1,55.4 216.0,54.8Z" fill="#31a354"/>
<path d="M214.3,52.8 215.6,52.6 216.1,53.3 216.7,53.9 216.6,54.3 217.3,54.7 217.5,55.4 217.1,55.4 216.7,54.8 215.8,54.4 214.7,54.0Z" fill="#31a354"/>
<path d="M198.9,53.3 199.4,52.9 199.1,52.1 200.5,51.8 201.5,52.6 201.5,52.9 200.2,53.0 199.6,53.6ZM199.2,54.1 200.3,53.6 201.6,53.6 201.7,52.7 203.5,52.8 205.1,51.8 206.6,51.7 208.1,52.6 209.9,52.9 211.6,52.8 212.5,52.3 213.3,52.4 214.3,52.8 214.7,54.0 215.8,54.4 215.1,54.8 215.9,56.1 215.7,56.6 216.4,57.4 214.2,57.5 212.7,57.5 210.8,57.9 209.4,58.0 209.2,57.9 209.0,58.6 208.6,58.9 208.7,58.1 208.1,58.1 207.2,57.9 206.4,58.7 205.0,58.2 203.6,57.9 203.5,58.5 202.2,58.1 201.3,58.0 200.6,57.6 200.4,56.0 199.6,56.1 199.9,55.3 199.2,54.7Z" fill="#006837"/>
<path d="M208.6,58.9 209.0,58.6 209.2,57.9 209.4,58.0 210.8,57.9 212.7,57.5 214.2,57.5 213.4,58.3 213.5,60.8 211.7,62.0 210.0,63.3 209.1,62.8 208.9,62.2 209.0,62.0 209.5,61.0 209.3,60.5 208.9,60.4Z" fill="#d9f0a3"/>
<path d="M208.3,62.3 208.9,60.4 209.3,60.5 209.5,61.0 209.0,62.0 208.9,62.2Z" fill="#006837"/>
<path d="M207.8,64.6 208.7,66.8 208.9,64.8 209.0,64.3 208.4,64.2 208.4,63.7 208.5,63.1 208.9,63.2 209.1,62.8 208.9,62.2 208.3,62.3 208.2,63.7Z" fill="#006837"/>
<path d="M208.4,64.2 209.0,64.3 208.9,63.2 208.5,63.1 208.4,63.7Z" fill="#006837"/>
<path d="M208.8,67.0 209.9,67.2 211.1,66.2 210.4,64.3 212.1,63.7 212.3,63.5 211.7,62.0 210.0,63.3 209.1,62.8 208.9,63.2 209.0,64.3 208.9,64.8 208.7,66.8Z" fill="#31a354"/>
<path d="M211.7,62.0 213.5,60.8 213.4,58.3 214.2,57.5 216.4,57.4 217.2,58.8 218.1,59.9 217.7,61.2 218.5,62.3 220.2,63.7 220.4,64.9 221.5,66.3 220.9,66.2 220.6,66.0 219.7,67.3 218.0,67.2 215.2,64.8 213.5,63.8 212.3,63.5Z" fill="#addd8e"/>
<path d="M219.7,67.3 220.6,66.0 220.9,66.2 221.4,66.8 221.6,68.0 220.7,68.0Z" fill="#31a354"/>
<path d="M208.8,67.0 208.6,68.6 209.2,68.7 210.9,71.5 212.9,74.0 213.8,77.0 215.4,79.6 217.1,82.2 218.0,83.7 218.3,82.3 219.2,82.3 221.4,82.6 222.5,82.7 223.0,81.3 223.9,80.8 226.6,80.3 229.4,78.9 229.7,76.3 229.1,75.4 226.6,75.2 225.4,73.5 225.3,73.0 224.6,72.8 223.8,71.7 223.4,70.3 222.3,69.2 221.6,68.0 220.7,68.0 219.7,67.3 218.0,67.2 215.2,64.8 213.5,63.8 212.3,63.5 212.1,63.7 210.4,64.3 211.1,66.2 209.9,67.2Z" fill="#addd8e"/>
<path d="M218.0,83.7 218.2,85.8 218.7,87.8 219.0,88.6 220.5,88.4 223.3,86.8 224.7,85.9 227.3,84.7 228.0,83.3 226.6,80.3 223.9,80.8 223.0,81.3 222.5,82.7 221.4,82.6 219.2,82.3 218.3,82.3ZM228.8,88.7 229.9,88.7 229.4,89.1Z" fill="#addd8e"/>
<path d="M228.0,83.3 229.8,82.2 231.1,81.6 232.3,80.3 232.0,78.6 233.1,78.3 233.6,75.7 232.2,74.3 230.6,73.8 229.9,72.6 229.4,73.5 229.1,75.4 229.7,76.3 229.4,78.9 226.6,80.3ZM229.3,71.1 229.6,70.7 229.7,71.7Z" fill="#addd8e"/>
<path d="M225.4,73.5 226.6,75.2 229.1,75.4 229.4,73.5 229.9,72.6 229.7,71.7 229.3,71.1 228.4,72.0 228.0,73.4 226.3,73.5Z" fill="#31a354"/>
<path d="M224.6,72.8 224.4,71.8 224.7,71.0 225.1,71.5 225.3,73.0Z" fill="#31a354"/>
<path d="M215.8,54.4 217.1,55.4 217.5,55.4 217.8,54.9 219.0,54.8 218.9,55.5 219.8,55.9 220.2,56.9 221.3,57.1 222.3,58.0 223.5,58.1 224.7,57.7 224.5,57.2 225.8,56.4 227.1,56.2 228.6,56.8 229.6,57.1 231.3,58.1 231.7,59.3 231.5,60.9 232.0,61.8 231.9,62.5 232.7,64.4 233.4,64.4 233.5,65.2 233.0,66.4 234.2,67.9 235.2,68.4 235.5,69.7 236.0,69.8 236.0,70.4 234.7,71.0 234.8,72.2 232.7,72.0 230.6,71.6 229.9,69.8 229.1,70.2 227.7,70.4 226.2,69.9 224.6,68.8 223.7,67.3 222.7,65.9 221.7,65.5 221.5,66.3 220.4,64.9 220.2,63.7 218.5,62.3 217.7,61.2 218.1,59.9 217.2,58.8 216.4,57.4 215.7,56.6 215.9,56.1 215.1,54.8Z" fill="#d9f0a3"/>
<path d="M224.5,57.2 224.0,55.3 223.0,54.1 222.4,52.7 222.0,52.1 222.8,51.7 224.0,51.8 225.2,52.6 226.3,52.7 226.9,51.0 228.4,51.6 228.8,52.5 230.4,52.7 231.3,54.1 233.5,55.4 235.7,56.4 235.9,57.2 234.4,57.5 234.4,58.5 233.3,59.4 232.8,59.8 231.7,59.3 231.3,58.1 229.6,57.1 228.6,56.8 227.1,56.2 225.8,56.4Z" fill="#d9f0a3"/>
<path d="M225.2,52.6 224.0,48.4 226.0,47.7 228.6,49.2 229.7,50.1 231.4,50.0 232.3,50.1 233.4,50.6 233.6,51.3 234.2,51.9 235.8,52.8 236.6,52.5 237.6,51.7 238.0,51.6 237.8,52.5 238.9,52.4 239.6,52.9 240.5,53.2 239.5,53.9 238.5,53.9 237.3,53.9 236.7,53.9 236.4,54.6 235.9,54.7 236.5,55.3 237.3,56.2 237.1,56.7 237.1,57.4 235.9,57.2 235.7,56.4 233.5,55.4 231.3,54.1 230.4,52.7 228.8,52.5 228.4,51.6 226.9,51.0 226.3,52.7Z" fill="#d9f0a3"/>
<path d="M238.0,51.6 240.1,51.3 239.9,50.6 241.9,50.9 244.9,50.9 246.1,51.6 244.9,52.4 243.7,53.0 242.7,53.4 241.5,54.3 241.6,54.8 239.9,54.9 238.6,54.6 237.5,54.2 237.3,53.9 238.5,53.9 239.5,53.9 240.5,53.2 239.6,52.9 238.9,52.4 237.8,52.5Z" fill="#31a354"/>
<path d="M237.1,57.4 238.5,57.5 239.1,56.9 239.1,56.2 239.8,56.1 240.7,58.0 242.0,57.1 243.5,57.3 243.0,55.8 242.0,55.7 241.6,54.8 239.9,54.9 238.6,54.6 237.5,54.2 237.3,53.9 236.7,53.9 236.4,54.6 235.9,54.7 236.5,55.3 237.3,56.2 237.1,56.7Z" fill="#addd8e"/>
<path d="M217.7,46.8 219.2,46.2 220.8,46.4 221.3,48.0 220.0,48.1 219.9,49.0 219.3,49.2 220.4,50.4 221.7,50.9 222.0,52.1 222.8,51.7 224.0,51.8 225.2,52.6 224.0,48.4 226.0,47.7 228.6,49.2 229.7,50.1 231.4,50.0 232.3,50.1 233.4,50.6 233.6,51.3 234.2,51.9 235.8,52.8 236.6,52.5 237.6,51.7 238.0,51.6 240.1,51.3 239.9,50.6 241.9,50.9 244.9,50.9 246.1,51.6 245.8,50.6 246.1,50.4 245.0,48.6 246.6,48.2 246.3,47.8 246.0,46.0 248.1,46.1 247.6,44.7 248.2,44.0 248.5,43.9 246.5,43.4 244.3,41.9 241.6,42.2 238.5,39.6 236.9,38.7 234.9,39.4 234.5,38.9 232.5,38.7 232.2,37.8 230.4,37.6 227.9,38.3 225.4,38.9 225.1,39.9 226.2,41.6 225.2,42.2 223.9,41.9 221.1,42.4 218.8,41.4 217.3,41.2 216.0,42.4 214.9,42.7 214.8,43.7 214.8,44.7 216.5,45.4 217.1,46.4Z" fill="#addd8e"/>
<path d="M231.7,59.3 232.8,59.8 233.3,59.4 234.4,58.5 234.4,57.5 235.9,57.2 237.1,57.4 238.5,57.5 239.1,56.9 239.1,56.2 239.8,56.1 240.7,58.0 242.0,57.1 243.5,57.3 243.2,57.6 241.9,57.9 240.9,58.3 240.6,58.8 241.3,60.0 241.1,61.1 240.2,61.2 240.4,62.3 240.2,63.7 239.2,63.9 238.0,64.7 238.0,66.3 236.0,66.9 234.6,66.9 233.0,66.4 233.5,65.2 233.4,64.4 232.7,64.4 231.9,62.5 232.0,61.8 231.5,60.9Z" fill="#addd8e"/>
<path d="M234.8,72.2 237.0,72.1 239.5,72.1 240.2,72.7 241.4,74.2 241.9,73.4 243.9,73.3 243.2,71.6 242.6,70.6 241.8,69.9 242.5,68.7 243.7,67.5 244.7,66.2 245.3,64.9 244.9,63.1 245.7,63.3 244.4,62.5 243.7,61.1 244.1,60.4 246.3,60.0 246.8,59.4 245.2,59.1 244.2,58.0 243.5,57.3 243.2,57.6 241.9,57.9 240.9,58.3 240.6,58.8 241.3,60.0 241.1,61.1 240.2,61.2 240.4,62.3 240.2,63.7 239.2,63.9 238.0,64.7 238.0,66.3 236.0,66.9 234.6,66.9 233.0,66.4 234.2,67.9 235.2,68.4 235.5,69.7 236.0,69.8 236.0,70.4 234.7,71.0Z" fill="#31a354"/>
<path d="M241.4,74.2 242.4,76.0 243.6,75.2 242.5,76.1 244.3,77.9 245.7,77.3 246.0,76.0 246.5,77.6 246.9,80.3 247.9,83.5 249.2,86.2 250.0,88.4 251.6,92.2 253.1,94.7 253.7,93.6 254.7,93.1 255.2,91.8 255.1,89.5 255.3,87.9 254.7,85.1 256.6,83.4 257.6,81.8 258.7,79.7 260.2,77.9 260.3,76.9 261.2,76.7 262.1,76.7 261.6,75.4 260.9,73.4 260.2,72.9 260.0,71.5 260.1,70.7 261.4,71.0 261.7,72.1 264.2,72.4 264.3,73.4 263.5,74.3 264.0,75.2 264.6,74.2 265.4,76.4 265.9,76.1 265.4,73.8 266.3,72.0 266.3,70.4 268.0,69.8 267.8,68.4 266.3,67.0 265.4,67.3 264.6,67.8 263.3,68.8 262.6,68.9 263.3,70.1 261.2,70.3 260.3,70.1 260.1,69.6 259.8,68.7 259.2,68.8 259.7,70.7 257.4,70.4 255.5,69.3 254.8,69.6 252.4,68.4 251.3,67.7 251.7,65.9 250.6,65.2 249.4,64.6 248.7,63.1 249.2,63.0 248.8,61.2 248.2,61.1 246.8,59.4 246.3,60.0 244.1,60.4 243.7,61.1 244.4,62.5 245.7,63.3 244.9,63.1 245.3,64.9 244.7,66.2 243.7,67.5 242.5,68.7 241.8,69.9 242.6,70.6 243.2,71.6 243.9,73.3 241.9,73.4ZM267.5,87.5 267.8,87.8 267.9,90.0 267.6,89.8Z" fill="#006837"/>
<path d="M251.3,67.7 251.7,65.9 252.1,65.7 253.7,66.5 254.8,67.2 256.0,68.0 257.1,68.7 258.1,68.7 259.2,68.8 259.7,70.7 257.4,70.4 255.5,69.3 254.8,69.6 252.4,68.4Z" fill="#006837"/>
<path d="M260.1,69.6 260.3,70.1 261.2,70.3 263.3,70.1 262.6,68.9 261.1,68.4 260.4,68.6Z" fill="#31a354"/>
<path d="M262.1,76.7 263.2,76.5 263.3,75.8 264.2,75.8 265.0,77.3 265.4,78.0 265.2,77.1 265.4,76.4 264.6,74.2 264.0,75.2 263.5,74.3 264.3,73.4 264.2,72.4 261.7,72.1 261.4,71.0 260.1,70.7 260.0,71.5 260.2,72.9 260.9,73.4 261.6,75.4Z" fill="#006837"/>
<path d="M255.3,92.6 255.6,92.4 256.8,94.0 257.6,95.8 257.5,97.0 256.4,97.7 255.8,97.1 255.5,95.5 255.4,93.8Z" fill="#78c679"/>
<path d="M290.1,51.4 290.0,51.3 288.9,50.8 288.0,51.8 288.6,52.5 287.2,52.0 287.0,53.0 286.3,54.1 285.3,54.6 284.4,55.4 284.0,53.5 282.6,53.0 282.0,54.3 281.1,55.0 281.2,55.7 282.7,56.6 283.5,57.4 284.5,56.7 286.4,57.3 285.4,58.1 285.2,58.8 284.8,60.0 286.2,61.0 287.7,63.0 289.1,64.1 289.5,65.1 288.6,65.8 290.2,66.4 290.6,68.3 290.0,69.3 289.9,71.2 289.5,72.9 288.9,73.8 288.1,74.7 286.1,75.7 285.5,76.1 284.0,76.9 282.9,77.4 283.0,78.6 282.0,77.0 280.8,76.7 280.4,76.9 279.3,76.6 278.7,75.3 277.2,74.7 276.1,75.6 274.7,75.4 274.4,75.8 274.0,75.7 274.5,77.4 273.9,77.4 272.6,76.9 271.7,76.2 271.7,75.1 270.7,73.6 269.5,73.8 269.3,72.5 269.9,71.3 269.2,69.3 267.8,68.4 266.3,67.0 265.4,67.3 264.6,67.8 263.3,68.8 262.6,68.9 261.1,68.4 260.4,68.6 260.1,69.6 259.8,68.7 259.2,68.8 258.1,68.7 257.1,68.7 256.0,68.0 254.8,67.2 253.7,66.5 252.1,65.7 251.7,65.9 250.6,65.2 249.4,64.6 248.7,63.1 249.2,63.0 248.8,61.2 248.2,61.1 246.8,59.4 245.2,59.1 244.2,58.0 243.5,57.3 243.0,55.8 242.0,55.7 241.6,54.8 241.5,54.3 242.7,53.4 243.7,53.0 244.9,52.4 246.1,51.6 245.8,50.6 246.1,50.4 245.0,48.6 246.6,48.2 246.3,47.8 246.0,46.0 248.1,46.1 247.6,44.7 248.2,44.0 248.5,43.9 248.9,43.8 249.4,44.5 251.5,45.2 253.1,46.6 253.7,48.1 256.2,48.5 258.2,49.2 259.9,51.0 263.1,51.1 264.8,51.2 268.1,52.2 269.8,51.3 271.8,51.0 272.7,49.8 271.9,48.4 273.5,48.6 273.7,48.4 274.9,47.6 275.6,46.8 277.4,46.5 276.9,46.0 275.3,45.1 274.3,45.3 273.0,45.2 272.4,43.2 273.6,43.5 274.2,43.0 272.8,40.3 273.0,39.6 274.9,39.4 277.7,40.3 281.3,43.2 284.7,44.3 286.0,45.4 288.8,44.7 289.9,48.3 288.4,48.4 289.6,50.1 289.8,51.1ZM281.8,80.0 282.3,78.9 283.8,79.1 283.7,80.6 282.9,81.3 282.0,80.8Z" fill="#31a354"/>
<path d="M291.9,72.1 292.5,72.5 292.7,74.4 292.6,76.5 291.5,75.1 291.6,73.1Z" fill="#31a354"/>
<path d="M248.9,43.8 250.0,43.1 251.5,42.3 254.4,43.0 256.8,43.0 256.0,41.9 256.2,40.8 259.5,41.6 260.0,42.4 263.8,42.7 264.7,43.1 268.1,43.7 270.3,42.8 272.4,43.2 273.0,45.2 274.3,45.3 275.3,45.1 276.9,46.0 277.4,46.5 275.6,46.8 274.9,47.6 273.7,48.4 273.5,48.6 271.9,48.4 272.7,49.8 271.8,51.0 269.8,51.3 268.1,52.2 264.8,51.2 263.1,51.1 259.9,51.0 258.2,49.2 256.2,48.5 253.7,48.1 253.1,46.6 251.5,45.2 249.4,44.5Z" fill="#addd8e"/>
<path d="M286.3,54.1 287.4,54.7 287.8,55.7 287.8,56.3 289.3,56.7 289.8,56.1 290.8,55.7 289.1,54.3 290.3,53.0 289.7,52.1 290.1,51.4 290.0,51.3 288.9,50.8 288.0,51.8 288.6,52.5 287.2,52.0 287.0,53.0Z" fill="#addd8e"/>
<path d="M289.3,56.7 290.2,57.6 290.0,58.0 291.0,59.3 291.5,60.6 292.5,60.4 293.5,60.3 293.8,59.8 293.2,58.2 292.5,57.4 290.8,55.7 289.8,56.1ZM292.2,62.1 292.7,61.8 292.6,62.2Z" fill="#31a354"/>
<path d="M296.1,61.2 296.5,60.1 297.1,59.3 299.2,59.3 299.4,58.8 299.2,57.3 300.0,57.9 300.6,57.0 300.8,55.8 300.1,54.1 299.3,52.7 300.1,52.5 301.0,53.5 302.2,54.7 302.3,56.1 303.2,57.6 303.6,58.8 304.1,59.2 303.7,60.0 302.9,60.5 302.4,60.4 301.3,60.5 301.4,60.9 300.9,61.8 299.6,60.9 299.1,60.4 297.8,60.9 297.3,61.4ZM298.9,52.4 297.8,50.4 298.6,50.3 297.1,48.0 299.0,49.0 301.1,49.2 302.3,50.4 301.4,51.8 299.4,51.2 298.6,51.6ZM295.4,62.1 296.2,61.4 297.7,62.5 298.1,64.4 297.7,64.9 297.0,64.6 296.3,63.1ZM297.5,61.6 298.9,60.9 299.7,61.5 299.1,62.2 298.7,62.7 297.8,62.1ZM297.4,71.1 297.7,70.2 297.7,71.0Z" fill="#006837" stroke-width="0.55"/>
<path d="M265.4,78.0 266.9,79.6 268.0,80.9 268.5,84.2 269.5,84.5 270.9,83.0 271.7,83.5 272.2,85.5 272.9,87.5 273.6,89.8 273.8,92.2 274.3,90.8 274.6,89.8 273.9,88.0 272.6,85.6 272.7,83.9 271.0,80.9 271.1,79.5 272.1,78.8 273.1,78.5 273.9,77.4 272.6,76.9 271.7,76.2 271.7,75.1 270.7,73.6 269.5,73.8 269.3,72.5 269.9,71.3 269.2,69.3 267.8,68.4 268.0,69.8 266.3,70.4 266.3,72.0 265.4,73.8 265.9,76.1 265.4,76.4 265.2,77.1Z" fill="#31a354"/>
<path d="M273.8,92.2 273.8,94.4 273.9,95.1 274.9,95.9 275.8,96.9 276.9,97.9 277.8,97.2 276.6,96.3 276.0,95.5 275.5,94.0 274.7,93.1 274.4,91.6 274.9,89.5 274.7,87.6 275.6,87.6 275.7,88.7 277.2,89.2 277.9,90.0 277.3,88.6 277.0,87.4 277.6,86.4 279.6,86.4 279.7,84.6 278.7,83.4 278.4,82.2 277.4,81.2 276.3,81.6 275.6,81.8 274.9,82.2 274.5,79.6 273.7,79.5 273.4,78.6 273.1,78.5 272.1,78.8 271.1,79.5 271.0,80.9 272.7,83.9 272.6,85.6 273.9,88.0 274.6,89.8 274.3,90.8Z" fill="#006837"/>
<path d="M273.1,78.5 273.9,77.4 274.5,77.4 274.0,75.7 274.4,75.8 275.4,76.7 276.8,77.8 277.9,78.9 277.1,79.6 278.6,80.8 280.3,82.9 281.5,84.3 281.9,85.9 280.4,86.3 279.6,86.4 279.7,84.6 278.7,83.4 278.4,82.2 277.4,81.2 276.3,81.6 275.6,81.8 274.9,82.2 274.5,79.6 273.7,79.5 273.4,78.6Z" fill="#31a354"/>
<path d="M280.4,76.9 279.3,76.6 278.7,75.3 277.2,74.7 276.1,75.6 274.7,75.4 274.4,75.8 275.4,76.7 276.8,77.8 277.9,78.9 277.1,79.6 278.6,80.8 280.3,82.9 281.5,84.3 281.9,85.9 282.2,88.2 282.4,89.1 281.3,89.9 280.9,90.0 281.3,91.0 280.2,91.0 279.6,91.6 280.1,92.4 280.3,94.0 280.8,93.5 282.0,91.6 282.9,91.0 284.1,89.8 284.0,88.2 283.3,86.2 282.3,84.1 280.9,82.9 279.9,81.6 279.0,80.3 279.4,78.4 279.9,77.5Z" fill="#006837"/>
<path d="M277.9,90.0 277.3,88.6 277.0,87.4 277.6,86.4 279.6,86.4 280.4,86.3 281.9,85.9 282.2,88.2 282.4,89.1 281.3,89.9 280.9,90.0 281.3,91.0 280.2,91.0 279.6,91.6 278.7,91.4 278.6,90.7 278.0,90.4Z" fill="#006837"/>
<path d="M275.8,96.9 276.9,97.9 277.8,97.2 279.2,99.1 279.3,100.9 280.2,103.7 279.5,103.8 277.2,101.7 276.5,100.2 276.1,98.2ZM285.6,102.9 287.2,103.6 287.3,102.1 288.9,101.3 289.8,99.4 290.4,100.1 291.0,99.8 291.0,98.9 291.8,97.4 292.4,96.2 293.3,97.0 295.0,98.6 294.0,99.8 293.4,100.0 291.5,99.8 291.4,101.6 290.8,102.6 290.8,103.6 288.5,103.6 287.0,104.3 285.9,103.8Z" fill="#006837"/>
<path d="M289.8,99.4 291.0,98.9 291.0,99.8 290.4,100.1Z" fill="#006837"/>
<path d="M279.6,103.6 280.0,103.6 280.0,103.9 279.6,103.9Z" fill="#006837"/>
<path d="M285.6,102.9 285.9,103.8 287.0,104.3 288.5,103.6 290.8,103.6 290.8,102.6 291.4,101.6 291.5,99.8 293.4,100.0 293.7,100.9 294.0,102.6 295.0,104.3 293.8,104.5 293.5,106.7 292.5,107.8 292.2,110.0 291.9,111.0 290.5,111.1 290.4,110.2 288.9,109.9 287.6,110.3 286.1,109.6 286.2,107.9 285.0,105.9 285.0,103.8ZM271.1,98.1 273.3,98.6 274.2,99.8 275.9,101.7 276.4,102.5 277.5,102.9 279.0,104.7 279.8,105.6 279.5,106.9 280.5,108.0 281.9,109.6 281.7,111.7 281.5,113.4 280.3,113.5 280.1,113.0 278.2,111.0 276.9,109.2 276.3,106.9 275.0,105.2 274.7,103.3 273.1,101.3 271.9,99.8ZM280.8,114.7 282.2,113.7 284.0,114.1 286.5,114.2 288.3,114.9 289.9,116.0 289.8,117.3 288.1,116.9 285.5,116.4 283.5,116.1 282.0,115.6ZM290.4,116.5 292.1,116.8 294.4,116.8 296.4,116.9 298.4,116.6 298.1,117.3 295.3,117.6 292.3,117.7 290.5,117.4ZM294.2,118.2 295.9,118.9 295.1,119.4ZM298.5,119.4 299.6,118.1 300.3,117.7 300.3,118.4 299.5,119.3ZM295.2,113.0 295.7,110.3 294.7,109.4 295.3,106.9 295.8,105.3 296.8,103.8 299.0,104.3 301.0,103.4 300.5,105.1 299.0,104.9 297.0,105.1 296.2,106.8 297.5,106.8 299.3,106.8 298.8,107.8 297.7,108.2 298.4,109.9 299.0,111.4 298.7,112.9 297.8,111.9 297.4,110.7 296.9,109.2 296.3,109.5 296.2,111.9 296.1,113.1ZM303.5,103.2 303.9,102.6 304.7,104.3 304.0,105.6 304.3,106.7 303.7,106.0 303.8,104.5ZM301.9,109.9 302.9,109.9 302.9,110.7 301.9,110.6ZM303.9,109.6 306.7,109.9 306.2,110.7 304.0,110.3ZM307.0,106.7 308.5,106.1 310.0,106.7 310.2,109.0 311.2,110.0 312.9,108.4 314.5,108.0 316.9,109.1 316.6,113.5 316.1,117.8 315.1,116.5 313.3,116.9 314.1,115.3 313.7,113.0 311.8,111.8 309.8,110.9 308.8,111.1 308.7,110.0 307.9,109.4 309.6,108.6 308.0,108.3 307.0,107.4ZM281.3,107.9 282.2,107.9 282.6,109.6 281.9,109.6ZM283.5,109.1 284.2,109.2 283.9,109.9ZM273.0,103.7 273.9,104.8 273.5,104.3ZM274.6,106.9 275.3,108.0 274.9,108.0ZM309.9,113.4 310.5,113.1 310.2,114.6ZM306.5,115.7 307.2,115.3 306.9,116.4Z" fill="#006837" stroke-width="0.42"/>
<path d="M300.3,117.7 302.6,116.9 302.1,117.6 300.3,118.4Z" fill="#006837"/>
<path d="M294.1,84.2 293.6,80.9 295.2,80.9 295.9,83.5 295.4,84.6 295.9,86.6 297.0,86.6 298.3,87.1 298.4,88.3 297.4,87.9 296.2,87.2 295.1,87.1 294.8,86.2 294.0,85.5ZM297.6,96.2 298.8,94.0 300.1,93.5 300.6,92.4 301.7,94.2 302.1,96.5 301.6,97.1 301.1,98.1 300.7,97.5 299.6,96.9 299.7,95.6 298.8,95.5ZM298.9,88.8 300.5,90.6 300.3,92.0 299.4,90.8ZM296.8,89.8 297.9,90.2 298.5,91.5 298.4,93.4 297.6,92.6 297.5,91.2 296.9,91.5ZM292.6,94.3 294.5,91.4 294.6,90.4 294.1,91.6 292.8,93.5ZM294.8,87.6 296.0,87.9 295.9,89.2 295.4,88.7Z" fill="#006837" stroke-width="0.65"/>
<path d="M217.7,46.8 219.2,46.2 220.8,46.4 221.3,48.0 220.0,48.1 219.9,49.0 219.3,49.2 220.4,50.4 221.7,50.9 222.0,52.1 222.4,52.7 223.0,54.1 224.0,55.3 224.5,57.2 224.7,57.7 223.5,58.1 222.3,58.0 221.3,57.1 220.2,56.9 219.8,55.9 219.9,54.9 219.8,53.9 220.5,53.6 219.3,52.9 218.5,52.0 217.3,50.6 216.2,49.0 216.3,48.6 217.4,47.6Z" fill="#78c679"/>
<path d="M174.0,59.9 173.3,59.7 171.9,59.8 171.1,58.9 170.6,59.1 169.8,61.2 168.2,62.1 167.4,63.1 166.9,64.3 167.0,65.7 166.4,67.0 165.2,68.3 163.7,69.1 167.8,69.1 167.8,67.8 169.4,66.8 171.3,66.2 172.6,65.1 173.2,63.9 174.9,63.6 174.4,61.8 174.4,60.6Z" fill="#31a354"/>
<path d="M163.7,69.1 167.8,69.1 167.8,71.2 164.6,71.2 164.5,74.4 163.5,75.1 163.4,77.2 159.6,77.2 159.5,77.9 159.7,76.5 160.6,74.2 161.8,71.8 162.3,70.8Z" fill="#78c679"/>
<path d="M159.5,77.9 160.0,79.7 160.3,81.6 159.8,84.1 161.8,83.3 162.9,84.7 164.0,85.8 164.7,84.8 165.5,85.0 166.8,84.9 170.6,84.9 170.5,83.5 169.8,72.5 171.4,72.5 167.8,69.6 167.8,69.1 167.8,71.2 164.6,71.2 164.5,74.4 163.5,75.1 163.4,77.2 159.6,77.2Z" fill="#addd8e"/>
<path d="M174.0,59.9 176.0,58.9 177.2,58.2 178.7,57.9 180.8,57.9 182.6,57.5 183.8,57.7 183.6,59.8 183.5,60.6 182.9,61.5 184.3,63.6 184.9,65.9 185.3,68.3 185.4,70.6 185.6,73.1 187.5,74.4 183.3,77.8 181.6,79.7 180.1,80.1 179.2,80.3 179.1,79.2 177.7,78.6 171.4,72.5 167.8,69.6 167.8,69.1 167.8,67.8 169.4,66.8 171.3,66.2 172.6,65.1 173.2,63.9 174.9,63.6 174.4,61.8 174.4,60.6Z" fill="#78c679"/>
<path d="M183.8,57.7 184.8,57.3 185.9,57.6 185.5,58.3 185.6,59.4 186.1,60.5 185.3,61.0 185.2,61.5 186.6,62.3 186.6,63.2 185.6,64.1 185.4,65.2 184.9,65.9 184.3,63.6 182.9,61.5 183.5,60.6 183.6,59.8Z" fill="#31a354"/>
<path d="M186.6,62.3 188.2,62.6 190.1,63.3 190.6,64.4 192.3,65.1 193.7,65.8 194.6,64.9 194.6,63.3 195.9,62.6 197.3,63.0 199.3,64.1 199.5,67.2 200.1,76.3 200.3,78.9 199.3,78.9 199.3,79.6 191.4,74.5 190.4,75.1 189.7,75.6 187.5,74.4 185.6,73.1 185.4,70.6 185.3,68.3 184.9,65.9 185.4,65.2 185.6,64.1 186.6,63.2Z" fill="#78c679"/>
<path d="M199.3,64.1 201.4,64.6 203.0,65.1 204.2,64.3 205.0,64.2 206.0,64.6 207.8,64.6 208.7,66.8 208.5,68.7 208.4,69.0 207.7,68.4 206.5,66.2 206.6,66.8 207.6,68.9 208.3,70.6 210.0,73.8 210.4,74.8 211.6,76.3 200.1,76.3 199.5,67.2Z" fill="#31a354"/>
<path d="M211.6,76.3 212.0,77.6 212.3,79.6 213.7,81.6 212.2,82.7 211.9,85.2 212.0,86.4 211.7,88.6 210.7,89.8 210.6,91.1 210.0,91.4 209.9,92.8 208.8,91.4 208.8,89.2 208.4,89.4 207.5,91.6 206.5,92.4 205.3,92.4 203.8,93.0 202.4,92.8 200.8,91.8 199.9,93.9 199.4,93.5 199.4,92.3 198.7,91.0 198.7,90.3 198.2,88.7 197.5,88.6 197.9,87.2 198.2,86.7 198.5,84.6 199.6,84.6 199.3,79.6 199.3,78.9 200.3,78.9 200.1,76.3Z" fill="#d9f0a3"/>
<path d="M199.9,93.9 200.8,91.8 202.4,92.8 203.8,93.0 205.3,92.4 206.5,92.4 207.5,91.6 208.4,89.4 208.8,89.2 208.8,91.4 209.9,92.8 209.9,94.0 209.5,94.3 208.9,95.1 209.9,95.5 210.6,96.6 211.2,98.3 211.8,98.5 211.9,99.4 210.0,99.9 208.7,100.6 207.9,100.8 206.8,100.9 206.2,100.3 205.5,99.7 204.4,99.8 203.4,98.8 202.3,96.7 201.1,95.4Z" fill="#addd8e"/>
<path d="M159.8,84.1 158.8,85.9 159.4,87.4 160.7,87.2 162.4,87.5 162.4,87.9 160.7,87.8 159.5,88.0 159.5,89.0 161.2,88.9 162.5,88.6 163.8,89.1 164.7,89.0 164.6,87.8 164.0,85.8 162.9,84.7 161.8,83.3Z" fill="#78c679"/>
<path d="M159.4,87.4 160.7,87.2 162.4,87.5 162.4,87.9 160.7,87.8 159.5,88.0Z" fill="#006837"/>
<path d="M159.5,89.0 161.2,88.9 162.5,88.6 162.4,89.9 161.1,90.8 160.2,90.0Z" fill="#addd8e"/>
<path d="M161.0,90.9 162.4,89.9 162.5,88.6 163.8,89.1 164.7,89.0 165.4,89.6 166.8,89.0 167.8,90.6 168.1,91.9 168.3,93.4 167.8,94.6 167.5,95.4 166.7,95.6 166.5,94.3 165.8,94.2 165.5,93.4 164.9,92.2 163.6,92.3 162.8,93.4 162.4,92.8 161.5,91.6Z" fill="#addd8e"/>
<path d="M162.8,93.4 163.6,92.3 164.9,92.2 165.5,93.4 165.8,94.2 164.5,96.2 163.6,95.6 162.9,94.3Z" fill="#78c679"/>
<path d="M164.5,96.2 165.8,94.2 166.5,94.3 166.7,95.6 167.5,95.4 167.7,97.0 168.5,97.7 168.5,99.7 167.0,98.9 165.2,97.1Z" fill="#addd8e"/>
<path d="M168.5,99.7 168.5,97.7 167.7,97.0 167.5,95.4 167.8,94.6 168.3,93.4 168.1,91.9 169.9,91.4 170.5,91.6 171.3,92.6 173.2,92.4 173.3,92.8 173.5,94.6 172.8,96.5 173.2,98.7 172.9,98.7 171.0,98.7Z" fill="#addd8e"/>
<path d="M172.9,98.7 173.2,98.7 172.8,96.5 173.5,94.6 173.3,92.8 173.2,92.4 173.2,90.8 175.9,90.7 176.3,91.8 176.5,94.2 176.6,96.5 177.2,97.4 176.0,97.9 174.0,99.2Z" fill="#78c679"/>
<path d="M177.2,97.4 176.6,96.5 176.5,94.2 176.3,91.8 175.9,90.7 176.9,90.8 176.8,91.6 177.4,93.1 177.6,97.3Z" fill="#78c679"/>
<path d="M177.6,97.3 177.4,93.1 176.8,91.6 176.9,90.8 177.4,90.2 178.4,89.6 178.4,89.1 179.6,89.9 179.6,91.9 178.8,93.5 178.7,97.0Z" fill="#78c679"/>
<path d="M170.5,91.6 170.8,89.8 171.7,88.6 172.1,87.6 172.8,87.2 174.0,86.6 175.3,85.4 176.2,85.6 176.4,86.8 177.0,87.6 178.1,88.6 178.4,89.1 178.4,89.6 177.4,90.2 176.9,90.8 175.9,90.7 173.2,90.8 173.2,92.4 171.3,92.6Z" fill="#addd8e"/>
<path d="M164.0,85.8 164.6,87.8 164.7,89.0 165.4,89.6 166.8,89.0 167.8,90.6 168.1,91.9 169.9,91.4 170.5,91.6 170.8,89.8 171.7,88.6 172.1,87.6 172.8,87.2 174.0,86.6 175.3,85.4 176.2,85.6 177.3,85.1 179.4,85.0 180.1,83.5 180.1,80.1 179.2,80.3 179.1,79.2 177.7,78.6 171.4,72.5 169.8,72.5 170.5,83.5 170.6,84.9 166.8,84.9 165.5,85.0 164.7,84.8Z" fill="#addd8e"/>
<path d="M176.2,85.6 176.4,86.8 177.0,87.6 178.1,88.6 178.4,89.1 179.6,89.9 180.0,87.5 182.8,88.2 184.4,88.0 185.4,88.4 188.3,88.0 189.4,87.2 189.3,86.2 191.2,83.0 191.2,80.3 191.4,78.4 190.4,75.1 189.7,75.6 187.5,74.4 183.3,77.8 181.6,79.7 180.1,80.1 180.1,83.5 179.4,85.0 177.3,85.1Z" fill="#d9f0a3"/>
<path d="M178.7,97.0 180.5,97.1 181.5,98.6 182.0,99.8 183.5,99.5 184.5,99.4 184.9,97.8 186.0,96.3 187.3,96.7 187.8,96.2 188.2,94.2 189.1,92.8 189.7,90.8 190.5,90.2 190.0,89.0 189.9,88.0 189.4,87.2 188.3,88.0 185.4,88.4 184.4,88.0 182.8,88.2 180.0,87.5 179.6,89.9 179.6,91.9 178.8,93.5Z" fill="#78c679"/>
<path d="M184.5,99.4 185.5,100.3 185.8,102.6 187.3,102.6 189.3,102.6 190.5,102.6 192.1,103.3 192.2,102.6 191.8,101.4 191.0,100.2 190.5,98.9 190.6,97.3 191.4,95.5 190.9,94.0 189.8,92.7 190.1,92.2 191.4,92.2 190.9,91.0 190.9,89.5 190.4,88.6 189.9,88.0 190.0,89.0 190.5,90.2 189.7,90.8 189.1,92.8 188.2,94.2 187.8,96.2 187.3,96.7 186.0,96.3 184.9,97.8Z" fill="#78c679"/>
<path d="M185.8,102.6 187.3,102.6 187.3,104.3 185.6,104.3ZM184.5,100.6 184.9,100.6 184.7,101.2Z" fill="#addd8e"/>
<path d="M185.6,104.3 187.3,104.3 187.3,102.6 189.3,102.6 189.2,103.8 190.4,103.8 190.5,106.4 189.9,108.8 188.8,108.2 187.6,108.8 187.9,110.6 187.1,110.9 185.6,108.8 184.8,106.5 185.3,105.2Z" fill="#d9f0a3"/>
<path d="M187.1,110.9 187.9,110.6 187.6,108.8 188.8,108.2 189.9,108.8 190.5,106.4 190.4,103.8 189.2,103.8 189.3,102.6 190.5,102.6 192.1,103.3 192.2,102.6 192.6,100.9 194.6,100.9 194.1,102.5 193.8,105.2 193.7,106.4 192.2,108.6 191.9,110.9 191.3,111.4 190.4,112.2 189.4,112.2 189.1,111.8 188.8,111.5 188.0,112.3 187.8,111.8Z" fill="#addd8e"/>
<path d="M188.2,113.4 188.5,113.3 189.1,111.8 189.4,112.2 190.4,112.2 191.3,111.4 191.9,110.9 192.2,108.6 193.7,106.4 193.8,105.2 194.1,102.5 194.6,100.9 195.5,98.7 196.9,99.7 198.4,100.1 198.9,99.1 200.4,98.7 201.3,98.9 203.4,98.8 204.4,99.8 205.5,99.7 206.2,100.3 206.8,100.9 206.7,102.4 207.3,102.7 206.5,104.0 205.9,104.5 205.6,106.3 205.6,107.5 205.2,107.9 205.3,109.1 205.0,109.4 205.2,110.0 205.2,111.5 205.4,111.6 205.2,113.0 205.5,114.6 206.5,116.6 204.7,117.0 204.2,118.0 204.4,120.0 204.1,121.4 204.7,122.2 205.2,122.0 205.4,123.6 204.6,123.6 203.7,122.2 202.9,121.2 201.7,121.6 201.1,120.6 200.2,120.9 199.8,120.2 198.0,120.6 198.1,119.7 197.7,118.4 197.8,116.6 197.7,115.4 196.4,115.4 196.2,114.9 195.4,115.0 194.9,116.4 193.5,116.5 192.8,115.3 192.6,113.5 189.4,113.5 188.4,113.7Z" fill="#d9f0a3"/>
<path d="M188.4,113.7 189.4,113.5 192.6,113.5 192.8,115.3 193.5,116.5 194.9,116.4 195.4,115.0 196.2,114.9 196.4,115.4 197.7,115.4 197.8,116.6 197.7,118.4 198.1,119.7 198.0,120.6 199.8,120.2 199.7,123.0 197.7,123.0 197.6,127.3 198.9,129.1 196.9,129.6 194.0,128.9 189.9,128.9 189.1,128.3 187.5,128.7 187.6,127.8 187.9,125.7 188.3,123.7 189.2,122.4 189.7,120.0 189.3,117.4 188.8,115.4ZM188.0,112.3 188.8,111.5 189.1,111.8 188.5,113.3 188.2,113.4Z" fill="#addd8e"/>
<path d="M199.8,120.2 199.7,123.0 197.7,123.0 197.6,127.3 198.9,129.1 200.7,129.4 202.4,129.6 204.4,127.0 205.9,126.5 205.7,125.6 208.7,124.4 208.4,123.7 208.6,122.2 209.0,120.1 208.7,118.2 207.0,117.2 206.5,116.6 204.7,117.0 204.2,118.0 204.4,120.0 204.1,121.4 204.7,122.2 205.2,122.0 205.4,123.6 204.6,123.6 203.7,122.2 202.9,121.2 201.7,121.6 201.1,120.6 200.2,120.9Z" fill="#addd8e"/>
<path d="M187.5,128.7 188.2,130.9 189.0,133.4 190.0,135.8 189.9,137.4 190.2,140.6 191.5,143.3 192.4,143.4 193.9,143.7 194.8,143.0 195.1,138.5 195.3,134.9 196.3,134.9 196.5,130.0 198.8,129.6 199.8,129.6 200.7,129.4 198.9,129.1 196.9,129.6 194.0,128.9 189.9,128.9 189.1,128.3Z" fill="#78c679"/>
<path d="M195.1,138.5 195.3,134.9 196.3,134.9 196.5,130.0 198.8,129.6 199.8,129.6 200.7,129.4 200.7,130.4 201.4,132.1 202.9,132.9 202.8,133.7 203.4,134.3 204.3,135.1 202.9,135.9 201.9,137.0 200.8,138.3 199.6,139.7 197.9,139.1 196.9,140.5 195.7,141.1Z" fill="#addd8e"/>
<path d="M191.5,143.3 191.9,145.0 192.5,148.4 192.9,149.8 192.9,150.4 194.3,150.9 196.2,150.1 198.0,150.1 199.6,150.0 201.3,149.1 202.9,147.5 204.5,145.7 205.1,144.8 206.5,143.2 207.2,141.1 206.4,141.1 205.6,141.6 205.3,141.3 205.3,140.5 205.8,139.7 206.4,140.0 206.5,137.8 206.2,135.4 204.9,135.2 204.3,135.1 202.9,135.9 201.9,137.0 200.8,138.3 199.6,139.7 197.9,139.1 196.9,140.5 195.7,141.1 195.1,138.5 194.8,143.0 193.9,143.7 192.4,143.4Z" fill="#78c679"/>
<path d="M201.3,144.5 202.3,143.4 203.2,143.5 203.6,144.4 203.0,145.2 202.2,145.8 201.6,145.4Z" fill="#78c679"/>
<path d="M205.3,140.5 205.8,139.7 206.4,140.0 206.4,141.1 205.6,141.6 205.3,141.3Z" fill="#78c679"/>
<path d="M200.7,129.4 202.4,129.6 204.4,127.0 205.9,126.5 206.7,127.0 208.2,127.9 208.2,129.6 207.9,130.8 208.1,132.0 207.5,133.0 207.3,133.9 206.2,135.4 204.9,135.2 204.3,135.1 203.4,134.3 202.8,133.7 202.9,132.9 201.4,132.1 200.7,130.4Z" fill="#addd8e"/>
<path d="M207.2,141.1 207.0,139.9 208.0,139.0 210.0,137.4 210.2,135.1 209.9,132.9 209.7,132.0 212.0,129.5 214.2,128.1 215.9,126.3 216.2,124.8 216.0,122.5 216.1,119.7 214.1,120.9 212.1,121.3 210.7,121.2 210.2,123.0 210.8,124.9 211.3,125.6 211.1,127.0 210.6,128.5 209.7,127.0 210.0,125.3 208.7,124.4 205.7,125.6 205.9,126.5 206.7,127.0 208.2,127.9 208.2,129.6 207.9,130.8 208.1,132.0 207.5,133.0 207.3,133.9 206.2,135.4 206.5,137.8 206.4,140.0 206.4,141.1Z" fill="#addd8e"/>
<path d="M208.7,118.2 209.1,118.4 209.8,118.4 210.3,119.7 210.7,121.2 210.2,123.0 210.8,124.9 211.3,125.6 211.1,127.0 210.6,128.5 209.7,127.0 210.0,125.3 208.7,124.4 208.4,123.7 208.6,122.2 209.0,120.1Z" fill="#addd8e"/>
<path d="M216.1,119.7 215.6,117.7 215.1,115.7 215.4,114.7 214.7,113.7 215.1,111.9 213.7,110.3 213.6,109.6 210.0,106.9 206.5,106.9 206.8,108.7 206.5,108.8 206.8,110.0 206.4,110.7 205.9,111.5 205.4,111.6 205.2,113.0 205.5,114.6 206.5,116.6 207.0,117.2 208.7,118.2 209.1,118.4 209.8,118.4 210.3,119.7 210.7,121.2 212.1,121.3 214.1,120.9ZM215.1,113.4 215.5,114.1 215.2,114.2Z" fill="#78c679"/>
<path d="M215.1,111.9 215.7,111.0 216.2,109.2 217.5,107.9 217.0,106.7 217.0,101.8 217.9,100.3 215.5,101.0 214.1,100.8 212.8,99.7 211.9,99.4 210.0,99.9 210.5,101.3 211.0,103.0 210.5,104.1 210.0,105.2 209.9,106.9 213.6,109.6 213.7,110.3Z" fill="#006837"/>
<path d="M205.6,107.5 205.6,106.3 205.9,104.5 206.5,104.0 207.3,102.7 206.7,102.4 206.8,100.9 207.9,100.8 208.7,100.6 210.0,99.9 210.5,101.3 211.0,103.0 210.5,104.1 210.0,105.2 209.9,106.9 206.5,106.9Z" fill="#78c679"/>
<path d="M205.6,107.5 206.5,106.9 206.8,108.7 206.5,108.8 205.9,109.2 205.0,109.4 205.3,109.1 205.2,107.9Z" fill="#31a354"/>
<path d="M205.0,109.4 205.9,109.2 206.5,108.8 206.8,110.0 206.4,110.7 205.9,111.5 205.4,111.6 205.2,111.5 205.2,110.0Z" fill="#78c679"/>
<path d="M217.5,107.9 218.6,105.9 220.0,104.3 221.3,102.9 223.6,99.8 224.9,97.3 225.9,94.6 226.5,92.8 226.7,91.6 226.8,89.8 226.3,89.5 224.5,90.4 222.6,90.7 220.6,91.5 219.7,91.6 218.8,90.2 218.5,90.9 219.3,93.0 219.7,93.5 220.8,94.0 222.8,94.8 223.8,94.8 220.9,98.9 219.8,99.0 218.8,99.8 217.9,100.3 217.0,101.8 217.0,106.7Z" fill="#78c679"/>
<path d="M218.8,90.2 218.5,90.9 217.4,90.8 217.4,89.9 217.9,88.9 218.6,88.6 218.9,89.5 218.3,90.0Z" fill="#31a354"/>
<path d="M218.6,88.6 217.9,88.9 217.2,87.8 216.2,86.6 214.5,86.0 213.3,85.8 212.9,86.6 212.0,86.4 211.9,85.2 212.2,82.7 213.7,81.6 214.4,83.5 214.8,84.7 215.9,85.8 216.6,86.2 217.7,87.6Z" fill="#addd8e"/>
<path d="M217.9,88.9 217.4,89.9 217.4,90.8 218.5,90.9 219.3,93.0 219.7,93.5 220.8,94.0 222.8,94.8 223.8,94.8 220.9,98.9 219.8,99.0 218.8,99.8 217.9,100.3 215.5,101.0 214.1,100.8 212.8,99.7 211.9,99.4 211.8,98.5 211.2,98.3 210.6,96.6 209.9,95.5 208.9,95.1 209.5,94.3 209.9,94.0 209.9,92.8 210.0,91.4 210.6,91.1 210.7,89.8 211.7,88.6 212.0,86.4 212.9,86.6 213.3,85.8 214.5,86.0 216.2,86.6 217.2,87.8Z" fill="#addd8e"/>
<path d="M191.4,95.5 190.6,97.3 190.5,98.9 191.0,100.2 191.8,101.4 192.2,102.6 192.6,100.9 194.6,100.9 195.5,98.7 196.9,99.7 198.4,100.1 198.9,99.1 200.4,98.7 201.3,98.9 203.4,98.8 202.3,96.7 201.1,95.4 199.9,93.9 199.4,93.5 199.4,92.3 198.7,91.0 197.8,91.2 197.5,91.4 196.3,93.4 194.9,93.5 194.8,93.8 193.6,95.0 192.5,95.2Z" fill="#d9f0a3"/>
<path d="M189.4,87.2 189.9,88.0 190.4,88.6 190.9,89.5 190.9,91.0 191.4,92.2 190.1,92.2 189.8,92.7 190.9,94.0 191.4,95.5 192.5,95.2 193.6,95.0 194.8,93.8 194.9,93.5 196.3,93.4 197.5,91.4 197.8,91.2 198.7,91.0 198.7,90.3 198.2,88.7 197.5,88.6 197.9,87.2 198.2,86.7 198.5,84.6 199.6,84.6 199.3,79.6 191.4,74.5 190.4,75.1 191.4,78.4 191.2,80.3 191.2,83.0 189.3,86.2Z" fill="#d9f0a3"/>
<path d="M224.8,121.7 225.6,126.2 224.8,128.1 224.5,129.0 223.0,132.9 221.1,138.5 219.1,139.4 218.0,138.6 217.8,135.1 219.1,132.3 219.0,129.0 220.7,126.9 221.8,126.3 223.2,125.2 224.2,123.4Z" fill="#addd8e"/>
<path d="M218.8,120.9 219.1,120.9 219.1,121.6 218.8,121.6Z" fill="#31a354"/>
<path d="M231.6,132.3 232.1,132.3 232.0,132.9 231.6,132.9Z" fill="#31a354"/>
<path d="M229.5,133.4 230.0,133.4 230.0,134.1 229.4,134.1Z" fill="#31a354"/>
<path d="M152.4,85.5 153.0,85.2 152.9,85.6ZM151.2,82.9 151.6,82.7 151.5,83.1Z" fill="#31a354"/>
<path d="M182.5,105.1 182.8,105.1 182.6,105.6Z" fill="#31a354"/>
<path d="M317.3,120.0 317.8,122.8 317.6,124.9 318.9,125.7 318.5,127.7 318.4,130.8 320.1,132.5 320.3,134.2 320.9,136.5 321.7,138.5 321.7,140.0 320.6,143.3 318.4,146.3 316.8,148.1 314.9,149.7 311.9,153.0 310.9,154.2 308.8,154.6 306.5,156.1 305.8,155.1 304.1,155.7 302.6,155.2 302.0,154.2 302.7,152.1 302.0,151.9 302.2,150.6 301.4,151.4 303.0,149.0 303.3,148.2 300.2,150.9 299.8,151.1 299.7,148.7 299.6,147.6 297.9,146.9 295.7,147.1 292.6,147.9 290.3,148.7 289.3,149.8 286.1,149.8 283.7,151.2 281.9,151.1 281.4,150.4 283.2,147.5 283.6,145.0 284.0,141.9 283.6,140.1 284.6,138.1 285.5,135.6 286.2,134.6 287.8,133.6 289.4,133.0 291.6,132.3 293.6,131.7 295.3,129.6 295.7,128.3 296.8,128.7 297.3,127.3 298.9,126.1 300.2,124.4 301.7,124.4 302.2,125.4 303.4,125.6 304.1,123.7 305.0,122.2 307.3,120.6 308.1,121.4 310.1,121.7 311.3,122.0 310.2,123.7 309.3,125.7 310.5,126.7 311.7,128.1 313.3,129.1 314.4,127.0 315.5,124.4 316.1,122.4ZM303.7,157.9 304.9,158.4 306.8,158.0 305.6,159.6 304.0,160.8 303.1,161.2 302.5,161.0 302.9,159.6ZM300.2,152.0 301.4,152.1 300.7,152.5 300.0,152.4ZM305.0,120.9 306.1,120.8 305.5,121.4ZM310.5,124.1 310.9,124.4 310.6,124.8Z" fill="#31a354"/>
<path d="M334.1,150.4 334.8,151.5 334.7,153.1 334.2,154.3 336.0,154.3 336.4,154.4 334.4,156.2 333.4,156.5 332.3,157.7 329.8,159.0 329.6,158.6 331.2,157.1 330.7,156.3 331.9,155.7 333.4,153.9 333.8,152.7 333.7,151.4ZM328.6,157.7 328.8,159.1 327.5,160.0 325.7,161.1 325.5,161.6 323.5,162.0 321.4,163.8 319.6,164.6 318.6,164.6 317.5,164.1 318.1,163.5 320.8,161.9 323.1,161.1 325.4,159.9 327.7,158.2ZM317.7,164.8 318.1,164.9 317.4,165.3Z" fill="#31a354" stroke-width="0.4"/>
<path d="M316.9,109.1 318.4,109.9 320.3,110.7 321.5,112.2 322.5,113.5 323.3,114.6 322.5,114.7 322.8,116.2 323.6,117.7 325.7,119.3 324.6,119.7 322.7,119.0 322.0,118.1 321.3,116.6 319.9,115.8 318.8,116.6 317.6,118.0 316.1,117.8 316.6,113.5ZM324.0,113.1 325.7,112.5 327.3,111.3 328.1,111.4 327.5,113.0 325.9,113.9 324.1,113.9ZM326.6,109.1 327.1,109.2 328.8,111.5 328.6,112.1 327.8,110.6ZM330.4,113.0 331.4,114.7 330.7,114.5ZM322.5,108.3 323.3,108.3 322.9,108.7Z" fill="#addd8e"/>
<path d="M334.7,118.2 335.6,118.9 335.3,118.2ZM335.9,116.9 336.2,118.4 335.9,118.1ZM333.6,115.7 335.0,116.9 334.5,116.9ZM332.0,114.6 332.9,115.6 332.4,115.4ZM336.0,119.4 336.9,120.1 336.3,119.8Z" fill="#addd8e" stroke-width="0.5"/>
<path d="M339.9,125.7 340.3,126.3 339.9,126.9ZM340.4,129.1 340.7,129.2 340.4,129.5ZM340.1,127.3 340.5,127.7 340.1,127.8Z" fill="#addd8e" stroke-width="0.6"/>
<path d="M335.2,132.4 336.7,134.7 336.9,135.4 336.3,135.2 335.2,133.2Z" fill="#31a354" stroke-width="0.5"/>
<path d="M349.3,129.1 350.6,129.0 350.2,129.9 349.1,129.9ZM351.0,128.1 352.5,127.4 352.2,127.9Z" fill="#31a354" stroke-width="0.6"/>
<path d="M5.6,123.7 6.1,123.7 6.9,124.2 6.5,124.4Z" fill="#31a354"/>
<path d="M6.4,133.7 6.6,133.7 6.7,133.9Z" fill="#31a354"/>
<path d="M29.7,129.0 30.2,129.1 30.1,129.5Z" fill="#31a354"/>
<path d="M18.5,103.2 18.8,103.0 18.7,103.3Z" fill="#31a354"/>
<path d="M98.2,46.4 101.0,45.1 102.7,44.3 104.7,45.2 104.3,46.6 102.3,46.7 99.8,46.5ZM98.9,52.1 99.7,52.1 101.0,50.6 103.6,47.5 102.3,47.5 100.4,49.0ZM104.0,47.3 105.4,47.2 107.8,47.5 107.5,48.6 105.1,50.4 104.4,50.5 103.9,49.5 104.8,48.1ZM102.9,52.0 104.9,52.2 107.3,50.9 106.3,51.0 103.9,51.6ZM106.8,50.3 109.2,50.3 110.2,49.5 108.6,49.6 107.3,49.7Z" fill="#fff" stroke-width="0.45"/>
<path d="M72.7,37.9 72.6,37.7 72.5,37.4 72.5,37.2 72.4,36.9 72.4,36.7 72.4,36.4 72.4,36.1 72.4,35.8 72.4,35.6 72.3,35.3 72.3,35.1 72.3,34.9" fill="none" stroke="#000" stroke-width="1.7" stroke-linecap="round"/><path d="M72.9,43.2 72.7,42.8 72.5,42.3 72.3,41.9 72.1,41.4 72.2,40.9 72.2,40.4 72.3,39.9 72.3,39.4 72.4,39.1 72.5,38.8 72.6,38.4 72.7,38.1" fill="none" stroke="#000" stroke-width="0.7" stroke-linecap="round"/><path d="M111.4,159.4 111.6,160.3 111.8,161.1 112.0,162.0 112.2,162.8 112.4,163.6 112.6,164.5 112.9,165.3 113.1,166.1 113.5,166.8 113.8,167.4 114.2,168.1 114.6,168.7 115.1,169.3 115.7,169.9 116.2,170.5 116.8,171.1 117.5,171.5 118.2,171.9 118.9,172.2 119.5,172.6 120.3,172.9 121.0,173.2 121.8,173.5 122.5,173.8" fill="none" stroke="#000" stroke-width="1.0" stroke-linecap="round"/><path d="M179.9,33.2 180.0,32.8 180.0,32.3 180.0,31.9 180.1,31.5 180.6,31.1 181.1,30.7 181.6,30.3 182.2,30.0 182.7,29.7 183.2,29.4 183.7,29.1 184.2,28.8 184.5,28.4 184.8,28.1 185.1,27.7 185.4,27.3 185.8,27.0 186.2,26.7 186.6,26.4 187.0,26.1 187.6,25.9 188.3,25.7 188.9,25.5 189.6,25.3 190.2,25.2 190.9,25.0 191.5,24.8 192.1,24.7" fill="none" stroke="#000" stroke-width="0.55" stroke-linecap="round"/><path d="M171.3,36.9 171.2,36.6 171.1,36.2 171.1,35.9 171.0,35.5 171.2,35.3 171.4,35.1 171.6,34.9 171.8,34.7" fill="none" stroke="#000" stroke-width="0.6" stroke-linecap="round"/><path d="M197.5,56.4 197.9,56.7 198.3,57.0 198.6,57.3 199.0,57.6 199.2,57.2 199.4,56.7 199.5,56.3 199.7,55.8 199.3,55.5 198.9,55.1 198.6,54.7 198.2,54.3" fill="none" stroke="#000" stroke-width="0.5" stroke-linecap="round"/>
</g>
<g font-size="5.3" fill="#111"><text x="38.8" y="286.7">Proportion (%)</text>
<rect x="38.9" y="291.40" width="9.9" height="5.1" fill="#b2b2b2" stroke="#333" stroke-width="0.45"/><text x="50.8" y="295.80">No data</text>
<rect x="38.9" y="299.16" width="9.9" height="5.1" fill="#d9f0a3" stroke="#333" stroke-width="0.45"/><text x="50.8" y="303.56">0-20</text>
<rect x="38.9" y="306.92" width="9.9" height="5.1" fill="#addd8e" stroke="#333" stroke-width="0.45"/><text x="50.8" y="311.32">20-40</text>
<rect x="38.9" y="314.68" width="9.9" height="5.1" fill="#78c679" stroke="#333" stroke-width="0.45"/><text x="50.8" y="319.08">40-60</text>
<rect x="38.9" y="322.44" width="9.9" height="5.1" fill="#31a354" stroke="#333" stroke-width="0.45"/><text x="50.8" y="326.84">60-80</text>
<rect x="38.9" y="330.20" width="9.9" height="5.1" fill="#006837" stroke="#333" stroke-width="0.45"/><text x="50.8" y="334.60">80-100</text>
</g>
<g transform="translate(330.8,170.6)" clip-path="url(#mclip)" stroke="#000" stroke-width="0.26" stroke-linejoin="round">
<path d="M295.6,24.3 296.2,24.3 297.0,24.7 295.9,24.6ZM159.5,77.9 159.7,76.5 160.6,74.2 162.3,70.8 163.7,69.1 165.2,68.3 166.4,67.0 167.0,65.7 166.9,64.3 167.4,63.1 168.2,62.1 169.8,61.2 170.6,59.1 171.1,58.9 171.9,59.8 173.3,59.7 174.0,59.9 176.0,58.9 177.2,58.2 178.7,57.9 180.8,57.9 182.6,57.5 183.8,57.7 184.8,57.3 185.9,57.6 185.5,58.3 185.6,59.4 186.1,60.5 185.3,61.0 185.2,61.5 186.6,62.3 188.2,62.6 190.1,63.3 190.6,64.4 192.3,65.1 193.7,65.8 194.6,64.9 194.6,63.3 195.9,62.6 197.3,63.0 199.3,64.1 201.4,64.6 203.0,65.1 204.2,64.3 205.0,64.2 206.0,64.6 207.8,64.6 208.2,63.7 208.3,62.3 208.9,60.4 208.6,58.9 208.7,58.1 208.1,58.1 207.2,57.9 206.4,58.7 203.6,57.9 203.5,58.5 202.2,58.1 201.3,58.0 200.6,57.6 200.4,56.0 199.6,56.1 199.9,55.3 199.2,54.7 199.2,54.1 200.3,53.6 201.6,53.6 201.7,52.7 203.5,52.8 205.1,51.8 206.6,51.7 208.1,52.6 209.9,52.9 211.6,52.8 212.5,52.3 212.5,51.8 212.1,51.0 208.9,49.1 207.7,48.5 207.5,48.1 208.0,48.0 208.3,47.3 208.4,46.6 209.1,46.1 208.3,46.0 205.7,47.1 207.2,48.1 204.8,49.0 203.8,48.0 204.5,47.3 202.1,46.7 201.4,48.1 200.7,49.8 200.5,51.8 201.5,52.6 201.5,52.9 200.2,53.0 199.6,53.6 198.9,53.3 197.5,53.0 197.2,53.7 196.3,53.6 196.0,54.1 196.8,55.0 196.4,55.5 197.5,56.2 196.8,56.6 196.9,57.3 196.6,58.2 196.3,58.2 195.6,57.9 195.0,56.7 194.9,56.0 194.5,55.3 194.0,54.4 193.2,53.7 193.0,51.9 192.1,51.2 189.9,50.1 189.1,49.3 188.8,48.3 188.2,48.2 187.9,48.6 187.5,48.0 187.7,47.7 186.5,48.1 186.7,49.2 187.8,50.1 188.8,51.6 190.0,51.9 190.0,52.4 191.8,53.3 192.4,53.7 192.3,54.2 191.0,53.5 190.7,54.4 191.2,55.3 190.8,56.0 190.0,56.4 190.3,55.5 189.9,54.1 188.7,53.4 188.1,52.7 186.7,52.0 185.1,50.8 184.8,49.6 183.6,49.1 181.4,50.5 179.9,50.2 178.6,50.4 178.8,51.3 178.8,51.9 177.9,52.6 176.4,53.5 175.7,54.8 176.2,55.5 175.6,56.2 175.3,56.9 174.2,57.9 172.0,58.0 171.1,58.7 169.3,57.4 168.0,57.6 168.1,56.0 167.5,55.6 168.1,53.9 168.3,51.9 167.9,50.6 169.1,49.8 171.0,49.9 172.7,50.1 174.4,50.2 175.0,48.8 175.0,47.1 173.9,45.9 172.4,45.3 172.1,44.7 173.5,44.3 174.7,44.4 174.4,43.3 175.0,43.6 176.2,43.3 177.2,42.9 177.3,42.2 178.8,41.5 179.2,40.9 179.8,39.9 180.8,39.5 181.7,39.4 183.1,39.0 182.8,38.0 182.5,37.9 182.3,36.0 184.1,35.3 184.0,36.5 184.5,36.7 183.7,37.7 183.5,38.1 184.8,38.9 185.7,38.6 187.3,39.0 189.1,38.4 190.5,38.1 190.8,38.4 191.7,38.5 191.8,38.0 192.6,37.6 192.5,36.9 192.5,35.6 193.4,35.3 194.8,35.8 194.8,35.1 193.9,34.4 193.8,33.9 195.4,33.6 197.3,33.7 197.9,33.3 198.8,33.3 197.4,32.8 196.8,32.8 193.2,33.3 191.9,32.3 191.7,30.8 193.6,29.5 194.1,29.0 193.1,28.4 191.6,28.4 191.1,29.4 188.9,31.1 188.9,32.3 190.2,33.4 189.0,34.4 188.8,35.5 188.5,36.8 187.2,37.4 186.2,37.5 186.0,36.8 185.3,36.0 184.7,34.8 184.7,34.1 184.0,34.1 182.1,35.0 180.2,34.3 179.7,32.8 179.7,31.5 181.1,30.6 183.2,29.8 184.2,29.0 185.2,27.8 186.4,26.5 188.3,25.5 190.2,25.2 192.8,24.6 194.8,24.6 197.0,25.1 197.1,25.6 200.7,25.9 204.1,26.9 204.8,27.7 203.2,28.1 199.2,27.8 201.0,29.4 202.8,29.9 203.4,29.6 205.1,29.3 204.4,28.5 205.6,27.9 207.1,28.1 206.5,27.1 206.5,26.4 207.8,26.6 208.6,27.5 209.4,27.0 212.6,26.5 213.4,26.6 217.5,26.0 217.1,25.4 219.8,25.8 223.0,26.5 221.6,25.6 221.0,24.6 221.1,23.5 221.9,23.3 223.8,23.5 224.7,24.6 225.4,26.0 226.8,27.4 227.2,27.1 227.0,26.3 225.7,24.6 225.4,23.5 227.7,23.9 228.7,23.1 229.6,24.0 231.7,24.6 232.2,25.1 230.9,23.0 232.1,22.9 232.2,22.4 233.7,22.0 236.6,21.7 239.6,21.5 241.6,20.9 243.8,21.3 247.2,21.5 248.8,22.0 246.8,22.7 249.1,23.0 253.4,23.2 257.0,23.0 258.8,23.1 260.0,23.7 262.3,24.4 264.1,24.8 266.1,24.2 268.8,24.3 268.6,23.7 272.7,23.8 278.8,24.7 282.2,24.7 284.9,25.5 289.2,25.6 291.4,25.3 292.9,26.0 293.6,25.4 295.8,25.5 299.4,26.0 304.7,28.9 303.9,29.3 303.4,29.2 307.2,30.6 307.7,31.2 305.5,31.6 304.9,32.8 304.4,33.3 300.8,32.9 300.4,33.4 300.2,34.1 300.4,35.1 301.5,35.2 303.6,36.8 304.2,38.1 304.5,39.7 304.4,40.9 304.2,41.9 301.1,39.9 298.9,37.9 297.4,36.0 296.8,34.6 296.5,33.2 297.1,32.5 297.2,31.8 296.8,31.1 294.5,31.6 292.3,31.9 293.0,33.7 290.3,33.7 288.6,33.9 286.0,33.9 284.2,33.9 283.7,36.0 283.1,38.2 285.6,38.9 286.6,39.1 288.6,39.7 289.7,40.3 290.9,41.9 293.3,44.6 293.4,46.2 292.9,50.1 291.7,50.9 290.6,50.4 289.7,52.1 290.3,53.0 289.1,54.3 290.8,55.7 292.5,57.4 293.2,58.2 293.8,59.8 293.5,60.3 291.5,60.6 291.0,59.3 290.0,58.0 290.2,57.6 289.3,56.7 287.8,56.3 287.8,55.7 287.4,54.7 286.3,54.1 285.3,54.6 284.4,55.4 284.0,53.5 282.6,53.0 282.0,54.3 281.1,55.0 281.2,55.7 282.7,56.6 283.5,57.4 284.5,56.7 286.4,57.3 285.4,58.1 284.8,60.0 286.2,61.0 287.7,63.0 289.1,64.1 289.5,65.1 288.6,65.8 290.2,66.4 290.6,68.3 290.0,69.3 289.9,71.2 289.5,72.9 288.9,73.8 288.1,74.7 282.9,77.4 283.0,78.6 282.0,77.0 280.8,76.7 280.4,76.9 279.4,78.4 279.0,80.3 279.9,81.6 280.9,82.9 282.3,84.1 283.3,86.2 284.0,88.2 284.1,89.8 282.9,91.0 282.0,91.6 280.8,93.5 280.3,94.0 280.1,92.4 279.6,91.6 278.7,91.4 278.6,90.7 278.0,90.4 277.9,90.0 277.2,89.2 275.7,88.7 275.6,87.6 274.7,87.6 274.9,89.5 274.4,91.6 274.7,93.1 275.5,94.0 276.0,95.5 276.6,96.3 277.8,97.2 279.2,99.1 279.3,100.9 280.2,103.7 280.0,103.9 279.5,103.8 277.2,101.7 276.5,100.2 275.8,96.9 274.9,95.9 273.9,95.1 273.8,94.4 273.8,92.2 273.6,89.8 272.2,85.5 271.7,83.5 270.9,83.0 269.5,84.5 268.5,84.2 268.0,80.9 266.9,79.6 265.4,78.0 264.2,75.8 263.3,75.8 263.2,76.5 262.1,76.7 260.3,76.9 260.2,77.9 258.7,79.7 257.6,81.8 256.6,83.4 254.7,85.1 255.3,87.9 255.1,89.5 255.2,91.8 254.7,93.1 253.7,93.6 253.1,94.7 251.6,92.2 250.0,88.4 249.2,86.2 247.9,83.5 246.9,80.3 246.5,77.6 246.0,76.0 245.7,77.3 244.3,77.9 242.5,76.1 243.0,75.7 242.4,76.0 241.4,74.2 240.2,72.7 239.5,72.1 237.0,72.1 234.8,72.2 230.6,71.6 229.9,69.8 229.1,70.2 227.7,70.4 226.2,69.9 224.6,68.8 223.7,67.3 222.7,65.9 221.7,65.5 221.5,66.3 220.9,66.2 221.4,66.8 221.6,68.0 222.3,69.2 223.4,70.3 223.8,71.7 224.6,72.8 224.4,71.8 224.7,71.0 225.1,71.5 225.4,73.5 228.0,73.4 228.4,72.0 229.3,71.1 229.6,70.7 229.9,72.6 230.6,73.8 232.2,74.3 233.6,75.7 233.1,78.3 232.0,78.6 232.3,80.3 231.1,81.6 229.8,82.2 228.0,83.3 227.3,84.7 224.7,85.9 223.3,86.8 220.5,88.4 219.0,88.6 218.2,85.8 218.0,83.7 213.8,77.0 212.9,74.0 210.9,71.5 209.2,68.7 208.6,68.6 208.8,66.8 208.5,68.7 208.4,69.0 207.7,68.4 206.5,66.2 206.6,66.8 207.6,68.9 208.3,70.6 210.0,73.8 210.4,74.8 211.6,76.3 212.0,77.6 212.3,79.6 213.7,81.6 214.8,84.7 215.9,85.8 216.6,86.2 218.6,88.6 218.9,89.5 218.3,90.0 218.8,90.2 219.7,91.6 220.6,91.5 222.6,90.7 224.5,90.4 226.3,89.5 226.8,89.8 226.7,91.6 226.5,92.8 224.9,97.3 223.6,99.8 221.3,102.9 218.6,105.9 217.5,107.9 216.2,109.2 215.7,111.0 215.1,111.9 214.7,113.7 215.4,114.7 215.1,115.7 215.6,117.7 216.1,119.7 216.0,122.5 216.2,124.8 215.9,126.3 214.2,128.1 212.0,129.5 209.7,132.0 209.9,132.9 210.2,135.1 210.0,137.4 208.0,139.0 207.0,139.9 207.2,141.1 206.5,143.2 204.5,145.7 202.9,147.5 201.3,149.1 199.6,150.0 198.0,150.1 196.2,150.1 194.3,150.9 192.9,150.4 192.9,149.8 192.5,148.4 191.9,145.0 191.5,143.3 190.2,140.6 189.9,137.4 190.0,135.8 189.0,133.4 187.5,128.7 187.6,127.8 187.9,125.7 188.3,123.7 189.2,122.4 189.7,120.0 189.3,117.4 188.8,115.4 188.4,113.7 188.2,113.4 188.0,112.3 187.8,111.8 185.6,108.8 184.8,106.5 185.6,104.3 185.8,102.6 185.5,100.3 184.5,99.4 182.0,99.8 181.5,98.6 180.5,97.1 178.7,97.0 177.2,97.4 176.0,97.9 174.0,99.2 172.9,98.7 171.0,98.7 168.5,99.7 167.0,98.9 165.2,97.1 164.5,96.2 163.6,95.6 162.9,94.3 162.8,93.4 161.0,90.9 160.2,90.0 159.5,89.0 159.4,87.4 158.8,85.9 159.8,84.1 160.3,81.6 160.0,79.7ZM215.2,114.2 215.1,113.4 215.5,114.1ZM351.0,128.1 352.5,127.4 352.2,127.9ZM349.3,129.1 350.6,129.0 350.2,129.9 349.1,129.9ZM329.8,159.0 329.6,158.6 331.2,157.1 330.7,156.3 331.9,155.7 333.4,153.9 333.8,152.7 333.7,151.4 334.1,150.4 334.8,151.5 334.7,153.1 334.2,154.3 336.0,154.3 336.4,154.4 334.4,156.2 333.4,156.5 332.3,157.7ZM320.6,41.1 320.9,41.3 317.8,40.8 315.1,40.2 314.7,39.9 317.5,40.5ZM318.6,164.6 317.5,164.1 318.1,163.5 320.8,161.9 323.1,161.1 325.4,159.9 327.7,158.2 328.6,157.7 328.8,159.1 327.5,160.0 325.7,161.1 325.5,161.6 323.5,162.0 321.4,163.8 319.6,164.6ZM340.4,129.1 340.7,129.2 340.4,129.5ZM317.4,165.3 317.7,164.8 318.1,164.9ZM340.1,127.8 340.1,127.3 340.5,127.7ZM339.9,126.9 339.9,125.7 340.3,126.3ZM336.3,135.2 335.2,133.2 335.2,132.4 336.7,134.7 336.9,135.4ZM336.0,119.4 336.9,120.1 336.3,119.8ZM335.9,116.9 336.2,118.4 335.9,118.1ZM334.7,118.2 335.3,118.2 335.6,118.9ZM333.6,115.7 335.0,116.9 334.5,116.9ZM332.0,114.6 332.9,115.6 332.4,115.4ZM303.8,43.0 304.0,42.2 304.3,43.0ZM330.4,113.0 331.4,114.7 330.7,114.5ZM301.4,151.4 303.0,149.0 303.3,148.2 300.2,150.9 299.8,151.1 299.6,147.6 297.9,146.9 295.7,147.1 292.6,147.9 290.3,148.7 289.3,149.8 286.1,149.8 283.7,151.2 281.9,151.1 281.4,150.4 283.2,147.5 284.0,141.9 283.6,140.1 284.6,138.1 285.5,135.6 286.2,134.6 287.8,133.6 291.6,132.3 293.6,131.7 295.3,129.6 295.7,128.3 296.8,128.7 297.3,127.3 298.9,126.1 300.2,124.4 301.7,124.4 302.2,125.4 303.4,125.6 304.1,123.7 305.0,122.2 307.3,120.6 308.1,121.4 311.3,122.0 310.2,123.7 309.3,125.7 310.5,126.7 311.7,128.1 313.3,129.1 314.4,127.0 315.5,124.4 316.1,122.4 317.3,120.0 317.8,122.8 317.6,124.9 318.9,125.7 318.5,127.7 318.4,130.8 320.1,132.5 320.3,134.2 320.9,136.5 321.7,138.5 321.7,140.0 320.6,143.3 318.4,146.3 316.8,148.1 314.9,149.7 311.9,153.0 310.9,154.2 308.8,154.6 306.5,156.1 305.8,155.1 304.1,155.7 302.6,155.2 302.0,154.2 302.7,152.1 302.0,151.9 302.2,150.6ZM328.6,112.1 327.8,110.6 326.6,109.1 327.1,109.2 328.8,111.5ZM325.7,112.5 327.3,111.3 328.1,111.4 327.5,113.0 325.9,113.9 324.1,113.9 324.0,113.1ZM303.6,47.3 304.2,46.0 304.2,47.0ZM316.1,117.8 315.1,116.5 313.3,116.9 314.1,115.3 313.7,113.0 311.8,111.8 309.8,110.9 308.8,111.1 308.7,110.0 307.9,109.4 309.6,108.6 308.0,108.3 307.0,107.4 307.0,106.7 308.5,106.1 310.0,106.7 310.2,109.0 311.2,110.0 312.9,108.4 314.5,108.0 316.9,109.1 318.4,109.9 320.3,110.7 323.3,114.6 322.5,114.7 322.8,116.2 323.6,117.7 325.7,119.3 324.6,119.7 322.7,119.0 322.0,118.1 321.3,116.6 319.9,115.8 318.8,116.6 317.6,118.0ZM272.5,22.1 268.8,22.2 268.0,22.9 264.3,22.2 264.1,21.7 271.1,21.7ZM301.6,49.0 302.8,47.8 302.3,48.8ZM303.7,157.9 304.9,158.4 306.8,158.0 305.6,159.6 304.0,160.8 303.1,161.2 302.5,161.0 302.9,159.6ZM322.9,108.7 322.5,108.3 323.3,108.3ZM298.9,52.4 297.8,50.4 298.6,50.3 297.1,48.0 299.0,49.0 301.1,49.2 302.3,50.4 301.4,51.8 299.4,51.2 298.6,51.6ZM293.1,43.0 290.9,40.9 288.9,38.6 290.7,39.6 292.2,40.9 294.1,43.0 296.1,44.0 296.3,45.7 297.8,47.0 296.8,47.3ZM296.1,61.2 296.5,60.1 297.1,59.3 299.2,59.3 299.4,58.8 299.2,57.3 300.0,57.9 300.6,57.0 300.8,55.8 300.1,54.1 299.3,52.7 300.1,52.5 301.0,53.5 302.2,54.7 302.3,56.1 303.2,57.6 303.6,58.8 304.1,59.2 303.7,60.0 302.9,60.5 302.4,60.4 301.3,60.5 301.4,60.9 300.9,61.8 299.1,60.4 297.8,60.9 297.3,61.4ZM296.2,61.4 297.7,62.5 298.1,64.4 297.7,64.9 297.0,64.6 296.3,63.1 295.4,62.1ZM301.4,152.1 300.7,152.5 300.0,152.4 300.2,152.0ZM310.6,124.8 310.5,124.1 310.9,124.4ZM309.9,113.4 310.5,113.1 310.2,114.6ZM299.7,61.5 298.7,62.7 297.8,62.1 297.5,61.6 298.9,60.9ZM306.9,116.4 306.5,115.7 307.2,115.3ZM305.0,120.9 306.1,120.8 305.5,121.4ZM306.7,109.9 306.2,110.7 304.0,110.3 303.9,109.6ZM303.9,102.6 304.7,104.3 304.0,105.6 304.3,106.7 303.7,106.0 303.8,104.5 303.5,103.2ZM297.4,71.1 297.7,70.2 297.7,71.0ZM300.3,117.7 302.6,116.9 302.1,117.6 300.3,118.4 299.5,119.3 298.5,119.4 299.6,118.1ZM302.9,109.9 302.9,110.7 301.9,110.6 301.9,109.9ZM292.6,62.2 292.2,62.1 292.7,61.8ZM300.7,97.5 299.6,96.9 299.7,95.6 298.8,95.5 297.6,96.2 298.8,94.0 300.1,93.5 300.6,92.4 301.7,94.2 302.1,96.5 301.1,98.1ZM300.5,90.6 300.3,92.0 299.4,90.8 298.9,88.8ZM299.0,104.9 297.0,105.1 296.2,106.8 299.3,106.8 298.8,107.8 297.7,108.2 299.0,111.4 298.7,112.9 297.8,111.9 296.9,109.2 296.3,109.5 296.1,113.1 295.2,113.0 295.7,110.3 294.7,109.4 295.3,106.9 295.8,105.3 296.8,103.8 299.0,104.3 301.0,103.4 300.5,105.1ZM297.4,87.9 296.2,87.2 295.1,87.1 294.8,86.2 294.0,85.5 294.1,84.2 293.6,80.9 295.2,80.9 295.9,83.5 295.4,84.6 295.9,86.6 297.0,86.6 298.3,87.1 298.4,88.3ZM298.5,91.5 298.4,93.4 297.6,92.6 297.5,91.2 296.9,91.5 296.8,89.8 297.9,90.2ZM290.4,116.5 292.1,116.8 294.4,116.8 296.4,116.9 298.4,116.6 298.1,117.3 295.3,117.6 292.3,117.7 290.5,117.4ZM292.6,76.5 291.5,75.1 291.6,73.1 291.9,72.1 292.5,72.5 292.7,74.4ZM294.8,87.6 296.0,87.9 295.9,89.2 295.4,88.7ZM294.2,118.2 295.9,118.9 295.1,119.4ZM292.6,94.3 292.8,93.5 294.1,91.6 294.6,90.4 294.5,91.4ZM285.6,102.9 287.2,103.6 287.3,102.1 288.9,101.3 289.8,99.4 291.0,98.9 292.4,96.2 293.3,97.0 295.0,98.6 294.0,99.8 293.4,100.0 293.7,100.9 294.0,102.6 295.0,104.3 293.8,104.5 293.5,106.7 292.5,107.8 292.2,110.0 291.9,111.0 290.5,111.1 290.4,110.2 288.9,109.9 287.6,110.3 286.1,109.6 286.2,107.9 285.0,105.9 285.0,103.8ZM285.5,116.4 283.5,116.1 282.0,115.6 280.8,114.7 282.2,113.7 284.0,114.1 286.5,114.2 288.3,114.9 289.9,116.0 289.8,117.3ZM283.8,79.1 283.7,80.6 282.9,81.3 282.0,80.8 281.8,80.0 282.3,78.9ZM283.9,109.9 283.5,109.1 284.2,109.2ZM278.2,111.0 276.9,109.2 276.3,106.9 275.0,105.2 274.7,103.3 271.9,99.8 271.1,98.1 273.3,98.6 274.2,99.8 275.9,101.7 276.4,102.5 277.5,102.9 279.8,105.6 279.5,106.9 281.9,109.6 281.3,107.9 282.2,107.9 282.6,109.6 281.9,109.6 281.5,113.4 280.3,113.5 280.1,113.0ZM238.6,20.7 235.7,20.3 235.0,19.7 237.3,19.6 241.6,20.5ZM274.6,106.9 275.3,108.0 274.9,108.0ZM273.0,103.7 273.5,104.3 273.9,104.8ZM267.5,87.5 267.8,87.8 267.9,90.0 267.6,89.8ZM255.4,93.8 255.3,92.6 255.6,92.4 256.8,94.0 257.6,95.8 257.5,97.0 256.4,97.7 255.8,97.1 255.5,95.5ZM213.4,23.7 212.7,23.6 213.1,22.8 214.5,22.0 217.8,21.3 219.9,21.5 217.7,22.0 214.5,22.9ZM204.3,19.8 206.6,19.6 211.3,19.3 215.2,19.6 212.9,19.8 208.1,20.0ZM231.6,132.3 232.1,132.3 232.0,132.9 231.6,132.9ZM229.5,133.4 230.0,133.4 230.0,134.1 229.4,134.1ZM228.8,88.7 229.9,88.7 229.4,89.1ZM219.1,132.3 219.0,129.0 220.7,126.9 221.8,126.3 223.2,125.2 224.2,123.4 224.8,121.7 225.6,126.2 224.8,128.1 223.0,132.9 221.1,138.5 219.1,139.4 218.0,138.6 217.8,135.1ZM209.9,26.1 209.3,26.0 210.2,25.8ZM218.8,120.9 219.1,120.9 219.1,121.6 218.8,121.6ZM207.0,60.0 206.2,60.5 205.5,60.0 206.0,59.5 207.4,59.2ZM184.2,20.8 182.9,20.5 185.3,20.0 188.9,19.9 192.7,19.9 187.4,21.2 185.5,21.2ZM199.9,60.0 197.9,60.0 197.4,59.7 198.3,59.3 200.0,59.7ZM192.9,34.8 193.6,34.5 193.4,35.1ZM190.5,35.7 190.1,35.9 190.6,35.1ZM189.6,58.0 187.2,56.9 187.2,56.6 190.0,56.1ZM188.9,58.8 189.3,58.9 189.2,59.1ZM185.9,37.5 185.5,38.0 184.7,37.6 184.9,37.0 185.8,36.8ZM183.5,55.3 183.2,53.0 184.1,52.7 184.6,53.2 184.6,55.0ZM184.1,52.5 183.5,51.9 183.5,51.3 184.2,50.6 184.3,51.8ZM184.7,101.2 184.5,100.6 184.9,100.6ZM182.5,105.1 182.8,105.1 182.6,105.6ZM178.0,54.6 178.8,54.1 179.0,54.8 178.6,54.9ZM172.2,37.7 171.7,36.8 171.5,35.5 172.2,34.5 173.7,34.5 173.5,35.3 174.5,35.4 174.3,36.8 174.8,37.7 175.8,38.7 176.2,39.9 177.4,40.2 177.1,41.7 175.2,42.3 173.1,42.7 171.3,42.9 172.5,41.8 173.4,41.5 171.8,41.1 172.6,40.4 172.4,39.6 173.6,39.1 173.2,38.0 172.0,38.1ZM175.3,32.5 175.1,33.3 174.9,33.2ZM169.4,37.8 171.4,37.7 171.6,38.5 171.1,38.8 171.2,39.6 170.9,40.7 169.1,41.3 167.9,41.3 167.6,40.8 168.3,40.3 168.5,39.8 168.1,39.5 168.0,38.7 169.3,38.3ZM171.2,35.7 170.2,35.8 171.3,34.6ZM164.0,21.2 163.4,22.2 161.5,23.7 161.1,25.0 158.1,26.3 153.8,26.7 149.7,28.4 147.4,29.0 145.0,31.5 143.2,33.2 142.1,33.3 140.2,32.3 138.9,30.2 138.3,27.8 139.5,26.3 141.2,25.6 139.2,25.0 139.6,23.7 138.8,22.0 135.8,21.6 132.6,21.7 131.2,21.1 130.4,20.5 134.1,19.9 139.5,19.2 148.8,19.0 156.7,18.8 168.7,19.4 164.9,19.9ZM163.3,67.2 163.4,67.5 162.7,68.6 162.6,67.9ZM160.8,30.0 159.6,29.9 160.2,29.4 158.8,29.1 158.6,28.6 160.5,27.9 163.3,28.1 164.7,27.8 165.7,28.6 166.3,29.0 165.2,29.6 162.5,30.3ZM161.4,69.0 161.1,68.6 161.5,68.6ZM160.5,68.7 160.1,68.3 160.8,67.9ZM152.9,85.6 152.4,85.5 153.0,85.2ZM151.5,83.1 151.2,82.9 151.6,82.7ZM61.1,26.4 63.4,26.1 66.3,25.2 69.7,24.8 71.2,24.4 79.9,25.6 82.6,26.1 85.3,25.6 89.3,25.2 90.6,25.7 93.7,25.4 96.2,25.9 97.0,25.0 96.5,24.3 98.2,23.5 101.3,23.1 103.5,23.5 106.9,23.4 105.9,24.3 107.5,25.3 106.0,26.0 98.1,26.3 97.1,26.1 97.5,26.9 100.4,26.8 101.6,26.3 103.6,26.3 105.1,26.9 107.9,26.9 109.6,26.6 110.1,26.2 109.8,26.3 107.8,26.0 109.8,25.3 110.7,25.8 113.4,24.1 113.6,25.0 113.6,25.6 113.9,26.3 114.7,27.1 116.1,27.1 117.7,26.0 120.2,25.5 119.9,26.3 118.6,27.4 116.7,28.0 114.9,28.0 114.5,29.0 112.4,29.8 110.2,30.2 107.3,31.5 104.8,33.2 103.8,34.3 104.3,36.0 106.2,36.0 107.5,36.9 109.0,37.6 111.0,37.8 109.9,39.9 110.0,41.4 111.1,41.6 112.6,39.9 113.3,38.4 115.7,36.9 117.2,35.1 116.3,34.1 118.2,32.3 118.7,31.1 120.8,31.2 123.8,32.3 123.1,34.1 123.9,34.8 125.8,34.1 127.6,32.9 128.0,35.1 128.2,36.9 130.0,38.4 131.0,39.9 130.8,40.9 129.6,41.4 127.5,42.7 122.5,42.8 120.5,43.5 117.8,45.1 116.2,46.1 117.6,45.5 120.2,44.2 122.5,44.2 121.1,45.1 121.3,46.2 121.6,47.1 121.6,46.3 123.4,46.7 122.7,47.4 123.6,47.6 125.3,46.4 125.0,47.3 123.8,48.2 121.4,49.0 119.1,50.1 119.1,49.0 120.9,48.0 118.6,48.3 118.5,48.7 115.5,49.8 114.4,51.0 114.7,52.0 110.7,53.4 110.0,54.7 108.5,55.8 107.6,57.5 107.1,57.7 107.2,59.7 103.9,61.5 100.6,64.3 100.0,65.5 100.1,68.4 99.8,71.2 99.2,72.2 98.5,72.2 97.9,68.9 98.2,67.4 97.4,66.2 96.1,66.5 95.2,65.7 92.4,65.9 92.2,67.3 91.0,67.2 89.8,66.7 87.9,66.7 84.5,68.7 83.4,71.2 82.4,73.8 81.7,76.0 81.8,77.9 82.3,79.9 84.0,81.3 85.8,80.8 86.8,80.9 88.1,79.2 88.5,77.6 90.5,77.0 91.9,77.0 91.9,77.9 90.9,79.6 90.3,81.2 90.0,80.9 89.9,82.2 89.1,83.9 88.7,84.3 89.4,84.6 91.6,84.3 93.0,84.5 94.2,85.5 93.0,90.8 94.0,92.7 95.5,93.8 96.9,92.7 99.0,93.9 99.6,94.0 100.9,92.8 101.3,91.1 104.2,89.8 105.5,89.0 105.4,89.8 105.0,91.0 105.3,91.5 106.5,90.3 106.8,89.2 107.9,90.3 108.4,91.4 110.5,91.4 112.0,91.9 113.7,91.2 114.6,91.2 114.0,92.2 115.4,92.8 117.7,96.2 119.0,97.5 122.1,97.8 123.2,98.5 124.4,99.9 126.0,103.2 126.0,105.6 128.0,106.5 130.0,107.1 131.5,109.0 134.0,109.4 136.0,109.4 137.5,110.6 139.1,112.2 140.8,112.6 141.3,115.3 141.1,117.7 138.0,123.0 137.6,125.7 137.7,129.4 137.4,131.9 136.5,134.9 135.6,136.0 134.5,136.1 133.1,136.5 131.5,137.4 130.2,139.1 129.9,140.9 130.1,143.0 129.2,144.9 127.6,147.9 127.0,149.7 125.9,151.1 124.7,151.1 123.0,150.4 122.4,149.8 122.5,150.4 123.9,151.5 124.3,152.6 124.7,153.1 124.4,154.8 123.3,155.6 120.7,155.8 121.0,157.7 118.8,158.3 119.3,160.0 120.5,160.0 119.4,161.1 119.9,162.8 118.6,163.9 120.5,165.5 120.1,167.7 119.3,168.7 120.7,170.7 120.7,170.9 122.2,172.3 124.3,173.0 123.5,173.3 122.0,173.2 123.2,173.6 123.3,174.3 121.3,173.8 119.3,172.8 117.0,171.6 114.9,169.8 113.2,167.2 112.2,165.0 112.6,163.4 112.1,161.1 111.3,159.4 110.7,157.1 109.8,153.8 109.8,151.8 109.9,148.7 109.2,145.4 108.7,143.2 108.7,140.0 108.0,133.6 107.3,130.1 106.1,128.7 102.1,126.2 100.8,124.2 97.4,116.6 96.4,114.9 95.1,113.7 94.8,111.9 95.8,110.2 96.1,109.0 95.1,108.6 95.1,106.9 96.1,104.4 97.2,103.6 97.5,102.1 98.6,100.2 98.9,98.1 98.9,96.2 98.4,95.9 97.9,94.4 96.7,93.9 96.0,95.6 94.6,95.5 92.7,94.2 91.9,92.8 90.8,92.2 91.1,90.7 89.4,88.3 89.7,88.2 89.4,87.8 88.6,88.0 87.1,87.2 85.9,87.0 83.7,84.2 82.8,83.9 81.2,84.6 79.4,83.8 76.4,81.6 75.0,81.0 73.9,79.6 73.5,78.4 74.2,77.0 74.1,75.1 73.2,73.1 71.8,71.6 72.1,70.3 71.6,68.8 70.6,67.4 70.8,64.9 69.5,63.9 69.0,65.5 69.4,67.4 69.6,69.3 70.1,71.2 70.4,73.5 70.8,74.8 70.0,75.1 68.9,72.9 69.2,71.2 68.0,69.9 67.4,68.9 68.5,68.0 67.7,66.4 67.6,64.3 67.9,62.5 67.3,61.2 65.8,60.6 65.8,58.1 66.0,56.7 65.9,54.7 66.1,53.6 67.3,51.8 67.8,50.6 70.7,47.1 71.8,44.7 72.8,44.8 71.5,44.3 70.6,43.0 70.9,42.2 72.3,42.7 73.2,44.2 72.9,44.9 72.9,45.7 73.9,44.0 73.5,44.0 73.7,42.5 71.7,41.9 72.6,40.4 72.6,38.6 73.2,37.9 72.3,38.1 70.9,37.9 71.2,36.5 71.1,35.1 71.0,34.1 70.2,33.5 69.0,33.2 67.5,33.2 66.9,32.5 62.2,33.9 60.4,34.1 62.4,32.8 64.2,32.2 62.4,32.5 59.8,33.7 57.9,34.6 55.0,35.7 52.3,36.7 49.1,37.6 47.0,38.1 45.2,38.4 51.3,36.5 54.2,35.4 56.1,34.3 54.7,34.4 52.4,34.4 54.0,33.2 52.7,32.8 52.9,31.8 55.2,30.8 56.4,30.5 59.1,30.1 60.2,29.4 58.7,29.4 56.5,29.2 56.5,28.5 58.7,28.1 60.8,27.8 61.5,28.1 61.7,27.3 61.5,26.6ZM45.3,38.3 44.7,38.7 40.9,39.9 36.7,40.7 32.7,41.3 29.9,41.6 30.3,41.3 37.2,40.3 41.5,39.4ZM114.6,91.2 115.6,91.1 115.5,92.0 114.6,92.0ZM131.1,46.5 129.1,46.3 128.0,45.7 126.2,45.4 127.6,44.0 129.3,42.2 130.8,41.3 130.1,43.0 131.3,43.5 131.3,44.6 131.7,45.5ZM127.9,170.6 126.6,170.5 126.4,170.1 128.7,169.7 129.0,170.1ZM117.2,88.2 117.1,87.8 117.4,87.8ZM115.8,85.6 116.2,85.8 116.0,86.3 115.8,86.2ZM115.8,86.8 116.0,86.8 115.9,87.2ZM115.6,88.0 115.5,87.6 115.7,87.6ZM115.7,85.2 115.6,84.7 115.9,84.7ZM115.4,83.7 116.0,83.7 115.8,84.3 115.3,84.2ZM119.9,29.4 122.9,29.2 124.3,28.2 125.4,26.7 121.8,26.0 120.4,25.3 118.3,25.3 116.6,25.0 116.2,24.0 117.8,23.1 120.5,22.9 123.8,23.0 126.4,23.7 128.6,24.3 129.9,25.3 131.4,27.1 132.8,27.7 129.5,30.2 127.9,31.6 123.3,30.8 121.5,30.2ZM122.8,43.1 124.7,43.9 123.3,43.7ZM114.9,89.2 115.1,89.2 114.9,89.5ZM115.6,82.9 115.4,82.6 115.6,82.6ZM123.1,19.7 120.4,19.4 122.6,19.2 127.6,19.0 133.7,18.9 138.4,19.1 136.3,19.5 132.5,20.0 128.5,20.5 126.6,21.3 124.4,21.6 122.5,21.0 121.2,20.6 120.9,20.7 118.2,20.3 116.8,19.9 119.1,19.5 121.9,19.7 122.3,20.0ZM114.4,81.4 114.5,81.4 114.5,81.6ZM112.9,81.2 112.7,81.0 113.0,81.0ZM110.5,80.9 112.0,81.0 111.8,81.6 110.4,81.6ZM105.9,81.6 103.4,81.2 103.5,80.8 104.9,79.1 106.3,79.3 108.1,79.3 109.3,80.8ZM107.7,89.2 108.0,89.2 107.9,89.5ZM106.7,88.7 106.9,88.8 106.9,89.0ZM106.5,76.5 107.0,76.6 106.7,76.9ZM105.2,77.8 104.7,77.5 105.4,77.3ZM94.0,76.5 96.2,75.1 98.6,74.9 103.3,78.0 104.0,78.7 100.5,79.1 101.3,78.3 99.6,77.0 97.0,75.8ZM104.7,73.9 104.6,73.6 104.8,73.6ZM103.7,74.3 104.1,74.9 103.9,74.9ZM103.2,72.1 103.3,72.9 103.2,72.9ZM99.6,81.0 101.5,81.3 101.5,81.8 99.6,81.5ZM102.9,70.6 102.6,71.2 102.0,70.4 102.2,70.2ZM101.3,72.7 101.8,72.4 101.7,73.5 101.2,73.4ZM117.6,21.4 124.8,21.9 124.2,22.5 119.0,22.5 117.0,22.0ZM115.3,28.4 117.0,28.4 118.1,29.4 117.1,30.2 114.7,30.5 113.0,30.0 114.3,29.2ZM96.8,79.7 97.1,79.9 96.9,79.9ZM116.7,23.2 114.2,24.0 112.5,24.0 113.7,22.9 116.2,22.7ZM84.5,106.0 85.2,105.9 85.2,106.9 84.6,106.9ZM112.6,21.4 116.3,21.5 115.4,22.2 112.8,22.2 109.1,22.1 109.7,21.6ZM112.5,23.4 111.1,24.4 107.9,24.3 109.3,23.1 111.5,22.8ZM115.4,20.5 113.6,21.0 110.7,20.9 111.1,20.5 113.8,20.3ZM108.3,21.7 107.7,22.2 103.4,22.6 100.7,22.1 102.1,21.6 106.1,21.5ZM102.5,21.3 100.4,21.9 98.1,21.7 98.6,21.4 100.9,21.1ZM92.6,24.0 94.5,23.1 96.2,22.6 100.6,22.7 98.1,23.4 95.9,24.2 93.5,24.6ZM70.1,38.8 71.0,38.9 70.0,40.6 69.6,39.9ZM30.1,129.5 29.7,129.0 30.2,129.1ZM59.1,34.9 58.7,35.5 56.5,36.2 56.5,35.7ZM25.4,79.6 24.4,80.4 24.2,80.0 24.5,79.1ZM24.6,78.0 23.5,77.3 23.1,76.9 23.4,76.7 24.5,77.6ZM18.7,103.3 18.5,103.2 18.8,103.0ZM50.1,33.1 51.0,32.8 51.6,32.9 50.9,33.4ZM51.0,30.3 51.7,30.0 53.0,30.0 52.9,30.5ZM50.0,28.6 47.6,28.8 52.5,26.0 53.6,26.6 53.9,27.2 55.9,27.6 55.9,28.1 53.9,28.6 51.8,29.5 49.9,29.3ZM5.6,123.7 6.1,123.7 6.9,124.2 6.5,124.4ZM6.7,133.9 6.4,133.7 6.6,133.7ZM55.0,24.7 55.8,24.3 56.9,24.2 56.9,24.6Z" fill="none" stroke="#000" stroke-width="0.75"/>
<path d="M79.9,25.6 82.6,26.1 85.3,25.6 89.3,25.2 90.6,25.7 93.7,25.4 97.0,26.1 97.5,26.9 100.4,26.8 101.6,26.3 103.6,26.3 105.1,26.9 107.9,26.9 109.6,26.6 110.9,25.6 113.4,24.1 113.6,25.0 113.6,25.6 113.9,26.3 114.7,27.1 116.1,27.1 117.7,26.0 120.2,25.5 119.9,26.3 118.6,27.4 116.7,28.0 114.9,28.0 114.5,29.0 112.4,29.8 110.2,30.2 107.3,31.5 104.8,33.2 103.8,34.3 104.3,36.0 106.2,36.0 107.5,36.9 109.0,37.6 111.0,37.8 109.9,39.9 110.0,41.4 111.1,41.6 112.6,39.9 113.3,38.4 115.7,36.9 117.2,35.1 116.3,34.1 118.2,32.3 118.7,31.1 120.8,31.2 122.6,31.9 123.8,32.3 123.1,34.1 123.9,34.8 125.8,34.1 127.6,32.9 128.0,35.1 128.2,36.9 130.0,38.4 131.0,39.9 130.8,40.9 129.6,41.4 127.5,42.7 124.9,42.8 122.5,42.8 120.5,43.5 117.8,45.1 116.0,46.3 117.6,45.5 120.2,44.2 122.5,44.2 121.1,45.1 121.3,46.2 121.6,47.1 123.6,47.6 125.3,46.4 125.0,47.3 123.8,48.2 121.4,49.0 119.1,50.1 119.1,49.0 120.9,48.0 118.6,48.3 118.8,46.1 117.7,45.8 115.8,47.7 114.7,48.4 112.0,48.4 110.2,49.3 107.5,50.2 107.3,50.9 103.8,51.8 103.5,51.4 104.4,50.6 105.4,48.1 104.9,47.2 104.3,46.7 102.1,44.8 100.9,45.1 99.9,44.9 97.3,44.0 96.8,44.0 73.5,44.0 73.7,42.5 71.7,41.9 72.6,40.4 72.6,38.6 73.9,37.1 74.2,36.9 73.6,36.0 74.2,34.3 73.6,33.5 71.4,34.1 71.4,33.1 70.1,33.0 75.0,29.0 77.5,27.2ZM127.9,31.6 129.5,30.2 132.8,27.7 131.4,27.1 129.9,25.3 128.6,24.3 126.4,23.7 123.8,23.0 120.5,22.9 117.8,23.1 116.2,24.0 116.6,25.0 118.3,25.3 120.4,25.3 121.8,26.0 123.6,26.3 125.4,26.7 124.3,28.2 122.9,29.2 119.9,29.4 121.5,30.2 123.3,30.8 125.9,31.3ZM96.3,25.9 98.1,26.3 101.7,26.2 106.0,26.0 107.5,25.3 105.9,24.3 106.9,23.4 103.5,23.5 101.3,23.1 98.2,23.5 96.5,24.3 97.0,25.0ZM92.6,24.0 93.5,24.6 95.9,24.2 98.1,23.4 100.6,22.7 98.8,22.6 96.2,22.6 94.5,23.1ZM124.4,21.6 126.6,21.3 128.5,20.5 131.4,20.1 136.3,19.5 138.4,19.1 133.7,18.9 127.6,19.0 122.6,19.2 120.4,19.4 123.1,19.7 121.0,20.5 122.5,21.0ZM124.2,22.5 119.0,22.5 117.0,22.0 117.6,21.4 120.0,21.5 124.8,21.9ZM120.9,20.7 118.2,20.3 116.8,19.9 119.1,19.5 121.9,19.7 122.6,20.2ZM100.7,22.1 103.4,22.6 107.7,22.2 108.3,21.7 106.1,21.5 102.1,21.6ZM109.1,22.1 112.8,22.2 115.4,22.2 116.3,21.5 112.6,21.4 109.7,21.6ZM107.9,24.3 111.1,24.4 112.5,23.4 111.5,22.8 109.3,23.1ZM112.5,24.0 114.2,24.0 116.7,23.2 116.2,22.7 113.7,22.9ZM107.8,26.0 109.8,26.3 110.7,25.8 109.8,25.3ZM113.0,30.0 114.7,30.5 117.1,30.2 118.1,29.4 117.0,28.4 115.3,28.4 114.3,29.2ZM98.1,21.7 100.4,21.9 102.5,21.3 100.9,21.1 98.6,21.4ZM110.7,20.9 113.6,21.0 115.4,20.5 113.8,20.3 111.1,20.5ZM126.2,45.4 128.0,45.7 129.1,46.3 131.1,46.5 131.7,45.5 131.3,44.6 131.3,43.5 130.1,43.0 130.8,41.3 129.3,42.2 127.6,44.0 126.2,45.4ZM70.9,42.2 72.3,42.7 73.2,44.2 72.9,44.8 71.5,44.3 70.6,43.0ZM70.1,38.8 71.0,38.9 70.0,40.6 69.6,39.9ZM122.8,43.1 124.7,43.9 123.3,43.7ZM121.6,46.3 123.4,46.7 122.8,47.3 121.7,47.0Z" fill="#006837"/>
<path d="M73.5,44.0 96.8,44.0 97.3,44.0 99.9,44.9 100.9,45.1 102.1,44.8 104.3,46.7 104.9,47.2 105.4,48.1 104.4,50.6 103.5,51.4 103.8,51.8 107.3,50.9 107.5,50.2 110.2,49.3 112.0,48.4 114.7,48.4 115.8,47.7 117.7,45.8 118.8,46.1 118.6,48.3 118.5,48.7 115.5,49.8 114.4,51.0 114.7,52.0 113.2,52.5 110.7,53.4 110.0,54.7 108.5,55.8 107.6,57.5 107.1,57.7 107.2,59.7 105.6,60.5 103.9,61.5 102.1,63.1 100.6,64.3 100.0,65.5 100.1,68.4 99.8,71.2 99.2,72.2 98.5,72.2 98.2,71.0 97.9,68.9 98.2,67.4 97.4,66.2 96.1,66.5 95.2,65.7 93.8,65.8 92.4,65.9 92.2,67.3 91.0,67.2 89.8,66.7 87.9,66.7 86.8,67.3 84.5,68.7 83.3,71.2 81.8,70.6 81.9,69.3 81.4,68.0 81.0,66.4 79.9,66.5 79.0,67.4 78.1,66.7 78.1,65.3 77.2,63.9 75.6,63.9 75.4,64.6 72.8,64.6 69.9,63.1 67.8,63.1 67.9,62.5 67.3,61.2 65.8,60.6 65.8,58.1 66.0,56.7 65.9,54.7 66.1,53.6 67.3,51.8 67.8,50.6 70.7,47.1 71.8,44.7 73.1,44.9 72.9,45.7 73.9,44.0ZM79.9,25.6 77.5,27.2 75.0,29.0 70.1,33.0 71.4,33.1 71.4,34.1 73.6,33.5 74.2,34.3 73.6,36.0 74.2,36.9 73.9,37.1 73.3,37.9 72.3,38.1 70.9,37.9 71.2,36.5 71.1,35.1 71.0,34.1 70.2,33.5 69.0,33.2 67.5,33.2 66.9,32.5 64.5,33.2 62.2,33.9 60.4,34.1 62.4,32.8 64.4,32.2 62.4,32.5 59.8,33.7 57.9,34.6 55.0,35.7 52.3,36.7 49.1,37.6 47.0,38.1 45.2,38.4 48.8,37.2 51.3,36.5 54.2,35.4 56.1,34.3 54.7,34.4 52.4,34.4 54.0,33.2 52.7,32.8 52.9,31.8 55.2,30.8 56.4,30.5 59.1,30.1 60.2,29.4 58.7,29.4 56.5,29.2 56.5,28.5 58.7,28.1 60.8,27.8 61.5,28.1 61.7,27.3 61.5,26.6 61.1,26.4 63.4,26.1 66.3,25.2 69.7,24.8 71.2,24.4 73.2,24.7 75.4,25.0 77.6,25.3ZM45.3,38.3 41.5,39.4 37.2,40.3 33.2,40.9 30.3,41.3 29.9,41.6 32.7,41.3 36.7,40.7 40.9,39.9 44.7,38.7ZM314.7,39.9 317.5,40.5 320.6,41.1 320.9,41.3 317.8,40.8 315.1,40.2ZM56.5,35.7 59.1,34.9 58.7,35.5 56.5,36.2ZM51.0,30.3 52.9,30.5 53.0,30.0 51.7,30.0ZM50.1,33.1 50.9,33.4 51.6,32.9 51.0,32.8ZM24.5,79.1 25.4,79.6 24.4,80.4 24.2,80.0ZM23.1,76.9 23.5,77.3 24.6,78.0 24.5,77.6 23.4,76.7Z" fill="#006837"/>
<path d="M67.8,63.1 69.9,63.1 72.8,64.6 75.4,64.6 75.6,63.9 77.2,63.9 78.1,65.3 78.1,66.7 79.0,67.4 79.9,66.5 81.0,66.4 81.4,68.0 81.9,69.3 81.8,70.6 83.5,71.3 82.4,73.8 81.7,76.0 81.8,77.9 82.3,79.9 83.4,80.8 84.0,81.3 85.8,80.8 86.8,80.9 88.1,79.2 88.5,77.6 90.5,77.0 91.9,77.0 91.9,77.9 90.9,79.6 90.3,81.2 90.0,80.9 88.9,81.8 87.1,81.8 87.2,84.1 86.0,84.1 85.2,86.1 83.7,84.2 82.8,83.9 81.2,84.6 79.4,83.8 78.1,82.9 76.4,81.6 75.0,81.0 73.9,79.6 73.5,78.4 74.2,77.0 74.1,75.1 73.2,73.1 71.8,71.6 72.1,70.3 71.6,68.8 70.6,67.4 70.8,64.9 69.5,63.9 69.0,65.5 69.4,67.4 69.6,69.3 70.1,71.2 70.4,73.5 70.8,74.8 70.0,75.1 68.9,72.9 69.2,71.2 68.0,69.9 67.4,68.9 68.5,68.0 67.7,66.4 67.6,64.3Z" fill="#006837"/>
<path d="M85.2,86.1 86.0,84.1 87.2,84.1 87.1,81.8 88.9,81.8 88.4,84.3 88.7,84.3 89.4,84.6 88.1,86.3 87.1,87.2 85.9,87.0Z" fill="#006837"/>
<path d="M88.9,81.8 90.0,80.9 89.9,82.2 89.1,83.9 88.7,84.3 88.4,84.3Z" fill="#006837"/>
<path d="M87.1,87.2 88.0,86.3 88.7,87.0 89.4,87.0 89.4,87.8 88.6,88.0Z" fill="#006837"/>
<path d="M89.4,84.6 91.6,84.3 93.0,84.5 94.2,85.5 92.6,85.8 91.4,87.0 90.4,87.8 89.7,88.2 89.4,87.8 89.4,87.0 88.7,87.0 88.0,86.3Z" fill="#31a354"/>
<path d="M94.2,85.5 93.5,88.2 93.0,90.8 91.1,90.7 89.4,88.3 89.7,88.2 90.4,87.8 91.4,87.0 92.6,85.8Z" fill="#006837"/>
<path d="M93.0,90.8 94.0,92.7 93.5,94.7 92.7,94.2 91.9,92.8 90.8,92.2 91.1,90.7Z" fill="#006837"/>
<path d="M94.0,92.7 95.5,93.8 96.9,92.7 99.0,93.9 98.4,95.9 97.9,94.4 96.7,93.9 96.0,95.6 94.6,95.5 93.5,94.7Z" fill="#006837"/>
<path d="M94.0,76.5 96.2,75.1 98.6,74.9 101.2,76.6 103.3,78.0 104.0,78.7 100.5,79.1 101.3,78.3 99.6,77.0 97.0,75.8Z" fill="#31a354" stroke-width="0.4"/>
<path d="M103.5,80.8 104.9,79.1 106.3,79.3 105.9,81.6 103.4,81.2Z" fill="#31a354"/>
<path d="M106.3,79.3 108.1,79.3 109.3,80.8 107.2,81.3 105.9,81.6Z" fill="#006837"/>
<path d="M99.6,81.0 101.5,81.3 101.5,81.8 99.6,81.5Z" fill="#006837"/>
<path d="M110.5,80.9 112.0,81.0 111.8,81.6 110.4,81.6Z" fill="#006837"/>
<path d="M101.3,72.7 101.8,72.4 101.7,73.5 101.2,73.4ZM102.2,70.2 102.9,70.6 102.6,71.2 102.0,70.4Z" fill="#006837" stroke-width="0.5"/>
<path d="M114.6,91.2 115.6,91.1 115.5,92.0 114.6,92.0Z" fill="#006837"/>
<path d="M99.0,93.9 99.6,94.0 100.9,92.8 101.3,91.1 102.5,90.6 104.2,89.8 105.5,89.0 105.4,89.8 104.3,90.7 103.5,92.8 104.0,94.4 104.3,96.0 106.2,96.2 108.7,97.3 108.3,99.5 108.8,101.0 109.1,104.0 106.1,104.1 106.6,107.1 106.1,111.3 105.4,110.7 106.0,109.2 103.1,108.8 100.8,105.7 99.7,105.1 98.5,104.7 97.2,103.6 97.5,102.1 98.6,100.2 98.9,98.1 98.9,96.2 98.4,95.9Z" fill="#006837"/>
<path d="M105.4,89.8 105.0,91.0 105.3,91.5 106.5,90.3 106.8,89.2 107.9,90.3 108.4,91.4 110.5,91.4 112.0,91.9 113.7,91.2 114.6,91.2 114.0,92.2 115.4,92.8 116.3,94.2 116.5,94.4 115.5,95.6 115.0,97.1 114.8,97.7 115.4,98.6 114.7,99.7 113.3,100.2 111.9,100.1 111.6,102.1 112.6,102.6 110.5,104.5 109.1,104.0 108.8,101.0 108.3,99.5 108.7,97.3 106.2,96.2 104.3,96.0 104.0,94.4 103.5,92.8 104.3,90.7Z" fill="#78c679"/>
<path d="M116.5,94.4 117.7,96.2 119.0,97.5 118.8,98.5 118.2,99.4 118.5,101.0 119.5,103.0 117.2,104.0 116.2,102.6 116.2,100.2 116.0,98.7 115.4,98.6 114.8,97.7 115.0,97.1 115.5,95.6Z" fill="#31a354"/>
<path d="M119.0,97.5 120.3,97.6 122.1,97.8 121.7,99.3 122.1,100.9 121.4,102.5 120.0,103.1 119.5,103.0 118.5,101.0 118.2,99.4 118.8,98.5Z" fill="#006837"/>
<path d="M122.1,97.8 123.2,98.5 124.4,99.9 123.4,102.2 121.4,102.5 122.1,100.9 121.7,99.3Z" fill="#006837"/>
<path d="M97.2,103.6 98.5,104.7 99.7,105.1 100.8,105.7 100.5,107.6 98.1,109.9 97.4,111.8 96.5,112.3 95.7,111.5 95.8,110.2 96.1,109.0 95.1,108.6 95.1,106.9 95.9,104.9 96.1,104.4ZM84.5,106.0 85.2,105.9 85.2,106.9 84.6,106.9Z" fill="#006837"/>
<path d="M95.8,110.2 95.7,111.5 96.5,112.3 97.4,111.8 98.1,109.9 100.5,107.6 100.8,105.7 103.1,108.8 106.0,109.2 105.4,110.7 106.1,111.3 103.2,112.6 102.4,115.4 103.5,118.0 104.3,119.0 105.9,118.4 106.0,120.4 107.0,120.3 108.1,122.4 108.1,125.0 107.9,126.1 107.9,128.7 108.0,129.0 107.3,130.1 106.1,128.7 103.9,127.4 102.1,126.2 100.8,124.2 99.6,121.7 98.4,119.0 97.4,116.6 96.4,114.9 95.1,113.7 94.8,111.9Z" fill="#006837"/>
<path d="M107.0,120.3 108.0,120.4 109.9,118.9 111.1,118.6 111.3,121.0 112.4,122.4 114.0,123.0 115.8,123.7 116.3,124.1 117.0,127.4 118.7,127.4 119.0,128.7 119.9,129.9 119.6,132.0 119.5,132.5 118.5,131.3 116.0,131.7 115.6,132.9 115.6,135.1 114.1,135.9 113.1,135.0 112.0,134.6 111.3,135.9 110.0,133.9 109.2,132.4 109.3,130.9 108.0,129.0 107.9,128.7 107.9,126.1 108.1,125.0 108.1,122.4Z" fill="#31a354"/>
<path d="M107.3,130.1 108.0,129.0 109.3,130.9 109.2,132.4 110.0,133.9 111.3,135.9 111.5,137.4 110.6,138.7 111.2,141.3 110.4,143.2 110.5,145.0 110.5,146.9 111.5,149.0 112.1,150.3 111.9,151.8 111.8,153.0 112.3,155.4 112.5,157.1 113.2,159.4 114.2,161.7 114.9,163.9 115.4,166.1 115.4,167.7 116.7,168.9 117.7,170.3 119.2,170.3 120.7,170.7 120.7,170.9 121.8,173.2 123.2,173.6 123.3,174.3 121.3,173.8 119.3,172.8 117.0,171.6 114.9,169.8 113.2,167.2 112.2,165.0 112.6,163.4 112.1,161.1 111.3,159.4 110.7,157.1 109.8,153.8 109.8,151.8 109.9,148.7 109.2,145.4 108.7,143.2 108.7,140.0 108.3,136.8 108.0,133.6Z" fill="#006837"/>
<path d="M115.6,135.1 118.5,137.4 121.1,139.1 120.5,141.6 123.0,141.6 124.0,139.5 125.1,141.1 125.1,141.5 123.4,142.9 122.2,145.3 122.1,147.5 122.4,149.8 122.5,150.4 123.9,151.5 124.3,152.6 124.7,153.1 124.4,154.8 123.3,155.6 120.7,155.8 121.0,157.7 118.8,158.3 119.3,160.0 120.5,160.0 119.4,161.1 119.9,162.8 118.6,163.9 120.5,165.5 120.1,167.7 119.3,168.7 120.7,170.7 119.2,170.3 117.7,170.3 116.7,168.9 115.4,167.7 115.4,166.1 114.9,163.9 114.2,161.7 113.2,159.4 112.5,157.1 112.3,155.4 111.8,153.0 111.9,151.8 112.1,150.3 111.5,149.0 110.5,146.9 110.5,145.0 110.4,143.2 111.2,141.3 110.6,138.7 111.5,137.4 111.3,135.9 112.0,134.6 113.1,135.0 114.1,135.9ZM120.7,170.9 121.2,171.5 122.2,172.3 124.3,173.0 123.5,173.3 121.8,173.2Z" fill="#006837"/>
<path d="M115.6,135.1 115.6,132.9 116.0,131.7 118.5,131.3 119.5,132.5 120.1,135.0 122.3,135.2 122.9,137.4 124.0,137.6 124.0,139.5 123.0,141.6 120.5,141.6 121.1,139.1 118.5,137.4Z" fill="#006837"/>
<path d="M122.2,145.3 123.8,146.0 124.2,146.1 126.6,148.1 127.0,149.7 125.9,151.1 124.7,151.1 123.0,150.4 122.4,149.8 122.1,147.5Z" fill="#006837"/>
<path d="M124.4,99.9 126.0,103.2 126.0,105.6 128.0,106.5 130.0,107.1 131.5,109.0 134.0,109.4 136.0,109.4 137.5,110.6 139.1,112.2 140.8,112.6 141.3,115.3 141.1,117.7 139.3,120.6 138.0,123.0 137.6,125.7 137.7,129.4 137.4,131.9 136.5,134.9 135.6,136.0 134.5,136.1 133.1,136.5 131.5,137.4 130.2,139.1 129.9,140.9 130.1,143.0 129.2,144.9 128.4,146.5 127.6,147.9 127.0,149.7 126.6,148.1 124.2,146.1 123.8,146.0 122.2,145.3 123.4,142.9 125.1,141.5 125.1,141.1 124.0,139.5 124.0,137.6 122.9,137.4 122.3,135.2 120.1,135.0 119.5,132.5 119.6,132.0 119.9,129.9 119.0,128.7 118.7,127.4 117.0,127.4 116.3,124.1 115.8,123.7 114.0,123.0 112.4,122.4 111.3,121.0 111.1,118.6 109.9,118.9 108.0,120.4 107.0,120.3 106.0,120.4 105.9,118.4 104.3,119.0 103.5,118.0 102.4,115.4 103.2,112.6 106.1,111.3 106.6,107.1 106.1,104.1 109.1,104.0 110.5,104.5 112.6,102.6 111.6,102.1 111.9,100.1 113.3,100.2 114.7,99.7 115.4,98.6 116.0,98.7 116.2,100.2 116.2,102.6 117.2,104.0 119.5,103.0 120.0,103.1 121.4,102.5 123.4,102.2Z" fill="#006837"/>
<path d="M126.4,170.1 128.7,169.7 129.0,170.1 127.9,170.6 126.6,170.5Z" fill="#006837" stroke-width="0.9"/>
<path d="M130.4,20.5 134.1,19.9 139.5,19.2 148.8,19.0 156.7,18.8 162.7,19.1 168.7,19.4 164.9,19.9 164.0,21.2 163.4,22.2 161.5,23.7 161.1,25.0 158.1,26.3 153.8,26.7 149.7,28.4 147.4,29.0 145.0,31.5 143.2,33.2 142.1,33.3 140.2,32.3 138.9,30.2 138.3,27.8 139.5,26.3 141.2,25.6 139.2,25.0 139.6,23.7 138.8,22.0 135.8,21.6 132.6,21.7 131.2,21.1Z" fill="#b2b2b2"/>
<path d="M158.6,28.6 160.5,27.9 163.3,28.1 164.7,27.8 165.7,28.6 166.3,29.0 165.2,29.6 162.5,30.3 160.8,30.0 159.6,29.9 160.2,29.4 158.8,29.1Z" fill="#006837" stroke-width="0.4"/>
<path d="M115.4,83.7 116.0,83.7 115.8,84.3 115.3,84.2ZM115.8,85.6 116.2,85.8 116.0,86.3 115.8,86.2ZM115.6,84.7 115.9,84.7 115.7,85.2ZM115.8,86.8 116.0,86.8 115.9,87.2ZM117.1,87.8 117.4,87.8 117.2,88.2ZM115.4,82.6 115.6,82.6 115.6,82.9ZM115.5,87.6 115.7,87.6 115.6,88.0ZM114.9,89.2 115.1,89.2 114.9,89.5ZM112.7,81.0 113.0,81.0 112.9,81.2ZM114.4,81.4 114.5,81.4 114.5,81.6ZM104.7,77.5 105.4,77.3 105.2,77.8ZM103.7,74.3 104.1,74.9 103.9,74.9ZM103.2,72.1 103.3,72.9 103.2,72.9ZM104.6,73.6 104.8,73.6 104.7,73.9ZM106.5,76.5 107.0,76.6 106.7,76.9ZM107.7,89.2 108.0,89.2 107.9,89.5ZM106.7,88.7 106.9,88.8 106.9,89.0ZM96.8,79.7 97.1,79.9 96.9,79.9Z" fill="#006837"/>
<path d="M184.7,34.1 184.0,34.1 182.1,35.0 180.2,34.3 179.7,32.8 179.7,31.5 181.1,30.6 183.2,29.8 184.2,29.0 185.2,27.8 186.4,26.5 188.3,25.5 190.2,25.2 192.8,24.6 194.8,24.6 197.0,25.1 197.1,25.6 195.8,26.0 195.0,25.2 193.7,25.5 193.6,25.9 192.2,26.2 190.1,26.0 188.5,26.3 187.5,27.1 186.3,28.1 186.1,29.4 184.9,30.2 185.1,31.9 185.5,32.2 185.0,33.0 185.0,33.9ZM182.9,20.5 185.3,20.0 188.9,19.9 192.7,19.9 189.8,20.6 187.4,21.2 185.5,21.2 184.2,20.8Z" fill="#006837" stroke-width="0.42"/>
<path d="M184.7,34.1 184.7,34.8 185.3,36.0 186.0,36.8 186.2,37.5 187.2,37.4 188.5,36.8 188.8,35.5 189.0,34.4 190.2,33.4 188.9,32.3 188.9,31.1 189.8,30.3 191.1,29.4 191.6,28.4 193.1,28.4 192.6,27.6 192.3,26.8 190.1,26.0 188.5,26.3 187.5,27.1 186.3,28.1 186.1,29.4 184.9,30.2 185.1,31.9 185.5,32.2 185.0,33.0 185.0,33.9ZM190.1,35.9 190.6,35.1 190.5,35.7Z" fill="#006837"/>
<path d="M193.1,28.4 194.1,29.0 193.6,29.5 191.7,30.8 191.9,32.3 193.2,33.3 194.8,33.0 196.8,32.8 197.9,31.9 199.0,30.7 197.7,29.8 197.3,28.4 196.5,27.5 196.9,26.9 195.7,26.3 195.8,26.0 195.0,25.2 193.7,25.5 193.6,25.9 192.2,26.2 190.1,26.0 192.3,26.8 192.6,27.6Z" fill="#006837"/>
<path d="M182.5,37.9 182.3,36.0 184.1,35.3 184.0,36.5 184.5,36.7 183.7,37.7 183.5,38.1 182.8,38.0ZM184.7,37.6 184.9,37.0 185.8,36.8 185.9,37.5 185.5,38.0Z" fill="#006837" stroke-width="0.5"/>
<path d="M171.3,42.9 173.1,42.7 175.2,42.3 177.1,41.7 177.4,40.2 176.2,39.9 175.8,38.7 174.8,37.7 174.3,36.8 174.5,35.4 173.5,35.3 173.7,34.5 172.2,34.5 171.5,35.5 171.7,36.8 172.2,37.7 172.0,38.1 173.2,38.0 173.6,39.1 172.4,39.6 172.6,40.4 171.8,41.1 173.4,41.5 172.5,41.8ZM171.1,38.8 171.6,38.5 171.4,37.7 170.5,37.7 170.2,38.0 169.6,38.4 170.2,38.8ZM170.2,35.8 171.3,34.6 171.2,35.7ZM174.9,33.2 175.3,32.5 175.1,33.3Z" fill="#006837" stroke-width="0.45"/>
<path d="M167.9,41.3 169.1,41.3 170.9,40.7 171.2,39.6 171.1,38.8 170.2,38.8 169.6,38.4 170.2,38.0 170.5,37.7 169.4,37.8 169.3,38.3 168.0,38.7 168.1,39.5 168.5,39.8 168.3,40.3 167.6,40.8Z" fill="#006837"/>
<path d="M174.4,50.2 176.6,50.9 178.8,51.3 178.6,50.4 179.9,50.2 181.4,50.5 182.5,49.7 182.0,49.2 181.9,48.3 182.0,47.4 181.3,47.1 181.2,46.7 182.4,45.5 182.8,44.0 181.3,43.5 180.8,43.5 180.0,42.9 179.5,42.8 178.1,41.8 177.3,42.2 177.2,42.9 176.2,43.3 175.0,43.6 174.4,43.3 174.7,44.4 173.5,44.3 172.1,44.7 172.4,45.3 173.9,45.9 175.0,47.1 175.0,48.8ZM183.5,51.3 184.2,50.6 184.3,51.8 184.1,52.5 183.5,51.9Z" fill="#006837"/>
<path d="M174.4,50.2 176.6,50.9 178.8,51.3 178.8,51.9 177.9,52.6 176.4,53.5 175.7,54.8 176.2,55.5 175.6,56.2 175.3,56.9 174.2,57.9 172.0,58.0 171.1,58.7 170.3,58.1 169.3,57.4 169.3,56.9 169.7,56.2 169.5,54.7 169.9,53.9 170.0,52.9 170.6,52.2 168.8,51.7 168.3,51.9 167.9,50.6 169.1,49.8 171.0,49.9 172.7,50.1ZM178.0,54.6 178.8,54.1 179.0,54.8 178.6,54.9ZM160.1,68.3 160.8,67.9 160.5,68.7ZM161.1,68.6 161.5,68.6 161.4,69.0ZM162.6,67.9 163.3,67.2 163.4,67.5 162.7,68.6Z" fill="#006837"/>
<path d="M168.3,51.9 168.8,51.7 170.6,52.2 170.0,52.9 169.9,53.9 169.5,54.7 169.7,56.2 169.3,56.9 169.3,57.4 168.0,57.6 168.1,56.0 167.5,55.6 168.1,53.9Z" fill="#006837"/>
<path d="M178.1,41.8 178.8,41.5 179.5,41.5 180.1,41.4 180.7,41.7 180.7,42.2 181.0,42.2 181.1,42.8 180.8,43.5 180.0,42.9 179.5,42.8Z" fill="#006837"/>
<path d="M180.8,43.5 181.1,42.8 181.3,43.5Z" fill="#006837"/>
<path d="M178.8,41.5 179.2,40.9 179.8,39.9 180.8,39.5 181.7,39.4 181.8,39.7 181.7,40.6 180.9,41.1 181.0,42.2 180.7,42.2 180.7,41.7 180.1,41.4 179.5,41.5Z" fill="#006837"/>
<path d="M182.4,45.5 184.1,45.7 184.8,45.8 186.9,45.7 187.5,44.4 186.0,42.7 187.7,41.9 188.1,42.0 188.2,41.6 187.8,40.3 187.3,39.0 185.7,38.6 184.8,38.9 183.9,38.4 183.5,38.1 182.8,38.0 183.1,39.0 181.7,39.4 181.8,39.7 181.7,40.6 180.9,41.1 181.0,42.2 181.1,42.8 181.3,43.5 182.8,44.0Z" fill="#006837"/>
<path d="M187.3,39.0 187.8,40.3 188.2,41.6 188.1,42.0 189.3,42.5 189.9,42.7 191.4,43.1 191.6,43.5 192.7,43.8 194.8,43.9 194.9,43.2 195.7,42.3 195.2,41.4 195.0,40.3 195.1,39.0 194.7,38.8 194.1,38.6 191.7,38.5 190.8,38.4 190.5,38.1 189.1,38.4Z" fill="#006837"/>
<path d="M186.0,42.7 187.5,44.4 188.5,44.0 190.1,44.5 191.6,43.5 191.4,43.1 189.9,42.7 189.3,42.5 188.1,42.0 187.7,41.9Z" fill="#006837"/>
<path d="M190.1,44.5 190.3,45.1 191.7,45.3 193.1,44.6 194.5,44.7 194.8,43.9 192.7,43.8 191.6,43.5Z" fill="#006837"/>
<path d="M184.1,45.7 184.8,45.8 186.9,45.7 187.5,44.4 188.5,44.0 190.1,44.5 190.3,45.1 189.9,45.7 189.6,46.3 188.3,46.8 187.6,46.7 186.2,46.3 184.9,46.4 184.1,46.1Z" fill="#006837"/>
<path d="M181.3,47.1 181.2,46.7 182.4,45.5 184.1,45.7 184.1,46.1 184.9,46.4 184.7,47.0 183.7,47.4 183.1,46.8 182.0,47.4Z" fill="#006837"/>
<path d="M182.5,49.7 183.6,49.1 184.8,49.6 185.1,50.8 186.7,52.0 188.1,52.7 188.7,53.4 189.9,54.1 190.3,55.5 190.0,56.4 190.8,56.0 191.2,55.3 190.7,54.4 191.0,53.5 192.3,54.2 192.4,53.7 191.8,53.3 190.0,52.4 190.0,51.9 188.8,51.6 187.8,50.1 186.7,49.2 186.5,48.1 187.7,47.7 187.6,46.7 186.2,46.3 184.9,46.4 184.7,47.0 183.7,47.4 183.1,46.8 182.0,47.4 181.9,48.3 182.0,49.2ZM187.2,56.6 190.0,56.1 189.7,57.6 189.6,58.0 187.2,56.9ZM183.2,53.0 183.5,55.3 184.6,55.0 184.6,53.2 184.1,52.7Z" fill="#006837"/>
<path d="M187.7,47.7 187.6,46.7 188.3,46.8 189.6,46.3 189.9,46.7 189.3,47.1 189.1,47.8 188.4,47.8Z" fill="#006837"/>
<path d="M187.7,47.7 188.4,47.8 189.1,47.8 189.3,47.1 189.9,46.7 191.1,47.4 192.1,47.4 192.4,48.4 190.5,48.2 189.5,48.2 189.6,48.7 190.0,49.3 191.3,50.6 192.1,51.2 191.2,50.8 189.9,50.1 189.1,49.3 188.8,48.3 188.2,48.2 187.9,48.6 187.5,48.0Z" fill="#006837" stroke-width="0.45"/>
<path d="M189.5,48.2 190.5,48.2 192.4,48.4 192.7,49.2 192.9,50.1 192.1,51.1 191.3,50.6 190.0,49.3 189.6,48.7Z" fill="#31a354"/>
<path d="M189.6,46.3 189.9,45.7 190.3,45.1 191.7,45.3 193.1,44.6 194.5,44.7 195.2,45.2 194.0,46.8 193.3,47.1 192.1,47.4 191.1,47.4 189.9,46.7Z" fill="#006837"/>
<path d="M192.1,47.4 193.3,47.1 194.4,48.2 195.5,49.0 195.3,49.6 196.0,50.4 195.6,51.4 194.9,51.5 194.0,51.9 193.5,51.1 192.6,50.1 192.9,50.1 192.7,49.2 192.4,48.4Z" fill="#31a354"/>
<path d="M192.1,51.2 192.9,50.1 192.6,50.1 193.5,51.1 193.0,51.9Z" fill="#31a354"/>
<path d="M193.0,51.9 193.5,51.1 194.0,51.9 194.1,52.8 194.5,53.3 194.0,54.4 193.2,53.7Z" fill="#31a354"/>
<path d="M194.0,51.9 194.9,51.5 195.6,51.4 196.2,52.5 194.5,53.1 194.1,52.8Z" fill="#31a354"/>
<path d="M194.0,54.4 194.5,53.3 196.2,52.5 197.5,52.4 199.1,52.1 199.4,52.9 198.9,53.2 197.5,53.0 197.2,53.7 196.3,53.6 196.0,54.1 196.8,55.0 196.4,55.5 197.5,56.2 196.8,56.6 196.9,57.3 196.6,58.2 196.3,58.2 195.6,57.9 195.0,56.7 194.9,56.0 194.5,55.3ZM197.4,59.7 198.3,59.3 200.0,59.7 199.9,60.0 197.9,60.0Z" fill="#006837" stroke-width="0.5"/>
<path d="M195.6,49.3 195.5,49.0 196.8,49.8 198.4,49.6 199.5,49.4 200.7,49.8 200.5,51.8 199.1,52.1 197.5,52.4 196.2,52.5 195.6,51.4 196.0,50.4 195.3,49.6Z" fill="#31a354"/>
<path d="M193.3,47.1 194.0,46.8 195.2,45.2 196.9,45.4 198.2,44.8 199.7,46.3 200.1,47.8 201.4,48.1 200.7,49.8 199.5,49.4 198.4,49.6 196.8,49.8 195.6,49.3 195.5,49.0 194.4,48.2Z" fill="#31a354"/>
<path d="M198.2,44.8 199.0,44.6 200.5,45.1 201.5,46.7 200.6,47.0 200.1,47.8 199.7,46.3Z" fill="#78c679"/>
<path d="M194.8,43.9 194.5,44.7 195.2,45.2 196.9,45.4 198.2,44.8 199.0,44.6 200.5,45.1 201.5,46.7 200.6,47.0 200.1,47.8 201.4,48.1 202.1,46.7 203.2,47.0 204.5,47.3 203.8,48.0 204.8,49.0 206.4,48.4 207.2,48.1 205.7,47.1 207.1,46.5 208.3,46.0 209.4,45.2 209.1,43.4 207.4,43.1 206.8,42.6 205.6,42.6 205.0,41.9 204.0,41.6 203.3,40.5 201.8,40.8 200.9,41.6 198.4,41.4 196.5,41.0 195.2,41.4 195.7,42.3 194.9,43.2Z" fill="#31a354"/>
<path d="M195.2,41.4 196.5,41.0 198.4,41.4 200.9,41.6 201.8,40.8 201.3,39.7 202.0,39.2 200.4,38.1 199.7,37.0 198.0,36.8 196.9,37.2 196.4,38.6 194.7,38.9 195.1,39.0 195.0,40.3Z" fill="#31a354"/>
<path d="M192.6,37.6 192.5,36.9 195.4,36.5 196.9,37.2 196.4,38.6 194.7,38.9 194.1,38.6 194.0,37.9Z" fill="#31a354"/>
<path d="M192.5,36.9 192.5,35.6 193.4,35.3 194.8,35.8 194.8,35.1 197.1,35.5 197.4,35.7 198.0,36.8 196.9,37.2 195.4,36.5Z" fill="#31a354"/>
<path d="M194.8,35.1 193.9,34.4 193.8,33.9 195.4,33.6 197.3,33.7 197.1,34.9 197.1,35.5ZM192.9,34.8 193.6,34.5 193.4,35.1Z" fill="#006837" stroke-width="0.4"/>
<path d="M191.7,38.5 194.1,38.6 194.0,37.9 192.6,37.6 191.8,38.0Z" fill="#31a354"/>
<path d="M205.5,60.0 206.0,59.5 207.4,59.2 207.0,60.0 206.2,60.5Z" fill="#006837"/>
<path d="M188.9,58.8 189.3,58.9 189.2,59.1Z" fill="#006837"/>
<path d="M197.1,25.6 198.5,25.7 200.7,25.9 204.1,26.9 204.8,27.7 203.2,28.1 200.3,27.8 199.2,27.8 201.0,29.4 202.8,29.9 203.4,29.6 205.1,29.3 204.4,28.5 205.6,27.9 207.1,28.1 206.5,27.1 206.5,26.4 207.8,26.6 208.6,27.5 209.4,27.0 212.6,26.5 213.4,26.6 215.3,26.3 217.5,26.0 217.1,25.4 219.8,25.8 223.0,26.5 221.6,25.6 221.0,24.6 221.1,23.5 221.9,23.3 223.8,23.5 224.7,24.6 225.4,26.0 226.8,27.4 227.2,27.1 227.0,26.3 225.7,24.6 225.4,23.5 227.7,23.9 228.7,23.1 229.6,24.0 231.7,24.6 232.2,25.2 230.9,23.0 232.1,22.9 232.2,22.4 233.7,22.0 236.6,21.7 239.6,21.5 241.6,20.9 243.8,21.3 247.2,21.5 248.8,22.0 246.8,22.7 249.1,23.0 253.4,23.2 257.0,23.0 258.8,23.1 260.0,23.7 262.3,24.4 264.1,24.8 266.1,24.2 268.8,24.3 268.6,23.7 272.7,23.8 276.2,24.3 278.8,24.7 282.2,24.7 284.9,25.5 286.4,25.6 289.2,25.6 291.4,25.3 292.9,26.0 293.6,25.4 295.8,25.5 299.4,26.0 304.7,28.9 303.9,29.3 303.4,29.2 307.2,30.6 307.7,31.2 305.5,31.6 304.9,32.8 304.4,33.3 300.8,32.9 300.4,33.4 300.2,34.1 300.4,35.1 301.5,35.2 303.6,36.8 304.2,38.1 304.5,39.7 304.4,40.9 304.2,41.9 301.1,39.9 298.9,37.9 297.4,36.0 296.8,34.6 296.5,33.2 297.1,32.5 297.2,31.8 296.8,31.1 294.5,31.6 292.3,31.9 293.0,33.7 290.3,33.7 288.6,33.9 286.0,33.9 284.2,33.9 283.9,35.3 283.6,36.6 283.1,38.2 285.6,38.9 286.6,39.1 288.6,39.7 290.3,40.6 289.4,39.9 290.9,41.9 293.3,44.6 293.4,46.2 293.1,48.6 292.9,50.1 291.7,50.9 290.6,50.4 290.1,51.4 289.8,51.1 289.6,50.1 288.4,48.4 289.9,48.3 288.8,44.7 286.0,45.4 284.7,44.3 281.3,43.2 277.7,40.3 274.9,39.4 273.0,39.6 272.8,40.3 274.2,43.0 273.6,43.5 272.4,43.2 270.3,42.8 268.1,43.7 264.7,43.1 263.8,42.7 260.0,42.4 259.5,41.6 256.2,40.8 256.0,41.9 256.8,43.0 254.4,43.0 251.5,42.3 250.0,43.1 248.9,43.8 248.5,43.9 246.5,43.4 244.3,41.9 241.6,42.2 238.5,39.6 236.9,38.7 234.9,39.4 234.5,38.9 232.5,38.7 232.2,37.8 230.4,37.6 227.9,38.3 225.4,38.9 225.1,39.9 226.2,41.6 225.2,42.2 223.9,41.9 221.1,42.4 218.8,41.4 217.3,41.2 216.0,42.4 214.9,42.7 214.8,43.7 214.8,44.7 216.5,45.4 217.1,46.4 217.7,46.8 217.4,47.6 216.3,48.6 216.2,49.0 217.3,50.6 218.5,52.0 217.6,52.6 216.7,51.9 215.7,51.2 214.2,51.1 212.5,50.4 210.7,50.2 208.9,49.1 207.7,48.5 207.5,48.1 208.0,48.0 208.3,47.3 208.4,46.6 209.1,46.1 208.3,46.0 209.4,45.2 209.1,43.4 207.4,43.1 206.8,42.6 205.6,42.6 205.0,41.9 204.0,41.6 203.3,40.5 201.8,40.8 201.3,39.7 202.0,39.2 200.4,38.1 199.7,37.0 198.0,36.8 197.4,35.7 197.1,35.5 197.1,34.9 197.3,33.7 197.9,33.3 198.8,33.3 198.2,33.0 197.4,32.8 196.8,32.8 197.9,31.9 199.0,30.7 197.7,29.8 197.3,28.4 196.5,27.5 196.9,26.9 195.7,26.3 195.8,26.0ZM288.9,38.6 290.7,39.6 292.2,40.9 294.1,43.0 296.1,44.0 296.3,45.7 297.8,47.0 296.8,47.3 295.0,45.1 293.1,43.0 290.9,40.9ZM210.3,24.1 211.7,24.8 214.4,24.9 212.7,23.7 213.1,22.8 214.5,22.0 217.8,21.3 219.9,21.5 217.7,22.0 214.5,22.9 213.4,23.7 211.5,23.4ZM235.7,20.3 238.6,20.7 241.6,20.5 239.8,20.1 237.3,19.6 235.0,19.7ZM264.3,22.2 268.0,22.9 268.8,22.2 272.5,22.1 271.1,21.7 267.3,21.7 264.1,21.7ZM295.9,24.6 297.0,24.7 296.2,24.3 295.6,24.3ZM55.0,24.7 56.9,24.6 56.9,24.2 55.8,24.3ZM204.3,19.8 208.1,20.0 212.9,19.8 215.2,19.6 211.3,19.3 206.6,19.6ZM47.6,28.8 52.5,26.0 53.6,26.6 53.9,27.2 55.9,27.6 55.9,28.1 53.9,28.6 51.8,29.5 49.9,29.3 50.0,28.6 48.4,28.7ZM301.6,49.0 302.8,47.8 302.3,48.8ZM303.6,47.3 304.2,46.0 304.2,47.0ZM303.8,43.0 304.0,42.2 304.3,43.0ZM209.3,26.0 210.2,25.8 209.9,26.1Z" fill="#31a354"/>
<path d="M210.7,50.2 212.5,50.4 214.2,51.1 215.7,51.2 216.7,51.9 217.0,52.8 215.6,52.6 214.3,52.8 213.3,52.4 212.5,52.3 212.5,51.8 212.1,51.0Z" fill="#31a354"/>
<path d="M216.7,51.9 217.6,52.6 218.5,52.0 219.3,52.9 220.5,53.6 219.8,53.9 219.9,54.9 219.8,55.9 218.9,55.5 219.0,54.8 217.8,54.9 217.5,55.4 217.3,54.7 216.6,54.3 216.7,53.9 216.1,53.3 215.6,52.6 217.0,52.8ZM215.8,54.4 216.7,54.8 217.1,55.4 216.0,54.8Z" fill="#31a354"/>
<path d="M214.3,52.8 215.6,52.6 216.1,53.3 216.7,53.9 216.6,54.3 217.3,54.7 217.5,55.4 217.1,55.4 216.7,54.8 215.8,54.4 214.7,54.0Z" fill="#31a354"/>
<path d="M198.9,53.3 199.4,52.9 199.1,52.1 200.5,51.8 201.5,52.6 201.5,52.9 200.2,53.0 199.6,53.6ZM199.2,54.1 200.3,53.6 201.6,53.6 201.7,52.7 203.5,52.8 205.1,51.8 206.6,51.7 208.1,52.6 209.9,52.9 211.6,52.8 212.5,52.3 213.3,52.4 214.3,52.8 214.7,54.0 215.8,54.4 215.1,54.8 215.9,56.1 215.7,56.6 216.4,57.4 214.2,57.5 212.7,57.5 210.8,57.9 209.4,58.0 209.2,57.9 209.0,58.6 208.6,58.9 208.7,58.1 208.1,58.1 207.2,57.9 206.4,58.7 205.0,58.2 203.6,57.9 203.5,58.5 202.2,58.1 201.3,58.0 200.6,57.6 200.4,56.0 199.6,56.1 199.9,55.3 199.2,54.7Z" fill="#006837"/>
<path d="M208.6,58.9 209.0,58.6 209.2,57.9 209.4,58.0 210.8,57.9 212.7,57.5 214.2,57.5 213.4,58.3 213.5,60.8 211.7,62.0 210.0,63.3 209.1,62.8 208.9,62.2 209.0,62.0 209.5,61.0 209.3,60.5 208.9,60.4Z" fill="#addd8e"/>
<path d="M208.3,62.3 208.9,60.4 209.3,60.5 209.5,61.0 209.0,62.0 208.9,62.2Z" fill="#006837"/>
<path d="M207.8,64.6 208.7,66.8 208.9,64.8 209.0,64.3 208.4,64.2 208.4,63.7 208.5,63.1 208.9,63.2 209.1,62.8 208.9,62.2 208.3,62.3 208.2,63.7Z" fill="#006837"/>
<path d="M208.4,64.2 209.0,64.3 208.9,63.2 208.5,63.1 208.4,63.7Z" fill="#006837"/>
<path d="M208.8,67.0 209.9,67.2 211.1,66.2 210.4,64.3 212.1,63.7 212.3,63.5 211.7,62.0 210.0,63.3 209.1,62.8 208.9,63.2 209.0,64.3 208.9,64.8 208.7,66.8Z" fill="#31a354"/>
<path d="M211.7,62.0 213.5,60.8 213.4,58.3 214.2,57.5 216.4,57.4 217.2,58.8 218.1,59.9 217.7,61.2 218.5,62.3 220.2,63.7 220.4,64.9 221.5,66.3 220.9,66.2 220.6,66.0 219.7,67.3 218.0,67.2 215.2,64.8 213.5,63.8 212.3,63.5Z" fill="#78c679"/>
<path d="M219.7,67.3 220.6,66.0 220.9,66.2 221.4,66.8 221.6,68.0 220.7,68.0Z" fill="#31a354"/>
<path d="M208.8,67.0 208.6,68.6 209.2,68.7 210.9,71.5 212.9,74.0 213.8,77.0 215.4,79.6 217.1,82.2 218.0,83.7 218.3,82.3 219.2,82.3 221.4,82.6 222.5,82.7 223.0,81.3 223.9,80.8 226.6,80.3 229.4,78.9 229.7,76.3 229.1,75.4 226.6,75.2 225.4,73.5 225.3,73.0 224.6,72.8 223.8,71.7 223.4,70.3 222.3,69.2 221.6,68.0 220.7,68.0 219.7,67.3 218.0,67.2 215.2,64.8 213.5,63.8 212.3,63.5 212.1,63.7 210.4,64.3 211.1,66.2 209.9,67.2Z" fill="#78c679"/>
<path d="M218.0,83.7 218.2,85.8 218.7,87.8 219.0,88.6 220.5,88.4 223.3,86.8 224.7,85.9 227.3,84.7 228.0,83.3 226.6,80.3 223.9,80.8 223.0,81.3 222.5,82.7 221.4,82.6 219.2,82.3 218.3,82.3ZM228.8,88.7 229.9,88.7 229.4,89.1Z" fill="#78c679"/>
<path d="M228.0,83.3 229.8,82.2 231.1,81.6 232.3,80.3 232.0,78.6 233.1,78.3 233.6,75.7 232.2,74.3 230.6,73.8 229.9,72.6 229.4,73.5 229.1,75.4 229.7,76.3 229.4,78.9 226.6,80.3ZM229.3,71.1 229.6,70.7 229.7,71.7Z" fill="#78c679"/>
<path d="M225.4,73.5 226.6,75.2 229.1,75.4 229.4,73.5 229.9,72.6 229.7,71.7 229.3,71.1 228.4,72.0 228.0,73.4 226.3,73.5Z" fill="#006837"/>
<path d="M224.6,72.8 224.4,71.8 224.7,71.0 225.1,71.5 225.3,73.0Z" fill="#31a354"/>
<path d="M215.8,54.4 217.1,55.4 217.5,55.4 217.8,54.9 219.0,54.8 218.9,55.5 219.8,55.9 220.2,56.9 221.3,57.1 222.3,58.0 223.5,58.1 224.7,57.7 224.5,57.2 225.8,56.4 227.1,56.2 228.6,56.8 229.6,57.1 231.3,58.1 231.7,59.3 231.5,60.9 232.0,61.8 231.9,62.5 232.7,64.4 233.4,64.4 233.5,65.2 233.0,66.4 234.2,67.9 235.2,68.4 235.5,69.7 236.0,69.8 236.0,70.4 234.7,71.0 234.8,72.2 232.7,72.0 230.6,71.6 229.9,69.8 229.1,70.2 227.7,70.4 226.2,69.9 224.6,68.8 223.7,67.3 222.7,65.9 221.7,65.5 221.5,66.3 220.4,64.9 220.2,63.7 218.5,62.3 217.7,61.2 218.1,59.9 217.2,58.8 216.4,57.4 215.7,56.6 215.9,56.1 215.1,54.8Z" fill="#d9f0a3"/>
<path d="M224.5,57.2 224.0,55.3 223.0,54.1 222.4,52.7 222.0,52.1 222.8,51.7 224.0,51.8 225.2,52.6 226.3,52.7 226.9,51.0 228.4,51.6 228.8,52.5 230.4,52.7 231.3,54.1 233.5,55.4 235.7,56.4 235.9,57.2 234.4,57.5 234.4,58.5 233.3,59.4 232.8,59.8 231.7,59.3 231.3,58.1 229.6,57.1 228.6,56.8 227.1,56.2 225.8,56.4Z" fill="#d9f0a3"/>
<path d="M225.2,52.6 224.0,48.4 226.0,47.7 228.6,49.2 229.7,50.1 231.4,50.0 232.3,50.1 233.4,50.6 233.6,51.3 234.2,51.9 235.8,52.8 236.6,52.5 237.6,51.7 238.0,51.6 237.8,52.5 238.9,52.4 239.6,52.9 240.5,53.2 239.5,53.9 238.5,53.9 237.3,53.9 236.7,53.9 236.4,54.6 235.9,54.7 236.5,55.3 237.3,56.2 237.1,56.7 237.1,57.4 235.9,57.2 235.7,56.4 233.5,55.4 231.3,54.1 230.4,52.7 228.8,52.5 228.4,51.6 226.9,51.0 226.3,52.7Z" fill="#d9f0a3"/>
<path d="M238.0,51.6 240.1,51.3 239.9,50.6 241.9,50.9 244.9,50.9 246.1,51.6 244.9,52.4 243.7,53.0 242.7,53.4 241.5,54.3 241.6,54.8 239.9,54.9 238.6,54.6 237.5,54.2 237.3,53.9 238.5,53.9 239.5,53.9 240.5,53.2 239.6,52.9 238.9,52.4 237.8,52.5Z" fill="#31a354"/>
<path d="M237.1,57.4 238.5,57.5 239.1,56.9 239.1,56.2 239.8,56.1 240.7,58.0 242.0,57.1 243.5,57.3 243.0,55.8 242.0,55.7 241.6,54.8 239.9,54.9 238.6,54.6 237.5,54.2 237.3,53.9 236.7,53.9 236.4,54.6 235.9,54.7 236.5,55.3 237.3,56.2 237.1,56.7Z" fill="#78c679"/>
<path d="M217.7,46.8 219.2,46.2 220.8,46.4 221.3,48.0 220.0,48.1 219.9,49.0 219.3,49.2 220.4,50.4 221.7,50.9 222.0,52.1 222.8,51.7 224.0,51.8 225.2,52.6 224.0,48.4 226.0,47.7 228.6,49.2 229.7,50.1 231.4,50.0 232.3,50.1 233.4,50.6 233.6,51.3 234.2,51.9 235.8,52.8 236.6,52.5 237.6,51.7 238.0,51.6 240.1,51.3 239.9,50.6 241.9,50.9 244.9,50.9 246.1,51.6 245.8,50.6 246.1,50.4 245.0,48.6 246.6,48.2 246.3,47.8 246.0,46.0 248.1,46.1 247.6,44.7 248.2,44.0 248.5,43.9 246.5,43.4 244.3,41.9 241.6,42.2 238.5,39.6 236.9,38.7 234.9,39.4 234.5,38.9 232.5,38.7 232.2,37.8 230.4,37.6 227.9,38.3 225.4,38.9 225.1,39.9 226.2,41.6 225.2,42.2 223.9,41.9 221.1,42.4 218.8,41.4 217.3,41.2 216.0,42.4 214.9,42.7 214.8,43.7 214.8,44.7 216.5,45.4 217.1,46.4Z" fill="#78c679"/>
<path d="M231.7,59.3 232.8,59.8 233.3,59.4 234.4,58.5 234.4,57.5 235.9,57.2 237.1,57.4 238.5,57.5 239.1,56.9 239.1,56.2 239.8,56.1 240.7,58.0 242.0,57.1 243.5,57.3 243.2,57.6 241.9,57.9 240.9,58.3 240.6,58.8 241.3,60.0 241.1,61.1 240.2,61.2 240.4,62.3 240.2,63.7 239.2,63.9 238.0,64.7 238.0,66.3 236.0,66.9 234.6,66.9 233.0,66.4 233.5,65.2 233.4,64.4 232.7,64.4 231.9,62.5 232.0,61.8 231.5,60.9Z" fill="#78c679"/>
<path d="M234.8,72.2 237.0,72.1 239.5,72.1 240.2,72.7 241.4,74.2 241.9,73.4 243.9,73.3 243.2,71.6 242.6,70.6 241.8,69.9 242.5,68.7 243.7,67.5 244.7,66.2 245.3,64.9 244.9,63.1 245.7,63.3 244.4,62.5 243.7,61.1 244.1,60.4 246.3,60.0 246.8,59.4 245.2,59.1 244.2,58.0 243.5,57.3 243.2,57.6 241.9,57.9 240.9,58.3 240.6,58.8 241.3,60.0 241.1,61.1 240.2,61.2 240.4,62.3 240.2,63.7 239.2,63.9 238.0,64.7 238.0,66.3 236.0,66.9 234.6,66.9 233.0,66.4 234.2,67.9 235.2,68.4 235.5,69.7 236.0,69.8 236.0,70.4 234.7,71.0Z" fill="#31a354"/>
<path d="M241.4,74.2 242.4,76.0 243.6,75.2 242.5,76.1 244.3,77.9 245.7,77.3 246.0,76.0 246.5,77.6 246.9,80.3 247.9,83.5 249.2,86.2 250.0,88.4 251.6,92.2 253.1,94.7 253.7,93.6 254.7,93.1 255.2,91.8 255.1,89.5 255.3,87.9 254.7,85.1 256.6,83.4 257.6,81.8 258.7,79.7 260.2,77.9 260.3,76.9 261.2,76.7 262.1,76.7 261.6,75.4 260.9,73.4 260.2,72.9 260.0,71.5 260.1,70.7 261.4,71.0 261.7,72.1 264.2,72.4 264.3,73.4 263.5,74.3 264.0,75.2 264.6,74.2 265.4,76.4 265.9,76.1 265.4,73.8 266.3,72.0 266.3,70.4 268.0,69.8 267.8,68.4 266.3,67.0 265.4,67.3 264.6,67.8 263.3,68.8 262.6,68.9 263.3,70.1 261.2,70.3 260.3,70.1 260.1,69.6 259.8,68.7 259.2,68.8 259.7,70.7 257.4,70.4 255.5,69.3 254.8,69.6 252.4,68.4 251.3,67.7 251.7,65.9 250.6,65.2 249.4,64.6 248.7,63.1 249.2,63.0 248.8,61.2 248.2,61.1 246.8,59.4 246.3,60.0 244.1,60.4 243.7,61.1 244.4,62.5 245.7,63.3 244.9,63.1 245.3,64.9 244.7,66.2 243.7,67.5 242.5,68.7 241.8,69.9 242.6,70.6 243.2,71.6 243.9,73.3 241.9,73.4ZM267.5,87.5 267.8,87.8 267.9,90.0 267.6,89.8Z" fill="#006837"/>
<path d="M251.3,67.7 251.7,65.9 252.1,65.7 253.7,66.5 254.8,67.2 256.0,68.0 257.1,68.7 258.1,68.7 259.2,68.8 259.7,70.7 257.4,70.4 255.5,69.3 254.8,69.6 252.4,68.4Z" fill="#006837"/>
<path d="M260.1,69.6 260.3,70.1 261.2,70.3 263.3,70.1 262.6,68.9 261.1,68.4 260.4,68.6Z" fill="#31a354"/>
<path d="M262.1,76.7 263.2,76.5 263.3,75.8 264.2,75.8 265.0,77.3 265.4,78.0 265.2,77.1 265.4,76.4 264.6,74.2 264.0,75.2 263.5,74.3 264.3,73.4 264.2,72.4 261.7,72.1 261.4,71.0 260.1,70.7 260.0,71.5 260.2,72.9 260.9,73.4 261.6,75.4Z" fill="#006837"/>
<path d="M255.3,92.6 255.6,92.4 256.8,94.0 257.6,95.8 257.5,97.0 256.4,97.7 255.8,97.1 255.5,95.5 255.4,93.8Z" fill="#78c679"/>
<path d="M290.1,51.4 290.0,51.3 288.9,50.8 288.0,51.8 288.6,52.5 287.2,52.0 287.0,53.0 286.3,54.1 285.3,54.6 284.4,55.4 284.0,53.5 282.6,53.0 282.0,54.3 281.1,55.0 281.2,55.7 282.7,56.6 283.5,57.4 284.5,56.7 286.4,57.3 285.4,58.1 285.2,58.8 284.8,60.0 286.2,61.0 287.7,63.0 289.1,64.1 289.5,65.1 288.6,65.8 290.2,66.4 290.6,68.3 290.0,69.3 289.9,71.2 289.5,72.9 288.9,73.8 288.1,74.7 286.1,75.7 285.5,76.1 284.0,76.9 282.9,77.4 283.0,78.6 282.0,77.0 280.8,76.7 280.4,76.9 279.3,76.6 278.7,75.3 277.2,74.7 276.1,75.6 274.7,75.4 274.4,75.8 274.0,75.7 274.5,77.4 273.9,77.4 272.6,76.9 271.7,76.2 271.7,75.1 270.7,73.6 269.5,73.8 269.3,72.5 269.9,71.3 269.2,69.3 267.8,68.4 266.3,67.0 265.4,67.3 264.6,67.8 263.3,68.8 262.6,68.9 261.1,68.4 260.4,68.6 260.1,69.6 259.8,68.7 259.2,68.8 258.1,68.7 257.1,68.7 256.0,68.0 254.8,67.2 253.7,66.5 252.1,65.7 251.7,65.9 250.6,65.2 249.4,64.6 248.7,63.1 249.2,63.0 248.8,61.2 248.2,61.1 246.8,59.4 245.2,59.1 244.2,58.0 243.5,57.3 243.0,55.8 242.0,55.7 241.6,54.8 241.5,54.3 242.7,53.4 243.7,53.0 244.9,52.4 246.1,51.6 245.8,50.6 246.1,50.4 245.0,48.6 246.6,48.2 246.3,47.8 246.0,46.0 248.1,46.1 247.6,44.7 248.2,44.0 248.5,43.9 248.9,43.8 249.4,44.5 251.5,45.2 253.1,46.6 253.7,48.1 256.2,48.5 258.2,49.2 259.9,51.0 263.1,51.1 264.8,51.2 268.1,52.2 269.8,51.3 271.8,51.0 272.7,49.8 271.9,48.4 273.5,48.6 273.7,48.4 274.9,47.6 275.6,46.8 277.4,46.5 276.9,46.0 275.3,45.1 274.3,45.3 273.0,45.2 272.4,43.2 273.6,43.5 274.2,43.0 272.8,40.3 273.0,39.6 274.9,39.4 277.7,40.3 281.3,43.2 284.7,44.3 286.0,45.4 288.8,44.7 289.9,48.3 288.4,48.4 289.6,50.1 289.8,51.1ZM281.8,80.0 282.3,78.9 283.8,79.1 283.7,80.6 282.9,81.3 282.0,80.8Z" fill="#006837"/>
<path d="M291.9,72.1 292.5,72.5 292.7,74.4 292.6,76.5 291.5,75.1 291.6,73.1Z" fill="#006837"/>
<path d="M248.9,43.8 250.0,43.1 251.5,42.3 254.4,43.0 256.8,43.0 256.0,41.9 256.2,40.8 259.5,41.6 260.0,42.4 263.8,42.7 264.7,43.1 268.1,43.7 270.3,42.8 272.4,43.2 273.0,45.2 274.3,45.3 275.3,45.1 276.9,46.0 277.4,46.5 275.6,46.8 274.9,47.6 273.7,48.4 273.5,48.6 271.9,48.4 272.7,49.8 271.8,51.0 269.8,51.3 268.1,52.2 264.8,51.2 263.1,51.1 259.9,51.0 258.2,49.2 256.2,48.5 253.7,48.1 253.1,46.6 251.5,45.2 249.4,44.5Z" fill="#addd8e"/>
<path d="M286.3,54.1 287.4,54.7 287.8,55.7 287.8,56.3 289.3,56.7 289.8,56.1 290.8,55.7 289.1,54.3 290.3,53.0 289.7,52.1 290.1,51.4 290.0,51.3 288.9,50.8 288.0,51.8 288.6,52.5 287.2,52.0 287.0,53.0Z" fill="#addd8e"/>
<path d="M289.3,56.7 290.2,57.6 290.0,58.0 291.0,59.3 291.5,60.6 292.5,60.4 293.5,60.3 293.8,59.8 293.2,58.2 292.5,57.4 290.8,55.7 289.8,56.1ZM292.2,62.1 292.7,61.8 292.6,62.2Z" fill="#006837"/>
<path d="M296.1,61.2 296.5,60.1 297.1,59.3 299.2,59.3 299.4,58.8 299.2,57.3 300.0,57.9 300.6,57.0 300.8,55.8 300.1,54.1 299.3,52.7 300.1,52.5 301.0,53.5 302.2,54.7 302.3,56.1 303.2,57.6 303.6,58.8 304.1,59.2 303.7,60.0 302.9,60.5 302.4,60.4 301.3,60.5 301.4,60.9 300.9,61.8 299.6,60.9 299.1,60.4 297.8,60.9 297.3,61.4ZM298.9,52.4 297.8,50.4 298.6,50.3 297.1,48.0 299.0,49.0 301.1,49.2 302.3,50.4 301.4,51.8 299.4,51.2 298.6,51.6ZM295.4,62.1 296.2,61.4 297.7,62.5 298.1,64.4 297.7,64.9 297.0,64.6 296.3,63.1ZM297.5,61.6 298.9,60.9 299.7,61.5 299.1,62.2 298.7,62.7 297.8,62.1ZM297.4,71.1 297.7,70.2 297.7,71.0Z" fill="#006837" stroke-width="0.55"/>
<path d="M265.4,78.0 266.9,79.6 268.0,80.9 268.5,84.2 269.5,84.5 270.9,83.0 271.7,83.5 272.2,85.5 272.9,87.5 273.6,89.8 273.8,92.2 274.3,90.8 274.6,89.8 273.9,88.0 272.6,85.6 272.7,83.9 271.0,80.9 271.1,79.5 272.1,78.8 273.1,78.5 273.9,77.4 272.6,76.9 271.7,76.2 271.7,75.1 270.7,73.6 269.5,73.8 269.3,72.5 269.9,71.3 269.2,69.3 267.8,68.4 268.0,69.8 266.3,70.4 266.3,72.0 265.4,73.8 265.9,76.1 265.4,76.4 265.2,77.1Z" fill="#006837"/>
<path d="M273.8,92.2 273.8,94.4 273.9,95.1 274.9,95.9 275.8,96.9 276.9,97.9 277.8,97.2 276.6,96.3 276.0,95.5 275.5,94.0 274.7,93.1 274.4,91.6 274.9,89.5 274.7,87.6 275.6,87.6 275.7,88.7 277.2,89.2 277.9,90.0 277.3,88.6 277.0,87.4 277.6,86.4 279.6,86.4 279.7,84.6 278.7,83.4 278.4,82.2 277.4,81.2 276.3,81.6 275.6,81.8 274.9,82.2 274.5,79.6 273.7,79.5 273.4,78.6 273.1,78.5 272.1,78.8 271.1,79.5 271.0,80.9 272.7,83.9 272.6,85.6 273.9,88.0 274.6,89.8 274.3,90.8Z" fill="#006837"/>
<path d="M273.1,78.5 273.9,77.4 274.5,77.4 274.0,75.7 274.4,75.8 275.4,76.7 276.8,77.8 277.9,78.9 277.1,79.6 278.6,80.8 280.3,82.9 281.5,84.3 281.9,85.9 280.4,86.3 279.6,86.4 279.7,84.6 278.7,83.4 278.4,82.2 277.4,81.2 276.3,81.6 275.6,81.8 274.9,82.2 274.5,79.6 273.7,79.5 273.4,78.6Z" fill="#31a354"/>
<path d="M280.4,76.9 279.3,76.6 278.7,75.3 277.2,74.7 276.1,75.6 274.7,75.4 274.4,75.8 275.4,76.7 276.8,77.8 277.9,78.9 277.1,79.6 278.6,80.8 280.3,82.9 281.5,84.3 281.9,85.9 282.2,88.2 282.4,89.1 281.3,89.9 280.9,90.0 281.3,91.0 280.2,91.0 279.6,91.6 280.1,92.4 280.3,94.0 280.8,93.5 282.0,91.6 282.9,91.0 284.1,89.8 284.0,88.2 283.3,86.2 282.3,84.1 280.9,82.9 279.9,81.6 279.0,80.3 279.4,78.4 279.9,77.5Z" fill="#006837"/>
<path d="M277.9,90.0 277.3,88.6 277.0,87.4 277.6,86.4 279.6,86.4 280.4,86.3 281.9,85.9 282.2,88.2 282.4,89.1 281.3,89.9 280.9,90.0 281.3,91.0 280.2,91.0 279.6,91.6 278.7,91.4 278.6,90.7 278.0,90.4Z" fill="#006837"/>
<path d="M275.8,96.9 276.9,97.9 277.8,97.2 279.2,99.1 279.3,100.9 280.2,103.7 279.5,103.8 277.2,101.7 276.5,100.2 276.1,98.2ZM285.6,102.9 287.2,103.6 287.3,102.1 288.9,101.3 289.8,99.4 290.4,100.1 291.0,99.8 291.0,98.9 291.8,97.4 292.4,96.2 293.3,97.0 295.0,98.6 294.0,99.8 293.4,100.0 291.5,99.8 291.4,101.6 290.8,102.6 290.8,103.6 288.5,103.6 287.0,104.3 285.9,103.8Z" fill="#006837"/>
<path d="M289.8,99.4 291.0,98.9 291.0,99.8 290.4,100.1Z" fill="#006837"/>
<path d="M279.6,103.6 280.0,103.6 280.0,103.9 279.6,103.9Z" fill="#006837"/>
<path d="M285.6,102.9 285.9,103.8 287.0,104.3 288.5,103.6 290.8,103.6 290.8,102.6 291.4,101.6 291.5,99.8 293.4,100.0 293.7,100.9 294.0,102.6 295.0,104.3 293.8,104.5 293.5,106.7 292.5,107.8 292.2,110.0 291.9,111.0 290.5,111.1 290.4,110.2 288.9,109.9 287.6,110.3 286.1,109.6 286.2,107.9 285.0,105.9 285.0,103.8ZM271.1,98.1 273.3,98.6 274.2,99.8 275.9,101.7 276.4,102.5 277.5,102.9 279.0,104.7 279.8,105.6 279.5,106.9 280.5,108.0 281.9,109.6 281.7,111.7 281.5,113.4 280.3,113.5 280.1,113.0 278.2,111.0 276.9,109.2 276.3,106.9 275.0,105.2 274.7,103.3 273.1,101.3 271.9,99.8ZM280.8,114.7 282.2,113.7 284.0,114.1 286.5,114.2 288.3,114.9 289.9,116.0 289.8,117.3 288.1,116.9 285.5,116.4 283.5,116.1 282.0,115.6ZM290.4,116.5 292.1,116.8 294.4,116.8 296.4,116.9 298.4,116.6 298.1,117.3 295.3,117.6 292.3,117.7 290.5,117.4ZM294.2,118.2 295.9,118.9 295.1,119.4ZM298.5,119.4 299.6,118.1 300.3,117.7 300.3,118.4 299.5,119.3ZM295.2,113.0 295.7,110.3 294.7,109.4 295.3,106.9 295.8,105.3 296.8,103.8 299.0,104.3 301.0,103.4 300.5,105.1 299.0,104.9 297.0,105.1 296.2,106.8 297.5,106.8 299.3,106.8 298.8,107.8 297.7,108.2 298.4,109.9 299.0,111.4 298.7,112.9 297.8,111.9 297.4,110.7 296.9,109.2 296.3,109.5 296.2,111.9 296.1,113.1ZM303.5,103.2 303.9,102.6 304.7,104.3 304.0,105.6 304.3,106.7 303.7,106.0 303.8,104.5ZM301.9,109.9 302.9,109.9 302.9,110.7 301.9,110.6ZM303.9,109.6 306.7,109.9 306.2,110.7 304.0,110.3ZM307.0,106.7 308.5,106.1 310.0,106.7 310.2,109.0 311.2,110.0 312.9,108.4 314.5,108.0 316.9,109.1 316.6,113.5 316.1,117.8 315.1,116.5 313.3,116.9 314.1,115.3 313.7,113.0 311.8,111.8 309.8,110.9 308.8,111.1 308.7,110.0 307.9,109.4 309.6,108.6 308.0,108.3 307.0,107.4ZM281.3,107.9 282.2,107.9 282.6,109.6 281.9,109.6ZM283.5,109.1 284.2,109.2 283.9,109.9ZM273.0,103.7 273.9,104.8 273.5,104.3ZM274.6,106.9 275.3,108.0 274.9,108.0ZM309.9,113.4 310.5,113.1 310.2,114.6ZM306.5,115.7 307.2,115.3 306.9,116.4Z" fill="#006837" stroke-width="0.42"/>
<path d="M300.3,117.7 302.6,116.9 302.1,117.6 300.3,118.4Z" fill="#006837"/>
<path d="M294.1,84.2 293.6,80.9 295.2,80.9 295.9,83.5 295.4,84.6 295.9,86.6 297.0,86.6 298.3,87.1 298.4,88.3 297.4,87.9 296.2,87.2 295.1,87.1 294.8,86.2 294.0,85.5ZM297.6,96.2 298.8,94.0 300.1,93.5 300.6,92.4 301.7,94.2 302.1,96.5 301.6,97.1 301.1,98.1 300.7,97.5 299.6,96.9 299.7,95.6 298.8,95.5ZM298.9,88.8 300.5,90.6 300.3,92.0 299.4,90.8ZM296.8,89.8 297.9,90.2 298.5,91.5 298.4,93.4 297.6,92.6 297.5,91.2 296.9,91.5ZM292.6,94.3 294.5,91.4 294.6,90.4 294.1,91.6 292.8,93.5ZM294.8,87.6 296.0,87.9 295.9,89.2 295.4,88.7Z" fill="#006837" stroke-width="0.65"/>
<path d="M217.7,46.8 219.2,46.2 220.8,46.4 221.3,48.0 220.0,48.1 219.9,49.0 219.3,49.2 220.4,50.4 221.7,50.9 222.0,52.1 222.4,52.7 223.0,54.1 224.0,55.3 224.5,57.2 224.7,57.7 223.5,58.1 222.3,58.0 221.3,57.1 220.2,56.9 219.8,55.9 219.9,54.9 219.8,53.9 220.5,53.6 219.3,52.9 218.5,52.0 217.3,50.6 216.2,49.0 216.3,48.6 217.4,47.6Z" fill="#31a354"/>
<path d="M174.0,59.9 173.3,59.7 171.9,59.8 171.1,58.9 170.6,59.1 169.8,61.2 168.2,62.1 167.4,63.1 166.9,64.3 167.0,65.7 166.4,67.0 165.2,68.3 163.7,69.1 167.8,69.1 167.8,67.8 169.4,66.8 171.3,66.2 172.6,65.1 173.2,63.9 174.9,63.6 174.4,61.8 174.4,60.6Z" fill="#006837"/>
<path d="M163.7,69.1 167.8,69.1 167.8,71.2 164.6,71.2 164.5,74.4 163.5,75.1 163.4,77.2 159.6,77.2 159.5,77.9 159.7,76.5 160.6,74.2 161.8,71.8 162.3,70.8Z" fill="#31a354"/>
<path d="M159.5,77.9 160.0,79.7 160.3,81.6 159.8,84.1 161.8,83.3 162.9,84.7 164.0,85.8 164.7,84.8 165.5,85.0 166.8,84.9 170.6,84.9 170.5,83.5 169.8,72.5 171.4,72.5 167.8,69.6 167.8,69.1 167.8,71.2 164.6,71.2 164.5,74.4 163.5,75.1 163.4,77.2 159.6,77.2Z" fill="#78c679"/>
<path d="M174.0,59.9 176.0,58.9 177.2,58.2 178.7,57.9 180.8,57.9 182.6,57.5 183.8,57.7 183.6,59.8 183.5,60.6 182.9,61.5 184.3,63.6 184.9,65.9 185.3,68.3 185.4,70.6 185.6,73.1 187.5,74.4 183.3,77.8 181.6,79.7 180.1,80.1 179.2,80.3 179.1,79.2 177.7,78.6 171.4,72.5 167.8,69.6 167.8,69.1 167.8,67.8 169.4,66.8 171.3,66.2 172.6,65.1 173.2,63.9 174.9,63.6 174.4,61.8 174.4,60.6Z" fill="#31a354"/>
<path d="M183.8,57.7 184.8,57.3 185.9,57.6 185.5,58.3 185.6,59.4 186.1,60.5 185.3,61.0 185.2,61.5 186.6,62.3 186.6,63.2 185.6,64.1 185.4,65.2 184.9,65.9 184.3,63.6 182.9,61.5 183.5,60.6 183.6,59.8Z" fill="#31a354"/>
<path d="M186.6,62.3 188.2,62.6 190.1,63.3 190.6,64.4 192.3,65.1 193.7,65.8 194.6,64.9 194.6,63.3 195.9,62.6 197.3,63.0 199.3,64.1 199.5,67.2 200.1,76.3 200.3,78.9 199.3,78.9 199.3,79.6 191.4,74.5 190.4,75.1 189.7,75.6 187.5,74.4 185.6,73.1 185.4,70.6 185.3,68.3 184.9,65.9 185.4,65.2 185.6,64.1 186.6,63.2Z" fill="#31a354"/>
<path d="M199.3,64.1 201.4,64.6 203.0,65.1 204.2,64.3 205.0,64.2 206.0,64.6 207.8,64.6 208.7,66.8 208.5,68.7 208.4,69.0 207.7,68.4 206.5,66.2 206.6,66.8 207.6,68.9 208.3,70.6 210.0,73.8 210.4,74.8 211.6,76.3 200.1,76.3 199.5,67.2Z" fill="#006837"/>
<path d="M211.6,76.3 212.0,77.6 212.3,79.6 213.7,81.6 212.2,82.7 211.9,85.2 212.0,86.4 211.7,88.6 210.7,89.8 210.6,91.1 210.0,91.4 209.9,92.8 208.8,91.4 208.8,89.2 208.4,89.4 207.5,91.6 206.5,92.4 205.3,92.4 203.8,93.0 202.4,92.8 200.8,91.8 199.9,93.9 199.4,93.5 199.4,92.3 198.7,91.0 198.7,90.3 198.2,88.7 197.5,88.6 197.9,87.2 198.2,86.7 198.5,84.6 199.6,84.6 199.3,79.6 199.3,78.9 200.3,78.9 200.1,76.3Z" fill="#addd8e"/>
<path d="M199.9,93.9 200.8,91.8 202.4,92.8 203.8,93.0 205.3,92.4 206.5,92.4 207.5,91.6 208.4,89.4 208.8,89.2 208.8,91.4 209.9,92.8 209.9,94.0 209.5,94.3 208.9,95.1 209.9,95.5 210.6,96.6 211.2,98.3 211.8,98.5 211.9,99.4 210.0,99.9 208.7,100.6 207.9,100.8 206.8,100.9 206.2,100.3 205.5,99.7 204.4,99.8 203.4,98.8 202.3,96.7 201.1,95.4Z" fill="#addd8e"/>
<path d="M159.8,84.1 158.8,85.9 159.4,87.4 160.7,87.2 162.4,87.5 162.4,87.9 160.7,87.8 159.5,88.0 159.5,89.0 161.2,88.9 162.5,88.6 163.8,89.1 164.7,89.0 164.6,87.8 164.0,85.8 162.9,84.7 161.8,83.3Z" fill="#31a354"/>
<path d="M159.4,87.4 160.7,87.2 162.4,87.5 162.4,87.9 160.7,87.8 159.5,88.0Z" fill="#006837"/>
<path d="M159.5,89.0 161.2,88.9 162.5,88.6 162.4,89.9 161.1,90.8 160.2,90.0Z" fill="#78c679"/>
<path d="M161.0,90.9 162.4,89.9 162.5,88.6 163.8,89.1 164.7,89.0 165.4,89.6 166.8,89.0 167.8,90.6 168.1,91.9 168.3,93.4 167.8,94.6 167.5,95.4 166.7,95.6 166.5,94.3 165.8,94.2 165.5,93.4 164.9,92.2 163.6,92.3 162.8,93.4 162.4,92.8 161.5,91.6Z" fill="#78c679"/>
<path d="M162.8,93.4 163.6,92.3 164.9,92.2 165.5,93.4 165.8,94.2 164.5,96.2 163.6,95.6 162.9,94.3Z" fill="#78c679"/>
<path d="M164.5,96.2 165.8,94.2 166.5,94.3 166.7,95.6 167.5,95.4 167.7,97.0 168.5,97.7 168.5,99.7 167.0,98.9 165.2,97.1Z" fill="#78c679"/>
<path d="M168.5,99.7 168.5,97.7 167.7,97.0 167.5,95.4 167.8,94.6 168.3,93.4 168.1,91.9 169.9,91.4 170.5,91.6 171.3,92.6 173.2,92.4 173.3,92.8 173.5,94.6 172.8,96.5 173.2,98.7 172.9,98.7 171.0,98.7Z" fill="#78c679"/>
<path d="M172.9,98.7 173.2,98.7 172.8,96.5 173.5,94.6 173.3,92.8 173.2,92.4 173.2,90.8 175.9,90.7 176.3,91.8 176.5,94.2 176.6,96.5 177.2,97.4 176.0,97.9 174.0,99.2Z" fill="#31a354"/>
<path d="M177.2,97.4 176.6,96.5 176.5,94.2 176.3,91.8 175.9,90.7 176.9,90.8 176.8,91.6 177.4,93.1 177.6,97.3Z" fill="#31a354"/>
<path d="M177.6,97.3 177.4,93.1 176.8,91.6 176.9,90.8 177.4,90.2 178.4,89.6 178.4,89.1 179.6,89.9 179.6,91.9 178.8,93.5 178.7,97.0Z" fill="#31a354"/>
<path d="M170.5,91.6 170.8,89.8 171.7,88.6 172.1,87.6 172.8,87.2 174.0,86.6 175.3,85.4 176.2,85.6 176.4,86.8 177.0,87.6 178.1,88.6 178.4,89.1 178.4,89.6 177.4,90.2 176.9,90.8 175.9,90.7 173.2,90.8 173.2,92.4 171.3,92.6Z" fill="#78c679"/>
<path d="M164.0,85.8 164.6,87.8 164.7,89.0 165.4,89.6 166.8,89.0 167.8,90.6 168.1,91.9 169.9,91.4 170.5,91.6 170.8,89.8 171.7,88.6 172.1,87.6 172.8,87.2 174.0,86.6 175.3,85.4 176.2,85.6 177.3,85.1 179.4,85.0 180.1,83.5 180.1,80.1 179.2,80.3 179.1,79.2 177.7,78.6 171.4,72.5 169.8,72.5 170.5,83.5 170.6,84.9 166.8,84.9 165.5,85.0 164.7,84.8Z" fill="#78c679"/>
<path d="M176.2,85.6 176.4,86.8 177.0,87.6 178.1,88.6 178.4,89.1 179.6,89.9 180.0,87.5 182.8,88.2 184.4,88.0 185.4,88.4 188.3,88.0 189.4,87.2 189.3,86.2 191.2,83.0 191.2,80.3 191.4,78.4 190.4,75.1 189.7,75.6 187.5,74.4 183.3,77.8 181.6,79.7 180.1,80.1 180.1,83.5 179.4,85.0 177.3,85.1Z" fill="#addd8e"/>
<path d="M178.7,97.0 180.5,97.1 181.5,98.6 182.0,99.8 183.5,99.5 184.5,99.4 184.9,97.8 186.0,96.3 187.3,96.7 187.8,96.2 188.2,94.2 189.1,92.8 189.7,90.8 190.5,90.2 190.0,89.0 189.9,88.0 189.4,87.2 188.3,88.0 185.4,88.4 184.4,88.0 182.8,88.2 180.0,87.5 179.6,89.9 179.6,91.9 178.8,93.5Z" fill="#78c679"/>
<path d="M184.5,99.4 185.5,100.3 185.8,102.6 187.3,102.6 189.3,102.6 190.5,102.6 192.1,103.3 192.2,102.6 191.8,101.4 191.0,100.2 190.5,98.9 190.6,97.3 191.4,95.5 190.9,94.0 189.8,92.7 190.1,92.2 191.4,92.2 190.9,91.0 190.9,89.5 190.4,88.6 189.9,88.0 190.0,89.0 190.5,90.2 189.7,90.8 189.1,92.8 188.2,94.2 187.8,96.2 187.3,96.7 186.0,96.3 184.9,97.8Z" fill="#31a354"/>
<path d="M185.8,102.6 187.3,102.6 187.3,104.3 185.6,104.3ZM184.5,100.6 184.9,100.6 184.7,101.2Z" fill="#78c679"/>
<path d="M185.6,104.3 187.3,104.3 187.3,102.6 189.3,102.6 189.2,103.8 190.4,103.8 190.5,106.4 189.9,108.8 188.8,108.2 187.6,108.8 187.9,110.6 187.1,110.9 185.6,108.8 184.8,106.5 185.3,105.2Z" fill="#addd8e"/>
<path d="M187.1,110.9 187.9,110.6 187.6,108.8 188.8,108.2 189.9,108.8 190.5,106.4 190.4,103.8 189.2,103.8 189.3,102.6 190.5,102.6 192.1,103.3 192.2,102.6 192.6,100.9 194.6,100.9 194.1,102.5 193.8,105.2 193.7,106.4 192.2,108.6 191.9,110.9 191.3,111.4 190.4,112.2 189.4,112.2 189.1,111.8 188.8,111.5 188.0,112.3 187.8,111.8Z" fill="#31a354"/>
<path d="M188.2,113.4 188.5,113.3 189.1,111.8 189.4,112.2 190.4,112.2 191.3,111.4 191.9,110.9 192.2,108.6 193.7,106.4 193.8,105.2 194.1,102.5 194.6,100.9 195.5,98.7 196.9,99.7 198.4,100.1 198.9,99.1 200.4,98.7 201.3,98.9 203.4,98.8 204.4,99.8 205.5,99.7 206.2,100.3 206.8,100.9 206.7,102.4 207.3,102.7 206.5,104.0 205.9,104.5 205.6,106.3 205.6,107.5 205.2,107.9 205.3,109.1 205.0,109.4 205.2,110.0 205.2,111.5 205.4,111.6 205.2,113.0 205.5,114.6 206.5,116.6 204.7,117.0 204.2,118.0 204.4,120.0 204.1,121.4 204.7,122.2 205.2,122.0 205.4,123.6 204.6,123.6 203.7,122.2 202.9,121.2 201.7,121.6 201.1,120.6 200.2,120.9 199.8,120.2 198.0,120.6 198.1,119.7 197.7,118.4 197.8,116.6 197.7,115.4 196.4,115.4 196.2,114.9 195.4,115.0 194.9,116.4 193.5,116.5 192.8,115.3 192.6,113.5 189.4,113.5 188.4,113.7Z" fill="#addd8e"/>
<path d="M188.4,113.7 189.4,113.5 192.6,113.5 192.8,115.3 193.5,116.5 194.9,116.4 195.4,115.0 196.2,114.9 196.4,115.4 197.7,115.4 197.8,116.6 197.7,118.4 198.1,119.7 198.0,120.6 199.8,120.2 199.7,123.0 197.7,123.0 197.6,127.3 198.9,129.1 196.9,129.6 194.0,128.9 189.9,128.9 189.1,128.3 187.5,128.7 187.6,127.8 187.9,125.7 188.3,123.7 189.2,122.4 189.7,120.0 189.3,117.4 188.8,115.4ZM188.0,112.3 188.8,111.5 189.1,111.8 188.5,113.3 188.2,113.4Z" fill="#78c679"/>
<path d="M199.8,120.2 199.7,123.0 197.7,123.0 197.6,127.3 198.9,129.1 200.7,129.4 202.4,129.6 204.4,127.0 205.9,126.5 205.7,125.6 208.7,124.4 208.4,123.7 208.6,122.2 209.0,120.1 208.7,118.2 207.0,117.2 206.5,116.6 204.7,117.0 204.2,118.0 204.4,120.0 204.1,121.4 204.7,122.2 205.2,122.0 205.4,123.6 204.6,123.6 203.7,122.2 202.9,121.2 201.7,121.6 201.1,120.6 200.2,120.9Z" fill="#78c679"/>
<path d="M187.5,128.7 188.2,130.9 189.0,133.4 190.0,135.8 189.9,137.4 190.2,140.6 191.5,143.3 192.4,143.4 193.9,143.7 194.8,143.0 195.1,138.5 195.3,134.9 196.3,134.9 196.5,130.0 198.8,129.6 199.8,129.6 200.7,129.4 198.9,129.1 196.9,129.6 194.0,128.9 189.9,128.9 189.1,128.3Z" fill="#31a354"/>
<path d="M195.1,138.5 195.3,134.9 196.3,134.9 196.5,130.0 198.8,129.6 199.8,129.6 200.7,129.4 200.7,130.4 201.4,132.1 202.9,132.9 202.8,133.7 203.4,134.3 204.3,135.1 202.9,135.9 201.9,137.0 200.8,138.3 199.6,139.7 197.9,139.1 196.9,140.5 195.7,141.1Z" fill="#addd8e"/>
<path d="M191.5,143.3 191.9,145.0 192.5,148.4 192.9,149.8 192.9,150.4 194.3,150.9 196.2,150.1 198.0,150.1 199.6,150.0 201.3,149.1 202.9,147.5 204.5,145.7 205.1,144.8 206.5,143.2 207.2,141.1 206.4,141.1 205.6,141.6 205.3,141.3 205.3,140.5 205.8,139.7 206.4,140.0 206.5,137.8 206.2,135.4 204.9,135.2 204.3,135.1 202.9,135.9 201.9,137.0 200.8,138.3 199.6,139.7 197.9,139.1 196.9,140.5 195.7,141.1 195.1,138.5 194.8,143.0 193.9,143.7 192.4,143.4Z" fill="#31a354"/>
<path d="M201.3,144.5 202.3,143.4 203.2,143.5 203.6,144.4 203.0,145.2 202.2,145.8 201.6,145.4Z" fill="#78c679"/>
<path d="M205.3,140.5 205.8,139.7 206.4,140.0 206.4,141.1 205.6,141.6 205.3,141.3Z" fill="#31a354"/>
<path d="M200.7,129.4 202.4,129.6 204.4,127.0 205.9,126.5 206.7,127.0 208.2,127.9 208.2,129.6 207.9,130.8 208.1,132.0 207.5,133.0 207.3,133.9 206.2,135.4 204.9,135.2 204.3,135.1 203.4,134.3 202.8,133.7 202.9,132.9 201.4,132.1 200.7,130.4Z" fill="#78c679"/>
<path d="M207.2,141.1 207.0,139.9 208.0,139.0 210.0,137.4 210.2,135.1 209.9,132.9 209.7,132.0 212.0,129.5 214.2,128.1 215.9,126.3 216.2,124.8 216.0,122.5 216.1,119.7 214.1,120.9 212.1,121.3 210.7,121.2 210.2,123.0 210.8,124.9 211.3,125.6 211.1,127.0 210.6,128.5 209.7,127.0 210.0,125.3 208.7,124.4 205.7,125.6 205.9,126.5 206.7,127.0 208.2,127.9 208.2,129.6 207.9,130.8 208.1,132.0 207.5,133.0 207.3,133.9 206.2,135.4 206.5,137.8 206.4,140.0 206.4,141.1Z" fill="#addd8e"/>
<path d="M208.7,118.2 209.1,118.4 209.8,118.4 210.3,119.7 210.7,121.2 210.2,123.0 210.8,124.9 211.3,125.6 211.1,127.0 210.6,128.5 209.7,127.0 210.0,125.3 208.7,124.4 208.4,123.7 208.6,122.2 209.0,120.1Z" fill="#78c679"/>
<path d="M216.1,119.7 215.6,117.7 215.1,115.7 215.4,114.7 214.7,113.7 215.1,111.9 213.7,110.3 213.6,109.6 210.0,106.9 206.5,106.9 206.8,108.7 206.5,108.8 206.8,110.0 206.4,110.7 205.9,111.5 205.4,111.6 205.2,113.0 205.5,114.6 206.5,116.6 207.0,117.2 208.7,118.2 209.1,118.4 209.8,118.4 210.3,119.7 210.7,121.2 212.1,121.3 214.1,120.9ZM215.1,113.4 215.5,114.1 215.2,114.2Z" fill="#78c679"/>
<path d="M215.1,111.9 215.7,111.0 216.2,109.2 217.5,107.9 217.0,106.7 217.0,101.8 217.9,100.3 215.5,101.0 214.1,100.8 212.8,99.7 211.9,99.4 210.0,99.9 210.5,101.3 211.0,103.0 210.5,104.1 210.0,105.2 209.9,106.9 213.6,109.6 213.7,110.3Z" fill="#006837"/>
<path d="M205.6,107.5 205.6,106.3 205.9,104.5 206.5,104.0 207.3,102.7 206.7,102.4 206.8,100.9 207.9,100.8 208.7,100.6 210.0,99.9 210.5,101.3 211.0,103.0 210.5,104.1 210.0,105.2 209.9,106.9 206.5,106.9Z" fill="#31a354"/>
<path d="M205.6,107.5 206.5,106.9 206.8,108.7 206.5,108.8 205.9,109.2 205.0,109.4 205.3,109.1 205.2,107.9Z" fill="#006837"/>
<path d="M205.0,109.4 205.9,109.2 206.5,108.8 206.8,110.0 206.4,110.7 205.9,111.5 205.4,111.6 205.2,111.5 205.2,110.0Z" fill="#31a354"/>
<path d="M217.5,107.9 218.6,105.9 220.0,104.3 221.3,102.9 223.6,99.8 224.9,97.3 225.9,94.6 226.5,92.8 226.7,91.6 226.8,89.8 226.3,89.5 224.5,90.4 222.6,90.7 220.6,91.5 219.7,91.6 218.8,90.2 218.5,90.9 219.3,93.0 219.7,93.5 220.8,94.0 222.8,94.8 223.8,94.8 220.9,98.9 219.8,99.0 218.8,99.8 217.9,100.3 217.0,101.8 217.0,106.7Z" fill="#78c679"/>
<path d="M218.8,90.2 218.5,90.9 217.4,90.8 217.4,89.9 217.9,88.9 218.6,88.6 218.9,89.5 218.3,90.0Z" fill="#31a354"/>
<path d="M218.6,88.6 217.9,88.9 217.2,87.8 216.2,86.6 214.5,86.0 213.3,85.8 212.9,86.6 212.0,86.4 211.9,85.2 212.2,82.7 213.7,81.6 214.4,83.5 214.8,84.7 215.9,85.8 216.6,86.2 217.7,87.6Z" fill="#addd8e"/>
<path d="M217.9,88.9 217.4,89.9 217.4,90.8 218.5,90.9 219.3,93.0 219.7,93.5 220.8,94.0 222.8,94.8 223.8,94.8 220.9,98.9 219.8,99.0 218.8,99.8 217.9,100.3 215.5,101.0 214.1,100.8 212.8,99.7 211.9,99.4 211.8,98.5 211.2,98.3 210.6,96.6 209.9,95.5 208.9,95.1 209.5,94.3 209.9,94.0 209.9,92.8 210.0,91.4 210.6,91.1 210.7,89.8 211.7,88.6 212.0,86.4 212.9,86.6 213.3,85.8 214.5,86.0 216.2,86.6 217.2,87.8Z" fill="#addd8e"/>
<path d="M191.4,95.5 190.6,97.3 190.5,98.9 191.0,100.2 191.8,101.4 192.2,102.6 192.6,100.9 194.6,100.9 195.5,98.7 196.9,99.7 198.4,100.1 198.9,99.1 200.4,98.7 201.3,98.9 203.4,98.8 202.3,96.7 201.1,95.4 199.9,93.9 199.4,93.5 199.4,92.3 198.7,91.0 197.8,91.2 197.5,91.4 196.3,93.4 194.9,93.5 194.8,93.8 193.6,95.0 192.5,95.2Z" fill="#addd8e"/>
<path d="M189.4,87.2 189.9,88.0 190.4,88.6 190.9,89.5 190.9,91.0 191.4,92.2 190.1,92.2 189.8,92.7 190.9,94.0 191.4,95.5 192.5,95.2 193.6,95.0 194.8,93.8 194.9,93.5 196.3,93.4 197.5,91.4 197.8,91.2 198.7,91.0 198.7,90.3 198.2,88.7 197.5,88.6 197.9,87.2 198.2,86.7 198.5,84.6 199.6,84.6 199.3,79.6 191.4,74.5 190.4,75.1 191.4,78.4 191.2,80.3 191.2,83.0 189.3,86.2Z" fill="#addd8e"/>
<path d="M224.8,121.7 225.6,126.2 224.8,128.1 224.5,129.0 223.0,132.9 221.1,138.5 219.1,139.4 218.0,138.6 217.8,135.1 219.1,132.3 219.0,129.0 220.7,126.9 221.8,126.3 223.2,125.2 224.2,123.4Z" fill="#addd8e"/>
<path d="M218.8,120.9 219.1,120.9 219.1,121.6 218.8,121.6Z" fill="#006837"/>
<path d="M231.6,132.3 232.1,132.3 232.0,132.9 231.6,132.9Z" fill="#006837"/>
<path d="M229.5,133.4 230.0,133.4 230.0,134.1 229.4,134.1Z" fill="#006837"/>
<path d="M152.4,85.5 153.0,85.2 152.9,85.6ZM151.2,82.9 151.6,82.7 151.5,83.1Z" fill="#006837"/>
<path d="M182.5,105.1 182.8,105.1 182.6,105.6Z" fill="#006837"/>
<path d="M317.3,120.0 317.8,122.8 317.6,124.9 318.9,125.7 318.5,127.7 318.4,130.8 320.1,132.5 320.3,134.2 320.9,136.5 321.7,138.5 321.7,140.0 320.6,143.3 318.4,146.3 316.8,148.1 314.9,149.7 311.9,153.0 310.9,154.2 308.8,154.6 306.5,156.1 305.8,155.1 304.1,155.7 302.6,155.2 302.0,154.2 302.7,152.1 302.0,151.9 302.2,150.6 301.4,151.4 303.0,149.0 303.3,148.2 300.2,150.9 299.8,151.1 299.7,148.7 299.6,147.6 297.9,146.9 295.7,147.1 292.6,147.9 290.3,148.7 289.3,149.8 286.1,149.8 283.7,151.2 281.9,151.1 281.4,150.4 283.2,147.5 283.6,145.0 284.0,141.9 283.6,140.1 284.6,138.1 285.5,135.6 286.2,134.6 287.8,133.6 289.4,133.0 291.6,132.3 293.6,131.7 295.3,129.6 295.7,128.3 296.8,128.7 297.3,127.3 298.9,126.1 300.2,124.4 301.7,124.4 302.2,125.4 303.4,125.6 304.1,123.7 305.0,122.2 307.3,120.6 308.1,121.4 310.1,121.7 311.3,122.0 310.2,123.7 309.3,125.7 310.5,126.7 311.7,128.1 313.3,129.1 314.4,127.0 315.5,124.4 316.1,122.4ZM303.7,157.9 304.9,158.4 306.8,158.0 305.6,159.6 304.0,160.8 303.1,161.2 302.5,161.0 302.9,159.6ZM300.2,152.0 301.4,152.1 300.7,152.5 300.0,152.4ZM305.0,120.9 306.1,120.8 305.5,121.4ZM310.5,124.1 310.9,124.4 310.6,124.8Z" fill="#006837"/>
<path d="M334.1,150.4 334.8,151.5 334.7,153.1 334.2,154.3 336.0,154.3 336.4,154.4 334.4,156.2 333.4,156.5 332.3,157.7 329.8,159.0 329.6,158.6 331.2,157.1 330.7,156.3 331.9,155.7 333.4,153.9 333.8,152.7 333.7,151.4ZM328.6,157.7 328.8,159.1 327.5,160.0 325.7,161.1 325.5,161.6 323.5,162.0 321.4,163.8 319.6,164.6 318.6,164.6 317.5,164.1 318.1,163.5 320.8,161.9 323.1,161.1 325.4,159.9 327.7,158.2ZM317.7,164.8 318.1,164.9 317.4,165.3Z" fill="#006837" stroke-width="0.4"/>
<path d="M316.9,109.1 318.4,109.9 320.3,110.7 321.5,112.2 322.5,113.5 323.3,114.6 322.5,114.7 322.8,116.2 323.6,117.7 325.7,119.3 324.6,119.7 322.7,119.0 322.0,118.1 321.3,116.6 319.9,115.8 318.8,116.6 317.6,118.0 316.1,117.8 316.6,113.5ZM324.0,113.1 325.7,112.5 327.3,111.3 328.1,111.4 327.5,113.0 325.9,113.9 324.1,113.9ZM326.6,109.1 327.1,109.2 328.8,111.5 328.6,112.1 327.8,110.6ZM330.4,113.0 331.4,114.7 330.7,114.5ZM322.5,108.3 323.3,108.3 322.9,108.7Z" fill="#addd8e"/>
<path d="M334.7,118.2 335.6,118.9 335.3,118.2ZM335.9,116.9 336.2,118.4 335.9,118.1ZM333.6,115.7 335.0,116.9 334.5,116.9ZM332.0,114.6 332.9,115.6 332.4,115.4ZM336.0,119.4 336.9,120.1 336.3,119.8Z" fill="#78c679" stroke-width="0.5"/>
<path d="M339.9,125.7 340.3,126.3 339.9,126.9ZM340.4,129.1 340.7,129.2 340.4,129.5ZM340.1,127.3 340.5,127.7 340.1,127.8Z" fill="#78c679" stroke-width="0.6"/>
<path d="M335.2,132.4 336.7,134.7 336.9,135.4 336.3,135.2 335.2,133.2Z" fill="#006837" stroke-width="0.5"/>
<path d="M349.3,129.1 350.6,129.0 350.2,129.9 349.1,129.9ZM351.0,128.1 352.5,127.4 352.2,127.9Z" fill="#006837" stroke-width="0.6"/>
<path d="M5.6,123.7 6.1,123.7 6.9,124.2 6.5,124.4Z" fill="#006837"/>
<path d="M6.4,133.7 6.6,133.7 6.7,133.9Z" fill="#006837"/>
<path d="M29.7,129.0 30.2,129.1 30.1,129.5Z" fill="#006837"/>
<path d="M18.5,103.2 18.8,103.0 18.7,103.3Z" fill="#006837"/>
<path d="M98.2,46.4 101.0,45.1 102.7,44.3 104.7,45.2 104.3,46.6 102.3,46.7 99.8,46.5ZM98.9,52.1 99.7,52.1 101.0,50.6 103.6,47.5 102.3,47.5 100.4,49.0ZM104.0,47.3 105.4,47.2 107.8,47.5 107.5,48.6 105.1,50.4 104.4,50.5 103.9,49.5 104.8,48.1ZM102.9,52.0 104.9,52.2 107.3,50.9 106.3,51.0 103.9,51.6ZM106.8,50.3 109.2,50.3 110.2,49.5 108.6,49.6 107.3,49.7Z" fill="#fff" stroke-width="0.45"/>
<path d="M72.7,37.9 72.6,37.7 72.5,37.4 72.5,37.2 72.4,36.9 72.4,36.7 72.4,36.4 72.4,36.1 72.4,35.8 72.4,35.6 72.3,35.3 72.3,35.1 72.3,34.9" fill="none" stroke="#000" stroke-width="1.7" stroke-linecap="round"/><path d="M72.9,43.2 72.7,42.8 72.5,42.3 72.3,41.9 72.1,41.4 72.2,40.9 72.2,40.4 72.3,39.9 72.3,39.4 72.4,39.1 72.5,38.8 72.6,38.4 72.7,38.1" fill="none" stroke="#000" stroke-width="0.7" stroke-linecap="round"/><path d="M111.4,159.4 111.6,160.3 111.8,161.1 112.0,162.0 112.2,162.8 112.4,163.6 112.6,164.5 112.9,165.3 113.1,166.1 113.5,166.8 113.8,167.4 114.2,168.1 114.6,168.7 115.1,169.3 115.7,169.9 116.2,170.5 116.8,171.1 117.5,171.5 118.2,171.9 118.9,172.2 119.5,172.6 120.3,172.9 121.0,173.2 121.8,173.5 122.5,173.8" fill="none" stroke="#000" stroke-width="1.0" stroke-linecap="round"/><path d="M179.9,33.2 180.0,32.8 180.0,32.3 180.0,31.9 180.1,31.5 180.6,31.1 181.1,30.7 181.6,30.3 182.2,30.0 182.7,29.7 183.2,29.4 183.7,29.1 184.2,28.8 184.5,28.4 184.8,28.1 185.1,27.7 185.4,27.3 185.8,27.0 186.2,26.7 186.6,26.4 187.0,26.1 187.6,25.9 188.3,25.7 188.9,25.5 189.6,25.3 190.2,25.2 190.9,25.0 191.5,24.8 192.1,24.7" fill="none" stroke="#000" stroke-width="0.55" stroke-linecap="round"/><path d="M171.3,36.9 171.2,36.6 171.1,36.2 171.1,35.9 171.0,35.5 171.2,35.3 171.4,35.1 171.6,34.9 171.8,34.7" fill="none" stroke="#000" stroke-width="0.6" stroke-linecap="round"/><path d="M197.5,56.4 197.9,56.7 198.3,57.0 198.6,57.3 199.0,57.6 199.2,57.2 199.4,56.7 199.5,56.3 199.7,55.8 199.3,55.5 198.9,55.1 198.6,54.7 198.2,54.3" fill="none" stroke="#000" stroke-width="0.5" stroke-linecap="round"/>
</g>
<g font-size="5.3" fill="#111"><text x="371.5" y="286.7">Proportion (%)</text>
<rect x="371.6" y="291.40" width="9.9" height="5.1" fill="#b2b2b2" stroke="#333" stroke-width="0.45"/><text x="383.5" y="295.80">No data</text>
<rect x="371.6" y="299.16" width="9.9" height="5.1" fill="#d9f0a3" stroke="#333" stroke-width="0.45"/><text x="383.5" y="303.56">0-20</text>
<rect x="371.6" y="306.92" width="9.9" height="5.1" fill="#addd8e" stroke="#333" stroke-width="0.45"/><text x="383.5" y="311.32">20-40</text>
<rect x="371.6" y="314.68" width="9.9" height="5.1" fill="#78c679" stroke="#333" stroke-width="0.45"/><text x="383.5" y="319.08">40-60</text>
<rect x="371.6" y="322.44" width="9.9" height="5.1" fill="#31a354" stroke="#333" stroke-width="0.45"/><text x="383.5" y="326.84">60-80</text>
<rect x="371.6" y="330.20" width="9.9" height="5.1" fill="#006837" stroke="#333" stroke-width="0.45"/><text x="383.5" y="334.60">80-100</text>
</g>
<path d="M129.26 504.3 v-7 M129.26 361.7 v7" stroke="#000" stroke-width="1.35" fill="none"/>
<rect x="98.34" y="488.97" width="13.1" height="15.33" fill="#0b6aae" stroke="#262626" stroke-width="0.5"/>
<rect x="114.59" y="483.73" width="13.1" height="20.57" fill="#d4541a" stroke="#262626" stroke-width="0.5"/>
<rect x="130.84" y="481.23" width="13.1" height="23.07" fill="#e7ac2b" stroke="#262626" stroke-width="0.5"/>
<rect x="147.09" y="478.99" width="13.1" height="25.31" fill="#7b2b8a" stroke="#262626" stroke-width="0.5"/>
<text transform="translate(129.86,511.1) rotate(-14)" text-anchor="end" dominant-baseline="hanging" font-size="10.67" fill="#404040">Global North</text>
<path d="M218.09 504.3 v-7 M218.09 361.7 v7" stroke="#000" stroke-width="1.35" fill="none"/>
<rect x="187.17" y="439.06" width="13.1" height="65.24" fill="#0b6aae" stroke="#262626" stroke-width="0.5"/>
<rect x="203.42" y="415.18" width="13.1" height="89.13" fill="#d4541a" stroke="#262626" stroke-width="0.5"/>
<rect x="219.67" y="401.27" width="13.1" height="103.03" fill="#e7ac2b" stroke="#262626" stroke-width="0.5"/>
<rect x="235.92" y="385.23" width="13.1" height="119.07" fill="#7b2b8a" stroke="#262626" stroke-width="0.5"/>
<text transform="translate(218.69,511.1) rotate(-14)" text-anchor="end" dominant-baseline="hanging" font-size="10.67" fill="#404040">Global South</text>
<path d="M351.33 504.3 v-7 M351.33 361.7 v7" stroke="#000" stroke-width="1.35" fill="none"/>
<rect x="320.41" y="485.05" width="13.1" height="19.25" fill="#0b6aae" stroke="#262626" stroke-width="0.5"/>
<rect x="336.66" y="478.63" width="13.1" height="25.67" fill="#d4541a" stroke="#262626" stroke-width="0.5"/>
<rect x="352.91" y="475.07" width="13.1" height="29.23" fill="#e7ac2b" stroke="#262626" stroke-width="0.5"/>
<rect x="369.16" y="472.04" width="13.1" height="32.26" fill="#7b2b8a" stroke="#262626" stroke-width="0.5"/>
<text transform="translate(351.93,511.1) rotate(-14)" text-anchor="end" dominant-baseline="hanging" font-size="10.67" fill="#404040">High income</text>
<path d="M440.16 504.3 v-7 M440.16 361.7 v7" stroke="#000" stroke-width="1.35" fill="none"/>
<rect x="409.24" y="471.50" width="13.1" height="32.80" fill="#0b6aae" stroke="#262626" stroke-width="0.5"/>
<rect x="425.49" y="460.56" width="13.1" height="43.74" fill="#d4541a" stroke="#262626" stroke-width="0.5"/>
<rect x="441.74" y="454.03" width="13.1" height="50.27" fill="#e7ac2b" stroke="#262626" stroke-width="0.5"/>
<rect x="457.99" y="446.55" width="13.1" height="57.75" fill="#7b2b8a" stroke="#262626" stroke-width="0.5"/>
<text transform="translate(440.76,511.1) rotate(-14)" text-anchor="end" dominant-baseline="hanging" font-size="10.67" fill="#404040">Upper middle income</text>
<path d="M528.99 504.3 v-7 M528.99 361.7 v7" stroke="#000" stroke-width="1.35" fill="none"/>
<rect x="498.07" y="478.63" width="13.1" height="25.67" fill="#0b6aae" stroke="#262626" stroke-width="0.5"/>
<rect x="514.32" y="469.54" width="13.1" height="34.76" fill="#d4541a" stroke="#262626" stroke-width="0.5"/>
<rect x="530.57" y="463.66" width="13.1" height="40.64" fill="#e7ac2b" stroke="#262626" stroke-width="0.5"/>
<rect x="546.82" y="457.60" width="13.1" height="46.70" fill="#7b2b8a" stroke="#262626" stroke-width="0.5"/>
<text transform="translate(529.59,511.1) rotate(-14)" text-anchor="end" dominant-baseline="hanging" font-size="10.67" fill="#404040">Lower middle income</text>
<path d="M617.82 504.3 v-7 M617.82 361.7 v7" stroke="#000" stroke-width="1.35" fill="none"/>
<rect x="586.89" y="502.62" width="13.1" height="1.68" fill="#0b6aae" stroke="#262626" stroke-width="0.5"/>
<rect x="603.14" y="501.45" width="13.1" height="2.85" fill="#d4541a" stroke="#262626" stroke-width="0.5"/>
<rect x="619.39" y="500.38" width="13.1" height="3.92" fill="#e7ac2b" stroke="#262626" stroke-width="0.5"/>
<rect x="635.64" y="499.17" width="13.1" height="5.13" fill="#7b2b8a" stroke="#262626" stroke-width="0.5"/>
<text transform="translate(618.42,511.1) rotate(-14)" text-anchor="end" dominant-baseline="hanging" font-size="10.67" fill="#404040">Low income</text>
<path d="M284.50 504.3 V361.7" stroke="#000" stroke-width="1.1" stroke-dasharray="5.6 4.6" fill="none"/>
<path d="M57.7 504.30 h7 M679.5 504.30 h-7" stroke="#000" stroke-width="1.35" fill="none"/>
<text x="53.7" y="507.90" text-anchor="end" font-size="10.2" fill="#262626">0</text>
<path d="M57.7 468.65 h7 M679.5 468.65 h-7" stroke="#000" stroke-width="1.35" fill="none"/>
<text x="53.7" y="472.25" text-anchor="end" font-size="10.2" fill="#262626">1</text>
<path d="M57.7 433.00 h7 M679.5 433.00 h-7" stroke="#000" stroke-width="1.35" fill="none"/>
<text x="53.7" y="436.60" text-anchor="end" font-size="10.2" fill="#262626">2</text>
<path d="M57.7 397.35 h7 M679.5 397.35 h-7" stroke="#000" stroke-width="1.35" fill="none"/>
<text x="53.7" y="400.95" text-anchor="end" font-size="10.2" fill="#262626">3</text>
<path d="M57.7 361.70 h7 M679.5 361.70 h-7" stroke="#000" stroke-width="1.35" fill="none"/>
<text x="53.7" y="365.30" text-anchor="end" font-size="10.2" fill="#262626">4</text>
<rect x="57.7" y="361.7" width="621.8" height="142.60000000000002" fill="none" stroke="#000" stroke-width="1.35"/>
<text transform="translate(42.3,433.00) rotate(-90)" text-anchor="middle" font-size="11.8" fill="#262626">Population (× 10<tspan dy="-4.5" font-size="8.2">9</tspan><tspan dy="4.5">)</tspan></text>
<rect x="560.4" y="366.7" width="21.6" height="9" fill="#1272b6" stroke="#262626" stroke-width="0.5"/>
<text x="583.6" y="375.3" font-size="10.67" fill="#000">10 min</text>
<rect x="621.7" y="366.7" width="21.6" height="9" fill="#dc5c1a" stroke="#262626" stroke-width="0.5"/>
<text x="644.9000000000001" y="375.3" font-size="10.67" fill="#000">15 min</text>
<rect x="560.4" y="379.2" width="21.6" height="9" fill="#efb520" stroke="#262626" stroke-width="0.5"/>
<text x="583.6" y="387.8" font-size="10.67" fill="#000">20 min</text>
<rect x="621.7" y="379.2" width="21.6" height="9" fill="#84378f" stroke="#262626" stroke-width="0.5"/>
<text x="644.9000000000001" y="387.8" font-size="10.67" fill="#000">30 min</text>
<path d="M138.05 706.3 v-7 M138.05 565.4 v7" stroke="#000" stroke-width="1.35" fill="none"/>
<rect x="107.12" y="626.27" width="13.1" height="80.03" fill="#0b6aae" stroke="#262626" stroke-width="0.5"/>
<rect x="123.37" y="599.08" width="13.1" height="107.22" fill="#d4541a" stroke="#262626" stroke-width="0.5"/>
<rect x="139.62" y="586.53" width="13.1" height="119.76" fill="#e7ac2b" stroke="#262626" stroke-width="0.5"/>
<rect x="155.87" y="575.97" width="13.1" height="130.33" fill="#7b2b8a" stroke="#262626" stroke-width="0.5"/>
<text transform="translate(138.65,713.0999999999999) rotate(-14)" text-anchor="end" dominant-baseline="hanging" font-size="10.67" fill="#404040">Global North</text>
<path d="M225.73 706.3 v-7 M225.73 565.4 v7" stroke="#000" stroke-width="1.35" fill="none"/>
<rect x="194.81" y="643.46" width="13.1" height="62.84" fill="#0b6aae" stroke="#262626" stroke-width="0.5"/>
<rect x="211.06" y="621.06" width="13.1" height="85.24" fill="#d4541a" stroke="#262626" stroke-width="0.5"/>
<rect x="227.31" y="606.97" width="13.1" height="99.33" fill="#e7ac2b" stroke="#262626" stroke-width="0.5"/>
<rect x="243.56" y="592.03" width="13.1" height="114.27" fill="#7b2b8a" stroke="#262626" stroke-width="0.5"/>
<text transform="translate(226.33,713.0999999999999) rotate(-14)" text-anchor="end" dominant-baseline="hanging" font-size="10.67" fill="#404040">Global South</text>
<path d="M357.26 706.3 v-7 M357.26 565.4 v7" stroke="#000" stroke-width="1.35" fill="none"/>
<rect x="326.34" y="631.06" width="13.1" height="75.24" fill="#0b6aae" stroke="#262626" stroke-width="0.5"/>
<rect x="342.59" y="604.01" width="13.1" height="102.29" fill="#d4541a" stroke="#262626" stroke-width="0.5"/>
<rect x="358.84" y="590.48" width="13.1" height="115.82" fill="#e7ac2b" stroke="#262626" stroke-width="0.5"/>
<rect x="375.09" y="579.07" width="13.1" height="127.23" fill="#7b2b8a" stroke="#262626" stroke-width="0.5"/>
<text transform="translate(357.86,713.0999999999999) rotate(-14)" text-anchor="end" dominant-baseline="hanging" font-size="10.67" fill="#404040">High income</text>
<path d="M444.95 706.3 v-7 M444.95 565.4 v7" stroke="#000" stroke-width="1.35" fill="none"/>
<rect x="414.02" y="639.51" width="13.1" height="66.79" fill="#0b6aae" stroke="#262626" stroke-width="0.5"/>
<rect x="430.27" y="616.55" width="13.1" height="89.75" fill="#d4541a" stroke="#262626" stroke-width="0.5"/>
<rect x="446.52" y="603.02" width="13.1" height="103.28" fill="#e7ac2b" stroke="#262626" stroke-width="0.5"/>
<rect x="462.77" y="589.07" width="13.1" height="117.23" fill="#7b2b8a" stroke="#262626" stroke-width="0.5"/>
<text transform="translate(445.55,713.0999999999999) rotate(-14)" text-anchor="end" dominant-baseline="hanging" font-size="10.67" fill="#404040">Upper middle income</text>
<path d="M532.63 706.3 v-7 M532.63 565.4 v7" stroke="#000" stroke-width="1.35" fill="none"/>
<rect x="501.71" y="643.04" width="13.1" height="63.26" fill="#0b6aae" stroke="#262626" stroke-width="0.5"/>
<rect x="517.96" y="620.49" width="13.1" height="85.81" fill="#d4541a" stroke="#262626" stroke-width="0.5"/>
<rect x="534.21" y="607.53" width="13.1" height="98.77" fill="#e7ac2b" stroke="#262626" stroke-width="0.5"/>
<rect x="550.46" y="592.03" width="13.1" height="114.27" fill="#7b2b8a" stroke="#262626" stroke-width="0.5"/>
<text transform="translate(533.23,713.0999999999999) rotate(-14)" text-anchor="end" dominant-baseline="hanging" font-size="10.67" fill="#404040">Lower middle income</text>
<path d="M620.32 706.3 v-7 M620.32 565.4 v7" stroke="#000" stroke-width="1.35" fill="none"/>
<rect x="589.40" y="679.95" width="13.1" height="26.35" fill="#0b6aae" stroke="#262626" stroke-width="0.5"/>
<rect x="605.65" y="661.35" width="13.1" height="44.95" fill="#d4541a" stroke="#262626" stroke-width="0.5"/>
<rect x="621.90" y="647.54" width="13.1" height="58.76" fill="#e7ac2b" stroke="#262626" stroke-width="0.5"/>
<rect x="638.15" y="628.24" width="13.1" height="78.06" fill="#7b2b8a" stroke="#262626" stroke-width="0.5"/>
<text transform="translate(620.92,713.0999999999999) rotate(-14)" text-anchor="end" dominant-baseline="hanging" font-size="10.67" fill="#404040">Low income</text>
<path d="M291.50 706.3 V565.4" stroke="#000" stroke-width="1.1" stroke-dasharray="5.5 4.56" fill="none"/>
<path d="M67.9 706.30 h7 M681.7 706.30 h-7" stroke="#000" stroke-width="1.35" fill="none"/>
<text x="63.900000000000006" y="709.90" text-anchor="end" font-size="10.2" fill="#262626">0</text>
<path d="M67.9 678.12 h7 M681.7 678.12 h-7" stroke="#000" stroke-width="1.35" fill="none"/>
<text x="63.900000000000006" y="681.72" text-anchor="end" font-size="10.2" fill="#262626">20</text>
<path d="M67.9 649.94 h7 M681.7 649.94 h-7" stroke="#000" stroke-width="1.35" fill="none"/>
<text x="63.900000000000006" y="653.54" text-anchor="end" font-size="10.2" fill="#262626">40</text>
<path d="M67.9 621.76 h7 M681.7 621.76 h-7" stroke="#000" stroke-width="1.35" fill="none"/>
<text x="63.900000000000006" y="625.36" text-anchor="end" font-size="10.2" fill="#262626">60</text>
<path d="M67.9 593.58 h7 M681.7 593.58 h-7" stroke="#000" stroke-width="1.35" fill="none"/>
<text x="63.900000000000006" y="597.18" text-anchor="end" font-size="10.2" fill="#262626">80</text>
<path d="M67.9 565.40 h7 M681.7 565.40 h-7" stroke="#000" stroke-width="1.35" fill="none"/>
<text x="63.900000000000006" y="569.00" text-anchor="end" font-size="10.2" fill="#262626">100</text>
<rect x="67.9" y="565.4" width="613.8000000000001" height="140.89999999999998" fill="none" stroke="#000" stroke-width="1.35"/>
<text transform="translate(41.1,635.85) rotate(-90)" text-anchor="middle" font-size="11.8" fill="#262626">Population proportion (%)</text>
<rect x="564.1" y="568.7" width="21.6" height="9" fill="#1272b6" stroke="#262626" stroke-width="0.5"/>
<text x="587.3000000000001" y="577.3000000000001" font-size="10.67" fill="#000">10 min</text>
<rect x="625.2" y="568.7" width="21.6" height="9" fill="#dc5c1a" stroke="#262626" stroke-width="0.5"/>
<text x="648.4000000000001" y="577.3000000000001" font-size="10.67" fill="#000">15 min</text>
<rect x="564.1" y="581.2" width="21.6" height="9" fill="#efb520" stroke="#262626" stroke-width="0.5"/>
<text x="587.3000000000001" y="589.8000000000001" font-size="10.67" fill="#000">20 min</text>
<rect x="625.2" y="581.2" width="21.6" height="9" fill="#84378f" stroke="#262626" stroke-width="0.5"/>
<text x="648.4000000000001" y="589.8000000000001" font-size="10.67" fill="#000">30 min</text>
<text x="20.3" y="12.3" font-size="16.8" font-weight="bold" fill="#111">a</text><text x="347.5" y="11.8" font-size="16.8" font-weight="bold" fill="#111">b</text><text x="20.3" y="192.6" font-size="16.8" font-weight="bold" fill="#111">c</text><text x="347.4" y="192.5" font-size="16.8" font-weight="bold" fill="#111">d</text><text x="20.2" y="357.4" font-size="16.8" font-weight="bold" fill="#111">e</text><text x="24.0" y="556.6" font-size="16.8" font-weight="bold" fill="#111">f</text>
</svg>
</body></html>
